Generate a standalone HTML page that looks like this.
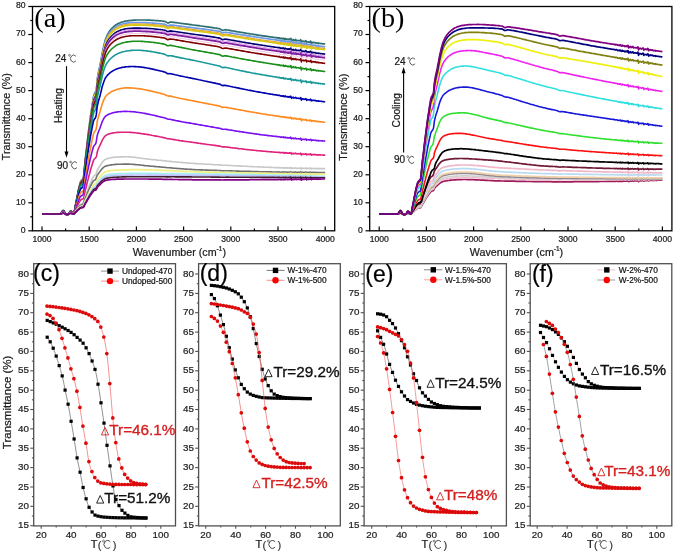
<!DOCTYPE html>
<html><head><meta charset="utf-8"><title>figure</title>
<style>html,body{margin:0;padding:0;background:#fff;overflow:hidden}svg{display:block;will-change:transform}</style>
</head><body>
<svg width="675" height="555" viewBox="0 0 675 555">
<rect width="675" height="555" fill="#fff"/>
<polyline points="42,214 42.9,214 43.9,214 44.8,214 45.8,214 46.7,214 47.7,214 48.6,214 49.6,214 50.5,214 51.4,214 52.4,214 53.3,214 54.3,214 55.2,214 56.2,214 57.1,214 58,214 59,214 59.9,214 60.9,213.7 61.8,212.5 62.8,210.7 63.7,210.7 64.7,212.7 65.6,214.1 66.5,214.7 67.5,214.7 68.4,214.3 69.4,213.2 70.3,211.3 71.3,211.3 72.2,213 73.2,213.9 74.1,213.5 75,208.2 75.5,205.4 76,202.9 76.5,200.4 76.9,197.9 77.4,195.5 77.9,193.1 78.3,190.7 78.8,188.4 79.3,186.3 79.8,184.4 80.2,182.7 80.7,181.4 81.2,180.6 81.6,180.1 82.1,179.6 82.6,179.2 83.1,178.7 83.5,177.6 84,173.2 84.5,167.9 85,162.4 85.4,158.1 85.9,154.2 86.4,150.3 86.8,146.2 87.3,141.9 87.8,137.7 88.3,133.7 88.7,129.9 89.2,126.2 89.7,122.6 90.1,119.1 90.6,115.7 91.1,112.3 91.6,109.1 92,106.1 92.5,103.1 93,100.1 93.4,97.4 93.9,95.2 94.4,93.8 94.9,92.9 95.3,92.1 95.8,91.2 96.3,89.7 96.8,85.4 97.2,80.1 97.7,76.7 98.2,73.9 98.6,71.6 99.1,69.4 99.6,67.3 100.1,65.1 100.5,62.7 101,60.2 101.5,57.5 101.9,54.9 102.4,52.3 102.9,49.9 103.4,47.7 103.8,45.7 104.3,43.7 104.8,41.9 105.2,40.2 105.7,38.8 106.2,37.5 106.7,36.4 107.1,35.3 107.6,34.4 108.1,33.5 108.6,32.7 109,32 109.5,31.3 110,30.6 110.4,30 110.9,29.4 111.4,28.9 111.9,28.4 112.3,27.9 112.8,27.5 113.3,27 113.7,26.6 114.2,26.2 114.7,25.8 115.2,25.5 115.6,25.1 116.1,24.8 116.6,24.5 117,24.2 117.5,23.9 118.7,23.4 119.8,22.9 120.9,22.4 122.1,22 123.2,21.7 124.3,21.4 125.4,21.2 126.6,21 127.7,20.8 128.8,20.6 130,20.5 131.1,20.4 132.2,20.3 133.4,20.2 134.5,20.1 135.6,20.1 136.8,20 137.9,20 139,20 140.2,20 141.3,20 142.4,20 143.6,20 144.7,20 145.8,20 147,20.1 148.1,20.1 149.2,20.1 150.4,20.2 151.5,20.3 152.6,20.3 153.8,20.4 154.9,20.5 156,20.6 157.2,20.6 158.3,20.7 159.4,20.8 160.6,20.9 161.7,21 162.8,21.1 164,21.3 165.1,21.5 166.2,22.1 167.4,22.9 168.5,22.9 169.6,22.3 170.8,22.1 171.9,22.2 173,22.3 174.2,22.4 175.3,22.6 176.4,22.7 177.6,22.9 178.7,23 179.8,23.2 181,23.3 182.1,23.5 183.2,23.6 184.4,23.8 185.5,23.9 186.6,24.1 187.8,24.2 188.9,24.4 190,24.6 191.2,24.7 192.3,24.9 193.4,25 194.6,25.2 195.7,25.3 196.8,25.4 197.9,25.6 199.1,25.7 200.2,25.9 201.3,26 202.5,26.2 203.6,26.3 204.7,26.5 205.9,26.6 207,26.8 208.1,26.9 209.3,27.1 210.4,27.3 211.5,27.4 212.7,27.6 213.8,27.8 214.9,28 216.1,28.1 217.2,28.3 218.3,28.5 219.5,28.7 220.6,29.2 221.7,30 222.9,30.4 224,30 225.1,29.7 226.3,29.8 227.4,30 228.5,30.2 229.7,30.4 230.8,30.6 231.9,30.8 233.1,31 234.2,31.2 235.3,31.4 236.5,31.6 237.6,31.8 238.7,32 239.9,32.1 241,32.3 242.1,32.5 243.3,32.7 244.4,32.9 245.5,33.1 246.7,33.3 247.8,33.5 248.9,33.7 250.1,33.9 251.2,34 252.3,34.2 253.5,34.4 254.6,34.6 255.7,34.7 256.9,34.9 258,35.1 259.1,35.3 260.3,35.4 261.4,35.6 262.5,35.8 263.7,35.9 264.8,36.1 265.9,36.2 267,36.4 268.2,36.6 268.6,36.6 268.9,36.7 269.3,36.7 269.7,36.8 270.1,36.8 270.4,36.9 270.8,36.9 271.2,37 271.6,37 272,37.1 272.3,37.2 272.7,37.2 273.1,37.3 273.5,37.3 273.8,37.4 274.2,37.4 274.6,37.5 275,37.5 275.4,37.6 275.7,37.6 276.1,37.7 276.5,37.5 276.9,37.8 277.2,37.8 277.6,37.8 278,38.1 278.4,38.1 278.8,37.8 279.1,37.9 279.5,37.8 279.9,38.1 280.3,38.7 280.6,38.4 281,38.5 281.4,38.4 281.8,38.8 282.2,38.3 282.5,38.7 282.9,38.7 283.3,38.1 283.7,38.8 284,39.4 284.4,39.3 284.8,38.8 285.2,38.3 285.6,39.2 285.9,39 286.3,39.1 286.7,38.9 287.1,39 287.4,39.5 287.8,39.7 288.2,39.5 288.6,39.1 289,39.6 289.3,39.5 289.7,39 290.1,39.7 290.5,39.3 290.8,38.3 291.2,39.8 291.6,41 292,40.4 292.3,40.1 292.7,39.9 293.1,39.5 293.5,39.8 293.9,40.6 294.2,40.2 294.6,40.4 295,40.1 295.4,39.7 295.7,39.5 296.1,40.8 296.5,40.9 296.9,40.6 297.3,40.6 297.6,40.5 298,40.4 298.4,40.6 298.8,40.8 299.1,40.6 299.5,40.8 299.9,40.9 300.3,40.8 300.7,39.7 301,40.6 301.4,43 301.8,41.8 302.2,41.2 302.5,41.3 302.9,41.1 303.3,41.3 303.7,41.3 304.1,41.9 304.4,41.5 304.8,41.4 305.2,41.3 305.6,41 305.9,40.7 306.3,41.9 306.7,42.9 307.1,42 307.5,41.9 307.8,41.8 308.2,42 308.6,42 309,42.3 309.3,42 309.7,42.2 310.1,42 310.5,41.2 310.9,41.5 311.2,43.2 311.6,43.4 312,42.5 312.4,42.4 312.7,42.6 313.1,42.7 313.5,42.3 313.9,42.7 314.2,42.6 314.6,42.7 315,42.7 315.4,42.5 315.8,42.9 316.1,43.4 316.5,43.1 316.9,43.3 317.3,43.2 317.6,43.2 318,42.9 318.4,43.7 318.8,43.3 319.2,43.3 319.5,43.4 319.9,43.4 320.3,43.5 320.7,43.5 321,43.6 321.4,43.6 321.8,43.7 322.2,43.7 322.6,43.8 322.9,43.8 323.3,43.8 323.7,43.9 324.1,43.9 324.4,44 324.8,44 325.2,44.1" fill="none" stroke="#2f6f6f" stroke-width="1.7" stroke-linejoin="round"/>
<polyline points="42,214 42.9,214 43.9,214 44.8,214 45.8,214 46.7,214 47.7,214 48.6,214 49.6,214 50.5,214 51.4,214 52.4,214 53.3,214 54.3,214 55.2,214 56.2,214 57.1,214 58,214 59,214 59.9,214 60.9,213.7 61.8,212.5 62.8,210.7 63.7,210.7 64.7,212.7 65.6,214.1 66.5,214.7 67.5,214.7 68.4,214.3 69.4,213.2 70.3,211.3 71.3,211.3 72.2,213 73.2,213.9 74.1,213.6 75,208.3 75.5,205.5 76,203 76.5,200.5 76.9,198 77.4,195.6 77.9,193.3 78.3,190.9 78.8,188.6 79.3,186.5 79.8,184.7 80.2,183 80.7,181.7 81.2,180.9 81.6,180.4 82.1,179.9 82.6,179.5 83.1,179 83.5,177.9 84,173.5 84.5,168.3 85,162.9 85.4,158.6 85.9,154.7 86.4,150.9 86.8,146.8 87.3,142.5 87.8,138.3 88.3,134.4 88.7,130.6 89.2,127 89.7,123.4 90.1,119.9 90.6,116.5 91.1,113.2 91.6,110 92,107 92.5,104.1 93,101.1 93.4,98.4 93.9,96.2 94.4,94.9 94.9,94 95.3,93.2 95.8,92.2 96.3,90.8 96.8,86.5 97.2,81.3 97.7,77.9 98.2,75.2 98.6,72.8 99.1,70.7 99.6,68.6 100.1,66.4 100.5,64 101,61.5 101.5,58.9 101.9,56.3 102.4,53.8 102.9,51.4 103.4,49.2 103.8,47.2 104.3,45.2 104.8,43.4 105.2,41.8 105.7,40.3 106.2,39.1 106.7,38 107.1,36.9 107.6,35.9 108.1,35.1 108.6,34.3 109,33.6 109.5,32.9 110,32.3 110.4,31.7 110.9,31.1 111.4,30.6 111.9,30.1 112.3,29.7 112.8,29.2 113.3,28.8 113.7,28.4 114.2,28 114.7,27.7 115.2,27.3 115.6,27 116.1,26.6 116.6,26.3 117,26.1 117.5,25.8 118.7,25.3 119.8,24.8 120.9,24.4 122.1,24.1 123.2,23.7 124.3,23.5 125.4,23.3 126.6,23.1 127.7,23 128.8,22.8 130,22.7 131.1,22.6 132.2,22.6 133.4,22.5 134.5,22.5 135.6,22.5 136.8,22.5 137.9,22.5 139,22.5 140.2,22.5 141.3,22.5 142.4,22.6 143.6,22.6 144.7,22.7 145.8,22.7 147,22.8 148.1,22.8 149.2,22.9 150.4,23 151.5,23 152.6,23.1 153.8,23.2 154.9,23.3 156,23.4 157.2,23.5 158.3,23.6 159.4,23.7 160.6,23.8 161.7,23.9 162.8,24 164,24.2 165.1,24.4 166.2,25 167.4,25.8 168.5,25.8 169.6,25.2 170.8,25 171.9,25.1 173,25.2 174.2,25.3 175.3,25.5 176.4,25.6 177.6,25.8 178.7,25.9 179.8,26.1 181,26.2 182.1,26.4 183.2,26.5 184.4,26.7 185.5,26.8 186.6,27 187.8,27.1 188.9,27.3 190,27.4 191.2,27.6 192.3,27.7 193.4,27.8 194.6,28 195.7,28.1 196.8,28.3 197.9,28.4 199.1,28.5 200.2,28.7 201.3,28.8 202.5,28.9 203.6,29.1 204.7,29.2 205.9,29.4 207,29.5 208.1,29.7 209.3,29.8 210.4,30 211.5,30.1 212.7,30.3 213.8,30.5 214.9,30.6 216.1,30.8 217.2,31 218.3,31.1 219.5,31.3 220.6,31.8 221.7,32.6 222.9,32.9 224,32.5 225.1,32.3 226.3,32.4 227.4,32.5 228.5,32.7 229.7,32.9 230.8,33.1 231.9,33.2 233.1,33.4 234.2,33.6 235.3,33.8 236.5,34 237.6,34.1 238.7,34.3 239.9,34.5 241,34.7 242.1,34.9 243.3,35.1 244.4,35.2 245.5,35.4 246.7,35.6 247.8,35.8 248.9,35.9 250.1,36.1 251.2,36.3 252.3,36.5 253.5,36.7 254.6,36.8 255.7,37 256.9,37.2 258,37.3 259.1,37.5 260.3,37.7 261.4,37.8 262.5,38 263.7,38.2 264.8,38.3 265.9,38.5 267,38.7 268.2,38.8 268.6,38.9 268.9,38.9 269.3,39 269.7,39 270.1,39.1 270.4,39.1 270.8,39.2 271.2,39.3 271.6,39.3 272,39.4 272.3,39.4 272.7,39.5 273.1,39.5 273.5,39.6 273.8,39.6 274.2,39.7 274.6,39.7 275,39.8 275.4,39.9 275.7,39.9 276.1,40 276.5,39.8 276.9,40 277.2,40.1 277.6,40.1 278,40.4 278.4,40.4 278.8,40.1 279.1,40.2 279.5,40.1 279.9,40.4 280.3,41 280.6,40.7 281,40.8 281.4,40.7 281.8,41.1 282.2,40.6 282.5,41 282.9,41 283.3,40.4 283.7,41.1 284,41.7 284.4,41.6 284.8,41.2 285.2,40.6 285.6,41.5 285.9,41.3 286.3,41.5 286.7,41.3 287.1,41.4 287.4,41.8 287.8,42.1 288.2,41.9 288.6,41.5 289,41.9 289.3,41.8 289.7,41.4 290.1,42.1 290.5,41.7 290.8,40.7 291.2,42.1 291.6,43.4 292,42.7 292.3,42.4 292.7,42.3 293.1,41.9 293.5,42.2 293.9,43 294.2,42.6 294.6,42.8 295,42.5 295.4,42.1 295.7,41.9 296.1,43.2 296.5,43.3 296.9,43 297.3,43 297.6,43 298,42.9 298.4,43 298.8,43.3 299.1,43 299.5,43.3 299.9,43.4 300.3,43.2 300.7,42.1 301,43.1 301.4,45.4 301.8,44.3 302.2,43.6 302.5,43.8 302.9,43.6 303.3,43.8 303.7,43.8 304.1,44.4 304.4,44 304.8,43.9 305.2,43.8 305.6,43.5 305.9,43.2 306.3,44.5 306.7,45.4 307.1,44.5 307.5,44.4 307.8,44.3 308.2,44.5 308.6,44.5 309,44.9 309.3,44.6 309.7,44.8 310.1,44.6 310.5,43.8 310.9,44.1 311.2,45.7 311.6,46 312,45 312.4,45 312.7,45.3 313.1,45.3 313.5,45 313.9,45.3 314.2,45.2 314.6,45.3 315,45.4 315.4,45.2 315.8,45.6 316.1,46.1 316.5,45.8 316.9,46 317.3,45.9 317.6,45.9 318,45.6 318.4,46.4 318.8,46 319.2,46 319.5,46.1 319.9,46.2 320.3,46.2 320.7,46.3 321,46.3 321.4,46.4 321.8,46.4 322.2,46.5 322.6,46.5 322.9,46.6 323.3,46.6 323.7,46.7 324.1,46.7 324.4,46.8 324.8,46.8 325.2,46.9" fill="none" stroke="#6a9ae8" stroke-width="1.7" stroke-linejoin="round"/>
<polyline points="42,214 42.9,214 43.9,214 44.8,214 45.8,214 46.7,214 47.7,214 48.6,214 49.6,214 50.5,214 51.4,214 52.4,214 53.3,214 54.3,214 55.2,214 56.2,214 57.1,214 58,214 59,214 59.9,214 60.9,213.7 61.8,212.5 62.8,210.7 63.7,210.7 64.7,212.7 65.6,214.1 66.5,214.7 67.5,214.7 68.4,214.3 69.4,213.2 70.3,211.3 71.3,211.3 72.2,213 73.2,213.9 74.1,213.6 75,208.3 75.5,205.5 76,203.1 76.5,200.6 76.9,198.2 77.4,195.8 77.9,193.4 78.3,191 78.8,188.8 79.3,186.7 79.8,184.9 80.2,183.2 80.7,181.9 81.2,181.2 81.6,180.6 82.1,180.1 82.6,179.7 83.1,179.3 83.5,178.2 84,173.8 84.5,168.6 85,163.2 85.4,159 85.9,155.2 86.4,151.4 86.8,147.3 87.3,143 87.8,138.9 88.3,135 88.7,131.3 89.2,127.6 89.7,124.1 90.1,120.6 90.6,117.2 91.1,113.9 91.6,110.8 92,107.8 92.5,104.9 93,101.9 93.4,99.2 93.9,97.1 94.4,95.7 94.9,94.9 95.3,94.1 95.8,93.1 96.3,91.7 96.8,87.5 97.2,82.3 97.7,78.9 98.2,76.2 98.6,73.9 99.1,71.7 99.6,69.6 100.1,67.5 100.5,65.2 101,62.6 101.5,60.1 101.9,57.5 102.4,55 102.9,52.6 103.4,50.4 103.8,48.4 104.3,46.5 104.8,44.7 105.2,43.1 105.7,41.6 106.2,40.4 106.7,39.3 107.1,38.2 107.6,37.3 108.1,36.4 108.6,35.6 109,34.9 109.5,34.3 110,33.6 110.4,33 110.9,32.5 111.4,32 111.9,31.5 112.3,31 112.8,30.6 113.3,30.2 113.7,29.8 114.2,29.4 114.7,29 115.2,28.7 115.6,28.3 116.1,28 116.6,27.7 117,27.4 117.5,27.2 118.7,26.7 119.8,26.2 120.9,25.8 122.1,25.4 123.2,25.1 124.3,24.9 125.4,24.7 126.6,24.5 127.7,24.4 128.8,24.2 130,24.1 131.1,24 132.2,24 133.4,23.9 134.5,23.9 135.6,23.9 136.8,23.9 137.9,23.9 139,23.9 140.2,23.9 141.3,24 142.4,24 143.6,24 144.7,24.1 145.8,24.1 147,24.2 148.1,24.2 149.2,24.3 150.4,24.4 151.5,24.5 152.6,24.6 153.8,24.6 154.9,24.7 156,24.8 157.2,24.9 158.3,25 159.4,25.2 160.6,25.3 161.7,25.4 162.8,25.5 164,25.6 165.1,25.9 166.2,26.5 167.4,27.3 168.5,27.2 169.6,26.7 170.8,26.5 171.9,26.6 173,26.7 174.2,26.9 175.3,27 176.4,27.2 177.6,27.3 178.7,27.5 179.8,27.6 181,27.8 182.1,28 183.2,28.1 184.4,28.3 185.5,28.4 186.6,28.6 187.8,28.7 188.9,28.9 190,29 191.2,29.2 192.3,29.3 193.4,29.5 194.6,29.6 195.7,29.8 196.8,29.9 197.9,30.1 199.1,30.2 200.2,30.4 201.3,30.5 202.5,30.6 203.6,30.8 204.7,30.9 205.9,31.1 207,31.2 208.1,31.4 209.3,31.6 210.4,31.7 211.5,31.9 212.7,32.1 213.8,32.2 214.9,32.4 216.1,32.6 217.2,32.7 218.3,32.9 219.5,33.1 220.6,33.6 221.7,34.4 222.9,34.7 224,34.3 225.1,34.1 226.3,34.2 227.4,34.4 228.5,34.6 229.7,34.7 230.8,34.9 231.9,35.1 233.1,35.3 234.2,35.5 235.3,35.7 236.5,35.9 237.6,36 238.7,36.2 239.9,36.4 241,36.6 242.1,36.8 243.3,37 244.4,37.2 245.5,37.3 246.7,37.5 247.8,37.7 248.9,37.9 250.1,38.1 251.2,38.3 252.3,38.4 253.5,38.6 254.6,38.8 255.7,39 256.9,39.1 258,39.3 259.1,39.5 260.3,39.6 261.4,39.8 262.5,40 263.7,40.1 264.8,40.3 265.9,40.5 267,40.6 268.2,40.8 268.6,40.8 268.9,40.9 269.3,40.9 269.7,41 270.1,41 270.4,41.1 270.8,41.2 271.2,41.2 271.6,41.3 272,41.3 272.3,41.4 272.7,41.4 273.1,41.5 273.5,41.5 273.8,41.6 274.2,41.6 274.6,41.7 275,41.7 275.4,41.8 275.7,41.9 276.1,41.9 276.5,41.8 276.9,42 277.2,42 277.6,42 278,42.4 278.4,42.4 278.8,42 279.1,42.1 279.5,42.1 279.9,42.4 280.3,43 280.6,42.6 281,42.7 281.4,42.6 281.8,43 282.2,42.5 282.5,42.9 282.9,42.9 283.3,42.3 283.7,43 284,43.6 284.4,43.5 284.8,43.1 285.2,42.5 285.6,43.5 285.9,43.2 286.3,43.4 286.7,43.2 287.1,43.3 287.4,43.7 287.8,44 288.2,43.8 288.6,43.4 289,43.8 289.3,43.7 289.7,43.3 290.1,44 290.5,43.6 290.8,42.6 291.2,44 291.6,45.3 292,44.6 292.3,44.3 292.7,44.2 293.1,43.8 293.5,44.1 293.9,44.9 294.2,44.5 294.6,44.6 295,44.4 295.4,44 295.7,43.8 296.1,45 296.5,45.2 296.9,44.9 297.3,44.9 297.6,44.8 298,44.7 298.4,44.9 298.8,45.1 299.1,44.9 299.5,45.1 299.9,45.2 300.3,45.1 300.7,44 301,44.9 301.4,47.3 301.8,46.2 302.2,45.5 302.5,45.6 302.9,45.4 303.3,45.6 303.7,45.7 304.1,46.2 304.4,45.9 304.8,45.8 305.2,45.6 305.6,45.4 305.9,45 306.3,46.3 306.7,47.3 307.1,46.4 307.5,46.2 307.8,46.1 308.2,46.4 308.6,46.3 309,46.7 309.3,46.4 309.7,46.6 310.1,46.4 310.5,45.6 310.9,45.9 311.2,47.5 311.6,47.8 312,46.8 312.4,46.8 312.7,47 313.1,47.1 313.5,46.7 313.9,47.1 314.2,47 314.6,47.1 315,47.2 315.4,46.9 315.8,47.3 316.1,47.8 316.5,47.5 316.9,47.7 317.3,47.6 317.6,47.6 318,47.4 318.4,48.1 318.8,47.7 319.2,47.8 319.5,47.8 319.9,47.9 320.3,47.9 320.7,48 321,48 321.4,48.1 321.8,48.1 322.2,48.2 322.6,48.2 322.9,48.3 323.3,48.3 323.7,48.4 324.1,48.4 324.4,48.5 324.8,48.5 325.2,48.6" fill="none" stroke="#e8a040" stroke-width="1.2" stroke-linejoin="round"/>
<polyline points="42,214 42.9,214 43.9,214 44.8,214 45.8,214 46.7,214 47.7,214 48.6,214 49.6,214 50.5,214 51.4,214 52.4,214 53.3,214 54.3,214 55.2,214 56.2,214 57.1,214 58,214 59,214 59.9,214 60.9,213.7 61.8,212.5 62.8,210.7 63.7,210.7 64.7,212.7 65.6,214.1 66.5,214.7 67.5,214.7 68.4,214.3 69.4,213.2 70.3,211.3 71.3,211.3 72.2,213 73.2,213.9 74.1,213.6 75,208.4 75.5,205.6 76,203.2 76.5,200.7 76.9,198.2 77.4,195.9 77.9,193.5 78.3,191.2 78.8,188.9 79.3,186.9 79.8,185.1 80.2,183.4 80.7,182.1 81.2,181.4 81.6,180.8 82.1,180.3 82.6,179.9 83.1,179.5 83.5,178.4 84,174.1 84.5,168.9 85,163.5 85.4,159.3 85.9,155.5 86.4,151.7 86.8,147.7 87.3,143.5 87.8,139.4 88.3,135.5 88.7,131.8 89.2,128.1 89.7,124.6 90.1,121.2 90.6,117.8 91.1,114.5 91.6,111.4 92,108.5 92.5,105.5 93,102.6 93.4,99.9 93.9,97.8 94.4,96.4 94.9,95.6 95.3,94.8 95.8,93.9 96.3,92.4 96.8,88.2 97.2,83.1 97.7,79.7 98.2,77 98.6,74.7 99.1,72.6 99.6,70.5 100.1,68.4 100.5,66 101,63.5 101.5,61 101.9,58.4 102.4,55.9 102.9,53.5 103.4,51.4 103.8,49.4 104.3,47.5 104.8,45.7 105.2,44.1 105.7,42.7 106.2,41.4 106.7,40.3 107.1,39.3 107.6,38.3 108.1,37.5 108.6,36.7 109,36 109.5,35.3 110,34.7 110.4,34.1 110.9,33.6 111.4,33.1 111.9,32.6 112.3,32.1 112.8,31.7 113.3,31.3 113.7,30.9 114.2,30.5 114.7,30.1 115.2,29.8 115.6,29.4 116.1,29.1 116.6,28.8 117,28.5 117.5,28.3 118.7,27.8 119.8,27.3 120.9,26.9 122.1,26.6 123.2,26.3 124.3,26 125.4,25.8 126.6,25.6 127.7,25.5 128.8,25.3 130,25.2 131.1,25.1 132.2,25.1 133.4,25 134.5,25 135.6,25 136.8,25 137.9,25 139,25 140.2,25 141.3,25.1 142.4,25.1 143.6,25.1 144.7,25.2 145.8,25.2 147,25.3 148.1,25.4 149.2,25.4 150.4,25.5 151.5,25.6 152.6,25.7 153.8,25.8 154.9,25.9 156,26 157.2,26.1 158.3,26.2 159.4,26.3 160.6,26.4 161.7,26.5 162.8,26.6 164,26.8 165.1,27 166.2,27.6 167.4,28.4 168.5,28.4 169.6,27.8 170.8,27.6 171.9,27.7 173,27.9 174.2,28 175.3,28.2 176.4,28.3 177.6,28.5 178.7,28.6 179.8,28.8 181,28.9 182.1,29.1 183.2,29.2 184.4,29.4 185.5,29.5 186.6,29.7 187.8,29.8 188.9,30 190,30.2 191.2,30.3 192.3,30.5 193.4,30.6 194.6,30.8 195.7,30.9 196.8,31.1 197.9,31.2 199.1,31.3 200.2,31.5 201.3,31.6 202.5,31.8 203.6,31.9 204.7,32.1 205.9,32.2 207,32.4 208.1,32.5 209.3,32.7 210.4,32.8 211.5,33 212.7,33.2 213.8,33.3 214.9,33.5 216.1,33.7 217.2,33.9 218.3,34 219.5,34.3 220.6,34.7 221.7,35.5 222.9,35.9 224,35.5 225.1,35.2 226.3,35.3 227.4,35.5 228.5,35.7 229.7,35.9 230.8,36 231.9,36.2 233.1,36.4 234.2,36.6 235.3,36.8 236.5,37 237.6,37.2 238.7,37.4 239.9,37.5 241,37.7 242.1,37.9 243.3,38.1 244.4,38.3 245.5,38.5 246.7,38.7 247.8,38.8 248.9,39 250.1,39.2 251.2,39.4 252.3,39.6 253.5,39.7 254.6,39.9 255.7,40.1 256.9,40.3 258,40.4 259.1,40.6 260.3,40.8 261.4,40.9 262.5,41.1 263.7,41.2 264.8,41.4 265.9,41.6 267,41.7 268.2,41.9 268.6,42 268.9,42 269.3,42.1 269.7,42.1 270.1,42.2 270.4,42.2 270.8,42.3 271.2,42.3 271.6,42.4 272,42.4 272.3,42.5 272.7,42.5 273.1,42.6 273.5,42.7 273.8,42.7 274.2,42.8 274.6,42.8 275,42.9 275.4,42.9 275.7,43 276.1,43 276.5,42.9 276.9,43.1 277.2,43.1 277.6,43.1 278,43.5 278.4,43.5 278.8,43.1 279.1,43.3 279.5,43.2 279.9,43.5 280.3,44.1 280.6,43.8 281,43.9 281.4,43.7 281.8,44.1 282.2,43.6 282.5,44 282.9,44 283.3,43.5 283.7,44.2 284,44.7 284.4,44.6 284.8,44.2 285.2,43.7 285.6,44.6 285.9,44.4 286.3,44.5 286.7,44.3 287.1,44.4 287.4,44.8 287.8,45.1 288.2,44.9 288.6,44.5 289,45 289.3,44.9 289.7,44.4 290.1,45.1 290.5,44.7 290.8,43.7 291.2,45.2 291.6,46.4 292,45.7 292.3,45.5 292.7,45.3 293.1,44.9 293.5,45.2 293.9,46 294.2,45.6 294.6,45.8 295,45.5 295.4,45.2 295.7,44.9 296.1,46.2 296.5,46.3 296.9,46 297.3,46 297.6,46 298,45.9 298.4,46 298.8,46.2 299.1,46 299.5,46.3 299.9,46.3 300.3,46.2 300.7,45.1 301,46.1 301.4,48.4 301.8,47.3 302.2,46.6 302.5,46.7 302.9,46.6 303.3,46.7 303.7,46.8 304.1,47.3 304.4,47 304.8,46.9 305.2,46.8 305.6,46.5 305.9,46.2 306.3,47.4 306.7,48.4 307.1,47.5 307.5,47.4 307.8,47.2 308.2,47.5 308.6,47.5 309,47.8 309.3,47.5 309.7,47.7 310.1,47.5 310.5,46.7 310.9,47 311.2,48.6 311.6,48.9 312,48 312.4,47.9 312.7,48.2 313.1,48.2 313.5,47.9 313.9,48.2 314.2,48.1 314.6,48.2 315,48.3 315.4,48 315.8,48.4 316.1,49 316.5,48.6 316.9,48.8 317.3,48.8 317.6,48.7 318,48.5 318.4,49.2 318.8,48.9 319.2,48.9 319.5,49 319.9,49 320.3,49 320.7,49.1 321,49.1 321.4,49.2 321.8,49.2 322.2,49.3 322.6,49.3 322.9,49.4 323.3,49.4 323.7,49.5 324.1,49.5 324.4,49.6 324.8,49.6 325.2,49.7" fill="none" stroke="#d8c818" stroke-width="1.8" stroke-linejoin="round"/>
<polyline points="42,214 42.9,214 43.9,214 44.8,214 45.8,214 46.7,214 47.7,214 48.6,214 49.6,214 50.5,214 51.4,214 52.4,214 53.3,214 54.3,214 55.2,214 56.2,214 57.1,214 58,214 59,214 59.9,214 60.9,213.7 61.8,212.5 62.8,210.7 63.7,210.7 64.7,212.7 65.6,214.1 66.5,214.7 67.5,214.7 68.4,214.3 69.4,213.2 70.3,211.3 71.3,211.3 72.2,213 73.2,213.9 74.1,213.6 75,208.5 75.5,205.7 76,203.4 76.5,200.9 76.9,198.5 77.4,196.2 77.9,193.9 78.3,191.6 78.8,189.4 79.3,187.4 79.8,185.6 80.2,184 80.7,182.7 81.2,182 81.6,181.4 82.1,180.9 82.6,180.6 83.1,180.1 83.5,179.1 84,174.8 84.5,169.7 85,164.4 85.4,160.3 85.9,156.6 86.4,152.9 86.8,148.9 87.3,144.7 87.8,140.7 88.3,136.9 88.7,133.2 89.2,129.7 89.7,126.2 90.1,122.9 90.6,119.6 91.1,116.3 91.6,113.2 92,110.4 92.5,107.5 93,104.6 93.4,102 93.9,99.9 94.4,98.6 94.9,97.7 95.3,96.9 95.8,96 96.3,94.6 96.8,90.5 97.2,85.4 97.7,82.1 98.2,79.5 98.6,77.2 99.1,75.1 99.6,73.1 100.1,71 100.5,68.7 101,66.3 101.5,63.7 101.9,61.2 102.4,58.8 102.9,56.4 103.4,54.3 103.8,52.4 104.3,50.5 104.8,48.7 105.2,47.1 105.7,45.8 106.2,44.6 106.7,43.4 107.1,42.4 107.6,41.5 108.1,40.7 108.6,39.9 109,39.2 109.5,38.5 110,37.9 110.4,37.3 110.9,36.8 111.4,36.3 111.9,35.8 112.3,35.3 112.8,34.9 113.3,34.5 113.7,34.1 114.2,33.7 114.7,33.3 115.2,33 115.6,32.6 116.1,32.3 116.6,32 117,31.7 117.5,31.5 118.7,31 119.8,30.5 120.9,30.1 122.1,29.7 123.2,29.4 124.3,29.1 125.4,28.9 126.6,28.8 127.7,28.6 128.8,28.5 130,28.3 131.1,28.2 132.2,28.2 133.4,28.1 134.5,28.1 135.6,28.1 136.8,28.1 137.9,28.1 139,28.1 140.2,28.1 141.3,28.2 142.4,28.2 143.6,28.2 144.7,28.3 145.8,28.4 147,28.4 148.1,28.5 149.2,28.6 150.4,28.6 151.5,28.7 152.6,28.8 153.8,28.9 154.9,29 156,29.1 157.2,29.2 158.3,29.4 159.4,29.5 160.6,29.6 161.7,29.7 162.8,29.9 164,30 165.1,30.3 166.2,30.9 167.4,31.6 168.5,31.6 169.6,31.1 170.8,30.9 171.9,31.1 173,31.2 174.2,31.4 175.3,31.5 176.4,31.7 177.6,31.9 178.7,32 179.8,32.2 181,32.4 182.1,32.5 183.2,32.7 184.4,32.9 185.5,33 186.6,33.2 187.8,33.4 188.9,33.5 190,33.7 191.2,33.9 192.3,34 193.4,34.2 194.6,34.4 195.7,34.5 196.8,34.7 197.9,34.8 199.1,35 200.2,35.1 201.3,35.3 202.5,35.4 203.6,35.6 204.7,35.8 205.9,35.9 207,36.1 208.1,36.3 209.3,36.4 210.4,36.6 211.5,36.8 212.7,36.9 213.8,37.1 214.9,37.3 216.1,37.5 217.2,37.7 218.3,37.9 219.5,38.1 220.6,38.6 221.7,39.4 222.9,39.7 224,39.3 225.1,39.1 226.3,39.2 227.4,39.4 228.5,39.6 229.7,39.8 230.8,40 231.9,40.2 233.1,40.4 234.2,40.6 235.3,40.8 236.5,41 237.6,41.2 238.7,41.4 239.9,41.6 241,41.8 242.1,42 243.3,42.2 244.4,42.4 245.5,42.6 246.7,42.8 247.8,43 248.9,43.1 250.1,43.3 251.2,43.5 252.3,43.7 253.5,43.9 254.6,44.1 255.7,44.3 256.9,44.4 258,44.6 259.1,44.8 260.3,45 261.4,45.1 262.5,45.3 263.7,45.5 264.8,45.6 265.9,45.8 267,46 268.2,46.2 268.6,46.2 268.9,46.3 269.3,46.3 269.7,46.4 270.1,46.4 270.4,46.5 270.8,46.6 271.2,46.6 271.6,46.7 272,46.7 272.3,46.8 272.7,46.8 273.1,46.9 273.5,46.9 273.8,47 274.2,47.1 274.6,47.1 275,47.2 275.4,47.2 275.7,47.3 276.1,47.3 276.5,47.2 276.9,47.4 277.2,47.5 277.6,47.5 278,47.8 278.4,47.8 278.8,47.5 279.1,47.6 279.5,47.5 279.9,47.8 280.3,48.4 280.6,48.1 281,48.2 281.4,48.1 281.8,48.4 282.2,48 282.5,48.4 282.9,48.4 283.3,47.8 283.7,48.5 284,49.1 284.4,49 284.8,48.5 285.2,48 285.6,48.9 285.9,48.7 286.3,48.9 286.7,48.7 287.1,48.8 287.4,49.2 287.8,49.5 288.2,49.3 288.6,48.9 289,49.3 289.3,49.2 289.7,48.8 290.1,49.5 290.5,49.1 290.8,48.1 291.2,49.5 291.6,50.8 292,50.1 292.3,49.8 292.7,49.7 293.1,49.3 293.5,49.6 293.9,50.4 294.2,50 294.6,50.2 295,49.9 295.4,49.6 295.7,49.3 296.1,50.6 296.5,50.7 296.9,50.4 297.3,50.4 297.6,50.4 298,50.3 298.4,50.4 298.8,50.7 299.1,50.4 299.5,50.7 299.9,50.8 300.3,50.6 300.7,49.6 301,50.5 301.4,52.8 301.8,51.7 302.2,51 302.5,51.2 302.9,51 303.3,51.2 303.7,51.2 304.1,51.8 304.4,51.4 304.8,51.3 305.2,51.2 305.6,50.9 305.9,50.6 306.3,51.8 306.7,52.8 307.1,51.9 307.5,51.8 307.8,51.7 308.2,51.9 308.6,51.9 309,52.3 309.3,52 309.7,52.2 310.1,52 310.5,51.2 310.9,51.5 311.2,53.1 311.6,53.3 312,52.4 312.4,52.4 312.7,52.6 313.1,52.7 313.5,52.3 313.9,52.7 314.2,52.6 314.6,52.7 315,52.7 315.4,52.5 315.8,52.9 316.1,53.4 316.5,53.1 316.9,53.3 317.3,53.2 317.6,53.2 318,53 318.4,53.7 318.8,53.3 319.2,53.4 319.5,53.4 319.9,53.5 320.3,53.5 320.7,53.6 321,53.6 321.4,53.7 321.8,53.7 322.2,53.8 322.6,53.8 322.9,53.9 323.3,53.9 323.7,54 324.1,54 324.4,54.1 324.8,54.1 325.2,54.2" fill="none" stroke="#000070" stroke-width="1.6" stroke-linejoin="round"/>
<polyline points="42,214 42.9,214 43.9,214 44.8,214 45.8,214 46.7,214 47.7,214 48.6,214 49.6,214 50.5,214 51.4,214 52.4,214 53.3,214 54.3,214 55.2,214 56.2,214 57.1,214 58,214 59,214 59.9,214 60.9,213.7 61.8,212.5 62.8,210.7 63.7,210.7 64.7,212.7 65.6,214.1 66.5,214.7 67.5,214.7 68.4,214.3 69.4,213.2 70.3,211.3 71.3,211.3 72.2,213 73.2,213.9 74.1,213.6 75,208.5 75.5,205.8 76,203.4 76.5,201 76.9,198.7 77.4,196.3 77.9,194.1 78.3,191.8 78.8,189.6 79.3,187.6 79.8,185.8 80.2,184.2 80.7,182.9 81.2,182.2 81.6,181.7 82.1,181.2 82.6,180.8 83.1,180.4 83.5,179.3 84,175.1 84.5,170.1 85,164.8 85.4,160.7 85.9,157 86.4,153.3 86.8,149.3 87.3,145.3 87.8,141.3 88.3,137.5 88.7,133.8 89.2,130.3 89.7,126.9 90.1,123.5 90.6,120.2 91.1,117 91.6,114 92,111.1 92.5,108.3 93,105.4 93.4,102.8 93.9,100.7 94.4,99.4 94.9,98.6 95.3,97.8 95.8,96.9 96.3,95.5 96.8,91.4 97.2,86.3 97.7,83.1 98.2,80.5 98.6,78.2 99.1,76.1 99.6,74.1 100.1,72 100.5,69.7 101,67.3 101.5,64.8 101.9,62.3 102.4,59.9 102.9,57.6 103.4,55.5 103.8,53.5 104.3,51.7 104.8,49.9 105.2,48.4 105.7,47 106.2,45.8 106.7,44.7 107.1,43.7 107.6,42.8 108.1,42 108.6,41.2 109,40.5 109.5,39.8 110,39.2 110.4,38.6 110.9,38.1 111.4,37.6 111.9,37.1 112.3,36.7 112.8,36.2 113.3,35.8 113.7,35.4 114.2,35 114.7,34.7 115.2,34.3 115.6,34 116.1,33.7 116.6,33.4 117,33.1 117.5,32.9 118.7,32.4 119.8,31.9 120.9,31.5 122.1,31.1 123.2,30.8 124.3,30.5 125.4,30.3 126.6,30.2 127.7,30 128.8,29.9 130,29.7 131.1,29.6 132.2,29.6 133.4,29.5 134.5,29.5 135.6,29.5 136.8,29.5 137.9,29.5 139,29.5 140.2,29.5 141.3,29.6 142.4,29.6 143.6,29.7 144.7,29.7 145.8,29.8 147,29.8 148.1,29.9 149.2,30 150.4,30.1 151.5,30.2 152.6,30.3 153.8,30.4 154.9,30.5 156,30.6 157.2,30.8 158.3,30.9 159.4,31 160.6,31.2 161.7,31.3 162.8,31.4 164,31.6 165.1,31.9 166.2,32.5 167.4,33.3 168.5,33.2 169.6,32.8 170.8,32.6 171.9,32.7 173,32.9 174.2,33.1 175.3,33.2 176.4,33.4 177.6,33.6 178.7,33.8 179.8,34 181,34.1 182.1,34.3 183.2,34.5 184.4,34.7 185.5,34.9 186.6,35 187.8,35.2 188.9,35.4 190,35.6 191.2,35.8 192.3,35.9 193.4,36.1 194.6,36.3 195.7,36.4 196.8,36.6 197.9,36.8 199.1,36.9 200.2,37.1 201.3,37.3 202.5,37.4 203.6,37.6 204.7,37.7 205.9,37.9 207,38.1 208.1,38.3 209.3,38.4 210.4,38.6 211.5,38.8 212.7,39 213.8,39.1 214.9,39.3 216.1,39.5 217.2,39.7 218.3,39.9 219.5,40.1 220.6,40.6 221.7,41.4 222.9,41.7 224,41.3 225.1,41.1 226.3,41.2 227.4,41.4 228.5,41.6 229.7,41.8 230.8,42 231.9,42.2 233.1,42.4 234.2,42.6 235.3,42.8 236.5,43 237.6,43.2 238.7,43.4 239.9,43.6 241,43.8 242.1,44 243.3,44.2 244.4,44.4 245.5,44.5 246.7,44.7 247.8,44.9 248.9,45.1 250.1,45.3 251.2,45.5 252.3,45.7 253.5,45.9 254.6,46 255.7,46.2 256.9,46.4 258,46.6 259.1,46.8 260.3,46.9 261.4,47.1 262.5,47.3 263.7,47.4 264.8,47.6 265.9,47.8 267,48 268.2,48.1 268.6,48.2 268.9,48.2 269.3,48.3 269.7,48.3 270.1,48.4 270.4,48.5 270.8,48.5 271.2,48.6 271.6,48.6 272,48.7 272.3,48.7 272.7,48.8 273.1,48.9 273.5,48.9 273.8,49 274.2,49 274.6,49.1 275,49.1 275.4,49.2 275.7,49.2 276.1,49.3 276.5,49.2 276.9,49.4 277.2,49.4 277.6,49.4 278,49.8 278.4,49.8 278.8,49.4 279.1,49.5 279.5,49.5 279.9,49.8 280.3,50.4 280.6,50.1 281,50.1 281.4,50 281.8,50.4 282.2,50 282.5,50.3 282.9,50.3 283.3,49.8 283.7,50.5 284,51 284.4,50.9 284.8,50.5 285.2,50 285.6,50.9 285.9,50.7 286.3,50.8 286.7,50.6 287.1,50.7 287.4,51.1 287.8,51.4 288.2,51.2 288.6,50.8 289,51.3 289.3,51.2 289.7,50.8 290.1,51.4 290.5,51 290.8,50.1 291.2,51.5 291.6,52.7 292,52.1 292.3,51.8 292.7,51.7 293.1,51.3 293.5,51.6 293.9,52.3 294.2,51.9 294.6,52.1 295,51.8 295.4,51.5 295.7,51.3 296.1,52.5 296.5,52.7 296.9,52.3 297.3,52.4 297.6,52.3 298,52.2 298.4,52.4 298.8,52.6 299.1,52.4 299.5,52.6 299.9,52.7 300.3,52.6 300.7,51.5 301,52.5 301.4,54.7 301.8,53.6 302.2,53 302.5,53.1 302.9,53 303.3,53.1 303.7,53.2 304.1,53.7 304.4,53.4 304.8,53.3 305.2,53.2 305.6,52.9 305.9,52.6 306.3,53.8 306.7,54.8 307.1,53.9 307.5,53.8 307.8,53.6 308.2,53.9 308.6,53.9 309,54.2 309.3,53.9 309.7,54.1 310.1,53.9 310.5,53.1 310.9,53.4 311.2,55 311.6,55.3 312,54.4 312.4,54.3 312.7,54.6 313.1,54.6 313.5,54.3 313.9,54.7 314.2,54.5 314.6,54.7 315,54.7 315.4,54.5 315.8,54.9 316.1,55.4 316.5,55.1 316.9,55.3 317.3,55.2 317.6,55.2 318,54.9 318.4,55.6 318.8,55.3 319.2,55.3 319.5,55.4 319.9,55.4 320.3,55.5 320.7,55.5 321,55.6 321.4,55.6 321.8,55.7 322.2,55.7 322.6,55.8 322.9,55.8 323.3,55.9 323.7,55.9 324.1,56 324.4,56 324.8,56.1 325.2,56.1" fill="none" stroke="#e0a0f0" stroke-width="1.1" stroke-linejoin="round"/>
<polyline points="42,214 42.9,214 43.9,214 44.8,214 45.8,214 46.7,214 47.7,214 48.6,214 49.6,214 50.5,214 51.4,214 52.4,214 53.3,214 54.3,214 55.2,214 56.2,214 57.1,214 58,214 59,214 59.9,214 60.9,213.7 61.8,212.5 62.8,210.7 63.7,210.7 64.7,212.7 65.6,214.1 66.5,214.7 67.5,214.7 68.4,214.3 69.4,213.2 70.3,211.3 71.3,211.3 72.2,213 73.2,213.9 74.1,213.6 75,208.6 75.5,205.9 76,203.5 76.5,201.2 76.9,198.8 77.4,196.5 77.9,194.2 78.3,192 78.8,189.8 79.3,187.8 79.8,186.1 80.2,184.5 80.7,183.2 81.2,182.5 81.6,182 82.1,181.5 82.6,181.1 83.1,180.7 83.5,179.7 84,175.5 84.5,170.5 85,165.3 85.4,161.2 85.9,157.5 86.4,153.8 86.8,149.9 87.3,145.9 87.8,141.9 88.3,138.1 88.7,134.5 89.2,131 89.7,127.6 90.1,124.3 90.6,121 91.1,117.8 91.6,114.8 92,111.9 92.5,109.1 93,106.2 93.4,103.7 93.9,101.6 94.4,100.3 94.9,99.5 95.3,98.7 95.8,97.8 96.3,96.4 96.8,92.3 97.2,87.3 97.7,84 98.2,81.5 98.6,79.2 99.1,77.1 99.6,75.1 100.1,73.1 100.5,70.8 101,68.4 101.5,65.9 101.9,63.5 102.4,61.1 102.9,58.8 103.4,56.7 103.8,54.8 104.3,53 104.8,51.3 105.2,49.7 105.7,48.4 106.2,47.2 106.7,46.1 107.1,45.1 107.6,44.2 108.1,43.4 108.6,42.7 109,42 109.5,41.3 110,40.7 110.4,40.2 110.9,39.6 111.4,39.1 111.9,38.7 112.3,38.2 112.8,37.8 113.3,37.4 113.7,37 114.2,36.6 114.7,36.3 115.2,35.9 115.6,35.6 116.1,35.3 116.6,35 117,34.7 117.5,34.5 118.7,34 119.8,33.5 120.9,33.1 122.1,32.8 123.2,32.5 124.3,32.2 125.4,32 126.6,31.8 127.7,31.7 128.8,31.5 130,31.4 131.1,31.3 132.2,31.3 133.4,31.2 134.5,31.2 135.6,31.2 136.8,31.2 137.9,31.2 139,31.2 140.2,31.2 141.3,31.3 142.4,31.3 143.6,31.3 144.7,31.4 145.8,31.5 147,31.5 148.1,31.6 149.2,31.7 150.4,31.8 151.5,31.9 152.6,32 153.8,32.1 154.9,32.2 156,32.3 157.2,32.4 158.3,32.6 159.4,32.7 160.6,32.8 161.7,33 162.8,33.1 164,33.3 165.1,33.5 166.2,34.1 167.4,34.9 168.5,34.9 169.6,34.4 170.8,34.3 171.9,34.4 173,34.6 174.2,34.8 175.3,34.9 176.4,35.1 177.6,35.3 178.7,35.5 179.8,35.6 181,35.8 182.1,36 183.2,36.2 184.4,36.4 185.5,36.5 186.6,36.7 187.8,36.9 188.9,37.1 190,37.3 191.2,37.4 192.3,37.6 193.4,37.8 194.6,38 195.7,38.1 196.8,38.3 197.9,38.5 199.1,38.6 200.2,38.8 201.3,38.9 202.5,39.1 203.6,39.3 204.7,39.4 205.9,39.6 207,39.8 208.1,39.9 209.3,40.1 210.4,40.3 211.5,40.5 212.7,40.6 213.8,40.8 214.9,41 216.1,41.2 217.2,41.4 218.3,41.6 219.5,41.8 220.6,42.3 221.7,43 222.9,43.4 224,43 225.1,42.8 226.3,42.9 227.4,43.1 228.5,43.3 229.7,43.5 230.8,43.7 231.9,43.9 233.1,44.1 234.2,44.3 235.3,44.5 236.5,44.7 237.6,44.9 238.7,45.1 239.9,45.3 241,45.5 242.1,45.6 243.3,45.8 244.4,46 245.5,46.2 246.7,46.4 247.8,46.6 248.9,46.8 250.1,47 251.2,47.2 252.3,47.4 253.5,47.5 254.6,47.7 255.7,47.9 256.9,48.1 258,48.3 259.1,48.4 260.3,48.6 261.4,48.8 262.5,49 263.7,49.1 264.8,49.3 265.9,49.5 267,49.6 268.2,49.8 268.6,49.9 268.9,49.9 269.3,50 269.7,50 270.1,50.1 270.4,50.1 270.8,50.2 271.2,50.3 271.6,50.3 272,50.4 272.3,50.4 272.7,50.5 273.1,50.5 273.5,50.6 273.8,50.6 274.2,50.7 274.6,50.8 275,50.8 275.4,50.9 275.7,50.9 276.1,51 276.5,50.8 276.9,51.1 277.2,51.1 277.6,51.1 278,51.4 278.4,51.4 278.8,51.1 279.1,51.2 279.5,51.2 279.9,51.5 280.3,52 280.6,51.7 281,51.8 281.4,51.7 281.8,52.1 282.2,51.6 282.5,52 282.9,52 283.3,51.5 283.7,52.2 284,52.7 284.4,52.6 284.8,52.2 285.2,51.7 285.6,52.6 285.9,52.4 286.3,52.5 286.7,52.3 287.1,52.4 287.4,52.8 287.8,53.1 288.2,52.9 288.6,52.5 289,53 289.3,52.9 289.7,52.5 290.1,53.1 290.5,52.7 290.8,51.8 291.2,53.2 291.6,54.4 292,53.8 292.3,53.5 292.7,53.4 293.1,53 293.5,53.3 293.9,54 294.2,53.6 294.6,53.8 295,53.5 295.4,53.2 295.7,53 296.1,54.2 296.5,54.3 296.9,54 297.3,54 297.6,54 298,53.9 298.4,54.1 298.8,54.3 299.1,54.1 299.5,54.3 299.9,54.4 300.3,54.3 300.7,53.2 301,54.1 301.4,56.4 301.8,55.3 302.2,54.7 302.5,54.8 302.9,54.6 303.3,54.8 303.7,54.9 304.1,55.4 304.4,55.1 304.8,55 305.2,54.8 305.6,54.6 305.9,54.3 306.3,55.5 306.7,56.4 307.1,55.6 307.5,55.5 307.8,55.3 308.2,55.6 308.6,55.6 309,55.9 309.3,55.6 309.7,55.8 310.1,55.6 310.5,54.8 310.9,55.1 311.2,56.7 311.6,57 312,56.1 312.4,56 312.7,56.3 313.1,56.3 313.5,56 313.9,56.3 314.2,56.2 314.6,56.3 315,56.4 315.4,56.2 315.8,56.5 316.1,57.1 316.5,56.7 316.9,56.9 317.3,56.9 317.6,56.8 318,56.6 318.4,57.3 318.8,57 319.2,57 319.5,57.1 319.9,57.1 320.3,57.2 320.7,57.2 321,57.3 321.4,57.3 321.8,57.4 322.2,57.4 322.6,57.5 322.9,57.5 323.3,57.6 323.7,57.6 324.1,57.7 324.4,57.7 324.8,57.8 325.2,57.8" fill="none" stroke="#8020a0" stroke-width="1.8" stroke-linejoin="round"/>
<polyline points="42,214 42.9,214 43.9,214 44.8,214 45.8,214 46.7,214 47.7,214 48.6,214 49.6,214 50.5,214 51.4,214 52.4,214 53.3,214 54.3,214 55.2,214 56.2,214 57.1,214 58,214 59,214 59.9,214 60.9,213.7 61.8,212.5 62.8,210.7 63.7,210.7 64.7,212.7 65.6,214.1 66.5,214.7 67.5,214.7 68.4,214.3 69.4,213.2 70.3,211.3 71.3,211.3 72.2,213 73.2,213.9 74.1,213.6 75,208.6 75.5,206 76,203.7 76.5,201.3 76.9,199 77.4,196.7 77.9,194.5 78.3,192.2 78.8,190.1 79.3,188.1 79.8,186.4 80.2,184.8 80.7,183.6 81.2,182.9 81.6,182.4 82.1,181.9 82.6,181.5 83.1,181.1 83.5,180.1 84,175.9 84.5,171 85,165.9 85.4,161.8 85.9,158.2 86.4,154.6 86.8,150.7 87.3,146.7 87.8,142.7 88.3,139 88.7,135.4 89.2,131.9 89.7,128.5 90.1,125.3 90.6,122 91.1,118.9 91.6,115.8 92,113 92.5,110.2 93,107.4 93.4,104.8 93.9,102.8 94.4,101.5 94.9,100.6 95.3,99.9 95.8,99 96.3,97.6 96.8,93.5 97.2,88.6 97.7,85.4 98.2,82.8 98.6,80.6 99.1,78.5 99.6,76.5 100.1,74.5 100.5,72.3 101,69.9 101.5,67.5 101.9,65 102.4,62.6 102.9,60.4 103.4,58.4 103.8,56.5 104.3,54.7 104.8,53 105.2,51.5 105.7,50.2 106.2,49 106.7,48 107.1,47 107.6,46.1 108.1,45.4 108.6,44.6 109,44 109.5,43.3 110,42.8 110.4,42.2 110.9,41.7 111.4,41.2 111.9,40.7 112.3,40.3 112.8,39.9 113.3,39.5 113.7,39.1 114.2,38.8 114.7,38.4 115.2,38.1 115.6,37.7 116.1,37.4 116.6,37.2 117,36.9 117.5,36.7 118.7,36.2 119.8,35.7 120.9,35.3 122.1,35 123.2,34.7 124.3,34.4 125.4,34.2 126.6,34.1 127.7,33.9 128.8,33.8 130,33.7 131.1,33.6 132.2,33.5 133.4,33.5 134.5,33.4 135.6,33.4 136.8,33.4 137.9,33.4 139,33.4 140.2,33.5 141.3,33.5 142.4,33.5 143.6,33.6 144.7,33.7 145.8,33.7 147,33.8 148.1,33.9 149.2,34 150.4,34.1 151.5,34.2 152.6,34.3 153.8,34.4 154.9,34.5 156,34.6 157.2,34.7 158.3,34.9 159.4,35 160.6,35.2 161.7,35.3 162.8,35.5 164,35.6 165.1,35.9 166.2,36.5 167.4,37.3 168.5,37.3 169.6,36.8 170.8,36.7 171.9,36.8 173,37 174.2,37.2 175.3,37.3 176.4,37.5 177.6,37.7 178.7,37.9 179.8,38.1 181,38.3 182.1,38.4 183.2,38.6 184.4,38.8 185.5,39 186.6,39.2 187.8,39.4 188.9,39.6 190,39.7 191.2,39.9 192.3,40.1 193.4,40.3 194.6,40.5 195.7,40.6 196.8,40.8 197.9,41 199.1,41.1 200.2,41.3 201.3,41.5 202.5,41.6 203.6,41.8 204.7,42 205.9,42.1 207,42.3 208.1,42.5 209.3,42.7 210.4,42.8 211.5,43 212.7,43.2 213.8,43.4 214.9,43.6 216.1,43.7 217.2,43.9 218.3,44.1 219.5,44.3 220.6,44.8 221.7,45.6 222.9,45.9 224,45.6 225.1,45.4 226.3,45.5 227.4,45.6 228.5,45.8 229.7,46 230.8,46.2 231.9,46.4 233.1,46.6 234.2,46.8 235.3,47 236.5,47.2 237.6,47.4 238.7,47.6 239.9,47.8 241,48 242.1,48.2 243.3,48.4 244.4,48.6 245.5,48.8 246.7,48.9 247.8,49.1 248.9,49.3 250.1,49.5 251.2,49.7 252.3,49.9 253.5,50.1 254.6,50.2 255.7,50.4 256.9,50.6 258,50.8 259.1,51 260.3,51.1 261.4,51.3 262.5,51.5 263.7,51.6 264.8,51.8 265.9,52 267,52.2 268.2,52.3 268.6,52.4 268.9,52.4 269.3,52.5 269.7,52.6 270.1,52.6 270.4,52.7 270.8,52.7 271.2,52.8 271.6,52.8 272,52.9 272.3,52.9 272.7,53 273.1,53.1 273.5,53.1 273.8,53.2 274.2,53.2 274.6,53.3 275,53.3 275.4,53.4 275.7,53.5 276.1,53.5 276.5,53.4 276.9,53.6 277.2,53.6 277.6,53.6 278,54 278.4,54 278.8,53.6 279.1,53.8 279.5,53.7 279.9,54 280.3,54.6 280.6,54.3 281,54.3 281.4,54.2 281.8,54.6 282.2,54.2 282.5,54.5 282.9,54.5 283.3,54 283.7,54.7 284,55.2 284.4,55.1 284.8,54.7 285.2,54.2 285.6,55.1 285.9,54.9 286.3,55 286.7,54.8 287.1,54.9 287.4,55.4 287.8,55.6 288.2,55.5 288.6,55.1 289,55.5 289.3,55.4 289.7,55 290.1,55.6 290.5,55.3 290.8,54.3 291.2,55.7 291.6,56.9 292,56.3 292.3,56 292.7,55.9 293.1,55.5 293.5,55.8 293.9,56.5 294.2,56.2 294.6,56.3 295,56.1 295.4,55.8 295.7,55.5 296.1,56.7 296.5,56.9 296.9,56.5 297.3,56.6 297.6,56.5 298,56.4 298.4,56.6 298.8,56.8 299.1,56.6 299.5,56.8 299.9,56.9 300.3,56.8 300.7,55.8 301,56.7 301.4,58.9 301.8,57.8 302.2,57.2 302.5,57.3 302.9,57.2 303.3,57.3 303.7,57.4 304.1,57.9 304.4,57.6 304.8,57.5 305.2,57.4 305.6,57.1 305.9,56.8 306.3,58 306.7,58.9 307.1,58.1 307.5,58 307.8,57.9 308.2,58.1 308.6,58.1 309,58.4 309.3,58.2 309.7,58.3 310.1,58.1 310.5,57.4 310.9,57.6 311.2,59.2 311.6,59.5 312,58.6 312.4,58.6 312.7,58.8 313.1,58.8 313.5,58.5 313.9,58.9 314.2,58.7 314.6,58.9 315,58.9 315.4,58.7 315.8,59.1 316.1,59.6 316.5,59.3 316.9,59.5 317.3,59.4 317.6,59.4 318,59.1 318.4,59.8 318.8,59.5 319.2,59.5 319.5,59.6 319.9,59.6 320.3,59.7 320.7,59.7 321,59.8 321.4,59.8 321.8,59.9 322.2,59.9 322.6,60 322.9,60 323.3,60.1 323.7,60.1 324.1,60.2 324.4,60.2 324.8,60.3 325.2,60.3" fill="none" stroke="#f0c0e0" stroke-width="1.0" stroke-linejoin="round"/>
<polyline points="42,214 42.9,214 43.9,214 44.8,214 45.8,214 46.7,214 47.7,214 48.6,214 49.6,214 50.5,214 51.4,214 52.4,214 53.3,214 54.3,214 55.2,214 56.2,214 57.1,214 58,214 59,214 59.9,214 60.9,213.7 61.8,212.5 62.8,210.7 63.7,210.7 64.7,212.7 65.6,214.1 66.5,214.7 67.5,214.7 68.4,214.3 69.4,213.2 70.3,211.3 71.3,211.3 72.2,213 73.2,213.9 74.1,213.6 75,208.7 75.5,206.1 76,203.8 76.5,201.5 76.9,199.2 77.4,196.9 77.9,194.7 78.3,192.5 78.8,190.4 79.3,188.5 79.8,186.8 80.2,185.2 80.7,184 81.2,183.3 81.6,182.8 82.1,182.3 82.6,182 83.1,181.6 83.5,180.5 84,176.3 84.5,171.4 85,166.4 85.4,162.4 85.9,158.8 86.4,155.3 86.8,151.4 87.3,147.4 87.8,143.6 88.3,139.9 88.7,136.3 89.2,132.9 89.7,129.6 90.1,126.3 90.6,123.1 91.1,120 91.6,117 92,114.2 92.5,111.4 93,108.6 93.4,106.1 93.9,104.1 94.4,102.8 94.9,102 95.3,101.2 95.8,100.3 96.3,98.9 96.8,94.8 97.2,89.9 97.7,86.8 98.2,84.3 98.6,82.1 99.1,80.1 99.6,78.1 100.1,76.1 100.5,73.9 101,71.5 101.5,69.1 101.9,66.7 102.4,64.4 102.9,62.2 103.4,60.2 103.8,58.4 104.3,56.6 104.8,55 105.2,53.5 105.7,52.2 106.2,51.1 106.7,50.1 107.1,49.2 107.6,48.3 108.1,47.6 108.6,46.9 109,46.2 109.5,45.6 110,45 110.4,44.5 110.9,43.9 111.4,43.5 111.9,43 112.3,42.6 112.8,42.2 113.3,41.8 113.7,41.4 114.2,41.1 114.7,40.7 115.2,40.4 115.6,40.1 116.1,39.8 116.6,39.5 117,39.2 117.5,39 118.7,38.5 119.8,38.1 120.9,37.6 122.1,37.3 123.2,37 124.3,36.7 125.4,36.5 126.6,36.3 127.7,36.2 128.8,36 130,35.9 131.1,35.8 132.2,35.8 133.4,35.7 134.5,35.7 135.6,35.7 136.8,35.7 137.9,35.7 139,35.7 140.2,35.7 141.3,35.8 142.4,35.8 143.6,35.8 144.7,35.9 145.8,36 147,36 148.1,36.1 149.2,36.2 150.4,36.3 151.5,36.4 152.6,36.5 153.8,36.6 154.9,36.8 156,36.9 157.2,37 158.3,37.2 159.4,37.3 160.6,37.5 161.7,37.6 162.8,37.8 164,37.9 165.1,38.2 166.2,38.8 167.4,39.6 168.5,39.6 169.6,39.1 170.8,39 171.9,39.2 173,39.3 174.2,39.5 175.3,39.7 176.4,39.9 177.6,40.1 178.7,40.3 179.8,40.5 181,40.7 182.1,40.9 183.2,41.1 184.4,41.3 185.5,41.5 186.6,41.7 187.8,41.8 188.9,42 190,42.2 191.2,42.4 192.3,42.6 193.4,42.8 194.6,43 195.7,43.1 196.8,43.3 197.9,43.5 199.1,43.7 200.2,43.8 201.3,44 202.5,44.2 203.6,44.3 204.7,44.5 205.9,44.7 207,44.9 208.1,45 209.3,45.2 210.4,45.4 211.5,45.6 212.7,45.8 213.8,46 214.9,46.1 216.1,46.3 217.2,46.5 218.3,46.7 219.5,47 220.6,47.4 221.7,48.2 222.9,48.5 224,48.2 225.1,48 226.3,48.1 227.4,48.3 228.5,48.5 229.7,48.7 230.8,48.9 231.9,49.1 233.1,49.3 234.2,49.5 235.3,49.7 236.5,49.9 237.6,50.1 238.7,50.3 239.9,50.5 241,50.7 242.1,50.9 243.3,51.1 244.4,51.3 245.5,51.5 246.7,51.7 247.8,51.9 248.9,52.1 250.1,52.3 251.2,52.5 252.3,52.7 253.5,52.8 254.6,53 255.7,53.2 256.9,53.4 258,53.6 259.1,53.8 260.3,53.9 261.4,54.1 262.5,54.3 263.7,54.5 264.8,54.6 265.9,54.8 267,55 268.2,55.2 268.6,55.2 268.9,55.3 269.3,55.3 269.7,55.4 270.1,55.5 270.4,55.5 270.8,55.6 271.2,55.6 271.6,55.7 272,55.7 272.3,55.8 272.7,55.9 273.1,55.9 273.5,56 273.8,56 274.2,56.1 274.6,56.2 275,56.2 275.4,56.3 275.7,56.3 276.1,56.4 276.5,56.2 276.9,56.5 277.2,56.5 277.6,56.5 278,56.8 278.4,56.8 278.8,56.5 279.1,56.7 279.5,56.6 279.9,56.9 280.3,57.4 280.6,57.2 281,57.2 281.4,57.1 281.8,57.5 282.2,57.1 282.5,57.4 282.9,57.5 283.3,56.9 283.7,57.6 284,58.1 284.4,58 284.8,57.6 285.2,57.1 285.6,58 285.9,57.8 286.3,58 286.7,57.8 287.1,57.9 287.4,58.3 287.8,58.5 288.2,58.4 288.6,58 289,58.4 289.3,58.3 289.7,57.9 290.1,58.6 290.5,58.2 290.8,57.3 291.2,58.6 291.6,59.8 292,59.2 292.3,59 292.7,58.8 293.1,58.5 293.5,58.8 293.9,59.5 294.2,59.1 294.6,59.3 295,59 295.4,58.7 295.7,58.5 296.1,59.7 296.5,59.8 296.9,59.5 297.3,59.5 297.6,59.5 298,59.4 298.4,59.6 298.8,59.8 299.1,59.6 299.5,59.8 299.9,59.9 300.3,59.8 300.7,58.8 301,59.7 301.4,61.9 301.8,60.8 302.2,60.2 302.5,60.3 302.9,60.2 303.3,60.3 303.7,60.4 304.1,60.9 304.4,60.6 304.8,60.5 305.2,60.4 305.6,60.1 305.9,59.8 306.3,61 306.7,61.9 307.1,61.1 307.5,61 307.8,60.9 308.2,61.1 308.6,61.1 309,61.4 309.3,61.2 309.7,61.4 310.1,61.2 310.5,60.4 310.9,60.7 311.2,62.3 311.6,62.5 312,61.6 312.4,61.6 312.7,61.8 313.1,61.9 313.5,61.5 313.9,61.9 314.2,61.8 314.6,61.9 315,62 315.4,61.7 315.8,62.1 316.1,62.6 316.5,62.3 316.9,62.5 317.3,62.4 317.6,62.4 318,62.2 318.4,62.9 318.8,62.6 319.2,62.6 319.5,62.7 319.9,62.7 320.3,62.8 320.7,62.8 321,62.9 321.4,62.9 321.8,63 322.2,63 322.6,63.1 322.9,63.1 323.3,63.2 323.7,63.2 324.1,63.3 324.4,63.3 324.8,63.4 325.2,63.4" fill="none" stroke="#800000" stroke-width="1.6" stroke-linejoin="round"/>
<polyline points="42,214 42.9,214 43.9,214 44.8,214 45.8,214 46.7,214 47.7,214 48.6,214 49.6,214 50.5,214 51.4,214 52.4,214 53.3,214 54.3,214 55.2,214 56.2,214 57.1,214 58,214 59,214 59.9,214 60.9,213.7 61.8,212.5 62.8,210.7 63.7,210.8 64.7,212.7 65.6,214.1 66.5,214.6 67.5,214.7 68.4,214.3 69.4,213.2 70.3,211.4 71.3,211.3 72.2,213.1 73.2,213.9 74.1,213.6 75,208.9 75.5,206.4 76,204.2 76.5,201.9 76.9,199.7 77.4,197.5 77.9,195.4 78.3,193.2 78.8,191.1 79.3,189.3 79.8,187.6 80.2,186.1 80.7,185 81.2,184.4 81.6,183.9 82.1,183.4 82.6,183.1 83.1,182.7 83.5,181.3 84,177 84.5,172.2 85,167.5 85.4,163.8 85.9,160.3 86.4,156.8 86.8,153.1 87.3,149.2 87.8,145.5 88.3,142 88.7,138.5 89.2,135.2 89.7,131.9 90.1,128.8 90.6,125.7 91.1,122.7 91.6,119.8 92,117.1 92.5,114.3 93,111.6 93.4,109.2 93.9,107.3 94.4,106.2 94.9,105.4 95.3,104.7 95.8,103.8 96.3,102.2 96.8,97.9 97.2,93.3 97.7,90.4 98.2,88 98.6,85.9 99.1,84 99.6,82.1 100.1,80.1 100.5,77.9 101,75.7 101.5,73.4 101.9,71.1 102.4,68.9 102.9,66.8 103.4,64.9 103.8,63.2 104.3,61.6 104.8,60 105.2,58.7 105.7,57.5 106.2,56.5 106.7,55.5 107.1,54.7 107.6,53.9 108.1,53.2 108.6,52.5 109,51.9 109.5,51.3 110,50.7 110.4,50.2 110.9,49.7 111.4,49.2 111.9,48.8 112.3,48.4 112.8,48 113.3,47.6 113.7,47.2 114.2,46.9 114.7,46.5 115.2,46.2 115.6,45.9 116.1,45.6 116.6,45.3 117,45.1 117.5,44.8 118.7,44.3 119.8,43.9 120.9,43.5 122.1,43.1 123.2,42.8 124.3,42.5 125.4,42.3 126.6,42.1 127.7,41.9 128.8,41.7 130,41.6 131.1,41.5 132.2,41.4 133.4,41.3 134.5,41.3 135.6,41.3 136.8,41.3 137.9,41.3 139,41.3 140.2,41.3 141.3,41.4 142.4,41.4 143.6,41.5 144.7,41.6 145.8,41.7 147,41.8 148.1,41.9 149.2,42 150.4,42.1 151.5,42.2 152.6,42.3 153.8,42.5 154.9,42.6 156,42.8 157.2,43 158.3,43.1 159.4,43.3 160.6,43.5 161.7,43.7 162.8,43.9 164,44.1 165.1,44.4 166.2,45 167.4,45.8 168.5,45.8 169.6,45.4 170.8,45.4 171.9,45.6 173,45.8 174.2,46 175.3,46.2 176.4,46.5 177.6,46.7 178.7,46.9 179.8,47.2 181,47.4 182.1,47.6 183.2,47.9 184.4,48.1 185.5,48.3 186.6,48.6 187.8,48.8 188.9,49 190,49.2 191.2,49.5 192.3,49.7 193.4,49.9 194.6,50.1 195.7,50.3 196.8,50.5 197.9,50.7 199.1,50.9 200.2,51.1 201.3,51.3 202.5,51.5 203.6,51.7 204.7,51.9 205.9,52.1 207,52.3 208.1,52.5 209.3,52.7 210.4,52.9 211.5,53.1 212.7,53.3 213.8,53.5 214.9,53.7 216.1,53.9 217.2,54.2 218.3,54.4 219.5,54.6 220.6,55.1 221.7,55.9 222.9,56.2 224,55.9 225.1,55.8 226.3,55.9 227.4,56.1 228.5,56.3 229.7,56.5 230.8,56.7 231.9,57 233.1,57.2 234.2,57.4 235.3,57.6 236.5,57.8 237.6,58 238.7,58.3 239.9,58.5 241,58.7 242.1,58.9 243.3,59.1 244.4,59.3 245.5,59.5 246.7,59.7 247.8,59.9 248.9,60.1 250.1,60.3 251.2,60.5 252.3,60.7 253.5,60.9 254.6,61.1 255.7,61.3 256.9,61.5 258,61.7 259.1,61.9 260.3,62.1 261.4,62.3 262.5,62.4 263.7,62.6 264.8,62.8 265.9,63 267,63.2 268.2,63.3 268.6,63.4 268.9,63.5 269.3,63.5 269.7,63.6 270.1,63.6 270.4,63.7 270.8,63.8 271.2,63.8 271.6,63.9 272,63.9 272.3,64 272.7,64.1 273.1,64.1 273.5,64.2 273.8,64.2 274.2,64.3 274.6,64.4 275,64.4 275.4,64.5 275.7,64.5 276.1,64.6 276.5,64.5 276.9,64.7 277.2,64.7 277.6,64.7 278,65.1 278.4,65.1 278.8,64.7 279.1,64.9 279.5,64.8 279.9,65.1 280.3,65.7 280.6,65.4 281,65.5 281.4,65.4 281.8,65.7 282.2,65.3 282.5,65.7 282.9,65.7 283.3,65.2 283.7,65.8 284,66.4 284.4,66.3 284.8,65.9 285.2,65.4 285.6,66.2 285.9,66 286.3,66.2 286.7,66 287.1,66.1 287.4,66.5 287.8,66.8 288.2,66.6 288.6,66.2 289,66.7 289.3,66.6 289.7,66.2 290.1,66.8 290.5,66.4 290.8,65.6 291.2,66.9 291.6,68 292,67.4 292.3,67.2 292.7,67.1 293.1,66.7 293.5,67 293.9,67.7 294.2,67.3 294.6,67.5 295,67.3 295.4,67 295.7,66.8 296.1,67.9 296.5,68 296.9,67.7 297.3,67.8 297.6,67.8 298,67.7 298.4,67.8 298.8,68 299.1,67.8 299.5,68.1 299.9,68.1 300.3,68 300.7,67.1 301,67.9 301.4,70 301.8,69 302.2,68.4 302.5,68.6 302.9,68.4 303.3,68.6 303.7,68.6 304.1,69.1 304.4,68.8 304.8,68.7 305.2,68.6 305.6,68.4 305.9,68.1 306.3,69.2 306.7,70.1 307.1,69.3 307.5,69.2 307.8,69.1 308.2,69.3 308.6,69.3 309,69.6 309.3,69.4 309.7,69.6 310.1,69.4 310.5,68.7 310.9,68.9 311.2,70.4 311.6,70.7 312,69.8 312.4,69.8 312.7,70 313.1,70.1 313.5,69.7 313.9,70.1 314.2,70 314.6,70.1 315,70.2 315.4,70 315.8,70.3 316.1,70.8 316.5,70.5 316.9,70.7 317.3,70.6 317.6,70.6 318,70.4 318.4,71.1 318.8,70.7 319.2,70.8 319.5,70.8 319.9,70.9 320.3,70.9 320.7,71 321,71 321.4,71.1 321.8,71.1 322.2,71.2 322.6,71.2 322.9,71.3 323.3,71.3 323.7,71.4 324.1,71.4 324.4,71.5 324.8,71.5 325.2,71.6" fill="none" stroke="#1a901a" stroke-width="1.6" stroke-linejoin="round"/>
<polyline points="42,214 42.9,214 43.9,214 44.8,214 45.8,214 46.7,214 47.7,214 48.6,214 49.6,214 50.5,214 51.4,214 52.4,214 53.3,214 54.3,214 55.2,214 56.2,214 57.1,214 58,214 59,214 59.9,214 60.9,213.7 61.8,212.6 62.8,210.9 63.7,210.9 64.7,212.7 65.6,214.1 66.5,214.6 67.5,214.6 68.4,214.3 69.4,213.2 70.3,211.5 71.3,211.5 72.2,213.1 73.2,213.9 74.1,213.6 75,209.2 75.5,206.8 76,204.7 76.5,202.6 76.9,200.4 77.4,198.3 77.9,196.3 78.3,194.2 78.8,192.2 79.3,190.5 79.8,188.9 80.2,187.5 80.7,186.5 81.2,185.9 81.6,185.5 82.1,185.1 82.6,184.8 83.1,184.3 83.5,182.4 84,178.2 84.5,173.4 85,169.3 85.4,165.8 85.9,162.5 86.4,159.2 86.8,155.5 87.3,151.9 87.8,148.3 88.3,145 88.7,141.7 89.2,138.6 89.7,135.5 90.1,132.5 90.6,129.5 91.1,126.6 91.6,123.9 92,121.3 92.5,118.6 93,116.1 93.4,113.9 93.9,112.2 94.4,111.2 94.9,110.5 95.3,109.8 95.8,108.9 96.3,106.8 96.8,102.3 97.2,98.3 97.7,95.7 98.2,93.5 98.6,91.5 99.1,89.7 99.6,87.9 100.1,86 100.5,84 101,81.8 101.5,79.6 101.9,77.5 102.4,75.5 102.9,73.6 103.4,71.9 103.8,70.3 104.3,68.8 104.8,67.5 105.2,66.3 105.7,65.3 106.2,64.4 106.7,63.5 107.1,62.8 107.6,62.1 108.1,61.5 108.6,60.9 109,60.3 109.5,59.8 110,59.3 110.4,58.8 110.9,58.3 111.4,57.9 111.9,57.5 112.3,57.1 112.8,56.7 113.3,56.3 113.7,56 114.2,55.7 114.7,55.3 115.2,55 115.6,54.7 116.1,54.5 116.6,54.2 117,54 117.5,53.7 118.7,53.3 119.8,52.8 120.9,52.4 122.1,52 123.2,51.7 124.3,51.5 125.4,51.2 126.6,51 127.7,50.8 128.8,50.7 130,50.6 131.1,50.4 132.2,50.4 133.4,50.3 134.5,50.3 135.6,50.3 136.8,50.2 137.9,50.3 139,50.3 140.2,50.3 141.3,50.4 142.4,50.5 143.6,50.6 144.7,50.7 145.8,50.8 147,50.9 148.1,51.1 149.2,51.2 150.4,51.4 151.5,51.6 152.6,51.8 153.8,52 154.9,52.2 156,52.4 157.2,52.6 158.3,52.9 159.4,53.1 160.6,53.3 161.7,53.6 162.8,53.8 164,54.1 165.1,54.4 166.2,55.1 167.4,55.8 168.5,55.9 169.6,55.7 170.8,55.7 171.9,55.9 173,56.1 174.2,56.4 175.3,56.7 176.4,56.9 177.6,57.2 178.7,57.4 179.8,57.6 181,57.9 182.1,58.1 183.2,58.3 184.4,58.5 185.5,58.7 186.6,59 187.8,59.2 188.9,59.4 190,59.6 191.2,59.9 192.3,60.1 193.4,60.3 194.6,60.5 195.7,60.8 196.8,61 197.9,61.3 199.1,61.5 200.2,61.7 201.3,62 202.5,62.2 203.6,62.5 204.7,62.7 205.9,63 207,63.2 208.1,63.5 209.3,63.7 210.4,64 211.5,64.2 212.7,64.5 213.8,64.7 214.9,65 216.1,65.2 217.2,65.5 218.3,65.7 219.5,66 220.6,66.5 221.7,67.3 222.9,67.6 224,67.4 225.1,67.3 226.3,67.5 227.4,67.7 228.5,68 229.7,68.2 230.8,68.5 231.9,68.7 233.1,69 234.2,69.2 235.3,69.5 236.5,69.7 237.6,70 238.7,70.2 239.9,70.5 241,70.7 242.1,70.9 243.3,71.2 244.4,71.4 245.5,71.6 246.7,71.9 247.8,72.1 248.9,72.3 250.1,72.5 251.2,72.7 252.3,73 253.5,73.2 254.6,73.4 255.7,73.6 256.9,73.8 258,74 259.1,74.2 260.3,74.4 261.4,74.6 262.5,74.8 263.7,75 264.8,75.2 265.9,75.4 267,75.6 268.2,75.8 268.6,75.8 268.9,75.9 269.3,76 269.7,76 270.1,76.1 270.4,76.2 270.8,76.2 271.2,76.3 271.6,76.3 272,76.4 272.3,76.5 272.7,76.5 273.1,76.6 273.5,76.7 273.8,76.7 274.2,76.8 274.6,76.8 275,76.9 275.4,77 275.7,77 276.1,77.1 276.5,77 276.9,77.2 277.2,77.2 277.6,77.3 278,77.6 278.4,77.6 278.8,77.3 279.1,77.4 279.5,77.4 279.9,77.7 280.3,78.2 280.6,77.9 281,78 281.4,77.9 281.8,78.3 282.2,77.9 282.5,78.2 282.9,78.2 283.3,77.7 283.7,78.4 284,78.9 284.4,78.8 284.8,78.4 285.2,78 285.6,78.8 285.9,78.6 286.3,78.8 286.7,78.6 287.1,78.7 287.4,79.1 287.8,79.3 288.2,79.2 288.6,78.8 289,79.2 289.3,79.2 289.7,78.8 290.1,79.4 290.5,79.1 290.8,78.2 291.2,79.5 291.6,80.6 292,80 292.3,79.8 292.7,79.7 293.1,79.4 293.5,79.6 293.9,80.3 294.2,80 294.6,80.1 295,79.9 295.4,79.6 295.7,79.4 296.1,80.5 296.5,80.6 296.9,80.4 297.3,80.4 297.6,80.4 298,80.3 298.4,80.5 298.8,80.7 299.1,80.5 299.5,80.7 299.9,80.8 300.3,80.7 300.7,79.8 301,80.6 301.4,82.6 301.8,81.6 302.2,81.1 302.5,81.2 302.9,81.1 303.3,81.2 303.7,81.3 304.1,81.7 304.4,81.5 304.8,81.4 305.2,81.3 305.6,81.1 305.9,80.8 306.3,81.9 306.7,82.7 307.1,81.9 307.5,81.9 307.8,81.8 308.2,82 308.6,82 309,82.3 309.3,82 309.7,82.2 310.1,82 310.5,81.4 310.9,81.6 311.2,83 311.6,83.3 312,82.5 312.4,82.4 312.7,82.7 313.1,82.7 313.5,82.4 313.9,82.7 314.2,82.6 314.6,82.8 315,82.8 315.4,82.6 315.8,83 316.1,83.4 316.5,83.1 316.9,83.3 317.3,83.3 317.6,83.2 318,83 318.4,83.7 318.8,83.4 319.2,83.4 319.5,83.5 319.9,83.5 320.3,83.6 320.7,83.6 321,83.7 321.4,83.7 321.8,83.8 322.2,83.8 322.6,83.9 322.9,83.9 323.3,83.9 323.7,84 324.1,84 324.4,84.1 324.8,84.1 325.2,84.2" fill="none" stroke="#1a9898" stroke-width="1.6" stroke-linejoin="round"/>
<polyline points="42,214 42.9,214 43.9,214 44.8,214 45.8,214 46.7,214 47.7,214 48.6,214 49.6,214 50.5,214 51.4,214 52.4,214 53.3,214 54.3,214 55.2,214 56.2,214 57.1,214 58,214 59,214 59.9,214 60.9,213.8 61.8,212.7 62.8,211.2 63.7,211.2 64.7,212.8 65.6,214.1 66.5,214.6 67.5,214.6 68.4,214.3 69.4,213.3 70.3,211.7 71.3,211.7 72.2,213.2 73.2,213.9 74.1,213.7 75,209.6 75.5,207.5 76,205.6 76.5,203.6 76.9,201.6 77.4,199.7 77.9,197.8 78.3,195.9 78.8,194.1 79.3,192.5 79.8,191.1 80.2,189.8 80.7,189 81.2,188.5 81.6,188 82.1,187.7 82.6,187.4 83.1,186.9 83.5,184.5 84,180.6 84.5,176.2 85,172.6 85.4,169.5 85.9,166.5 86.4,163.3 86.8,160 87.3,156.6 87.8,153.4 88.3,150.3 88.7,147.3 89.2,144.3 89.7,141.5 90.1,138.7 90.6,135.9 91.1,133.2 91.6,130.7 92,128.3 92.5,125.8 93,123.4 93.4,121.4 93.9,120 94.4,119.2 94.9,118.6 95.3,117.8 95.8,116.9 96.3,114.4 96.8,110.1 97.2,106.7 97.7,104.4 98.2,102.4 98.6,100.6 99.1,98.9 99.6,97.3 100.1,95.5 100.5,93.6 101,91.7 101.5,89.7 101.9,87.8 102.4,86.1 102.9,84.4 103.4,83 103.8,81.7 104.3,80.5 104.8,79.3 105.2,78.4 105.7,77.6 106.2,76.8 106.7,76.2 107.1,75.6 107.6,75.1 108.1,74.6 108.6,74.1 109,73.7 109.5,73.2 110,72.8 110.4,72.5 110.9,72.1 111.4,71.8 111.9,71.5 112.3,71.2 112.8,70.9 113.3,70.6 113.7,70.4 114.2,70.1 114.7,69.9 115.2,69.6 115.6,69.4 116.1,69.2 116.6,69 117,68.8 117.5,68.7 118.7,68.3 119.8,68 120.9,67.7 122.1,67.4 123.2,67.2 124.3,67.1 125.4,66.9 126.6,66.8 127.7,66.7 128.8,66.6 130,66.6 131.1,66.5 132.2,66.5 133.4,66.5 134.5,66.6 135.6,66.6 136.8,66.7 137.9,66.8 139,66.9 140.2,67 141.3,67.1 142.4,67.3 143.6,67.4 144.7,67.6 145.8,67.8 147,68 148.1,68.2 149.2,68.4 150.4,68.6 151.5,68.9 152.6,69.1 153.8,69.4 154.9,69.6 156,69.9 157.2,70.2 158.3,70.4 159.4,70.7 160.6,71 161.7,71.3 162.8,71.6 164,71.9 165.1,72.2 166.2,72.8 167.4,73.6 168.5,73.7 169.6,73.6 170.8,73.7 171.9,73.9 173,74.2 174.2,74.5 175.3,74.8 176.4,75 177.6,75.3 178.7,75.6 179.8,75.8 181,76.1 182.1,76.3 183.2,76.5 184.4,76.8 185.5,77 186.6,77.2 187.8,77.4 188.9,77.7 190,77.9 191.2,78.1 192.3,78.4 193.4,78.6 194.6,78.8 195.7,79.1 196.8,79.3 197.9,79.5 199.1,79.8 200.2,80 201.3,80.2 202.5,80.5 203.6,80.7 204.7,81 205.9,81.2 207,81.4 208.1,81.7 209.3,81.9 210.4,82.2 211.5,82.4 212.7,82.7 213.8,82.9 214.9,83.1 216.1,83.4 217.2,83.6 218.3,83.9 219.5,84.1 220.6,84.6 221.7,85.3 222.9,85.6 224,85.4 225.1,85.4 226.3,85.6 227.4,85.8 228.5,86 229.7,86.3 230.8,86.5 231.9,86.7 233.1,87 234.2,87.2 235.3,87.4 236.5,87.7 237.6,87.9 238.7,88.1 239.9,88.4 241,88.6 242.1,88.8 243.3,89.1 244.4,89.3 245.5,89.5 246.7,89.7 247.8,90 248.9,90.2 250.1,90.4 251.2,90.6 252.3,90.8 253.5,91.1 254.6,91.3 255.7,91.5 256.9,91.7 258,91.9 259.1,92.1 260.3,92.3 261.4,92.5 262.5,92.7 263.7,92.9 264.8,93.1 265.9,93.3 267,93.5 268.2,93.7 268.6,93.8 268.9,93.8 269.3,93.9 269.7,93.9 270.1,94 270.4,94.1 270.8,94.1 271.2,94.2 271.6,94.3 272,94.3 272.3,94.4 272.7,94.4 273.1,94.5 273.5,94.6 273.8,94.6 274.2,94.7 274.6,94.7 275,94.8 275.4,94.9 275.7,94.9 276.1,95 276.5,94.9 276.9,95.1 277.2,95.1 277.6,95.2 278,95.4 278.4,95.5 278.8,95.2 279.1,95.3 279.5,95.3 279.9,95.5 280.3,96 280.6,95.8 281,95.9 281.4,95.8 281.8,96.1 282.2,95.8 282.5,96.1 282.9,96.1 283.3,95.7 283.7,96.2 284,96.7 284.4,96.6 284.8,96.3 285.2,95.9 285.6,96.6 285.9,96.5 286.3,96.6 286.7,96.5 287.1,96.6 287.4,96.9 287.8,97.1 288.2,97 288.6,96.7 289,97.1 289.3,97 289.7,96.7 290.1,97.2 290.5,96.9 290.8,96.2 291.2,97.3 291.6,98.3 292,97.8 292.3,97.6 292.7,97.5 293.1,97.2 293.5,97.5 293.9,98.1 294.2,97.8 294.6,97.9 295,97.7 295.4,97.5 295.7,97.3 296.1,98.3 296.5,98.4 296.9,98.2 297.3,98.2 297.6,98.2 298,98.1 298.4,98.3 298.8,98.5 299.1,98.3 299.5,98.5 299.9,98.6 300.3,98.5 300.7,97.6 301,98.4 301.4,100.2 301.8,99.4 302.2,98.9 302.5,99 302.9,98.8 303.3,99 303.7,99 304.1,99.5 304.4,99.2 304.8,99.2 305.2,99.1 305.6,98.9 305.9,98.6 306.3,99.6 306.7,100.4 307.1,99.7 307.5,99.6 307.8,99.5 308.2,99.7 308.6,99.7 309,100 309.3,99.8 309.7,100 310.1,99.8 310.5,99.2 310.9,99.4 311.2,100.7 311.6,100.9 312,100.2 312.4,100.2 312.7,100.4 313.1,100.4 313.5,100.2 313.9,100.5 314.2,100.4 314.6,100.5 315,100.5 315.4,100.4 315.8,100.7 316.1,101.1 316.5,100.8 316.9,101 317.3,101 317.6,100.9 318,100.7 318.4,101.3 318.8,101.1 319.2,101.1 319.5,101.2 319.9,101.2 320.3,101.3 320.7,101.3 321,101.3 321.4,101.4 321.8,101.4 322.2,101.5 322.6,101.5 322.9,101.6 323.3,101.6 323.7,101.7 324.1,101.7 324.4,101.8 324.8,101.8 325.2,101.8" fill="none" stroke="#0000b0" stroke-width="1.6" stroke-linejoin="round"/>
<polyline points="42,214 42.9,214 43.9,214 44.8,214 45.8,214 46.7,214 47.7,214 48.6,214 49.6,214 50.5,214 51.4,214 52.4,214 53.3,214 54.3,214 55.2,214 56.2,214 57.1,214 58,214 59,214 59.9,214 60.9,213.8 61.8,212.9 62.8,211.6 63.7,211.6 64.7,213 65.6,214.1 66.5,214.5 67.5,214.5 68.4,214.2 69.4,213.4 70.3,212 71.3,212 72.2,213.3 73.2,213.9 74.1,213.7 75,210.3 75.5,208.4 76,206.8 76.5,205.2 76.9,203.5 77.4,201.9 77.9,200.4 78.3,198.8 78.8,197.3 79.3,195.9 79.8,194.7 80.2,193.6 80.7,192.8 81.2,192.3 81.6,191.9 82.1,191.6 82.6,191.4 83.1,191 83.5,189.9 84,186.8 84.5,183.2 85,179.7 85.4,176.9 85.9,174.3 86.4,171.6 86.8,168.8 87.3,165.8 87.8,162.9 88.3,160.2 88.7,157.5 89.2,154.9 89.7,152.4 90.1,149.9 90.6,147.4 91.1,145 91.6,142.7 92,140.5 92.5,138.3 93,136.2 93.4,134.3 93.9,132.8 94.4,131.9 94.9,131.3 95.3,130.7 95.8,130 96.3,128.6 96.8,125.1 97.2,121.5 97.7,119.3 98.2,117.5 98.6,115.9 99.1,114.4 99.6,113 100.1,111.5 100.5,109.9 101,108.2 101.5,106.6 101.9,105 102.4,103.5 102.9,102.1 103.4,100.9 103.8,99.8 104.3,98.8 104.8,97.8 105.2,97 105.7,96.4 106.2,95.8 106.7,95.3 107.1,94.8 107.6,94.4 108.1,94.1 108.6,93.7 109,93.3 109.5,93 110,92.7 110.4,92.4 110.9,92.1 111.4,91.8 111.9,91.5 112.3,91.3 112.8,91.1 113.3,90.9 113.7,90.6 114.2,90.4 114.7,90.2 115.2,90.1 115.6,89.9 116.1,89.7 116.6,89.6 117,89.4 117.5,89.3 118.7,89 119.8,88.7 120.9,88.5 122.1,88.3 123.2,88.1 124.3,88 125.4,87.9 126.6,87.9 127.7,87.9 128.8,87.9 130,87.9 131.1,88 132.2,88 133.4,88.1 134.5,88.2 135.6,88.3 136.8,88.5 137.9,88.6 139,88.8 140.2,88.9 141.3,89.1 142.4,89.3 143.6,89.5 144.7,89.7 145.8,89.9 147,90.2 148.1,90.4 149.2,90.6 150.4,90.9 151.5,91.2 152.6,91.4 153.8,91.7 154.9,92 156,92.3 157.2,92.6 158.3,92.8 159.4,93.1 160.6,93.4 161.7,93.7 162.8,94 164,94.3 165.1,94.7 166.2,95.2 167.4,95.8 168.5,96.1 169.6,96 170.8,96.1 171.9,96.4 173,96.7 174.2,97 175.3,97.2 176.4,97.5 177.6,97.8 178.7,98 179.8,98.3 181,98.5 182.1,98.7 183.2,99 184.4,99.2 185.5,99.4 186.6,99.6 187.8,99.8 188.9,100.1 190,100.3 191.2,100.5 192.3,100.7 193.4,100.9 194.6,101.2 195.7,101.4 196.8,101.6 197.9,101.8 199.1,102.1 200.2,102.3 201.3,102.5 202.5,102.7 203.6,102.9 204.7,103.2 205.9,103.4 207,103.6 208.1,103.8 209.3,104.1 210.4,104.3 211.5,104.5 212.7,104.7 213.8,104.9 214.9,105.2 216.1,105.4 217.2,105.6 218.3,105.8 219.5,106.1 220.6,106.5 221.7,107.1 222.9,107.4 224,107.2 225.1,107.2 226.3,107.4 227.4,107.6 228.5,107.8 229.7,108 230.8,108.2 231.9,108.4 233.1,108.7 234.2,108.9 235.3,109.1 236.5,109.3 237.6,109.5 238.7,109.7 239.9,109.9 241,110.1 242.1,110.3 243.3,110.5 244.4,110.7 245.5,110.9 246.7,111.2 247.8,111.4 248.9,111.6 250.1,111.8 251.2,112 252.3,112.1 253.5,112.3 254.6,112.5 255.7,112.7 256.9,112.9 258,113.1 259.1,113.3 260.3,113.5 261.4,113.7 262.5,113.9 263.7,114 264.8,114.2 265.9,114.4 267,114.6 268.2,114.8 268.6,114.8 268.9,114.9 269.3,114.9 269.7,115 270.1,115 270.4,115.1 270.8,115.2 271.2,115.2 271.6,115.3 272,115.3 272.3,115.4 272.7,115.4 273.1,115.5 273.5,115.6 273.8,115.6 274.2,115.7 274.6,115.7 275,115.8 275.4,115.8 275.7,115.9 276.1,115.9 276.5,115.9 276.9,116 277.2,116.1 277.6,116.1 278,116.4 278.4,116.4 278.8,116.1 279.1,116.2 279.5,116.2 279.9,116.5 280.3,116.9 280.6,116.7 281,116.8 281.4,116.7 281.8,117 282.2,116.7 282.5,116.9 282.9,117 283.3,116.6 283.7,117.1 284,117.5 284.4,117.5 284.8,117.2 285.2,116.8 285.6,117.5 285.9,117.3 286.3,117.5 286.7,117.3 287.1,117.4 287.4,117.7 287.8,117.9 288.2,117.8 288.6,117.5 289,117.9 289.3,117.8 289.7,117.5 290.1,118 290.5,117.7 290.8,117.1 291.2,118.1 291.6,119 292,118.6 292.3,118.4 292.7,118.3 293.1,118 293.5,118.2 293.9,118.8 294.2,118.5 294.6,118.7 295,118.5 295.4,118.3 295.7,118.1 296.1,119 296.5,119.1 296.9,118.9 297.3,118.9 297.6,118.9 298,118.8 298.4,119 298.8,119.2 299.1,119 299.5,119.2 299.9,119.3 300.3,119.2 300.7,118.4 301,119.1 301.4,120.8 301.8,120 302.2,119.5 302.5,119.6 302.9,119.5 303.3,119.6 303.7,119.7 304.1,120.1 304.4,119.9 304.8,119.8 305.2,119.7 305.6,119.6 305.9,119.3 306.3,120.2 306.7,120.9 307.1,120.3 307.5,120.2 307.8,120.2 308.2,120.3 308.6,120.3 309,120.6 309.3,120.4 309.7,120.6 310.1,120.4 310.5,119.9 310.9,120.1 311.2,121.2 311.6,121.4 312,120.8 312.4,120.8 312.7,120.9 313.1,121 313.5,120.7 313.9,121 314.2,120.9 314.6,121 315,121.1 315.4,120.9 315.8,121.2 316.1,121.6 316.5,121.4 316.9,121.5 317.3,121.5 317.6,121.5 318,121.3 318.4,121.8 318.8,121.6 319.2,121.6 319.5,121.7 319.9,121.7 320.3,121.8 320.7,121.8 321,121.9 321.4,121.9 321.8,121.9 322.2,122 322.6,122 322.9,122.1 323.3,122.1 323.7,122.2 324.1,122.2 324.4,122.2 324.8,122.3 325.2,122.3" fill="none" stroke="#ff8a20" stroke-width="1.6" stroke-linejoin="round"/>
<polyline points="42,214 42.9,214 43.9,214 44.8,214 45.8,214 46.7,214 47.7,214 48.6,214 49.6,214 50.5,214 51.4,214 52.4,214 53.3,214 54.3,214 55.2,214 56.2,214 57.1,214 58,214 59,214 59.9,214 60.9,213.8 61.8,213.1 62.8,212 63.7,212 64.7,213.2 65.6,214.1 66.5,214.4 67.5,214.4 68.4,214.2 69.4,213.5 70.3,212.4 71.3,212.3 72.2,213.4 73.2,213.9 74.1,213.8 75,210.9 75.5,209.4 76,208.1 76.5,206.7 76.9,205.3 77.4,203.9 77.9,202.5 78.3,201.2 78.8,199.9 79.3,198.8 79.8,197.8 80.2,196.9 80.7,196.3 81.2,196 81.6,195.7 82.1,195.4 82.6,195.2 83.1,194.8 83.5,192.7 84,189.9 84.5,186.8 85,184.3 85.4,182.1 85.9,179.9 86.4,177.6 86.8,175.2 87.3,172.7 87.8,170.4 88.3,168.1 88.7,165.9 89.2,163.7 89.7,161.6 90.1,159.5 90.6,157.5 91.1,155.5 91.6,153.6 92,151.8 92.5,150 93,148.2 93.4,146.8 93.9,145.9 94.4,145.3 94.9,144.8 95.3,144.2 95.8,143.5 96.3,141.2 96.8,138 97.2,135.7 97.7,134.1 98.2,132.6 98.6,131.4 99.1,130.2 99.6,129 100.1,127.7 100.5,126.4 101,125 101.5,123.7 101.9,122.4 102.4,121.3 102.9,120.2 103.4,119.3 103.8,118.5 104.3,117.8 104.8,117.1 105.2,116.6 105.7,116.1 106.2,115.7 106.7,115.4 107.1,115.1 107.6,114.8 108.1,114.6 108.6,114.4 109,114.1 109.5,113.9 110,113.7 110.4,113.6 110.9,113.4 111.4,113.2 111.9,113.1 112.3,113 112.8,112.8 113.3,112.7 113.7,112.6 114.2,112.5 114.7,112.4 115.2,112.3 115.6,112.2 116.1,112.1 116.6,112.1 117,112 117.5,111.9 118.7,111.8 119.8,111.7 120.9,111.6 122.1,111.5 123.2,111.5 124.3,111.4 125.4,111.4 126.6,111.4 127.7,111.5 128.8,111.5 130,111.5 131.1,111.6 132.2,111.7 133.4,111.8 134.5,111.9 135.6,112 136.8,112.2 137.9,112.3 139,112.5 140.2,112.7 141.3,112.8 142.4,113 143.6,113.2 144.7,113.4 145.8,113.6 147,113.9 148.1,114.1 149.2,114.3 150.4,114.6 151.5,114.8 152.6,115.1 153.8,115.3 154.9,115.6 156,115.9 157.2,116.1 158.3,116.4 159.4,116.7 160.6,116.9 161.7,117.2 162.8,117.5 164,117.8 165.1,118.1 166.2,118.5 167.4,119 168.5,119.2 169.6,119.3 170.8,119.4 171.9,119.7 173,119.9 174.2,120.2 175.3,120.4 176.4,120.7 177.6,120.9 178.7,121.1 179.8,121.3 181,121.6 182.1,121.8 183.2,122 184.4,122.2 185.5,122.4 186.6,122.6 187.8,122.8 188.9,122.9 190,123.1 191.2,123.3 192.3,123.5 193.4,123.7 194.6,123.9 195.7,124.1 196.8,124.3 197.9,124.5 199.1,124.7 200.2,124.9 201.3,125.1 202.5,125.3 203.6,125.5 204.7,125.7 205.9,125.9 207,126.1 208.1,126.3 209.3,126.5 210.4,126.7 211.5,126.9 212.7,127.1 213.8,127.3 214.9,127.5 216.1,127.7 217.2,127.9 218.3,128.1 219.5,128.3 220.6,128.6 221.7,129.1 222.9,129.3 224,129.3 225.1,129.3 226.3,129.4 227.4,129.6 228.5,129.8 229.7,130 230.8,130.1 231.9,130.3 233.1,130.5 234.2,130.7 235.3,130.9 236.5,131.1 237.6,131.2 238.7,131.4 239.9,131.6 241,131.8 242.1,131.9 243.3,132.1 244.4,132.3 245.5,132.5 246.7,132.6 247.8,132.8 248.9,133 250.1,133.1 251.2,133.3 252.3,133.5 253.5,133.6 254.6,133.8 255.7,133.9 256.9,134.1 258,134.3 259.1,134.4 260.3,134.6 261.4,134.7 262.5,134.9 263.7,135 264.8,135.1 265.9,135.3 267,135.4 268.2,135.6 268.6,135.6 268.9,135.7 269.3,135.7 269.7,135.7 270.1,135.8 270.4,135.8 270.8,135.9 271.2,135.9 271.6,136 272,136 272.3,136.1 272.7,136.1 273.1,136.1 273.5,136.2 273.8,136.2 274.2,136.3 274.6,136.3 275,136.4 275.4,136.4 275.7,136.4 276.1,136.5 276.5,136.4 276.9,136.6 277.2,136.6 277.6,136.6 278,136.8 278.4,136.8 278.8,136.6 279.1,136.7 279.5,136.7 279.9,136.9 280.3,137.3 280.6,137.1 281,137.1 281.4,137.1 281.8,137.3 282.2,137 282.5,137.3 282.9,137.3 283.3,136.9 283.7,137.4 284,137.7 284.4,137.7 284.8,137.4 285.2,137.1 285.6,137.7 285.9,137.5 286.3,137.6 286.7,137.5 287.1,137.6 287.4,137.9 287.8,138 288.2,137.9 288.6,137.7 289,138 289.3,137.9 289.7,137.6 290.1,138.1 290.5,137.8 290.8,137.2 291.2,138.1 291.6,138.9 292,138.5 292.3,138.3 292.7,138.3 293.1,138 293.5,138.2 293.9,138.7 294.2,138.4 294.6,138.6 295,138.4 295.4,138.2 295.7,138 296.1,138.8 296.5,138.9 296.9,138.7 297.3,138.7 297.6,138.7 298,138.7 298.4,138.8 298.8,138.9 299.1,138.8 299.5,138.9 299.9,139 300.3,138.9 300.7,138.2 301,138.8 301.4,140.3 301.8,139.6 302.2,139.2 302.5,139.3 302.9,139.2 303.3,139.3 303.7,139.3 304.1,139.6 304.4,139.4 304.8,139.4 305.2,139.3 305.6,139.1 305.9,138.9 306.3,139.7 306.7,140.3 307.1,139.8 307.5,139.7 307.8,139.6 308.2,139.8 308.6,139.8 309,140 309.3,139.8 309.7,139.9 310.1,139.8 310.5,139.3 310.9,139.5 311.2,140.5 311.6,140.7 312,140.1 312.4,140.1 312.7,140.2 313.1,140.2 313.5,140 313.9,140.2 314.2,140.2 314.6,140.2 315,140.3 315.4,140.1 315.8,140.4 316.1,140.7 316.5,140.5 316.9,140.6 317.3,140.6 317.6,140.5 318,140.4 318.4,140.9 318.8,140.6 319.2,140.7 319.5,140.7 319.9,140.7 320.3,140.7 320.7,140.8 321,140.8 321.4,140.8 321.8,140.9 322.2,140.9 322.6,140.9 322.9,140.9 323.3,141 323.7,141 324.1,141 324.4,141.1 324.8,141.1 325.2,141.1" fill="none" stroke="#7a10f0" stroke-width="1.6" stroke-linejoin="round"/>
<polyline points="42,214 42.9,214 43.9,214 44.8,214 45.8,214 46.7,214 47.7,214 48.6,214 49.6,214 50.5,214 51.4,214 52.4,214 53.3,214 54.3,214 55.2,214 56.2,214 57.1,214 58,214 59,214 59.9,214 60.9,213.9 61.8,213.3 62.8,212.3 63.7,212.4 64.7,213.3 65.6,214.1 66.5,214.3 67.5,214.4 68.4,214.2 69.4,213.6 70.3,212.7 71.3,212.6 72.2,213.5 73.2,214 74.1,213.8 75,211.6 75.5,210.3 76,209.3 76.5,208.2 76.9,207.1 77.4,206.1 77.9,205.1 78.3,204 78.8,203 79.3,202.1 79.8,201.4 80.2,200.6 80.7,200.1 81.2,199.7 81.6,199.5 82.1,199.3 82.6,199.1 83.1,198.9 83.5,198.4 84,196.4 84.5,194.1 85,191.7 85.4,189.8 85.9,188 86.4,186.3 86.8,184.4 87.3,182.4 87.8,180.4 88.3,178.5 88.7,176.7 89.2,174.9 89.7,173.2 90.1,171.5 90.6,169.8 91.1,168.1 91.6,166.6 92,165.1 92.5,163.6 93,162.1 93.4,160.7 93.9,159.6 94.4,158.9 94.9,158.5 95.3,158.1 95.8,157.6 96.3,156.9 96.8,154.7 97.2,152.2 97.7,150.5 98.2,149.2 98.6,148.1 99.1,147.1 99.6,146.2 100.1,145.2 100.5,144.2 101,143.1 101.5,142 101.9,140.9 102.4,139.9 102.9,139.1 103.4,138.3 103.8,137.6 104.3,137 104.8,136.4 105.2,135.9 105.7,135.5 106.2,135.2 106.7,134.9 107.1,134.7 107.6,134.4 108.1,134.3 108.6,134.1 109,133.9 109.5,133.7 110,133.6 110.4,133.5 110.9,133.4 111.4,133.3 111.9,133.2 112.3,133.1 112.8,133 113.3,132.9 113.7,132.8 114.2,132.8 114.7,132.7 115.2,132.7 115.6,132.6 116.1,132.5 116.6,132.5 117,132.5 117.5,132.4 118.7,132.4 119.8,132.3 120.9,132.2 122.1,132.2 123.2,132.2 124.3,132.2 125.4,132.2 126.6,132.2 127.7,132.3 128.8,132.3 130,132.4 131.1,132.4 132.2,132.5 133.4,132.6 134.5,132.7 135.6,132.8 136.8,133 137.9,133.1 139,133.2 140.2,133.4 141.3,133.6 142.4,133.7 143.6,133.9 144.7,134.1 145.8,134.3 147,134.4 148.1,134.6 149.2,134.8 150.4,135 151.5,135.2 152.6,135.5 153.8,135.7 154.9,135.9 156,136.1 157.2,136.3 158.3,136.5 159.4,136.8 160.6,137 161.7,137.2 162.8,137.4 164,137.7 165.1,137.9 166.2,138.3 167.4,138.7 168.5,138.8 169.6,138.9 170.8,139 171.9,139.2 173,139.4 174.2,139.6 175.3,139.8 176.4,140 177.6,140.2 178.7,140.4 179.8,140.6 181,140.7 182.1,140.9 183.2,141.1 184.4,141.2 185.5,141.4 186.6,141.5 187.8,141.7 188.9,141.8 190,142 191.2,142.1 192.3,142.3 193.4,142.5 194.6,142.6 195.7,142.8 196.8,142.9 197.9,143.1 199.1,143.2 200.2,143.4 201.3,143.6 202.5,143.7 203.6,143.9 204.7,144 205.9,144.2 207,144.4 208.1,144.5 209.3,144.7 210.4,144.8 211.5,145 212.7,145.1 213.8,145.3 214.9,145.4 216.1,145.6 217.2,145.8 218.3,145.9 219.5,146.1 220.6,146.3 221.7,146.7 222.9,146.9 224,146.9 225.1,146.9 226.3,147 227.4,147.1 228.5,147.3 229.7,147.4 230.8,147.6 231.9,147.7 233.1,147.9 234.2,148 235.3,148.1 236.5,148.3 237.6,148.4 238.7,148.6 239.9,148.7 241,148.8 242.1,149 243.3,149.1 244.4,149.2 245.5,149.4 246.7,149.5 247.8,149.6 248.9,149.7 250.1,149.9 251.2,150 252.3,150.1 253.5,150.2 254.6,150.3 255.7,150.5 256.9,150.6 258,150.7 259.1,150.8 260.3,150.9 261.4,151 262.5,151.1 263.7,151.2 264.8,151.3 265.9,151.4 267,151.5 268.2,151.6 268.6,151.7 268.9,151.7 269.3,151.7 269.7,151.7 270.1,151.8 270.4,151.8 270.8,151.8 271.2,151.9 271.6,151.9 272,151.9 272.3,152 272.7,152 273.1,152 273.5,152 273.8,152.1 274.2,152.1 274.6,152.1 275,152.2 275.4,152.2 275.7,152.2 276.1,152.2 276.5,152.2 276.9,152.3 277.2,152.3 277.6,152.3 278,152.5 278.4,152.5 278.8,152.3 279.1,152.4 279.5,152.3 279.9,152.5 280.3,152.8 280.6,152.6 281,152.7 281.4,152.6 281.8,152.8 282.2,152.6 282.5,152.8 282.9,152.8 283.3,152.4 283.7,152.8 284,153.2 284.4,153.1 284.8,152.9 285.2,152.5 285.6,153.1 285.9,152.9 286.3,153 286.7,152.9 287.1,152.9 287.4,153.2 287.8,153.3 288.2,153.2 288.6,153 289,153.3 289.3,153.2 289.7,152.9 290.1,153.3 290.5,153.1 290.8,152.5 291.2,153.3 291.6,154.1 292,153.7 292.3,153.5 292.7,153.4 293.1,153.2 293.5,153.4 293.9,153.8 294.2,153.5 294.6,153.6 295,153.5 295.4,153.3 295.7,153.1 296.1,153.9 296.5,153.9 296.9,153.7 297.3,153.7 297.6,153.7 298,153.6 298.4,153.7 298.8,153.9 299.1,153.7 299.5,153.8 299.9,153.9 300.3,153.8 300.7,153.2 301,153.7 301.4,155 301.8,154.4 302.2,154 302.5,154.1 302.9,154 303.3,154 303.7,154.1 304.1,154.4 304.4,154.2 304.8,154.1 305.2,154 305.6,153.9 305.9,153.7 306.3,154.4 306.7,154.9 307.1,154.4 307.5,154.3 307.8,154.2 308.2,154.4 308.6,154.4 309,154.6 309.3,154.4 309.7,154.5 310.1,154.3 310.5,153.9 310.9,154 311.2,155 311.6,155.1 312,154.6 312.4,154.5 312.7,154.6 313.1,154.7 313.5,154.5 313.9,154.7 314.2,154.6 314.6,154.6 315,154.7 315.4,154.5 315.8,154.7 316.1,155 316.5,154.8 316.9,154.9 317.3,154.9 317.6,154.8 318,154.7 318.4,155.1 318.8,154.9 319.2,154.9 319.5,154.9 319.9,154.9 320.3,154.9 320.7,155 321,155 321.4,155 321.8,155 322.2,155 322.6,155 322.9,155 323.3,155.1 323.7,155.1 324.1,155.1 324.4,155.1 324.8,155.1 325.2,155.1" fill="none" stroke="#e0207a" stroke-width="1.6" stroke-linejoin="round"/>
<polyline points="42,214 42.9,214 43.9,214 44.8,214 45.8,214 46.7,214 47.7,214 48.6,214 49.6,214 50.5,214 51.4,214 52.4,214 53.3,214 54.3,214 55.2,214 56.2,214 57.1,214 58,214 59,214 59.9,214 60.9,213.9 61.8,213.5 62.8,212.8 63.7,212.8 64.7,213.5 65.6,214.1 66.5,214.3 67.5,214.3 68.4,214.1 69.4,213.7 70.3,213 71.3,213 72.2,213.7 73.2,214 74.1,213.9 75,212.3 75.5,211.5 76,210.7 76.5,209.9 76.9,209.2 77.4,208.4 77.9,207.7 78.3,206.9 78.8,206.2 79.3,205.6 79.8,205 80.2,204.5 80.7,204.2 81.2,204 81.6,203.8 82.1,203.7 82.6,203.6 83.1,203.4 83.5,202.6 84,201 84.5,199.3 85,197.8 85.4,196.5 85.9,195.3 86.4,194.1 86.8,192.7 87.3,191.3 87.8,190 88.3,188.7 88.7,187.4 89.2,186.2 89.7,185 90.1,183.8 90.6,182.7 91.1,181.5 91.6,180.4 92,179.4 92.5,178.4 93,177.4 93.4,176.5 93.9,175.9 94.4,175.5 94.9,175.2 95.3,174.9 95.8,174.5 96.3,173.6 96.8,171.8 97.2,170.3 97.7,169.3 98.2,168.5 98.6,167.8 99.1,167.1 99.6,166.4 100.1,165.7 100.5,165 101,164.2 101.5,163.5 101.9,162.8 102.4,162.1 102.9,161.5 103.4,161 103.8,160.6 104.3,160.1 104.8,159.8 105.2,159.5 105.7,159.2 106.2,159 106.7,158.8 107.1,158.7 107.6,158.5 108.1,158.4 108.6,158.3 109,158.1 109.5,158 110,157.9 110.4,157.8 110.9,157.7 111.4,157.6 111.9,157.6 112.3,157.5 112.8,157.4 113.3,157.4 113.7,157.3 114.2,157.3 114.7,157.2 115.2,157.2 115.6,157.1 116.1,157.1 116.6,157.1 117,157 117.5,157 118.7,157 119.8,156.9 120.9,156.9 122.1,156.9 123.2,156.9 124.3,156.8 125.4,156.8 126.6,156.8 127.7,156.8 128.8,156.9 130,156.9 131.1,157 132.2,157.1 133.4,157.2 134.5,157.3 135.6,157.4 136.8,157.6 137.9,157.7 139,157.9 140.2,158 141.3,158.2 142.4,158.4 143.6,158.5 144.7,158.7 145.8,158.8 147,159 148.1,159.1 149.2,159.3 150.4,159.4 151.5,159.5 152.6,159.6 153.8,159.7 154.9,159.8 156,159.9 157.2,160.1 158.3,160.2 159.4,160.3 160.6,160.4 161.7,160.5 162.8,160.6 164,160.8 165.1,160.9 166.2,161.1 167.4,161.3 168.5,161.4 169.6,161.4 170.8,161.4 171.9,161.6 173,161.7 174.2,161.8 175.3,161.9 176.4,162 177.6,162.1 178.7,162.2 179.8,162.3 181,162.4 182.1,162.5 183.2,162.6 184.4,162.7 185.5,162.8 186.6,162.9 187.8,163 188.9,163.1 190,163.2 191.2,163.2 192.3,163.3 193.4,163.4 194.6,163.5 195.7,163.6 196.8,163.6 197.9,163.7 199.1,163.8 200.2,163.8 201.3,163.9 202.5,164 203.6,164 204.7,164.1 205.9,164.2 207,164.2 208.1,164.3 209.3,164.3 210.4,164.4 211.5,164.5 212.7,164.5 213.8,164.6 214.9,164.7 216.1,164.7 217.2,164.8 218.3,164.9 219.5,164.9 220.6,165.1 221.7,165.3 222.9,165.4 224,165.3 225.1,165.3 226.3,165.3 227.4,165.4 228.5,165.4 229.7,165.5 230.8,165.5 231.9,165.6 233.1,165.7 234.2,165.7 235.3,165.8 236.5,165.8 237.6,165.9 238.7,165.9 239.9,166 241,166.1 242.1,166.1 243.3,166.2 244.4,166.2 245.5,166.3 246.7,166.3 247.8,166.4 248.9,166.5 250.1,166.5 251.2,166.6 252.3,166.6 253.5,166.7 254.6,166.7 255.7,166.8 256.9,166.8 258,166.9 259.1,166.9 260.3,167 261.4,167 262.5,167.1 263.7,167.1 264.8,167.2 265.9,167.2 267,167.3 268.2,167.3 268.6,167.3 268.9,167.3 269.3,167.4 269.7,167.4 270.1,167.4 270.4,167.4 270.8,167.4 271.2,167.4 271.6,167.4 272,167.5 272.3,167.5 272.7,167.5 273.1,167.5 273.5,167.5 273.8,167.5 274.2,167.5 274.6,167.6 275,167.6 275.4,167.6 275.7,167.6 276.1,167.6 276.5,167.5 276.9,167.6 277.2,167.6 277.6,167.6 278,167.8 278.4,167.8 278.8,167.6 279.1,167.6 279.5,167.6 279.9,167.7 280.3,168 280.6,167.8 281,167.8 281.4,167.8 281.8,167.9 282.2,167.7 282.5,167.9 282.9,167.9 283.3,167.6 283.7,167.9 284,168.2 284.4,168.1 284.8,167.9 285.2,167.6 285.6,168 285.9,167.9 286.3,168 286.7,167.8 287.1,167.9 287.4,168.1 287.8,168.2 288.2,168.1 288.6,167.9 289,168.1 289.3,168 289.7,167.8 290.1,168.1 290.5,167.9 290.8,167.4 291.2,168.1 291.6,168.7 292,168.4 292.3,168.2 292.7,168.1 293.1,167.9 293.5,168 293.9,168.4 294.2,168.2 294.6,168.3 295,168.1 295.4,167.9 295.7,167.8 296.1,168.4 296.5,168.4 296.9,168.3 297.3,168.2 297.6,168.2 298,168.1 298.4,168.2 298.8,168.3 299.1,168.2 299.5,168.3 299.9,168.3 300.3,168.2 300.7,167.6 301,168.1 301.4,169.3 301.8,168.7 302.2,168.3 302.5,168.4 302.9,168.3 303.3,168.3 303.7,168.3 304.1,168.6 304.4,168.4 304.8,168.3 305.2,168.2 305.6,168.1 305.9,167.9 306.3,168.5 306.7,169 307.1,168.5 307.5,168.4 307.8,168.4 308.2,168.5 308.6,168.4 309,168.6 309.3,168.4 309.7,168.5 310.1,168.4 310.5,167.9 310.9,168.1 311.2,168.9 311.6,169 312,168.5 312.4,168.5 312.7,168.6 313.1,168.6 313.5,168.4 313.9,168.5 314.2,168.4 314.6,168.5 315,168.5 315.4,168.4 315.8,168.5 316.1,168.8 316.5,168.6 316.9,168.7 317.3,168.6 317.6,168.6 318,168.4 318.4,168.8 318.8,168.6 319.2,168.6 319.5,168.6 319.9,168.6 320.3,168.6 320.7,168.6 321,168.6 321.4,168.6 321.8,168.6 322.2,168.6 322.6,168.6 322.9,168.6 323.3,168.6 323.7,168.6 324.1,168.6 324.4,168.6 324.8,168.6 325.2,168.6" fill="none" stroke="#c8c8c8" stroke-width="1.6" stroke-linejoin="round"/>
<polyline points="42,214 42.9,214 43.9,214 44.8,214 45.8,214 46.7,214 47.7,214 48.6,214 49.6,214 50.5,214 51.4,214 52.4,214 53.3,214 54.3,214 55.2,214 56.2,214 57.1,214 58,214 59,214 59.9,214 60.9,213.9 61.8,213.5 62.8,212.9 63.7,212.9 64.7,213.6 65.6,214.1 66.5,214.2 67.5,214.2 68.4,214.1 69.4,213.7 70.3,213.1 71.3,213.1 72.2,213.7 73.2,214 74.1,213.9 75,212.5 75.5,211.8 76,211.1 76.5,210.4 76.9,209.7 77.4,209 77.9,208.3 78.3,207.7 78.8,207 79.3,206.5 79.8,206 80.2,205.6 80.7,205.4 81.2,205.2 81.6,205 82.1,204.9 82.6,204.8 83.1,204.3 83.5,203 84,201.6 84.5,200.2 85,199 85.4,198 85.9,196.9 86.4,195.7 86.8,194.5 87.3,193.3 87.8,192.2 88.3,191.1 88.7,190 89.2,189 89.7,188 90.1,186.9 90.6,185.9 91.1,185 91.6,184.1 92,183.2 92.5,182.3 93,181.5 93.4,180.9 93.9,180.5 94.4,180.3 94.9,180 95.3,179.7 95.8,179.1 96.3,177.6 96.8,176.2 97.2,175.3 97.7,174.5 98.2,173.9 98.6,173.3 99.1,172.7 99.6,172.1 100.1,171.4 100.5,170.8 101,170.1 101.5,169.5 101.9,168.9 102.4,168.4 102.9,167.9 103.4,167.5 103.8,167.2 104.3,166.8 104.8,166.6 105.2,166.3 105.7,166.1 106.2,166 106.7,165.8 107.1,165.7 107.6,165.6 108.1,165.5 108.6,165.4 109,165.3 109.5,165.2 110,165.1 110.4,165 110.9,164.9 111.4,164.9 111.9,164.8 112.3,164.7 112.8,164.7 113.3,164.6 113.7,164.6 114.2,164.5 114.7,164.5 115.2,164.5 115.6,164.4 116.1,164.4 116.6,164.4 117,164.3 117.5,164.3 118.7,164.3 119.8,164.2 120.9,164.2 122.1,164.2 123.2,164.1 124.3,164.1 125.4,164.1 126.6,164.1 127.7,164.1 128.8,164.1 130,164.2 131.1,164.2 132.2,164.3 133.4,164.4 134.5,164.5 135.6,164.6 136.8,164.7 137.9,164.8 139,164.9 140.2,165 141.3,165.2 142.4,165.3 143.6,165.4 144.7,165.6 145.8,165.7 147,165.8 148.1,165.9 149.2,166 150.4,166.1 151.5,166.2 152.6,166.3 153.8,166.4 154.9,166.5 156,166.6 157.2,166.7 158.3,166.8 159.4,166.9 160.6,167 161.7,167.1 162.8,167.2 164,167.3 165.1,167.4 166.2,167.5 167.4,167.7 168.5,167.8 169.6,167.8 170.8,167.9 171.9,168 173,168.1 174.2,168.2 175.3,168.3 176.4,168.4 177.6,168.5 178.7,168.5 179.8,168.6 181,168.7 182.1,168.8 183.2,168.9 184.4,169 185.5,169.1 186.6,169.1 187.8,169.2 188.9,169.3 190,169.4 191.2,169.4 192.3,169.5 193.4,169.6 194.6,169.6 195.7,169.7 196.8,169.7 197.9,169.8 199.1,169.8 200.2,169.9 201.3,169.9 202.5,169.9 203.6,170 204.7,170 205.9,170.1 207,170.1 208.1,170.1 209.3,170.2 210.4,170.2 211.5,170.3 212.7,170.3 213.8,170.3 214.9,170.4 216.1,170.4 217.2,170.5 218.3,170.5 219.5,170.5 220.6,170.6 221.7,170.8 222.9,170.9 224,170.8 225.1,170.7 226.3,170.8 227.4,170.8 228.5,170.8 229.7,170.9 230.8,170.9 231.9,170.9 233.1,171 234.2,171 235.3,171 236.5,171.1 237.6,171.1 238.7,171.1 239.9,171.2 241,171.2 242.1,171.2 243.3,171.3 244.4,171.3 245.5,171.3 246.7,171.4 247.8,171.4 248.9,171.4 250.1,171.4 251.2,171.5 252.3,171.5 253.5,171.5 254.6,171.6 255.7,171.6 256.9,171.6 258,171.6 259.1,171.7 260.3,171.7 261.4,171.7 262.5,171.7 263.7,171.8 264.8,171.8 265.9,171.8 267,171.9 268.2,171.9 268.6,171.9 268.9,171.9 269.3,171.9 269.7,171.9 270.1,171.9 270.4,171.9 270.8,171.9 271.2,171.9 271.6,171.9 272,172 272.3,172 272.7,172 273.1,172 273.5,172 273.8,172 274.2,172 274.6,172 275,172 275.4,172 275.7,172 276.1,172 276.5,171.9 276.9,172 277.2,172 277.6,172 278,172.2 278.4,172.1 278.8,171.9 279.1,172 279.5,171.9 279.9,172.1 280.3,172.3 280.6,172.2 281,172.2 281.4,172.1 281.8,172.3 282.2,172 282.5,172.2 282.9,172.2 283.3,171.9 283.7,172.2 284,172.5 284.4,172.4 284.8,172.2 285.2,171.9 285.6,172.3 285.9,172.2 286.3,172.2 286.7,172.1 287.1,172.1 287.4,172.3 287.8,172.4 288.2,172.3 288.6,172.1 289,172.3 289.3,172.2 289.7,172 290.1,172.3 290.5,172.1 290.8,171.6 291.2,172.3 291.6,172.9 292,172.5 292.3,172.4 292.7,172.3 293.1,172.1 293.5,172.2 293.9,172.6 294.2,172.3 294.6,172.4 295,172.2 295.4,172.1 295.7,171.9 296.1,172.5 296.5,172.6 296.9,172.4 297.3,172.4 297.6,172.3 298,172.2 298.4,172.3 298.8,172.4 299.1,172.3 299.5,172.4 299.9,172.4 300.3,172.3 300.7,171.7 301,172.2 301.4,173.3 301.8,172.7 302.2,172.4 302.5,172.4 302.9,172.3 303.3,172.4 303.7,172.4 304.1,172.6 304.4,172.4 304.8,172.4 305.2,172.3 305.6,172.1 305.9,171.9 306.3,172.5 306.7,173 307.1,172.5 307.5,172.5 307.8,172.4 308.2,172.5 308.6,172.4 309,172.6 309.3,172.4 309.7,172.5 310.1,172.4 310.5,171.9 310.9,172.1 311.2,172.9 311.6,173 312,172.5 312.4,172.4 312.7,172.5 313.1,172.5 313.5,172.3 313.9,172.5 314.2,172.4 314.6,172.5 315,172.5 315.4,172.3 315.8,172.5 316.1,172.7 316.5,172.5 316.9,172.6 317.3,172.6 317.6,172.5 318,172.4 318.4,172.7 318.8,172.5 319.2,172.5 319.5,172.5 319.9,172.5 320.3,172.5 320.7,172.5 321,172.5 321.4,172.5 321.8,172.5 322.2,172.5 322.6,172.5 322.9,172.5 323.3,172.5 323.7,172.5 324.1,172.5 324.4,172.5 324.8,172.5 325.2,172.5" fill="none" stroke="#707070" stroke-width="1.6" stroke-linejoin="round"/>
<polyline points="42,214 42.9,214 43.9,214 44.8,214 45.8,214 46.7,214 47.7,214 48.6,214 49.6,214 50.5,214 51.4,214 52.4,214 53.3,214 54.3,214 55.2,214 56.2,214 57.1,214 58,214 59,214 59.9,214 60.9,213.9 61.8,213.6 62.8,213 63.7,213 64.7,213.6 65.6,214 66.5,214.2 67.5,214.2 68.4,214.1 69.4,213.8 70.3,213.2 71.3,213.2 72.2,213.7 73.2,214 74.1,213.9 75,212.7 75.5,212 76,211.5 76.5,210.9 76.9,210.3 77.4,209.7 77.9,209.1 78.3,208.5 78.8,208 79.3,207.5 79.8,207.1 80.2,206.7 80.7,206.4 81.2,206.3 81.6,206.1 82.1,206 82.6,205.9 83.1,205.8 83.5,205.1 84,203.9 84.5,202.5 85,201.4 85.4,200.4 85.9,199.5 86.4,198.5 86.8,197.5 87.3,196.4 87.8,195.4 88.3,194.4 88.7,193.4 89.2,192.5 89.7,191.5 90.1,190.6 90.6,189.7 91.1,188.8 91.6,188 92,187.2 92.5,186.4 93,185.6 93.4,185 93.9,184.5 94.4,184.3 94.9,184 95.3,183.8 95.8,183.5 96.3,182.7 96.8,181.3 97.2,180.2 97.7,179.4 98.2,178.8 98.6,178.3 99.1,177.7 99.6,177.2 100.1,176.7 100.5,176.1 101,175.5 101.5,174.9 101.9,174.4 102.4,173.9 102.9,173.4 103.4,173.1 103.8,172.7 104.3,172.4 104.8,172.1 105.2,171.9 105.7,171.7 106.2,171.5 106.7,171.4 107.1,171.3 107.6,171.1 108.1,171.1 108.6,171 109,170.9 109.5,170.8 110,170.7 110.4,170.7 110.9,170.6 111.4,170.6 111.9,170.5 112.3,170.5 112.8,170.4 113.3,170.4 113.7,170.3 114.2,170.3 114.7,170.3 115.2,170.2 115.6,170.2 116.1,170.2 116.6,170.1 117,170.1 117.5,170.1 118.7,170 119.8,170 120.9,169.9 122.1,169.9 123.2,169.9 124.3,169.8 125.4,169.8 126.6,169.8 127.7,169.8 128.8,169.8 130,169.7 131.1,169.7 132.2,169.7 133.4,169.7 134.5,169.7 135.6,169.7 136.8,169.7 137.9,169.7 139,169.7 140.2,169.7 141.3,169.7 142.4,169.8 143.6,169.8 144.7,169.8 145.8,169.8 147,169.8 148.1,169.9 149.2,169.9 150.4,169.9 151.5,169.9 152.6,170 153.8,170 154.9,170.1 156,170.1 157.2,170.1 158.3,170.2 159.4,170.2 160.6,170.3 161.7,170.3 162.8,170.3 164,170.4 165.1,170.5 166.2,170.6 167.4,170.7 168.5,170.7 169.6,170.7 170.8,170.7 171.9,170.7 173,170.8 174.2,170.8 175.3,170.9 176.4,171 177.6,171 178.7,171.1 179.8,171.1 181,171.2 182.1,171.2 183.2,171.3 184.4,171.3 185.5,171.4 186.6,171.4 187.8,171.5 188.9,171.5 190,171.5 191.2,171.6 192.3,171.6 193.4,171.7 194.6,171.7 195.7,171.8 196.8,171.8 197.9,171.8 199.1,171.9 200.2,171.9 201.3,171.9 202.5,172 203.6,172 204.7,172 205.9,172 207,172.1 208.1,172.1 209.3,172.1 210.4,172.2 211.5,172.2 212.7,172.2 213.8,172.2 214.9,172.3 216.1,172.3 217.2,172.3 218.3,172.3 219.5,172.4 220.6,172.5 221.7,172.6 222.9,172.7 224,172.6 225.1,172.5 226.3,172.5 227.4,172.6 228.5,172.6 229.7,172.6 230.8,172.6 231.9,172.7 233.1,172.7 234.2,172.7 235.3,172.7 236.5,172.8 237.6,172.8 238.7,172.8 239.9,172.8 241,172.9 242.1,172.9 243.3,172.9 244.4,172.9 245.5,173 246.7,173 247.8,173 248.9,173 250.1,173.1 251.2,173.1 252.3,173.1 253.5,173.1 254.6,173.1 255.7,173.2 256.9,173.2 258,173.2 259.1,173.2 260.3,173.3 261.4,173.3 262.5,173.3 263.7,173.3 264.8,173.3 265.9,173.4 267,173.4 268.2,173.4 268.6,173.4 268.9,173.4 269.3,173.4 269.7,173.4 270.1,173.4 270.4,173.5 270.8,173.5 271.2,173.5 271.6,173.5 272,173.5 272.3,173.5 272.7,173.5 273.1,173.5 273.5,173.5 273.8,173.5 274.2,173.5 274.6,173.5 275,173.5 275.4,173.5 275.7,173.6 276.1,173.6 276.5,173.5 276.9,173.6 277.2,173.6 277.6,173.5 278,173.7 278.4,173.7 278.8,173.5 279.1,173.5 279.5,173.5 279.9,173.6 280.3,173.9 280.6,173.7 281,173.7 281.4,173.6 281.8,173.8 282.2,173.5 282.5,173.7 282.9,173.7 283.3,173.4 283.7,173.7 284,174 284.4,173.9 284.8,173.7 285.2,173.4 285.6,173.8 285.9,173.7 286.3,173.7 286.7,173.6 287.1,173.7 287.4,173.8 287.8,174 288.2,173.9 288.6,173.6 289,173.8 289.3,173.8 289.7,173.5 290.1,173.8 290.5,173.6 290.8,173.1 291.2,173.8 291.6,174.4 292,174.1 292.3,173.9 292.7,173.8 293.1,173.6 293.5,173.7 293.9,174.1 294.2,173.9 294.6,173.9 295,173.8 295.4,173.6 295.7,173.5 296.1,174 296.5,174.1 296.9,173.9 297.3,173.9 297.6,173.9 298,173.8 298.4,173.9 298.8,173.9 299.1,173.8 299.5,173.9 299.9,173.9 300.3,173.8 300.7,173.3 301,173.7 301.4,174.9 301.8,174.3 302.2,173.9 302.5,174 302.9,173.9 303.3,173.9 303.7,173.9 304.1,174.2 304.4,174 304.8,173.9 305.2,173.8 305.6,173.7 305.9,173.5 306.3,174.1 306.7,174.6 307.1,174.1 307.5,174 307.8,173.9 308.2,174 308.6,174 309,174.2 309.3,174 309.7,174.1 310.1,174 310.5,173.5 310.9,173.7 311.2,174.5 311.6,174.6 312,174.1 312.4,174 312.7,174.1 313.1,174.1 313.5,173.9 313.9,174.1 314.2,174 314.6,174.1 315,174.1 315.4,173.9 315.8,174.1 316.1,174.3 316.5,174.2 316.9,174.2 317.3,174.2 317.6,174.1 318,174 318.4,174.3 318.8,174.1 319.2,174.1 319.5,174.2 319.9,174.2 320.3,174.2 320.7,174.2 321,174.2 321.4,174.2 321.8,174.2 322.2,174.2 322.6,174.2 322.9,174.2 323.3,174.2 323.7,174.2 324.1,174.2 324.4,174.2 324.8,174.2 325.2,174.2" fill="none" stroke="#f0f080" stroke-width="1.7" stroke-linejoin="round"/>
<polyline points="42,214 42.9,214 43.9,214 44.8,214 45.8,214 46.7,214 47.7,214 48.6,214 49.6,214 50.5,214 51.4,214 52.4,214 53.3,214 54.3,214 55.2,214 56.2,214 57.1,214 58,214 59,214 59.9,214 60.9,213.9 61.8,213.6 62.8,213.1 63.7,213.1 64.7,213.6 65.6,214 66.5,214.2 67.5,214.2 68.4,214.1 69.4,213.8 70.3,213.3 71.3,213.2 72.2,213.7 73.2,214 74.1,213.9 75,212.8 75.5,212.2 76,211.7 76.5,211.1 76.9,210.6 77.4,210.1 77.9,209.5 78.3,209 78.8,208.5 79.3,208.1 79.8,207.7 80.2,207.3 80.7,207.1 81.2,206.9 81.6,206.8 82.1,206.7 82.6,206.6 83.1,206.5 83.5,206 84,204.9 84.5,203.7 85,202.6 85.4,201.7 85.9,200.9 86.4,200 86.8,199 87.3,198.1 87.8,197.1 88.3,196.2 88.7,195.3 89.2,194.4 89.7,193.6 90.1,192.7 90.6,191.9 91.1,191.1 91.6,190.3 92,189.6 92.5,188.9 93,188.1 93.4,187.5 93.9,187 94.4,186.8 94.9,186.6 95.3,186.4 95.8,186.1 96.3,185.5 96.8,184.3 97.2,183.2 97.7,182.5 98.2,181.9 98.6,181.3 99.1,180.9 99.6,180.4 100.1,179.9 100.5,179.4 101,178.8 101.5,178.3 101.9,177.8 102.4,177.3 102.9,176.9 103.4,176.5 103.8,176.2 104.3,175.9 104.8,175.7 105.2,175.4 105.7,175.3 106.2,175.1 106.7,175 107.1,174.8 107.6,174.7 108.1,174.7 108.6,174.6 109,174.5 109.5,174.4 110,174.4 110.4,174.3 110.9,174.2 111.4,174.2 111.9,174.2 112.3,174.1 112.8,174.1 113.3,174 113.7,174 114.2,174 114.7,173.9 115.2,173.9 115.6,173.9 116.1,173.8 116.6,173.8 117,173.8 117.5,173.8 118.7,173.7 119.8,173.7 120.9,173.6 122.1,173.6 123.2,173.5 124.3,173.5 125.4,173.5 126.6,173.5 127.7,173.4 128.8,173.4 130,173.4 131.1,173.4 132.2,173.4 133.4,173.4 134.5,173.4 135.6,173.4 136.8,173.4 137.9,173.4 139,173.4 140.2,173.4 141.3,173.4 142.4,173.4 143.6,173.4 144.7,173.4 145.8,173.4 147,173.4 148.1,173.4 149.2,173.4 150.4,173.4 151.5,173.4 152.6,173.4 153.8,173.4 154.9,173.4 156,173.4 157.2,173.4 158.3,173.4 159.4,173.5 160.6,173.5 161.7,173.5 162.8,173.5 164,173.5 165.1,173.5 166.2,173.6 167.4,173.6 168.5,173.6 169.6,173.6 170.8,173.6 171.9,173.6 173,173.6 174.2,173.6 175.3,173.6 176.4,173.6 177.6,173.6 178.7,173.6 179.8,173.7 181,173.7 182.1,173.7 183.2,173.7 184.4,173.7 185.5,173.7 186.6,173.7 187.8,173.7 188.9,173.8 190,173.8 191.2,173.8 192.3,173.8 193.4,173.8 194.6,173.8 195.7,173.8 196.8,173.9 197.9,173.9 199.1,173.9 200.2,173.9 201.3,173.9 202.5,173.9 203.6,173.9 204.7,173.9 205.9,174 207,174 208.1,174 209.3,174 210.4,174 211.5,174 212.7,174 213.8,174.1 214.9,174.1 216.1,174.1 217.2,174.1 218.3,174.1 219.5,174.2 220.6,174.2 221.7,174.4 222.9,174.4 224,174.3 225.1,174.2 226.3,174.2 227.4,174.3 228.5,174.3 229.7,174.3 230.8,174.3 231.9,174.3 233.1,174.3 234.2,174.4 235.3,174.4 236.5,174.4 237.6,174.4 238.7,174.4 239.9,174.5 241,174.5 242.1,174.5 243.3,174.5 244.4,174.5 245.5,174.6 246.7,174.6 247.8,174.6 248.9,174.6 250.1,174.6 251.2,174.7 252.3,174.7 253.5,174.7 254.6,174.7 255.7,174.8 256.9,174.8 258,174.8 259.1,174.8 260.3,174.8 261.4,174.9 262.5,174.9 263.7,174.9 264.8,174.9 265.9,175 267,175 268.2,175 268.6,175 268.9,175 269.3,175 269.7,175 270.1,175.1 270.4,175.1 270.8,175.1 271.2,175.1 271.6,175.1 272,175.1 272.3,175.1 272.7,175.1 273.1,175.1 273.5,175.1 273.8,175.1 274.2,175.1 274.6,175.2 275,175.2 275.4,175.2 275.7,175.2 276.1,175.2 276.5,175.1 276.9,175.2 277.2,175.2 277.6,175.2 278,175.3 278.4,175.3 278.8,175.1 279.1,175.2 279.5,175.1 279.9,175.2 280.3,175.5 280.6,175.3 281,175.4 281.4,175.3 281.8,175.5 282.2,175.2 282.5,175.4 282.9,175.4 283.3,175.1 283.7,175.4 284,175.7 284.4,175.6 284.8,175.4 285.2,175.1 285.6,175.5 285.9,175.4 286.3,175.4 286.7,175.3 287.1,175.4 287.4,175.6 287.8,175.7 288.2,175.6 288.6,175.3 289,175.6 289.3,175.5 289.7,175.3 290.1,175.6 290.5,175.4 290.8,174.9 291.2,175.5 291.6,176.1 292,175.8 292.3,175.6 292.7,175.6 293.1,175.4 293.5,175.5 293.9,175.8 294.2,175.6 294.6,175.7 295,175.5 295.4,175.4 295.7,175.2 296.1,175.8 296.5,175.9 296.9,175.7 297.3,175.7 297.6,175.7 298,175.6 298.4,175.7 298.8,175.8 299.1,175.6 299.5,175.7 299.9,175.8 300.3,175.7 300.7,175.1 301,175.6 301.4,176.7 301.8,176.1 302.2,175.8 302.5,175.8 302.9,175.7 303.3,175.8 303.7,175.8 304.1,176.1 304.4,175.9 304.8,175.8 305.2,175.8 305.6,175.6 305.9,175.4 306.3,176 306.7,176.5 307.1,176 307.5,176 307.8,175.9 308.2,176 308.6,176 309,176.1 309.3,176 309.7,176.1 310.1,175.9 310.5,175.5 310.9,175.6 311.2,176.4 311.6,176.5 312,176.1 312.4,176 312.7,176.1 313.1,176.2 313.5,176 313.9,176.1 314.2,176.1 314.6,176.1 315,176.1 315.4,176 315.8,176.2 316.1,176.4 316.5,176.2 316.9,176.3 317.3,176.3 317.6,176.2 318,176.1 318.4,176.5 318.8,176.3 319.2,176.3 319.5,176.3 319.9,176.3 320.3,176.3 320.7,176.3 321,176.3 321.4,176.3 321.8,176.3 322.2,176.4 322.6,176.4 322.9,176.4 323.3,176.4 323.7,176.4 324.1,176.4 324.4,176.4 324.8,176.4 325.2,176.4" fill="none" stroke="#a0f0f0" stroke-width="1.7" stroke-linejoin="round"/>
<polyline points="42,214 42.9,214 43.9,214 44.8,214 45.8,214 46.7,214 47.7,214 48.6,214 49.6,214 50.5,214 51.4,214 52.4,214 53.3,214 54.3,214 55.2,214 56.2,214 57.1,214 58,214 59,214 59.9,214 60.9,213.9 61.8,213.6 62.8,213.1 63.7,213.1 64.7,213.6 65.6,214 66.5,214.2 67.5,214.2 68.4,214.1 69.4,213.8 70.3,213.3 71.3,213.3 72.2,213.8 73.2,214 74.1,213.9 75,212.9 75.5,212.3 76,211.8 76.5,211.3 76.9,210.7 77.4,210.2 77.9,209.8 78.3,209.3 78.8,208.8 79.3,208.4 79.8,208 80.2,207.6 80.7,207.4 81.2,207.2 81.6,207.1 82.1,207 82.6,207 83.1,206.8 83.5,206.4 84,205.4 84.5,204.3 85,203.2 85.4,202.3 85.9,201.5 86.4,200.7 86.8,199.8 87.3,198.8 87.8,197.9 88.3,197 88.7,196.2 89.2,195.3 89.7,194.5 90.1,193.7 90.6,192.9 91.1,192.1 91.6,191.4 92,190.7 92.5,190 93,189.3 93.4,188.7 93.9,188.2 94.4,187.9 94.9,187.7 95.3,187.5 95.8,187.3 96.3,186.8 96.8,185.7 97.2,184.5 97.7,183.8 98.2,183.3 98.6,182.8 99.1,182.3 99.6,181.8 100.1,181.4 100.5,180.9 101,180.4 101.5,179.8 101.9,179.4 102.4,178.9 102.9,178.5 103.4,178.1 103.8,177.8 104.3,177.5 104.8,177.3 105.2,177.1 105.7,176.9 106.2,176.7 106.7,176.6 107.1,176.5 107.6,176.4 108.1,176.3 108.6,176.2 109,176.2 109.5,176.1 110,176 110.4,176 110.9,175.9 111.4,175.9 111.9,175.8 112.3,175.8 112.8,175.7 113.3,175.7 113.7,175.7 114.2,175.6 114.7,175.6 115.2,175.6 115.6,175.5 116.1,175.5 116.6,175.5 117,175.5 117.5,175.4 118.7,175.4 119.8,175.3 120.9,175.3 122.1,175.3 123.2,175.2 124.3,175.2 125.4,175.2 126.6,175.1 127.7,175.1 128.8,175.1 130,175.1 131.1,175.1 132.2,175.1 133.4,175.1 134.5,175 135.6,175 136.8,175 137.9,175 139,175 140.2,175 141.3,175 142.4,175 143.6,175 144.7,175 145.8,175.1 147,175.1 148.1,175.1 149.2,175.1 150.4,175.1 151.5,175.1 152.6,175.1 153.8,175.1 154.9,175.1 156,175.1 157.2,175.1 158.3,175.1 159.4,175.1 160.6,175.1 161.7,175.1 162.8,175.1 164,175.1 165.1,175.1 166.2,175.2 167.4,175.2 168.5,175.2 169.6,175.2 170.8,175.1 171.9,175.1 173,175.1 174.2,175.2 175.3,175.2 176.4,175.2 177.6,175.2 178.7,175.2 179.8,175.2 181,175.2 182.1,175.2 183.2,175.2 184.4,175.2 185.5,175.2 186.6,175.2 187.8,175.2 188.9,175.2 190,175.2 191.2,175.3 192.3,175.3 193.4,175.3 194.6,175.3 195.7,175.3 196.8,175.3 197.9,175.3 199.1,175.3 200.2,175.3 201.3,175.3 202.5,175.3 203.6,175.3 204.7,175.3 205.9,175.3 207,175.4 208.1,175.4 209.3,175.4 210.4,175.4 211.5,175.4 212.7,175.4 213.8,175.4 214.9,175.4 216.1,175.4 217.2,175.4 218.3,175.4 219.5,175.5 220.6,175.5 221.7,175.7 222.9,175.7 224,175.6 225.1,175.5 226.3,175.5 227.4,175.5 228.5,175.5 229.7,175.5 230.8,175.6 231.9,175.6 233.1,175.6 234.2,175.6 235.3,175.6 236.5,175.6 237.6,175.6 238.7,175.6 239.9,175.7 241,175.7 242.1,175.7 243.3,175.7 244.4,175.7 245.5,175.7 246.7,175.7 247.8,175.7 248.9,175.8 250.1,175.8 251.2,175.8 252.3,175.8 253.5,175.8 254.6,175.8 255.7,175.8 256.9,175.9 258,175.9 259.1,175.9 260.3,175.9 261.4,175.9 262.5,175.9 263.7,176 264.8,176 265.9,176 267,176 268.2,176 268.6,176 268.9,176 269.3,176 269.7,176 270.1,176 270.4,176 270.8,176.1 271.2,176.1 271.6,176.1 272,176.1 272.3,176.1 272.7,176.1 273.1,176.1 273.5,176.1 273.8,176.1 274.2,176.1 274.6,176.1 275,176.1 275.4,176.1 275.7,176.1 276.1,176.1 276.5,176 276.9,176.1 277.2,176.1 277.6,176.1 278,176.3 278.4,176.2 278.8,176 279.1,176.1 279.5,176 279.9,176.2 280.3,176.4 280.6,176.2 281,176.3 281.4,176.2 281.8,176.4 282.2,176.1 282.5,176.3 282.9,176.3 283.3,176 283.7,176.3 284,176.5 284.4,176.5 284.8,176.2 285.2,176 285.6,176.4 285.9,176.3 286.3,176.3 286.7,176.2 287.1,176.2 287.4,176.4 287.8,176.5 288.2,176.4 288.6,176.2 289,176.4 289.3,176.3 289.7,176.1 290.1,176.4 290.5,176.2 290.8,175.7 291.2,176.4 291.6,177 292,176.6 292.3,176.5 292.7,176.4 293.1,176.2 293.5,176.3 293.9,176.7 294.2,176.4 294.6,176.5 295,176.4 295.4,176.2 295.7,176 296.1,176.6 296.5,176.7 296.9,176.5 297.3,176.5 297.6,176.5 298,176.4 298.4,176.5 298.8,176.5 299.1,176.4 299.5,176.5 299.9,176.5 300.3,176.5 300.7,175.9 301,176.3 301.4,177.4 301.8,176.9 302.2,176.6 302.5,176.6 302.9,176.5 303.3,176.6 303.7,176.6 304.1,176.8 304.4,176.6 304.8,176.6 305.2,176.5 305.6,176.3 305.9,176.2 306.3,176.7 306.7,177.2 307.1,176.7 307.5,176.7 307.8,176.6 308.2,176.7 308.6,176.7 309,176.8 309.3,176.7 309.7,176.7 310.1,176.6 310.5,176.2 310.9,176.3 311.2,177.1 311.6,177.2 312,176.7 312.4,176.7 312.7,176.8 313.1,176.8 313.5,176.6 313.9,176.8 314.2,176.7 314.6,176.8 315,176.8 315.4,176.6 315.8,176.8 316.1,177 316.5,176.9 316.9,177 317.3,176.9 317.6,176.9 318,176.7 318.4,177.1 318.8,176.9 319.2,176.9 319.5,176.9 319.9,176.9 320.3,176.9 320.7,176.9 321,176.9 321.4,176.9 321.8,176.9 322.2,176.9 322.6,177 322.9,177 323.3,177 323.7,177 324.1,177 324.4,177 324.8,177 325.2,177" fill="none" stroke="#c0c0ff" stroke-width="1.6" stroke-linejoin="round"/>
<polyline points="42,214 42.9,214 43.9,214 44.8,214 45.8,214 46.7,214 47.7,214 48.6,214 49.6,214 50.5,214 51.4,214 52.4,214 53.3,214 54.3,214 55.2,214 56.2,214 57.1,214 58,214 59,214 59.9,214 60.9,213.9 61.8,213.6 62.8,213.1 63.7,213.1 64.7,213.7 65.6,214 66.5,214.2 67.5,214.2 68.4,214.1 69.4,213.8 70.3,213.3 71.3,213.3 72.2,213.8 73.2,214 74.1,213.9 75,212.9 75.5,212.4 76,211.9 76.5,211.4 76.9,210.9 77.4,210.4 77.9,210 78.3,209.5 78.8,209 79.3,208.6 79.8,208.3 80.2,207.9 80.7,207.7 81.2,207.5 81.6,207.4 82.1,207.3 82.6,207.3 83.1,207.2 83.5,206.9 84,205.9 84.5,204.8 85,203.8 85.4,202.9 85.9,202.1 86.4,201.3 86.8,200.5 87.3,199.6 87.8,198.7 88.3,197.8 88.7,197 89.2,196.2 89.7,195.4 90.1,194.7 90.6,193.9 91.1,193.2 91.6,192.5 92,191.8 92.5,191.1 93,190.4 93.4,189.8 93.9,189.4 94.4,189.1 94.9,188.9 95.3,188.7 95.8,188.5 96.3,188.1 96.8,187 97.2,185.9 97.7,185.2 98.2,184.7 98.6,184.2 99.1,183.7 99.6,183.3 100.1,182.8 100.5,182.4 101,181.9 101.5,181.4 101.9,180.9 102.4,180.5 102.9,180.1 103.4,179.7 103.8,179.4 104.3,179.2 104.8,178.9 105.2,178.7 105.7,178.5 106.2,178.4 106.7,178.3 107.1,178.1 107.6,178.1 108.1,178 108.6,177.9 109,177.8 109.5,177.8 110,177.7 110.4,177.6 110.9,177.6 111.4,177.5 111.9,177.5 112.3,177.5 112.8,177.4 113.3,177.4 113.7,177.3 114.2,177.3 114.7,177.3 115.2,177.2 115.6,177.2 116.1,177.2 116.6,177.2 117,177.1 117.5,177.1 118.7,177.1 119.8,177 120.9,177 122.1,176.9 123.2,176.9 124.3,176.9 125.4,176.9 126.6,176.8 127.7,176.8 128.8,176.8 130,176.8 131.1,176.8 132.2,176.7 133.4,176.7 134.5,176.7 135.6,176.7 136.8,176.7 137.9,176.7 139,176.7 140.2,176.7 141.3,176.7 142.4,176.7 143.6,176.7 144.7,176.7 145.8,176.7 147,176.7 148.1,176.7 149.2,176.7 150.4,176.7 151.5,176.7 152.6,176.8 153.8,176.8 154.9,176.8 156,176.8 157.2,176.8 158.3,176.8 159.4,176.8 160.6,176.8 161.7,176.8 162.8,176.8 164,176.8 165.1,176.8 166.2,176.9 167.4,176.9 168.5,176.9 169.6,176.9 170.8,176.8 171.9,176.8 173,176.8 174.2,176.8 175.3,176.9 176.4,176.9 177.6,176.9 178.7,176.9 179.8,176.9 181,176.9 182.1,176.9 183.2,176.9 184.4,176.9 185.5,176.9 186.6,176.9 187.8,176.9 188.9,176.9 190,176.9 191.2,176.9 192.3,177 193.4,177 194.6,177 195.7,177 196.8,177 197.9,177 199.1,177 200.2,177 201.3,177 202.5,177 203.6,177 204.7,177 205.9,177 207,177 208.1,177 209.3,177 210.4,177 211.5,177.1 212.7,177.1 213.8,177.1 214.9,177.1 216.1,177.1 217.2,177.1 218.3,177.1 219.5,177.1 220.6,177.2 221.7,177.3 222.9,177.3 224,177.2 225.1,177.2 226.3,177.1 227.4,177.1 228.5,177.1 229.7,177.2 230.8,177.2 231.9,177.2 233.1,177.2 234.2,177.2 235.3,177.2 236.5,177.2 237.6,177.2 238.7,177.2 239.9,177.2 241,177.2 242.1,177.2 243.3,177.2 244.4,177.2 245.5,177.3 246.7,177.3 247.8,177.3 248.9,177.3 250.1,177.3 251.2,177.3 252.3,177.3 253.5,177.3 254.6,177.3 255.7,177.3 256.9,177.3 258,177.3 259.1,177.3 260.3,177.3 261.4,177.4 262.5,177.4 263.7,177.4 264.8,177.4 265.9,177.4 267,177.4 268.2,177.4 268.6,177.4 268.9,177.4 269.3,177.4 269.7,177.4 270.1,177.4 270.4,177.4 270.8,177.4 271.2,177.4 271.6,177.4 272,177.4 272.3,177.4 272.7,177.4 273.1,177.4 273.5,177.4 273.8,177.4 274.2,177.4 274.6,177.4 275,177.5 275.4,177.5 275.7,177.5 276.1,177.5 276.5,177.4 276.9,177.5 277.2,177.4 277.6,177.4 278,177.6 278.4,177.5 278.8,177.3 279.1,177.4 279.5,177.3 279.9,177.5 280.3,177.7 280.6,177.5 281,177.6 281.4,177.5 281.8,177.6 282.2,177.4 282.5,177.5 282.9,177.5 283.3,177.2 283.7,177.5 284,177.8 284.4,177.7 284.8,177.5 285.2,177.2 285.6,177.6 285.9,177.5 286.3,177.6 286.7,177.4 287.1,177.5 287.4,177.6 287.8,177.7 288.2,177.6 288.6,177.4 289,177.6 289.3,177.5 289.7,177.3 290.1,177.6 290.5,177.4 290.8,176.9 291.2,177.6 291.6,178.2 292,177.8 292.3,177.7 292.7,177.6 293.1,177.4 293.5,177.5 293.9,177.8 294.2,177.6 294.6,177.7 295,177.5 295.4,177.3 295.7,177.2 296.1,177.8 296.5,177.8 296.9,177.6 297.3,177.6 297.6,177.6 298,177.5 298.4,177.6 298.8,177.7 299.1,177.5 299.5,177.6 299.9,177.6 300.3,177.6 300.7,177 301,177.4 301.4,178.5 301.8,178 302.2,177.6 302.5,177.7 302.9,177.6 303.3,177.6 303.7,177.6 304.1,177.9 304.4,177.7 304.8,177.6 305.2,177.5 305.6,177.4 305.9,177.2 306.3,177.8 306.7,178.2 307.1,177.8 307.5,177.7 307.8,177.6 308.2,177.7 308.6,177.7 309,177.8 309.3,177.7 309.7,177.8 310.1,177.6 310.5,177.2 310.9,177.3 311.2,178.1 311.6,178.2 312,177.7 312.4,177.7 312.7,177.8 313.1,177.8 313.5,177.6 313.9,177.8 314.2,177.7 314.6,177.7 315,177.7 315.4,177.6 315.8,177.8 316.1,178 316.5,177.8 316.9,177.9 317.3,177.8 317.6,177.8 318,177.7 318.4,178 318.8,177.8 319.2,177.8 319.5,177.8 319.9,177.8 320.3,177.8 320.7,177.8 321,177.8 321.4,177.8 321.8,177.8 322.2,177.8 322.6,177.8 322.9,177.8 323.3,177.8 323.7,177.8 324.1,177.8 324.4,177.8 324.8,177.8 325.2,177.8" fill="none" stroke="#402030" stroke-width="1.6" stroke-linejoin="round"/>
<polyline points="42,214 42.9,214 43.9,214 44.8,214 45.8,214 46.7,214 47.7,214 48.6,214 49.6,214 50.5,214 51.4,214 52.4,214 53.3,214 54.3,214 55.2,214 56.2,214 57.1,214 58,214 59,214 59.9,214 60.9,213.9 61.8,213.6 62.8,213.2 63.7,213.2 64.7,213.7 65.6,214 66.5,214.2 67.5,214.2 68.4,214.1 69.4,213.8 70.3,213.3 71.3,213.3 72.2,213.8 73.2,214 74.1,213.9 75,213 75.5,212.4 76,212 76.5,211.5 76.9,211.1 77.4,210.6 77.9,210.2 78.3,209.7 78.8,209.3 79.3,208.9 79.8,208.6 80.2,208.3 80.7,208 81.2,207.9 81.6,207.8 82.1,207.7 82.6,207.6 83.1,207.6 83.5,207.3 84,206.5 84.5,205.5 85,204.4 85.4,203.6 85.9,202.9 86.4,202.1 86.8,201.3 87.3,200.4 87.8,199.6 88.3,198.8 88.7,198 89.2,197.3 89.7,196.5 90.1,195.8 90.6,195.1 91.1,194.4 91.6,193.7 92,193.1 92.5,192.4 93,191.8 93.4,191.2 93.9,190.7 94.4,190.5 94.9,190.3 95.3,190.1 95.8,189.9 96.3,189.6 96.8,188.6 97.2,187.5 97.7,186.8 98.2,186.3 98.6,185.8 99.1,185.4 99.6,185 100.1,184.6 100.5,184.1 101,183.7 101.5,183.2 101.9,182.7 102.4,182.3 102.9,181.9 103.4,181.6 103.8,181.3 104.3,181.1 104.8,180.8 105.2,180.6 105.7,180.4 106.2,180.3 106.7,180.2 107.1,180.1 107.6,180 108.1,179.9 108.6,179.8 109,179.8 109.5,179.7 110,179.7 110.4,179.6 110.9,179.6 111.4,179.5 111.9,179.5 112.3,179.5 112.8,179.4 113.3,179.4 113.7,179.4 114.2,179.3 114.7,179.3 115.2,179.3 115.6,179.3 116.1,179.2 116.6,179.2 117,179.2 117.5,179.2 118.7,179.2 119.8,179.1 120.9,179.1 122.1,179.1 123.2,179.1 124.3,179 125.4,179 126.6,179 127.7,179 128.8,179 130,179 131.1,179 132.2,179 133.4,179 134.5,179 135.6,179 136.8,179 137.9,179 139,179 140.2,179 141.3,179 142.4,179 143.6,179 144.7,179 145.8,179 147,179 148.1,179 149.2,179.1 150.4,179.1 151.5,179.1 152.6,179.1 153.8,179.1 154.9,179.1 156,179.1 157.2,179.2 158.3,179.2 159.4,179.2 160.6,179.2 161.7,179.2 162.8,179.3 164,179.3 165.1,179.3 166.2,179.4 167.4,179.4 168.5,179.5 169.6,179.4 170.8,179.4 171.9,179.4 173,179.5 174.2,179.5 175.3,179.5 176.4,179.5 177.6,179.5 178.7,179.6 179.8,179.6 181,179.6 182.1,179.6 183.2,179.6 184.4,179.7 185.5,179.7 186.6,179.7 187.8,179.7 188.9,179.7 190,179.7 191.2,179.7 192.3,179.8 193.4,179.8 194.6,179.8 195.7,179.8 196.8,179.8 197.9,179.8 199.1,179.8 200.2,179.8 201.3,179.8 202.5,179.8 203.6,179.8 204.7,179.8 205.9,179.8 207,179.8 208.1,179.8 209.3,179.8 210.4,179.8 211.5,179.8 212.7,179.8 213.8,179.8 214.9,179.8 216.1,179.8 217.2,179.8 218.3,179.8 219.5,179.8 220.6,179.9 221.7,180 222.9,180 224,179.9 225.1,179.8 226.3,179.8 227.4,179.8 228.5,179.8 229.7,179.8 230.8,179.8 231.9,179.8 233.1,179.8 234.2,179.8 235.3,179.8 236.5,179.8 237.6,179.8 238.7,179.8 239.9,179.8 241,179.8 242.1,179.8 243.3,179.8 244.4,179.8 245.5,179.8 246.7,179.8 247.8,179.8 248.9,179.8 250.1,179.7 251.2,179.7 252.3,179.7 253.5,179.7 254.6,179.7 255.7,179.7 256.9,179.7 258,179.7 259.1,179.7 260.3,179.7 261.4,179.7 262.5,179.7 263.7,179.7 264.8,179.7 265.9,179.7 267,179.7 268.2,179.7 268.6,179.7 268.9,179.7 269.3,179.7 269.7,179.7 270.1,179.7 270.4,179.7 270.8,179.6 271.2,179.6 271.6,179.6 272,179.6 272.3,179.6 272.7,179.6 273.1,179.6 273.5,179.6 273.8,179.6 274.2,179.6 274.6,179.6 275,179.6 275.4,179.6 275.7,179.6 276.1,179.6 276.5,179.5 276.9,179.6 277.2,179.6 277.6,179.6 278,179.7 278.4,179.7 278.8,179.5 279.1,179.5 279.5,179.4 279.9,179.6 280.3,179.8 280.6,179.6 281,179.6 281.4,179.5 281.8,179.7 282.2,179.5 282.5,179.6 282.9,179.6 283.3,179.3 283.7,179.6 284,179.8 284.4,179.7 284.8,179.5 285.2,179.2 285.6,179.6 285.9,179.5 286.3,179.5 286.7,179.4 287.1,179.4 287.4,179.6 287.8,179.7 288.2,179.6 288.6,179.4 289,179.6 289.3,179.5 289.7,179.2 290.1,179.5 290.5,179.3 290.8,178.8 291.2,179.5 291.6,180 292,179.7 292.3,179.5 292.7,179.4 293.1,179.2 293.5,179.3 293.9,179.7 294.2,179.5 294.6,179.5 295,179.3 295.4,179.2 295.7,179 296.1,179.6 296.5,179.6 296.9,179.4 297.3,179.4 297.6,179.4 298,179.3 298.4,179.3 298.8,179.4 299.1,179.3 299.5,179.4 299.9,179.4 300.3,179.3 300.7,178.7 301,179.2 301.4,180.2 301.8,179.7 302.2,179.3 302.5,179.4 302.9,179.2 303.3,179.3 303.7,179.3 304.1,179.5 304.4,179.3 304.8,179.3 305.2,179.2 305.6,179 305.9,178.8 306.3,179.4 306.7,179.8 307.1,179.4 307.5,179.3 307.8,179.2 308.2,179.3 308.6,179.2 309,179.4 309.3,179.2 309.7,179.3 310.1,179.1 310.5,178.7 310.9,178.8 311.2,179.6 311.6,179.7 312,179.2 312.4,179.2 312.7,179.2 313.1,179.2 313.5,179 313.9,179.2 314.2,179.1 314.6,179.1 315,179.1 315.4,179 315.8,179.1 316.1,179.3 316.5,179.2 316.9,179.2 317.3,179.2 317.6,179.1 318,179 318.4,179.3 318.8,179.1 319.2,179.1 319.5,179.1 319.9,179.1 320.3,179.1 320.7,179.1 321,179 321.4,179 321.8,179 322.2,179 322.6,179 322.9,179 323.3,179 323.7,179 324.1,179 324.4,179 324.8,179 325.2,179" fill="none" stroke="#800080" stroke-width="1.7" stroke-linejoin="round"/>
<rect x="32.5" y="6.5" width="302.2" height="224.3" fill="none" stroke="#000" stroke-width="1.3"/>
<line x1="28.3" y1="230.8" x2="32.5" y2="230.8" stroke="#000" stroke-width="1.2"/>
<text x="25.5" y="232.8" font-size="8.6" text-anchor="end" fill="#1a1a1a" font-family='"Liberation Sans", sans-serif' stroke="#1a1a1a" stroke-width="0.22" >0</text>
<line x1="30.3" y1="216.8" x2="32.5" y2="216.8" stroke="#000" stroke-width="1.2"/>
<line x1="28.3" y1="202.8" x2="32.5" y2="202.8" stroke="#000" stroke-width="1.2"/>
<text x="25.5" y="204.7" font-size="8.6" text-anchor="end" fill="#1a1a1a" font-family='"Liberation Sans", sans-serif' stroke="#1a1a1a" stroke-width="0.22" >10</text>
<line x1="30.3" y1="188.8" x2="32.5" y2="188.8" stroke="#000" stroke-width="1.2"/>
<line x1="28.3" y1="174.8" x2="32.5" y2="174.8" stroke="#000" stroke-width="1.2"/>
<text x="25.5" y="176.7" font-size="8.6" text-anchor="end" fill="#1a1a1a" font-family='"Liberation Sans", sans-serif' stroke="#1a1a1a" stroke-width="0.22" >20</text>
<line x1="30.3" y1="160.7" x2="32.5" y2="160.7" stroke="#000" stroke-width="1.2"/>
<line x1="28.3" y1="146.7" x2="32.5" y2="146.7" stroke="#000" stroke-width="1.2"/>
<text x="25.5" y="148.6" font-size="8.6" text-anchor="end" fill="#1a1a1a" font-family='"Liberation Sans", sans-serif' stroke="#1a1a1a" stroke-width="0.22" >30</text>
<line x1="30.3" y1="132.7" x2="32.5" y2="132.7" stroke="#000" stroke-width="1.2"/>
<line x1="28.3" y1="118.7" x2="32.5" y2="118.7" stroke="#000" stroke-width="1.2"/>
<text x="25.5" y="120.6" font-size="8.6" text-anchor="end" fill="#1a1a1a" font-family='"Liberation Sans", sans-serif' stroke="#1a1a1a" stroke-width="0.22" >40</text>
<line x1="30.3" y1="104.7" x2="32.5" y2="104.7" stroke="#000" stroke-width="1.2"/>
<line x1="28.3" y1="90.6" x2="32.5" y2="90.6" stroke="#000" stroke-width="1.2"/>
<text x="25.5" y="92.5" font-size="8.6" text-anchor="end" fill="#1a1a1a" font-family='"Liberation Sans", sans-serif' stroke="#1a1a1a" stroke-width="0.22" >50</text>
<line x1="30.3" y1="76.6" x2="32.5" y2="76.6" stroke="#000" stroke-width="1.2"/>
<line x1="28.3" y1="62.6" x2="32.5" y2="62.6" stroke="#000" stroke-width="1.2"/>
<text x="25.5" y="64.5" font-size="8.6" text-anchor="end" fill="#1a1a1a" font-family='"Liberation Sans", sans-serif' stroke="#1a1a1a" stroke-width="0.22" >60</text>
<line x1="30.3" y1="48.6" x2="32.5" y2="48.6" stroke="#000" stroke-width="1.2"/>
<line x1="28.3" y1="34.5" x2="32.5" y2="34.5" stroke="#000" stroke-width="1.2"/>
<text x="25.5" y="36.4" font-size="8.6" text-anchor="end" fill="#1a1a1a" font-family='"Liberation Sans", sans-serif' stroke="#1a1a1a" stroke-width="0.22" >70</text>
<line x1="30.3" y1="20.5" x2="32.5" y2="20.5" stroke="#000" stroke-width="1.2"/>
<line x1="28.3" y1="6.5" x2="32.5" y2="6.5" stroke="#000" stroke-width="1.2"/>
<text x="25.5" y="8.4" font-size="8.6" text-anchor="end" fill="#1a1a1a" font-family='"Liberation Sans", sans-serif' stroke="#1a1a1a" stroke-width="0.22" >80</text>
<line x1="42" y1="226.6" x2="42" y2="230.8" stroke="#000" stroke-width="1.2"/>
<text x="42" y="242.4" font-size="8.6" text-anchor="middle" fill="#1a1a1a" font-family='"Liberation Sans", sans-serif' stroke="#1a1a1a" stroke-width="0.22" >1000</text>
<line x1="65.6" y1="228.6" x2="65.6" y2="230.8" stroke="#000" stroke-width="1.2"/>
<line x1="89.2" y1="226.6" x2="89.2" y2="230.8" stroke="#000" stroke-width="1.2"/>
<text x="89.2" y="242.4" font-size="8.6" text-anchor="middle" fill="#1a1a1a" font-family='"Liberation Sans", sans-serif' stroke="#1a1a1a" stroke-width="0.22" >1500</text>
<line x1="112.8" y1="228.6" x2="112.8" y2="230.8" stroke="#000" stroke-width="1.2"/>
<line x1="136.4" y1="226.6" x2="136.4" y2="230.8" stroke="#000" stroke-width="1.2"/>
<text x="136.4" y="242.4" font-size="8.6" text-anchor="middle" fill="#1a1a1a" font-family='"Liberation Sans", sans-serif' stroke="#1a1a1a" stroke-width="0.22" >2000</text>
<line x1="160" y1="228.6" x2="160" y2="230.8" stroke="#000" stroke-width="1.2"/>
<line x1="183.6" y1="226.6" x2="183.6" y2="230.8" stroke="#000" stroke-width="1.2"/>
<text x="183.6" y="242.4" font-size="8.6" text-anchor="middle" fill="#1a1a1a" font-family='"Liberation Sans", sans-serif' stroke="#1a1a1a" stroke-width="0.22" >2500</text>
<line x1="207.2" y1="228.6" x2="207.2" y2="230.8" stroke="#000" stroke-width="1.2"/>
<line x1="230.8" y1="226.6" x2="230.8" y2="230.8" stroke="#000" stroke-width="1.2"/>
<text x="230.8" y="242.4" font-size="8.6" text-anchor="middle" fill="#1a1a1a" font-family='"Liberation Sans", sans-serif' stroke="#1a1a1a" stroke-width="0.22" >3000</text>
<line x1="254.4" y1="228.6" x2="254.4" y2="230.8" stroke="#000" stroke-width="1.2"/>
<line x1="278" y1="226.6" x2="278" y2="230.8" stroke="#000" stroke-width="1.2"/>
<text x="278" y="242.4" font-size="8.6" text-anchor="middle" fill="#1a1a1a" font-family='"Liberation Sans", sans-serif' stroke="#1a1a1a" stroke-width="0.22" >3500</text>
<line x1="301.6" y1="228.6" x2="301.6" y2="230.8" stroke="#000" stroke-width="1.2"/>
<line x1="325.2" y1="226.6" x2="325.2" y2="230.8" stroke="#000" stroke-width="1.2"/>
<text x="325.2" y="242.4" font-size="8.6" text-anchor="middle" fill="#1a1a1a" font-family='"Liberation Sans", sans-serif' stroke="#1a1a1a" stroke-width="0.22" >4000</text>
<text x="179.3" y="255.6" font-size="10.7" text-anchor="middle" fill="#1a1a1a" stroke="#1a1a1a" stroke-width="0.22" font-family='"Liberation Sans", sans-serif'>Wavenumber (cm<tspan font-size="6.5" dy="-4.7">-1</tspan><tspan dy="4.7">)</tspan></text>
<text transform="translate(10.4,116.7) rotate(-90)" font-size="10.7" text-anchor="middle" fill="#1a1a1a" stroke="#1a1a1a" stroke-width="0.22" font-family='"Liberation Sans", sans-serif'>Transmittance (%)</text>
<text x="34.3" y="27.4" font-size="28.2" text-anchor="start" fill="#000" font-family='"Liberation Serif", serif' >(a)</text>
<polyline points="379.2,214 380.1,214 381.1,214 382,214 383,214 383.9,214 384.9,214 385.8,214 386.8,214 387.7,214 388.6,214 389.6,214 390.5,214 391.5,214 392.4,214 393.4,214 394.3,214 395.2,214 396.2,214 397.1,214 398.1,213.9 399,213.6 400,213.2 400.9,213.2 401.9,213.7 402.8,214 403.7,214.2 404.7,214.2 405.6,214.1 406.6,213.8 407.5,213.3 408.5,213.3 409.4,213.8 410.4,214 411.3,213.9 412.2,213 412.7,212.5 413.2,212.1 413.7,211.6 414.1,211.2 414.6,210.7 415.1,210.3 415.5,209.9 416,209.5 416.5,209.1 417,208.8 417.4,208.5 417.9,208.2 418.4,208.1 418.8,208 419.3,207.9 419.8,207.8 420.3,207.8 420.7,207.5 421.2,206.7 421.7,205.8 422.2,204.8 422.6,204 423.1,203.3 423.6,202.5 424,201.7 424.5,200.9 425,200.1 425.5,199.3 425.9,198.6 426.4,197.8 426.9,197.1 427.3,196.4 427.8,195.7 428.3,195 428.8,194.4 429.2,193.7 429.7,193.1 430.2,192.5 430.6,191.9 431.1,191.5 431.6,191.2 432.1,191 432.5,190.9 433,190.7 433.5,190.4 434,189.5 434.4,188.4 434.9,187.7 435.4,187.2 435.8,186.7 436.3,186.3 436.8,185.9 437.3,185.5 437.7,185.1 438.2,184.6 438.7,184.2 439.1,183.8 439.6,183.4 440.1,183 440.6,182.7 441,182.4 441.5,182.1 442,181.9 442.4,181.7 442.9,181.5 443.4,181.4 443.9,181.3 444.3,181.2 444.8,181.1 445.3,181 445.8,180.9 446.2,180.8 446.7,180.7 447.2,180.7 447.6,180.6 448.1,180.5 448.6,180.5 449.1,180.4 449.5,180.3 450,180.3 450.5,180.2 450.9,180.2 451.4,180.1 451.9,180.1 452.4,180 452.8,180 453.3,180 453.8,179.9 454.2,179.9 454.7,179.9 455.9,179.8 457,179.7 458.1,179.7 459.3,179.6 460.4,179.6 461.5,179.6 462.6,179.5 463.8,179.5 464.9,179.5 466,179.5 467.2,179.6 468.3,179.6 469.4,179.6 470.6,179.6 471.7,179.7 472.8,179.7 474,179.7 475.1,179.8 476.2,179.8 477.4,179.9 478.5,179.9 479.6,180 480.8,180.1 481.9,180.1 483,180.2 484.2,180.2 485.3,180.3 486.4,180.4 487.6,180.4 488.7,180.5 489.8,180.5 491,180.6 492.1,180.7 493.2,180.7 494.4,180.8 495.5,180.8 496.6,180.8 497.8,180.9 498.9,180.9 500,180.9 501.2,181 502.3,181 503.4,181 504.6,181.1 505.7,181.1 506.8,181.1 508,181.1 509.1,181.1 510.2,181.1 511.4,181.2 512.5,181.2 513.6,181.2 514.8,181.2 515.9,181.3 517,181.3 518.2,181.3 519.3,181.3 520.4,181.3 521.6,181.4 522.7,181.4 523.8,181.4 525,181.4 526.1,181.5 527.2,181.5 528.4,181.5 529.5,181.5 530.6,181.5 531.8,181.5 532.9,181.6 534,181.6 535.1,181.6 536.3,181.6 537.4,181.6 538.5,181.6 539.7,181.6 540.8,181.7 541.9,181.7 543.1,181.7 544.2,181.7 545.3,181.7 546.5,181.7 547.6,181.7 548.7,181.7 549.9,181.7 551,181.7 552.1,181.8 553.3,181.8 554.4,181.8 555.5,181.8 556.7,181.8 557.8,181.8 558.9,181.9 560.1,182 561.2,181.9 562.3,181.8 563.5,181.8 564.6,181.8 565.7,181.8 566.9,181.8 568,181.8 569.1,181.8 570.3,181.8 571.4,181.8 572.5,181.8 573.7,181.7 574.8,181.7 575.9,181.7 577.1,181.7 578.2,181.7 579.3,181.7 580.5,181.7 581.6,181.7 582.7,181.7 583.9,181.7 585,181.7 586.1,181.7 587.3,181.7 588.4,181.7 589.5,181.6 590.7,181.6 591.8,181.6 592.9,181.6 594.1,181.6 595.2,181.6 596.3,181.6 597.5,181.6 598.6,181.6 599.7,181.5 600.9,181.5 602,181.5 603.1,181.5 604.2,181.5 605.4,181.5 605.8,181.5 606.1,181.5 606.5,181.5 606.9,181.5 607.3,181.4 607.6,181.4 608,181.4 608.4,181.4 608.8,181.4 609.2,181.4 609.5,181.4 609.9,181.4 610.3,181.4 610.7,181.4 611,181.4 611.4,181.4 611.8,181.4 612.2,181.4 612.6,181.4 612.9,181.4 613.3,181.4 613.7,181.3 614.1,181.3 614.4,181.3 614.8,181.3 615.2,181.4 615.6,181.4 616,181.2 616.3,181.2 616.7,181.1 617.1,181.3 617.5,181.5 617.8,181.3 618.2,181.3 618.6,181.2 619,181.4 619.4,181.1 619.7,181.3 620.1,181.3 620.5,181 620.9,181.2 621.2,181.5 621.6,181.4 622,181.2 622.4,180.9 622.8,181.3 623.1,181.1 623.5,181.2 623.9,181.1 624.3,181.1 624.6,181.2 625,181.3 625.4,181.2 625.8,181 626.2,181.2 626.5,181.1 626.9,180.9 627.3,181.1 627.7,180.9 628,180.4 628.4,181.1 628.8,181.6 629.2,181.3 629.5,181.1 629.9,181 630.3,180.8 630.7,180.9 631.1,181.2 631.4,181 631.8,181.1 632.2,180.9 632.6,180.7 632.9,180.6 633.3,181.1 633.7,181.1 634.1,181 634.5,180.9 634.8,180.9 635.2,180.8 635.6,180.9 636,180.9 636.3,180.8 636.7,180.9 637.1,180.9 637.5,180.8 637.9,180.2 638.2,180.6 638.6,181.7 639,181.1 639.4,180.8 639.7,180.8 640.1,180.7 640.5,180.7 640.9,180.7 641.3,181 641.6,180.8 642,180.7 642.4,180.6 642.8,180.4 643.1,180.2 643.5,180.8 643.9,181.2 644.3,180.8 644.7,180.7 645,180.6 645.4,180.6 645.8,180.6 646.2,180.7 646.5,180.6 646.9,180.6 647.3,180.5 647.7,180.1 648.1,180.2 648.4,180.9 648.8,181 649.2,180.5 649.6,180.5 649.9,180.5 650.3,180.5 650.7,180.3 651.1,180.5 651.4,180.4 651.8,180.4 652.2,180.4 652.6,180.3 653,180.4 653.3,180.6 653.7,180.4 654.1,180.5 654.5,180.4 654.8,180.4 655.2,180.2 655.6,180.5 656,180.3 656.4,180.3 656.7,180.3 657.1,180.3 657.5,180.3 657.9,180.2 658.2,180.2 658.6,180.2 659,180.2 659.4,180.2 659.8,180.2 660.1,180.2 660.5,180.2 660.9,180.1 661.3,180.1 661.6,180.1 662,180.1 662.4,180.1" fill="none" stroke="#a01a58" stroke-width="1.7" stroke-linejoin="round"/>
<polyline points="379.2,214 380.1,214 381.1,214 382,214 383,214 383.9,214 384.9,214 385.8,214 386.8,214 387.7,214 388.6,214 389.6,214 390.5,214 391.5,214 392.4,214 393.4,214 394.3,214 395.2,214 396.2,214 397.1,214 398.1,213.9 399,213.6 400,213.1 400.9,213.2 401.9,213.7 402.8,214 403.7,214.2 404.7,214.2 405.6,214.1 406.6,213.8 407.5,213.3 408.5,213.3 409.4,213.8 410.4,214 411.3,213.9 412.2,212.9 412.7,212.4 413.2,211.9 413.7,211.5 414.1,211 414.6,210.5 415.1,210.1 415.5,209.6 416,209.2 416.5,208.8 417,208.4 417.4,208.1 417.9,207.9 418.4,207.8 418.8,207.6 419.3,207.6 419.8,207.5 420.3,207.4 420.7,207.1 421.2,206.2 421.7,205.2 422.2,204.1 422.6,203.3 423.1,202.5 423.6,201.8 424,200.9 424.5,200 425,199.2 425.5,198.4 425.9,197.6 426.4,196.8 426.9,196 427.3,195.3 427.8,194.6 428.3,193.8 428.8,193.1 429.2,192.5 429.7,191.8 430.2,191.2 430.6,190.6 431.1,190.1 431.6,189.9 432.1,189.7 432.5,189.5 433,189.3 433.5,188.9 434,187.9 434.4,186.8 434.9,186.1 435.4,185.6 435.8,185.1 436.3,184.7 436.8,184.2 437.3,183.8 437.7,183.4 438.2,182.9 438.7,182.4 439.1,181.9 439.6,181.5 440.1,181.1 440.6,180.8 441,180.5 441.5,180.2 442,180 442.4,179.8 442.9,179.6 443.4,179.5 443.9,179.4 444.3,179.2 444.8,179.2 445.3,179.1 445.8,179 446.2,178.9 446.7,178.8 447.2,178.7 447.6,178.7 448.1,178.6 448.6,178.5 449.1,178.5 449.5,178.4 450,178.3 450.5,178.3 450.9,178.2 451.4,178.2 451.9,178.1 452.4,178.1 452.8,178.1 453.3,178 453.8,178 454.2,177.9 454.7,177.9 455.9,177.8 457,177.8 458.1,177.7 459.3,177.7 460.4,177.6 461.5,177.6 462.6,177.6 463.8,177.6 464.9,177.6 466,177.6 467.2,177.6 468.3,177.6 469.4,177.6 470.6,177.6 471.7,177.7 472.8,177.7 474,177.7 475.1,177.8 476.2,177.8 477.4,177.8 478.5,177.9 479.6,177.9 480.8,178 481.9,178 483,178.1 484.2,178.1 485.3,178.2 486.4,178.2 487.6,178.2 488.7,178.3 489.8,178.3 491,178.4 492.1,178.4 493.2,178.5 494.4,178.5 495.5,178.6 496.6,178.6 497.8,178.6 498.9,178.7 500,178.7 501.2,178.7 502.3,178.8 503.4,178.8 504.6,178.9 505.7,178.9 506.8,178.9 508,178.9 509.1,178.9 510.2,178.9 511.4,179 512.5,179 513.6,179 514.8,179.1 515.9,179.1 517,179.1 518.2,179.1 519.3,179.2 520.4,179.2 521.6,179.2 522.7,179.3 523.8,179.3 525,179.3 526.1,179.3 527.2,179.4 528.4,179.4 529.5,179.4 530.6,179.4 531.8,179.5 532.9,179.5 534,179.5 535.1,179.5 536.3,179.6 537.4,179.6 538.5,179.6 539.7,179.6 540.8,179.6 541.9,179.7 543.1,179.7 544.2,179.7 545.3,179.7 546.5,179.7 547.6,179.7 548.7,179.7 549.9,179.8 551,179.8 552.1,179.8 553.3,179.8 554.4,179.8 555.5,179.8 556.7,179.8 557.8,179.9 558.9,180 560.1,180 561.2,179.9 562.3,179.8 563.5,179.8 564.6,179.8 565.7,179.8 566.9,179.8 568,179.8 569.1,179.8 570.3,179.8 571.4,179.8 572.5,179.8 573.7,179.8 574.8,179.8 575.9,179.8 577.1,179.8 578.2,179.8 579.3,179.8 580.5,179.8 581.6,179.8 582.7,179.8 583.9,179.8 585,179.8 586.1,179.8 587.3,179.8 588.4,179.8 589.5,179.8 590.7,179.8 591.8,179.8 592.9,179.8 594.1,179.8 595.2,179.8 596.3,179.8 597.5,179.8 598.6,179.8 599.7,179.8 600.9,179.8 602,179.8 603.1,179.8 604.2,179.8 605.4,179.8 605.8,179.8 606.1,179.8 606.5,179.8 606.9,179.8 607.3,179.8 607.6,179.8 608,179.8 608.4,179.8 608.8,179.8 609.2,179.8 609.5,179.8 609.9,179.8 610.3,179.8 610.7,179.8 611,179.8 611.4,179.8 611.8,179.8 612.2,179.8 612.6,179.8 612.9,179.8 613.3,179.8 613.7,179.7 614.1,179.8 614.4,179.7 614.8,179.7 615.2,179.9 615.6,179.8 616,179.6 616.3,179.7 616.7,179.6 617.1,179.7 617.5,180 617.8,179.8 618.2,179.8 618.6,179.7 619,179.9 619.4,179.6 619.7,179.8 620.1,179.8 620.5,179.5 620.9,179.8 621.2,180 621.6,180 622,179.7 622.4,179.4 622.8,179.9 623.1,179.7 623.5,179.8 623.9,179.6 624.3,179.7 624.6,179.8 625,179.9 625.4,179.8 625.8,179.6 626.2,179.8 626.5,179.7 626.9,179.5 627.3,179.8 627.7,179.6 628,179.1 628.4,179.7 628.8,180.3 629.2,180 629.5,179.8 629.9,179.7 630.3,179.5 630.7,179.6 631.1,179.9 631.4,179.7 631.8,179.8 632.2,179.6 632.6,179.4 632.9,179.3 633.3,179.9 633.7,179.9 634.1,179.7 634.5,179.7 634.8,179.7 635.2,179.6 635.6,179.7 636,179.7 636.3,179.6 636.7,179.7 637.1,179.7 637.5,179.6 637.9,179.1 638.2,179.5 638.6,180.5 639,180 639.4,179.7 639.7,179.7 640.1,179.6 640.5,179.6 640.9,179.6 641.3,179.9 641.6,179.7 642,179.6 642.4,179.5 642.8,179.4 643.1,179.2 643.5,179.8 643.9,180.2 644.3,179.7 644.7,179.7 645,179.6 645.4,179.7 645.8,179.6 646.2,179.8 646.5,179.6 646.9,179.7 647.3,179.5 647.7,179.1 648.1,179.2 648.4,180 648.8,180.1 649.2,179.6 649.6,179.6 649.9,179.7 650.3,179.7 650.7,179.5 651.1,179.6 651.4,179.5 651.8,179.6 652.2,179.6 652.6,179.4 653,179.6 653.3,179.8 653.7,179.6 654.1,179.7 654.5,179.6 654.8,179.6 655.2,179.5 655.6,179.8 656,179.6 656.4,179.6 656.7,179.6 657.1,179.6 657.5,179.6 657.9,179.6 658.2,179.6 658.6,179.6 659,179.6 659.4,179.6 659.8,179.6 660.1,179.5 660.5,179.5 660.9,179.5 661.3,179.5 661.6,179.5 662,179.5 662.4,179.5" fill="none" stroke="#f0c0d0" stroke-width="1.5" stroke-linejoin="round"/>
<polyline points="379.2,214 380.1,214 381.1,214 382,214 383,214 383.9,214 384.9,214 385.8,214 386.8,214 387.7,214 388.6,214 389.6,214 390.5,214 391.5,214 392.4,214 393.4,214 394.3,214 395.2,214 396.2,214 397.1,214 398.1,213.9 399,213.6 400,213.1 400.9,213.1 401.9,213.6 402.8,214 403.7,214.2 404.7,214.2 405.6,214.1 406.6,213.8 407.5,213.3 408.5,213.3 409.4,213.8 410.4,214 411.3,213.9 412.2,212.9 412.7,212.3 413.2,211.8 413.7,211.3 414.1,210.8 414.6,210.4 415.1,209.9 415.5,209.4 416,208.9 416.5,208.5 417,208.2 417.4,207.8 417.9,207.6 418.4,207.4 418.8,207.3 419.3,207.2 419.8,207.2 420.3,207.1 420.7,206.7 421.2,205.7 421.7,204.6 422.2,203.6 422.6,202.7 423.1,201.9 423.6,201.1 424,200.2 424.5,199.3 425,198.4 425.5,197.6 425.9,196.7 426.4,195.9 426.9,195.1 427.3,194.3 427.8,193.6 428.3,192.8 428.8,192.1 429.2,191.4 429.7,190.7 430.2,190 430.6,189.4 431.1,189 431.6,188.7 432.1,188.5 432.5,188.3 433,188.1 433.5,187.7 434,186.5 434.4,185.4 434.9,184.8 435.4,184.2 435.8,183.7 436.3,183.2 436.8,182.8 437.3,182.3 437.7,181.9 438.2,181.4 438.7,180.9 439.1,180.4 439.6,179.9 440.1,179.5 440.6,179.2 441,178.9 441.5,178.6 442,178.4 442.4,178.2 442.9,178 443.4,177.8 443.9,177.7 444.3,177.6 444.8,177.5 445.3,177.4 445.8,177.3 446.2,177.2 446.7,177.1 447.2,177.1 447.6,177 448.1,176.9 448.6,176.8 449.1,176.8 449.5,176.7 450,176.7 450.5,176.6 450.9,176.6 451.4,176.5 451.9,176.5 452.4,176.4 452.8,176.4 453.3,176.3 453.8,176.3 454.2,176.3 454.7,176.2 455.9,176.1 457,176.1 458.1,176 459.3,176 460.4,175.9 461.5,175.9 462.6,175.9 463.8,175.9 464.9,175.9 466,175.9 467.2,175.9 468.3,175.9 469.4,176 470.6,176 471.7,176 472.8,176.1 474,176.1 475.1,176.2 476.2,176.2 477.4,176.3 478.5,176.4 479.6,176.4 480.8,176.5 481.9,176.6 483,176.6 484.2,176.7 485.3,176.8 486.4,176.9 487.6,176.9 488.7,177 489.8,177.1 491,177.1 492.1,177.2 493.2,177.3 494.4,177.3 495.5,177.4 496.6,177.4 497.8,177.5 498.9,177.5 500,177.6 501.2,177.6 502.3,177.6 503.4,177.7 504.6,177.8 505.7,177.8 506.8,177.8 508,177.8 509.1,177.9 510.2,177.9 511.4,177.9 512.5,178 513.6,178 514.8,178 515.9,178.1 517,178.1 518.2,178.1 519.3,178.2 520.4,178.2 521.6,178.2 522.7,178.3 523.8,178.3 525,178.3 526.1,178.4 527.2,178.4 528.4,178.4 529.5,178.5 530.6,178.5 531.8,178.5 532.9,178.5 534,178.6 535.1,178.6 536.3,178.6 537.4,178.6 538.5,178.7 539.7,178.7 540.8,178.7 541.9,178.7 543.1,178.8 544.2,178.8 545.3,178.8 546.5,178.8 547.6,178.8 548.7,178.9 549.9,178.9 551,178.9 552.1,178.9 553.3,178.9 554.4,178.9 555.5,178.9 556.7,179 557.8,179 558.9,179.1 560.1,179.2 561.2,179.1 562.3,179 563.5,179 564.6,179 565.7,179 566.9,179 568,179 569.1,179 570.3,179 571.4,179 572.5,179 573.7,179 574.8,179 575.9,179 577.1,179.1 578.2,179.1 579.3,179.1 580.5,179.1 581.6,179.1 582.7,179.1 583.9,179.1 585,179.1 586.1,179.1 587.3,179.1 588.4,179.1 589.5,179.1 590.7,179.1 591.8,179.1 592.9,179.1 594.1,179.1 595.2,179.1 596.3,179.1 597.5,179.1 598.6,179.1 599.7,179.1 600.9,179.1 602,179.1 603.1,179.2 604.2,179.2 605.4,179.2 605.8,179.2 606.1,179.2 606.5,179.2 606.9,179.2 607.3,179.2 607.6,179.2 608,179.2 608.4,179.2 608.8,179.2 609.2,179.2 609.5,179.2 609.9,179.2 610.3,179.2 610.7,179.2 611,179.2 611.4,179.2 611.8,179.2 612.2,179.2 612.6,179.2 612.9,179.2 613.3,179.2 613.7,179.1 614.1,179.2 614.4,179.2 614.8,179.1 615.2,179.3 615.6,179.2 616,179.1 616.3,179.1 616.7,179 617.1,179.2 617.5,179.4 617.8,179.2 618.2,179.3 618.6,179.2 619,179.3 619.4,179.1 619.7,179.2 620.1,179.2 620.5,178.9 620.9,179.2 621.2,179.5 621.6,179.4 622,179.2 622.4,178.9 622.8,179.3 623.1,179.2 623.5,179.2 623.9,179.1 624.3,179.1 624.6,179.3 625,179.4 625.4,179.3 625.8,179.1 626.2,179.3 626.5,179.2 626.9,179 627.3,179.3 627.7,179 628,178.6 628.4,179.2 628.8,179.8 629.2,179.4 629.5,179.3 629.9,179.2 630.3,179 630.7,179.1 631.1,179.5 631.4,179.2 631.8,179.3 632.2,179.1 632.6,179 632.9,178.8 633.3,179.4 633.7,179.4 634.1,179.2 634.5,179.2 634.8,179.2 635.2,179.1 635.6,179.2 636,179.3 636.3,179.1 636.7,179.2 637.1,179.2 637.5,179.1 637.9,178.6 638.2,179 638.6,180.1 639,179.6 639.4,179.2 639.7,179.3 640.1,179.1 640.5,179.2 640.9,179.2 641.3,179.4 641.6,179.3 642,179.2 642.4,179.1 642.8,179 643.1,178.8 643.5,179.3 643.9,179.8 644.3,179.3 644.7,179.2 645,179.2 645.4,179.3 645.8,179.2 646.2,179.4 646.5,179.2 646.9,179.3 647.3,179.2 647.7,178.7 648.1,178.9 648.4,179.6 648.8,179.7 649.2,179.2 649.6,179.2 649.9,179.3 650.3,179.3 650.7,179.1 651.1,179.3 651.4,179.2 651.8,179.2 652.2,179.2 652.6,179.1 653,179.2 653.3,179.5 653.7,179.3 654.1,179.4 654.5,179.3 654.8,179.3 655.2,179.1 655.6,179.4 656,179.2 656.4,179.2 656.7,179.2 657.1,179.2 657.5,179.2 657.9,179.2 658.2,179.2 658.6,179.2 659,179.2 659.4,179.2 659.8,179.2 660.1,179.2 660.5,179.2 660.9,179.2 661.3,179.2 661.6,179.2 662,179.2 662.4,179.2" fill="none" stroke="#d0d0d0" stroke-width="1.6" stroke-linejoin="round"/>
<polyline points="379.2,214 380.1,214 381.1,214 382,214 383,214 383.9,214 384.9,214 385.8,214 386.8,214 387.7,214 388.6,214 389.6,214 390.5,214 391.5,214 392.4,214 393.4,214 394.3,214 395.2,214 396.2,214 397.1,214 398.1,213.9 399,213.6 400,213.1 400.9,213.1 401.9,213.6 402.8,214 403.7,214.2 404.7,214.2 405.6,214.1 406.6,213.8 407.5,213.3 408.5,213.2 409.4,213.7 410.4,214 411.3,213.9 412.2,212.8 412.7,212.2 413.2,211.7 413.7,211.2 414.1,210.6 414.6,210.1 415.1,209.6 415.5,209.1 416,208.6 416.5,208.2 417,207.8 417.4,207.4 417.9,207.2 418.4,207 418.8,206.9 419.3,206.8 419.8,206.7 420.3,206.6 420.7,206.1 421.2,205.1 421.7,203.9 422.2,202.8 422.6,201.9 423.1,201.1 423.6,200.2 424,199.2 424.5,198.3 425,197.3 425.5,196.4 425.9,195.6 426.4,194.7 426.9,193.9 427.3,193 427.8,192.2 428.3,191.4 428.8,190.7 429.2,189.9 429.7,189.2 430.2,188.5 430.6,187.9 431.1,187.4 431.6,187.2 432.1,187 432.5,186.7 433,186.5 433.5,185.9 434,184.7 434.4,183.6 434.9,182.9 435.4,182.3 435.8,181.8 436.3,181.3 436.8,180.8 437.3,180.4 437.7,179.8 438.2,179.3 438.7,178.8 439.1,178.3 439.6,177.8 440.1,177.4 440.6,177.1 441,176.7 441.5,176.4 442,176.2 442.4,176 442.9,175.8 443.4,175.6 443.9,175.5 444.3,175.4 444.8,175.3 445.3,175.2 445.8,175.1 446.2,175 446.7,174.9 447.2,174.8 447.6,174.7 448.1,174.6 448.6,174.5 449.1,174.4 449.5,174.4 450,174.3 450.5,174.2 450.9,174.2 451.4,174.1 451.9,174 452.4,174 452.8,173.9 453.3,173.9 453.8,173.8 454.2,173.8 454.7,173.8 455.9,173.7 457,173.6 458.1,173.5 459.3,173.5 460.4,173.4 461.5,173.4 462.6,173.4 463.8,173.4 464.9,173.4 466,173.4 467.2,173.4 468.3,173.5 469.4,173.5 470.6,173.6 471.7,173.7 472.8,173.7 474,173.8 475.1,173.9 476.2,174 477.4,174.2 478.5,174.3 479.6,174.4 480.8,174.5 481.9,174.7 483,174.8 484.2,174.9 485.3,175.1 486.4,175.2 487.6,175.3 488.7,175.5 489.8,175.6 491,175.7 492.1,175.8 493.2,175.9 494.4,176 495.5,176.1 496.6,176.2 497.8,176.3 498.9,176.4 500,176.4 501.2,176.5 502.3,176.6 503.4,176.7 504.6,176.8 505.7,176.8 506.8,176.8 508,176.8 509.1,176.9 510.2,176.9 511.4,177 512.5,177 513.6,177 514.8,177.1 515.9,177.1 517,177.2 518.2,177.2 519.3,177.3 520.4,177.3 521.6,177.4 522.7,177.4 523.8,177.4 525,177.5 526.1,177.5 527.2,177.6 528.4,177.6 529.5,177.6 530.6,177.7 531.8,177.7 532.9,177.7 534,177.8 535.1,177.8 536.3,177.8 537.4,177.9 538.5,177.9 539.7,177.9 540.8,178 541.9,178 543.1,178 544.2,178 545.3,178.1 546.5,178.1 547.6,178.1 548.7,178.1 549.9,178.1 551,178.2 552.1,178.2 553.3,178.2 554.4,178.2 555.5,178.2 556.7,178.2 557.8,178.3 558.9,178.4 560.1,178.5 561.2,178.4 562.3,178.3 563.5,178.3 564.6,178.3 565.7,178.3 566.9,178.3 568,178.3 569.1,178.3 570.3,178.3 571.4,178.4 572.5,178.4 573.7,178.4 574.8,178.4 575.9,178.4 577.1,178.4 578.2,178.4 579.3,178.4 580.5,178.4 581.6,178.4 582.7,178.4 583.9,178.4 585,178.4 586.1,178.4 587.3,178.5 588.4,178.5 589.5,178.5 590.7,178.5 591.8,178.5 592.9,178.5 594.1,178.5 595.2,178.5 596.3,178.5 597.5,178.5 598.6,178.5 599.7,178.5 600.9,178.5 602,178.5 603.1,178.5 604.2,178.5 605.4,178.6 605.8,178.6 606.1,178.6 606.5,178.6 606.9,178.6 607.3,178.6 607.6,178.6 608,178.6 608.4,178.6 608.8,178.6 609.2,178.6 609.5,178.6 609.9,178.6 610.3,178.6 610.7,178.6 611,178.6 611.4,178.6 611.8,178.6 612.2,178.6 612.6,178.6 612.9,178.6 613.3,178.6 613.7,178.5 614.1,178.6 614.4,178.6 614.8,178.5 615.2,178.7 615.6,178.7 616,178.5 616.3,178.5 616.7,178.4 617.1,178.6 617.5,178.8 617.8,178.6 618.2,178.7 618.6,178.6 619,178.7 619.4,178.5 619.7,178.6 620.1,178.6 620.5,178.3 620.9,178.6 621.2,178.9 621.6,178.8 622,178.6 622.4,178.3 622.8,178.7 623.1,178.6 623.5,178.6 623.9,178.5 624.3,178.5 624.6,178.7 625,178.8 625.4,178.7 625.8,178.5 626.2,178.7 626.5,178.6 626.9,178.4 627.3,178.7 627.7,178.5 628,178 628.4,178.6 628.8,179.2 629.2,178.9 629.5,178.7 629.9,178.6 630.3,178.4 630.7,178.5 631.1,178.9 631.4,178.7 631.8,178.7 632.2,178.6 632.6,178.4 632.9,178.2 633.3,178.8 633.7,178.9 634.1,178.7 634.5,178.7 634.8,178.6 635.2,178.5 635.6,178.6 636,178.7 636.3,178.6 636.7,178.6 637.1,178.7 637.5,178.6 637.9,178 638.2,178.5 638.6,179.5 639,179 639.4,178.7 639.7,178.7 640.1,178.6 640.5,178.6 640.9,178.6 641.3,178.9 641.6,178.7 642,178.6 642.4,178.5 642.8,178.4 643.1,178.2 643.5,178.8 643.9,179.2 644.3,178.8 644.7,178.7 645,178.6 645.4,178.7 645.8,178.7 646.2,178.8 646.5,178.6 646.9,178.7 647.3,178.6 647.7,178.2 648.1,178.3 648.4,179.1 648.8,179.1 649.2,178.7 649.6,178.6 649.9,178.7 650.3,178.7 650.7,178.5 651.1,178.7 651.4,178.6 651.8,178.6 652.2,178.6 652.6,178.5 653,178.7 653.3,178.9 653.7,178.7 654.1,178.8 654.5,178.7 654.8,178.7 655.2,178.6 655.6,178.9 656,178.7 656.4,178.7 656.7,178.7 657.1,178.7 657.5,178.7 657.9,178.7 658.2,178.7 658.6,178.7 659,178.7 659.4,178.7 659.8,178.7 660.1,178.7 660.5,178.7 660.9,178.7 661.3,178.7 661.6,178.7 662,178.7 662.4,178.7" fill="none" stroke="#908890" stroke-width="1.6" stroke-linejoin="round"/>
<polyline points="379.2,214 380.1,214 381.1,214 382,214 383,214 383.9,214 384.9,214 385.8,214 386.8,214 387.7,214 388.6,214 389.6,214 390.5,214 391.5,214 392.4,214 393.4,214 394.3,214 395.2,214 396.2,214 397.1,214 398.1,213.9 399,213.6 400,213 400.9,213.1 401.9,213.6 402.8,214 403.7,214.2 404.7,214.2 405.6,214.1 406.6,213.8 407.5,213.2 408.5,213.2 409.4,213.7 410.4,214 411.3,213.9 412.2,212.8 412.7,212.2 413.2,211.6 413.7,211.1 414.1,210.5 414.6,210 415.1,209.4 415.5,208.9 416,208.4 416.5,207.9 417,207.5 417.4,207.2 417.9,206.9 418.4,206.8 418.8,206.7 419.3,206.6 419.8,206.5 420.3,206.3 420.7,205.8 421.2,204.7 421.7,203.4 422.2,202.3 422.6,201.4 423.1,200.5 423.6,199.6 424,198.6 424.5,197.6 425,196.7 425.5,195.7 425.9,194.8 426.4,193.9 426.9,193.1 427.3,192.2 427.8,191.4 428.3,190.6 428.8,189.8 429.2,189 429.7,188.3 430.2,187.5 430.6,186.9 431.1,186.5 431.6,186.2 432.1,186 432.5,185.8 433,185.5 433.5,184.8 434,183.6 434.4,182.5 434.9,181.7 435.4,181.1 435.8,180.6 436.3,180.1 436.8,179.6 437.3,179.1 437.7,178.6 438.2,178 438.7,177.5 439.1,177 439.6,176.5 440.1,176.1 440.6,175.7 441,175.4 441.5,175.1 442,174.8 442.4,174.6 442.9,174.4 443.4,174.3 443.9,174.1 444.3,174 444.8,173.9 445.3,173.8 445.8,173.7 446.2,173.6 446.7,173.5 447.2,173.4 447.6,173.3 448.1,173.2 448.6,173.1 449.1,173 449.5,173 450,172.9 450.5,172.8 450.9,172.8 451.4,172.7 451.9,172.6 452.4,172.6 452.8,172.5 453.3,172.5 453.8,172.4 454.2,172.4 454.7,172.4 455.9,172.3 457,172.2 458.1,172.1 459.3,172.1 460.4,172 461.5,172 462.6,172 463.8,172 464.9,172 466,172 467.2,172 468.3,172.1 469.4,172.1 470.6,172.2 471.7,172.2 472.8,172.3 474,172.4 475.1,172.5 476.2,172.6 477.4,172.8 478.5,172.9 479.6,173 480.8,173.1 481.9,173.3 483,173.4 484.2,173.5 485.3,173.7 486.4,173.8 487.6,173.9 488.7,174.1 489.8,174.2 491,174.3 492.1,174.4 493.2,174.5 494.4,174.6 495.5,174.7 496.6,174.8 497.8,174.9 498.9,175 500,175 501.2,175.1 502.3,175.2 503.4,175.3 504.6,175.4 505.7,175.4 506.8,175.4 508,175.4 509.1,175.5 510.2,175.5 511.4,175.6 512.5,175.6 513.6,175.7 514.8,175.7 515.9,175.8 517,175.8 518.2,175.9 519.3,175.9 520.4,175.9 521.6,176 522.7,176 523.8,176.1 525,176.1 526.1,176.2 527.2,176.2 528.4,176.2 529.5,176.3 530.6,176.3 531.8,176.3 532.9,176.4 534,176.4 535.1,176.5 536.3,176.5 537.4,176.5 538.5,176.6 539.7,176.6 540.8,176.6 541.9,176.6 543.1,176.7 544.2,176.7 545.3,176.7 546.5,176.8 547.6,176.8 548.7,176.8 549.9,176.8 551,176.9 552.1,176.9 553.3,176.9 554.4,176.9 555.5,176.9 556.7,177 557.8,177 558.9,177.2 560.1,177.2 561.2,177.1 562.3,177.1 563.5,177.1 564.6,177.1 565.7,177.1 566.9,177.1 568,177.1 569.1,177.1 570.3,177.1 571.4,177.2 572.5,177.2 573.7,177.2 574.8,177.2 575.9,177.2 577.1,177.2 578.2,177.2 579.3,177.3 580.5,177.3 581.6,177.3 582.7,177.3 583.9,177.3 585,177.3 586.1,177.3 587.3,177.4 588.4,177.4 589.5,177.4 590.7,177.4 591.8,177.4 592.9,177.4 594.1,177.4 595.2,177.4 596.3,177.5 597.5,177.5 598.6,177.5 599.7,177.5 600.9,177.5 602,177.5 603.1,177.5 604.2,177.5 605.4,177.6 605.8,177.6 606.1,177.6 606.5,177.6 606.9,177.6 607.3,177.6 607.6,177.6 608,177.6 608.4,177.6 608.8,177.6 609.2,177.6 609.5,177.6 609.9,177.6 610.3,177.6 610.7,177.6 611,177.6 611.4,177.6 611.8,177.6 612.2,177.6 612.6,177.6 612.9,177.6 613.3,177.6 613.7,177.5 614.1,177.6 614.4,177.6 614.8,177.6 615.2,177.7 615.6,177.7 616,177.5 616.3,177.6 616.7,177.5 617.1,177.6 617.5,177.9 617.8,177.7 618.2,177.7 618.6,177.6 619,177.8 619.4,177.6 619.7,177.7 620.1,177.7 620.5,177.4 620.9,177.7 621.2,178 621.6,177.9 622,177.7 622.4,177.4 622.8,177.8 623.1,177.7 623.5,177.7 623.9,177.6 624.3,177.6 624.6,177.8 625,177.9 625.4,177.8 625.8,177.6 626.2,177.8 626.5,177.7 626.9,177.5 627.3,177.8 627.7,177.6 628,177.1 628.4,177.7 628.8,178.3 629.2,178 629.5,177.8 629.9,177.7 630.3,177.5 630.7,177.6 631.1,178 631.4,177.8 631.8,177.8 632.2,177.7 632.6,177.5 632.9,177.4 633.3,177.9 633.7,178 634.1,177.8 634.5,177.8 634.8,177.7 635.2,177.7 635.6,177.7 636,177.8 636.3,177.7 636.7,177.8 637.1,177.8 637.5,177.7 637.9,177.2 638.2,177.6 638.6,178.7 639,178.1 639.4,177.8 639.7,177.8 640.1,177.7 640.5,177.8 640.9,177.8 641.3,178 641.6,177.8 642,177.8 642.4,177.7 642.8,177.5 643.1,177.3 643.5,177.9 643.9,178.4 644.3,177.9 644.7,177.8 645,177.7 645.4,177.8 645.8,177.8 646.2,177.9 646.5,177.8 646.9,177.9 647.3,177.7 647.7,177.3 648.1,177.4 648.4,178.2 648.8,178.3 649.2,177.8 649.6,177.8 649.9,177.9 650.3,177.9 650.7,177.7 651.1,177.8 651.4,177.8 651.8,177.8 652.2,177.8 652.6,177.7 653,177.8 653.3,178.1 653.7,177.9 654.1,178 654.5,177.9 654.8,177.8 655.2,177.7 655.6,178 656,177.8 656.4,177.8 656.7,177.8 657.1,177.8 657.5,177.8 657.9,177.8 658.2,177.8 658.6,177.8 659,177.8 659.4,177.8 659.8,177.8 660.1,177.8 660.5,177.8 660.9,177.8 661.3,177.8 661.6,177.8 662,177.8 662.4,177.8" fill="none" stroke="#f0d0a8" stroke-width="1.7" stroke-linejoin="round"/>
<polyline points="379.2,214 380.1,214 381.1,214 382,214 383,214 383.9,214 384.9,214 385.8,214 386.8,214 387.7,214 388.6,214 389.6,214 390.5,214 391.5,214 392.4,214 393.4,214 394.3,214 395.2,214 396.2,214 397.1,214 398.1,213.9 399,213.5 400,213 400.9,213 401.9,213.6 402.8,214 403.7,214.2 404.7,214.2 405.6,214.1 406.6,213.8 407.5,213.2 408.5,213.2 409.4,213.7 410.4,214 411.3,213.9 412.2,212.7 412.7,212 413.2,211.4 413.7,210.8 414.1,210.2 414.6,209.6 415.1,209 415.5,208.4 416,207.9 416.5,207.4 417,206.9 417.4,206.6 417.9,206.3 418.4,206.2 418.8,206 419.3,205.9 419.8,205.8 420.3,205.7 420.7,204.8 421.2,203.6 421.7,202.2 422.2,201.1 422.6,200.2 423.1,199.2 423.6,198.2 424,197.1 424.5,196 425,195 425.5,194 425.9,193 426.4,192.1 426.9,191.1 427.3,190.2 427.8,189.3 428.3,188.4 428.8,187.6 429.2,186.8 429.7,186 430.2,185.2 430.6,184.6 431.1,184.1 431.6,183.8 432.1,183.6 432.5,183.4 433,183.1 433.5,182.2 434,180.7 434.4,179.7 434.9,178.9 435.4,178.3 435.8,177.7 436.3,177.2 436.8,176.7 437.3,176.1 437.7,175.5 438.2,175 438.7,174.4 439.1,173.8 439.6,173.3 440.1,172.9 440.6,172.5 441,172.1 441.5,171.8 442,171.6 442.4,171.3 442.9,171.1 443.4,171 443.9,170.8 444.3,170.7 444.8,170.6 445.3,170.5 445.8,170.4 446.2,170.3 446.7,170.1 447.2,170 447.6,170 448.1,169.9 448.6,169.8 449.1,169.7 449.5,169.6 450,169.5 450.5,169.5 450.9,169.4 451.4,169.4 451.9,169.3 452.4,169.2 452.8,169.2 453.3,169.1 453.8,169.1 454.2,169 454.7,169 455.9,168.9 457,168.8 458.1,168.8 459.3,168.7 460.4,168.7 461.5,168.6 462.6,168.6 463.8,168.6 464.9,168.6 466,168.6 467.2,168.6 468.3,168.7 469.4,168.7 470.6,168.8 471.7,168.9 472.8,169 474,169.1 475.1,169.2 476.2,169.3 477.4,169.4 478.5,169.5 479.6,169.6 480.8,169.7 481.9,169.9 483,170 484.2,170.1 485.3,170.3 486.4,170.4 487.6,170.5 488.7,170.7 489.8,170.8 491,170.9 492.1,171 493.2,171.1 494.4,171.3 495.5,171.4 496.6,171.4 497.8,171.5 498.9,171.6 500,171.7 501.2,171.7 502.3,171.8 503.4,171.9 504.6,172 505.7,172.1 506.8,172.1 508,172.1 509.1,172.1 510.2,172.2 511.4,172.3 512.5,172.3 513.6,172.4 514.8,172.4 515.9,172.5 517,172.5 518.2,172.6 519.3,172.6 520.4,172.7 521.6,172.7 522.7,172.8 523.8,172.8 525,172.9 526.1,172.9 527.2,173 528.4,173 529.5,173.1 530.6,173.1 531.8,173.1 532.9,173.2 534,173.2 535.1,173.3 536.3,173.3 537.4,173.3 538.5,173.4 539.7,173.4 540.8,173.5 541.9,173.5 543.1,173.5 544.2,173.6 545.3,173.6 546.5,173.6 547.6,173.6 548.7,173.7 549.9,173.7 551,173.7 552.1,173.8 553.3,173.8 554.4,173.8 555.5,173.8 556.7,173.9 557.8,174 558.9,174.1 560.1,174.2 561.2,174.1 562.3,174 563.5,174 564.6,174 565.7,174 566.9,174 568,174.1 569.1,174.1 570.3,174.1 571.4,174.1 572.5,174.1 573.7,174.2 574.8,174.2 575.9,174.2 577.1,174.2 578.2,174.2 579.3,174.3 580.5,174.3 581.6,174.3 582.7,174.3 583.9,174.3 585,174.3 586.1,174.4 587.3,174.4 588.4,174.4 589.5,174.4 590.7,174.4 591.8,174.4 592.9,174.5 594.1,174.5 595.2,174.5 596.3,174.5 597.5,174.5 598.6,174.5 599.7,174.6 600.9,174.6 602,174.6 603.1,174.6 604.2,174.6 605.4,174.6 605.8,174.6 606.1,174.6 606.5,174.7 606.9,174.7 607.3,174.7 607.6,174.7 608,174.7 608.4,174.7 608.8,174.7 609.2,174.7 609.5,174.7 609.9,174.7 610.3,174.7 610.7,174.7 611,174.7 611.4,174.7 611.8,174.7 612.2,174.7 612.6,174.7 612.9,174.7 613.3,174.7 613.7,174.6 614.1,174.7 614.4,174.7 614.8,174.7 615.2,174.8 615.6,174.8 616,174.6 616.3,174.7 616.7,174.6 617.1,174.7 617.5,175 617.8,174.8 618.2,174.9 618.6,174.8 619,174.9 619.4,174.7 619.7,174.8 620.1,174.8 620.5,174.5 620.9,174.8 621.2,175.1 621.6,175 622,174.8 622.4,174.5 622.8,174.9 623.1,174.8 623.5,174.9 623.9,174.7 624.3,174.8 624.6,175 625,175.1 625.4,175 625.8,174.7 626.2,174.9 626.5,174.9 626.9,174.6 627.3,174.9 627.7,174.7 628,174.2 628.4,174.9 628.8,175.5 629.2,175.1 629.5,175 629.9,174.9 630.3,174.7 630.7,174.8 631.1,175.2 631.4,174.9 631.8,175 632.2,174.8 632.6,174.7 632.9,174.5 633.3,175.1 633.7,175.1 634.1,175 634.5,174.9 634.8,174.9 635.2,174.8 635.6,174.9 636,175 636.3,174.8 636.7,174.9 637.1,175 637.5,174.9 637.9,174.3 638.2,174.8 638.6,175.9 639,175.3 639.4,175 639.7,175 640.1,174.9 640.5,174.9 640.9,174.9 641.3,175.2 641.6,175 642,174.9 642.4,174.8 642.8,174.7 643.1,174.5 643.5,175.1 643.9,175.5 644.3,175.1 644.7,175 645,174.9 645.4,175 645.8,175 646.2,175.1 646.5,175 646.9,175 647.3,174.9 647.7,174.5 648.1,174.6 648.4,175.4 648.8,175.5 649.2,175 649.6,175 649.9,175.1 650.3,175.1 650.7,174.9 651.1,175 651.4,174.9 651.8,175 652.2,175 652.6,174.9 653,175 653.3,175.3 653.7,175.1 654.1,175.1 654.5,175.1 654.8,175 655.2,174.9 655.6,175.2 656,175 656.4,175 656.7,175 657.1,175 657.5,175 657.9,175 658.2,175 658.6,175 659,175 659.4,175 659.8,175 660.1,175 660.5,175 660.9,175 661.3,175 661.6,175 662,175 662.4,175" fill="none" stroke="#b8daf2" stroke-width="1.7" stroke-linejoin="round"/>
<polyline points="379.2,214 380.1,214 381.1,214 382,214 383,214 383.9,214 384.9,214 385.8,214 386.8,214 387.7,214 388.6,214 389.6,214 390.5,214 391.5,214 392.4,214 393.4,214 394.3,214 395.2,214 396.2,214 397.1,214 398.1,213.9 399,213.5 400,212.9 400.9,212.9 401.9,213.6 402.8,214.1 403.7,214.2 404.7,214.2 405.6,214.1 406.6,213.7 407.5,213.1 408.5,213.1 409.4,213.7 410.4,214 411.3,213.9 412.2,212.6 412.7,211.8 413.2,211.2 413.7,210.5 414.1,209.9 414.6,209.2 415.1,208.5 415.5,207.9 416,207.3 416.5,206.7 417,206.2 417.4,205.8 417.9,205.6 418.4,205.5 418.8,205.3 419.3,205.2 419.8,205.1 420.3,204.7 420.7,203.5 421.2,202.1 421.7,200.7 422.2,199.6 422.6,198.6 423.1,197.5 423.6,196.4 424,195.2 424.5,194 425,193 425.5,191.9 425.9,190.8 426.4,189.8 426.9,188.8 427.3,187.8 427.8,186.8 428.3,185.9 428.8,185 429.2,184.1 429.7,183.3 430.2,182.5 430.6,181.9 431.1,181.5 431.6,181.3 432.1,181 432.5,180.7 433,180.2 433.5,178.8 434,177.4 434.4,176.5 434.9,175.7 435.4,175.1 435.8,174.5 436.3,173.9 436.8,173.3 437.3,172.7 437.7,172.1 438.2,171.4 438.7,170.8 439.1,170.3 439.6,169.7 440.1,169.3 440.6,168.9 441,168.5 441.5,168.2 442,167.9 442.4,167.7 442.9,167.5 443.4,167.3 443.9,167.2 444.3,167.1 444.8,167 445.3,166.9 445.8,166.8 446.2,166.6 446.7,166.5 447.2,166.4 447.6,166.3 448.1,166.2 448.6,166.2 449.1,166.1 449.5,166 450,165.9 450.5,165.9 450.9,165.8 451.4,165.7 451.9,165.7 452.4,165.6 452.8,165.6 453.3,165.5 453.8,165.5 454.2,165.4 454.7,165.4 455.9,165.3 457,165.2 458.1,165.1 459.3,165.1 460.4,165 461.5,165 462.6,165 463.8,165 464.9,165 466,165 467.2,165 468.3,165 469.4,165.1 470.6,165.1 471.7,165.2 472.8,165.3 474,165.3 475.1,165.4 476.2,165.5 477.4,165.6 478.5,165.7 479.6,165.8 480.8,165.9 481.9,166.1 483,166.2 484.2,166.3 485.3,166.4 486.4,166.5 487.6,166.7 488.7,166.8 489.8,166.9 491,167 492.1,167.1 493.2,167.2 494.4,167.3 495.5,167.4 496.6,167.5 497.8,167.6 498.9,167.7 500,167.8 501.2,167.8 502.3,167.9 503.4,168 504.6,168.2 505.7,168.2 506.8,168.2 508,168.2 509.1,168.3 510.2,168.3 511.4,168.4 512.5,168.5 513.6,168.5 514.8,168.6 515.9,168.7 517,168.7 518.2,168.8 519.3,168.8 520.4,168.9 521.6,169 522.7,169 523.8,169.1 525,169.1 526.1,169.2 527.2,169.2 528.4,169.3 529.5,169.4 530.6,169.4 531.8,169.5 532.9,169.5 534,169.6 535.1,169.6 536.3,169.7 537.4,169.7 538.5,169.8 539.7,169.8 540.8,169.9 541.9,169.9 543.1,170 544.2,170 545.3,170 546.5,170.1 547.6,170.1 548.7,170.2 549.9,170.2 551,170.3 552.1,170.3 553.3,170.3 554.4,170.4 555.5,170.4 556.7,170.5 557.8,170.6 558.9,170.8 560.1,170.8 561.2,170.7 562.3,170.7 563.5,170.7 564.6,170.7 565.7,170.7 566.9,170.8 568,170.8 569.1,170.8 570.3,170.9 571.4,170.9 572.5,170.9 573.7,171 574.8,171 575.9,171 577.1,171.1 578.2,171.1 579.3,171.1 580.5,171.2 581.6,171.2 582.7,171.2 583.9,171.3 585,171.3 586.1,171.3 587.3,171.4 588.4,171.4 589.5,171.4 590.7,171.5 591.8,171.5 592.9,171.5 594.1,171.6 595.2,171.6 596.3,171.6 597.5,171.7 598.6,171.7 599.7,171.7 600.9,171.7 602,171.8 603.1,171.8 604.2,171.8 605.4,171.9 605.8,171.9 606.1,171.9 606.5,171.9 606.9,171.9 607.3,171.9 607.6,171.9 608,171.9 608.4,171.9 608.8,171.9 609.2,171.9 609.5,172 609.9,172 610.3,172 610.7,172 611,172 611.4,172 611.8,172 612.2,172 612.6,172 612.9,172 613.3,172 613.7,172 614.1,172.1 614.4,172 614.8,172 615.2,172.2 615.6,172.2 616,172 616.3,172 616.7,172 617.1,172.1 617.5,172.4 617.8,172.2 618.2,172.2 618.6,172.1 619,172.3 619.4,172.1 619.7,172.2 620.1,172.2 620.5,171.9 620.9,172.2 621.2,172.5 621.6,172.4 622,172.2 622.4,171.9 622.8,172.4 623.1,172.2 623.5,172.3 623.9,172.2 624.3,172.2 624.6,172.4 625,172.5 625.4,172.4 625.8,172.2 626.2,172.4 626.5,172.3 626.9,172.1 627.3,172.4 627.7,172.2 628,171.7 628.4,172.4 628.8,173 629.2,172.6 629.5,172.5 629.9,172.4 630.3,172.2 630.7,172.3 631.1,172.7 631.4,172.4 631.8,172.5 632.2,172.3 632.6,172.2 632.9,172 633.3,172.6 633.7,172.7 634.1,172.5 634.5,172.5 634.8,172.4 635.2,172.4 635.6,172.4 636,172.5 636.3,172.4 636.7,172.5 637.1,172.5 637.5,172.4 637.9,171.9 638.2,172.3 638.6,173.5 639,172.9 639.4,172.5 639.7,172.6 640.1,172.5 640.5,172.5 640.9,172.5 641.3,172.8 641.6,172.6 642,172.5 642.4,172.4 642.8,172.3 643.1,172.1 643.5,172.7 643.9,173.2 644.3,172.7 644.7,172.6 645,172.5 645.4,172.6 645.8,172.6 646.2,172.8 646.5,172.6 646.9,172.7 647.3,172.6 647.7,172.1 648.1,172.3 648.4,173.1 648.8,173.2 649.2,172.7 649.6,172.6 649.9,172.7 650.3,172.7 650.7,172.5 651.1,172.7 651.4,172.6 651.8,172.7 652.2,172.7 652.6,172.5 653,172.7 653.3,173 653.7,172.8 654.1,172.8 654.5,172.8 654.8,172.7 655.2,172.6 655.6,173 656,172.8 656.4,172.8 656.7,172.8 657.1,172.8 657.5,172.8 657.9,172.8 658.2,172.8 658.6,172.8 659,172.8 659.4,172.8 659.8,172.8 660.1,172.8 660.5,172.8 660.9,172.8 661.3,172.8 661.6,172.8 662,172.8 662.4,172.8" fill="none" stroke="#f0b8c8" stroke-width="1.7" stroke-linejoin="round"/>
<polyline points="379.2,214 380.1,214 381.1,214 382,214 383,214 383.9,214 384.9,214 385.8,214 386.8,214 387.7,214 388.6,214 389.6,214 390.5,214 391.5,214 392.4,214 393.4,214 394.3,214 395.2,214 396.2,214 397.1,214 398.1,213.9 399,213.5 400,212.8 400.9,212.8 401.9,213.5 402.8,214.1 403.7,214.3 404.7,214.3 405.6,214.1 406.6,213.7 407.5,213 408.5,213 409.4,213.7 410.4,214 411.3,213.9 412.2,212.4 412.7,211.5 413.2,210.8 413.7,210 414.1,209.3 414.6,208.5 415.1,207.8 415.5,207 416,206.3 416.5,205.7 417,205.1 417.4,204.7 417.9,204.4 418.4,204.2 418.8,204.1 419.3,203.9 419.8,203.8 420.3,203.5 420.7,202.2 421.2,200.6 421.7,198.9 422.2,197.6 422.6,196.5 423.1,195.3 423.6,194 424,192.6 424.5,191.3 425,190.1 425.5,188.8 425.9,187.6 426.4,186.4 426.9,185.3 427.3,184.1 427.8,183 428.3,181.9 428.8,180.9 429.2,179.9 429.7,178.9 430.2,178 430.6,177.3 431.1,176.8 431.6,176.5 432.1,176.2 432.5,175.9 433,175.4 433.5,174 434,172.2 434.4,171.1 434.9,170.2 435.4,169.5 435.8,168.8 436.3,168.2 436.8,167.5 437.3,166.8 437.7,166.1 438.2,165.3 438.7,164.6 439.1,164 439.6,163.4 440.1,162.8 440.6,162.4 441,161.9 441.5,161.6 442,161.2 442.4,161 442.9,160.7 443.4,160.6 443.9,160.4 444.3,160.2 444.8,160.1 445.3,160 445.8,159.9 446.2,159.8 446.7,159.7 447.2,159.6 447.6,159.5 448.1,159.4 448.6,159.3 449.1,159.3 449.5,159.2 450,159.1 450.5,159.1 450.9,159 451.4,159 451.9,158.9 452.4,158.9 452.8,158.8 453.3,158.8 453.8,158.8 454.2,158.7 454.7,158.7 455.9,158.6 457,158.6 458.1,158.6 459.3,158.5 460.4,158.5 461.5,158.5 462.6,158.5 463.8,158.6 464.9,158.6 466,158.6 467.2,158.7 468.3,158.7 469.4,158.8 470.6,158.8 471.7,158.9 472.8,159 474,159 475.1,159.1 476.2,159.2 477.4,159.3 478.5,159.3 479.6,159.4 480.8,159.5 481.9,159.6 483,159.7 484.2,159.8 485.3,159.8 486.4,159.9 487.6,160 488.7,160.1 489.8,160.2 491,160.2 492.1,160.3 493.2,160.4 494.4,160.5 495.5,160.6 496.6,160.7 497.8,160.8 498.9,160.9 500,161.1 501.2,161.2 502.3,161.3 503.4,161.5 504.6,161.7 505.7,161.8 506.8,161.9 508,162 509.1,162.1 510.2,162.2 511.4,162.4 512.5,162.5 513.6,162.7 514.8,162.8 515.9,162.9 517,163.1 518.2,163.2 519.3,163.4 520.4,163.5 521.6,163.7 522.7,163.8 523.8,163.9 525,164.1 526.1,164.2 527.2,164.4 528.4,164.5 529.5,164.6 530.6,164.7 531.8,164.9 532.9,165 534,165.1 535.1,165.2 536.3,165.3 537.4,165.5 538.5,165.6 539.7,165.7 540.8,165.8 541.9,165.9 543.1,165.9 544.2,166 545.3,166.1 546.5,166.2 547.6,166.2 548.7,166.3 549.9,166.3 551,166.4 552.1,166.4 553.3,166.5 554.4,166.5 555.5,166.6 556.7,166.6 557.8,166.8 558.9,167 560.1,167.1 561.2,167 562.3,166.9 563.5,166.9 564.6,167 565.7,167 566.9,167 568,167.1 569.1,167.1 570.3,167.2 571.4,167.2 572.5,167.3 573.7,167.3 574.8,167.3 575.9,167.4 577.1,167.4 578.2,167.5 579.3,167.5 580.5,167.5 581.6,167.6 582.7,167.6 583.9,167.7 585,167.7 586.1,167.7 587.3,167.8 588.4,167.8 589.5,167.9 590.7,167.9 591.8,167.9 592.9,168 594.1,168 595.2,168 596.3,168.1 597.5,168.1 598.6,168.1 599.7,168.2 600.9,168.2 602,168.2 603.1,168.3 604.2,168.3 605.4,168.3 605.8,168.3 606.1,168.4 606.5,168.4 606.9,168.4 607.3,168.4 607.6,168.4 608,168.4 608.4,168.4 608.8,168.4 609.2,168.4 609.5,168.4 609.9,168.4 610.3,168.5 610.7,168.5 611,168.5 611.4,168.5 611.8,168.5 612.2,168.5 612.6,168.5 612.9,168.5 613.3,168.5 613.7,168.4 614.1,168.5 614.4,168.5 614.8,168.5 615.2,168.7 615.6,168.7 616,168.5 616.3,168.5 616.7,168.4 617.1,168.6 617.5,168.9 617.8,168.7 618.2,168.7 618.6,168.6 619,168.8 619.4,168.5 619.7,168.7 620.1,168.7 620.5,168.4 620.9,168.7 621.2,169 621.6,168.9 622,168.7 622.4,168.4 622.8,168.9 623.1,168.7 623.5,168.8 623.9,168.7 624.3,168.7 624.6,168.9 625,169 625.4,168.9 625.8,168.7 626.2,168.9 626.5,168.8 626.9,168.6 627.3,168.9 627.7,168.7 628,168.1 628.4,168.9 628.8,169.5 629.2,169.1 629.5,168.9 629.9,168.9 630.3,168.6 630.7,168.8 631.1,169.1 631.4,168.9 631.8,169 632.2,168.8 632.6,168.6 632.9,168.5 633.3,169.1 633.7,169.2 634.1,169 634.5,168.9 634.8,168.9 635.2,168.8 635.6,168.9 636,169 636.3,168.9 636.7,169 637.1,169 637.5,168.9 637.9,168.3 638.2,168.8 638.6,169.9 639,169.4 639.4,169 639.7,169 640.1,168.9 640.5,169 640.9,169 641.3,169.3 641.6,169.1 642,169 642.4,168.9 642.8,168.7 643.1,168.5 643.5,169.2 643.9,169.6 644.3,169.2 644.7,169.1 645,169 645.4,169.1 645.8,169.1 646.2,169.2 646.5,169 646.9,169.1 647.3,169 647.7,168.6 648.1,168.7 648.4,169.5 648.8,169.6 649.2,169.1 649.6,169.1 649.9,169.2 650.3,169.2 650.7,169 651.1,169.1 651.4,169 651.8,169.1 652.2,169.1 652.6,168.9 653,169.1 653.3,169.4 653.7,169.2 654.1,169.3 654.5,169.2 654.8,169.1 655.2,169 655.6,169.4 656,169.1 656.4,169.1 656.7,169.1 657.1,169.1 657.5,169.1 657.9,169.1 658.2,169.1 658.6,169.1 659,169.1 659.4,169.2 659.8,169.2 660.1,169.2 660.5,169.2 660.9,169.2 661.3,169.2 661.6,169.2 662,169.2 662.4,169.2" fill="none" stroke="#701838" stroke-width="1.7" stroke-linejoin="round"/>
<polyline points="379.2,214 380.1,214 381.1,214 382,214 383,214 383.9,214 384.9,214 385.8,214 386.8,214 387.7,214 388.6,214 389.6,214 390.5,214 391.5,214 392.4,214 393.4,214 394.3,214 395.2,214 396.2,214 397.1,214 398.1,213.9 399,213.4 400,212.6 400.9,212.7 401.9,213.5 402.8,214.1 403.7,214.3 404.7,214.3 405.6,214.1 406.6,213.7 407.5,212.9 408.5,212.9 409.4,213.6 410.4,214 411.3,213.9 412.2,212.1 412.7,211.1 413.2,210.2 413.7,209.5 414.1,208.8 414.6,208 415.1,207.3 415.5,206.6 416,205.9 416.5,205.2 417,204.6 417.4,204 417.9,203.5 418.4,203.1 418.8,202.8 419.3,202.6 419.8,202.4 420.3,202.2 420.7,202.1 421.2,201.9 421.7,201.1 422.2,199.4 422.6,197.4 423.1,195.7 423.6,194.2 424,192.8 424.5,191.4 425,189.8 425.5,188.2 425.9,186.7 426.4,185.2 426.9,183.8 427.3,182.4 427.8,181 428.3,179.6 428.8,178.3 429.2,177 429.7,175.8 430.2,174.6 430.6,173.4 431.1,172.2 431.6,171.2 432.1,170.5 432.5,170 433,169.7 433.5,169.3 434,168.9 434.4,168 434.9,166 435.4,164.2 435.8,163 436.3,162.1 436.8,161.2 437.3,160.4 437.7,159.7 438.2,158.9 438.7,158 439.1,157.2 439.6,156.3 440.1,155.5 440.6,154.7 441,154.1 441.5,153.5 442,152.9 442.4,152.5 442.9,152 443.4,151.7 443.9,151.4 444.3,151.1 444.8,150.9 445.3,150.7 445.8,150.5 446.2,150.4 446.7,150.2 447.2,150.1 447.6,149.9 448.1,149.8 448.6,149.7 449.1,149.6 449.5,149.6 450,149.5 450.5,149.4 450.9,149.3 451.4,149.3 451.9,149.2 452.4,149.2 452.8,149.1 453.3,149.1 453.8,149 454.2,149 454.7,148.9 455.9,148.9 457,148.8 458.1,148.8 459.3,148.8 460.4,148.7 461.5,148.7 462.6,148.8 463.8,148.8 464.9,148.8 466,148.9 467.2,149 468.3,149.1 469.4,149.2 470.6,149.3 471.7,149.4 472.8,149.5 474,149.6 475.1,149.7 476.2,149.9 477.4,150 478.5,150.1 479.6,150.3 480.8,150.4 481.9,150.5 483,150.7 484.2,150.8 485.3,150.9 486.4,151.1 487.6,151.2 488.7,151.3 489.8,151.5 491,151.6 492.1,151.7 493.2,151.8 494.4,152 495.5,152.1 496.6,152.3 497.8,152.4 498.9,152.6 500,152.7 501.2,152.9 502.3,153 503.4,153.3 504.6,153.6 505.7,153.7 506.8,153.7 508,153.9 509.1,154 510.2,154.2 511.4,154.4 512.5,154.5 513.6,154.7 514.8,154.9 515.9,155.1 517,155.2 518.2,155.4 519.3,155.6 520.4,155.8 521.6,155.9 522.7,156.1 523.8,156.3 525,156.4 526.1,156.6 527.2,156.8 528.4,156.9 529.5,157.1 530.6,157.2 531.8,157.4 532.9,157.6 534,157.7 535.1,157.8 536.3,158 537.4,158.1 538.5,158.3 539.7,158.4 540.8,158.5 541.9,158.6 543.1,158.8 544.2,158.9 545.3,159 546.5,159.1 547.6,159.2 548.7,159.2 549.9,159.3 551,159.4 552.1,159.5 553.3,159.6 554.4,159.6 555.5,159.7 556.7,159.8 557.8,159.9 558.9,160.2 560.1,160.3 561.2,160.2 562.3,160.1 563.5,160.2 564.6,160.2 565.7,160.3 566.9,160.4 568,160.4 569.1,160.5 570.3,160.5 571.4,160.6 572.5,160.6 573.7,160.7 574.8,160.7 575.9,160.8 577.1,160.8 578.2,160.9 579.3,161 580.5,161 581.6,161 582.7,161.1 583.9,161.1 585,161.2 586.1,161.2 587.3,161.3 588.4,161.3 589.5,161.4 590.7,161.4 591.8,161.5 592.9,161.5 594.1,161.6 595.2,161.6 596.3,161.6 597.5,161.7 598.6,161.7 599.7,161.8 600.9,161.8 602,161.9 603.1,161.9 604.2,161.9 605.4,162 605.8,162 606.1,162 606.5,162 606.9,162 607.3,162 607.6,162.1 608,162.1 608.4,162.1 608.8,162.1 609.2,162.1 609.5,162.1 609.9,162.1 610.3,162.2 610.7,162.2 611,162.2 611.4,162.2 611.8,162.2 612.2,162.2 612.6,162.2 612.9,162.3 613.3,162.3 613.7,162.2 614.1,162.3 614.4,162.3 614.8,162.3 615.2,162.4 615.6,162.4 616,162.2 616.3,162.3 616.7,162.2 617.1,162.4 617.5,162.7 617.8,162.5 618.2,162.5 618.6,162.4 619,162.6 619.4,162.4 619.7,162.6 620.1,162.6 620.5,162.2 620.9,162.6 621.2,162.9 621.6,162.8 622,162.6 622.4,162.3 622.8,162.7 623.1,162.6 623.5,162.7 623.9,162.5 624.3,162.6 624.6,162.8 625,162.9 625.4,162.8 625.8,162.6 626.2,162.8 626.5,162.7 626.9,162.5 627.3,162.8 627.7,162.6 628,162.1 628.4,162.8 628.8,163.5 629.2,163.1 629.5,162.9 629.9,162.8 630.3,162.6 630.7,162.8 631.1,163.2 631.4,162.9 631.8,163 632.2,162.8 632.6,162.7 632.9,162.5 633.3,163.2 633.7,163.2 634.1,163 634.5,163 634.8,163 635.2,162.9 635.6,163 636,163.1 636.3,163 636.7,163.1 637.1,163.1 637.5,163 637.9,162.4 638.2,162.9 638.6,164.1 639,163.5 639.4,163.2 639.7,163.2 640.1,163.1 640.5,163.2 640.9,163.2 641.3,163.5 641.6,163.3 642,163.2 642.4,163.1 642.8,163 643.1,162.8 643.5,163.4 643.9,163.9 644.3,163.4 644.7,163.3 645,163.3 645.4,163.4 645.8,163.3 646.2,163.5 646.5,163.4 646.9,163.4 647.3,163.3 647.7,162.9 648.1,163 648.4,163.9 648.8,164 649.2,163.5 649.6,163.4 649.9,163.5 650.3,163.6 650.7,163.3 651.1,163.5 651.4,163.4 651.8,163.5 652.2,163.5 652.6,163.4 653,163.6 653.3,163.8 653.7,163.6 654.1,163.7 654.5,163.7 654.8,163.6 655.2,163.5 655.6,163.9 656,163.7 656.4,163.7 656.7,163.7 657.1,163.7 657.5,163.7 657.9,163.7 658.2,163.7 658.6,163.7 659,163.7 659.4,163.7 659.8,163.8 660.1,163.8 660.5,163.8 660.9,163.8 661.3,163.8 661.6,163.8 662,163.8 662.4,163.8" fill="none" stroke="#000000" stroke-width="1.7" stroke-linejoin="round"/>
<polyline points="379.2,214 380.1,214 381.1,214 382,214 383,214 383.9,214 384.9,214 385.8,214 386.8,214 387.7,214 388.6,214 389.6,214 390.5,214 391.5,214 392.4,214 393.4,214 394.3,214 395.2,214 396.2,214 397.1,214 398.1,213.9 399,213.3 400,212.4 400.9,212.4 401.9,213.3 402.8,214.1 403.7,214.3 404.7,214.4 405.6,214.2 406.6,213.6 407.5,212.7 408.5,212.7 409.4,213.5 410.4,214 411.3,213.8 412.2,211.6 412.7,210.4 413.2,209.3 413.7,208.3 414.1,207.2 414.6,206.2 415.1,205.2 415.5,204.2 416,203.2 416.5,202.3 417,201.6 417.4,200.8 417.9,200.3 418.4,199.9 418.8,199.7 419.3,199.5 419.8,199.3 420.3,199.1 420.7,198.7 421.2,196.9 421.7,194.6 422.2,192.2 422.6,190.3 423.1,188.5 423.6,186.8 424,184.9 424.5,183 425,181 425.5,179.2 425.9,177.4 426.4,175.6 426.9,173.9 427.3,172.2 427.8,170.5 428.3,168.9 428.8,167.3 429.2,165.8 429.7,164.4 430.2,162.9 430.6,161.5 431.1,160.4 431.6,159.7 432.1,159.3 432.5,158.9 433,158.4 433.5,157.8 434,155.7 434.4,153.2 434.9,151.5 435.4,150.2 435.8,149.1 436.3,148.1 436.8,147.2 437.3,146.2 437.7,145.2 438.2,144.1 438.7,143 439.1,142 439.6,141 440.1,140.1 440.6,139.4 441,138.7 441.5,138.1 442,137.5 442.4,137 442.9,136.6 443.4,136.3 443.9,136 444.3,135.8 444.8,135.5 445.3,135.4 445.8,135.2 446.2,135 446.7,134.8 447.2,134.7 447.6,134.5 448.1,134.4 448.6,134.3 449.1,134.2 449.5,134.1 450,134 450.5,134 450.9,133.9 451.4,133.8 451.9,133.8 452.4,133.7 452.8,133.6 453.3,133.6 453.8,133.6 454.2,133.5 454.7,133.5 455.9,133.4 457,133.4 458.1,133.4 459.3,133.4 460.4,133.4 461.5,133.4 462.6,133.5 463.8,133.6 464.9,133.8 466,133.9 467.2,134.1 468.3,134.2 469.4,134.4 470.6,134.6 471.7,134.9 472.8,135.1 474,135.3 475.1,135.5 476.2,135.8 477.4,136 478.5,136.3 479.6,136.5 480.8,136.8 481.9,137 483,137.3 484.2,137.5 485.3,137.7 486.4,138 487.6,138.2 488.7,138.4 489.8,138.6 491,138.7 492.1,138.9 493.2,139.1 494.4,139.3 495.5,139.5 496.6,139.7 497.8,139.9 498.9,140 500,140.2 501.2,140.4 502.3,140.6 503.4,140.9 504.6,141.3 505.7,141.4 506.8,141.5 508,141.6 509.1,141.8 510.2,142 511.4,142.1 512.5,142.3 513.6,142.5 514.8,142.7 515.9,142.9 517,143.1 518.2,143.3 519.3,143.5 520.4,143.7 521.6,143.8 522.7,144 523.8,144.2 525,144.4 526.1,144.6 527.2,144.8 528.4,144.9 529.5,145.1 530.6,145.3 531.8,145.4 532.9,145.6 534,145.8 535.1,145.9 536.3,146.1 537.4,146.3 538.5,146.4 539.7,146.6 540.8,146.7 541.9,146.9 543.1,147 544.2,147.2 545.3,147.3 546.5,147.4 547.6,147.6 548.7,147.7 549.9,147.8 551,148 552.1,148.1 553.3,148.2 554.4,148.3 555.5,148.4 556.7,148.6 557.8,148.8 558.9,149.1 560.1,149.3 561.2,149.2 562.3,149.2 563.5,149.2 564.6,149.3 565.7,149.4 566.9,149.5 568,149.7 569.1,149.8 570.3,149.9 571.4,150 572.5,150.1 573.7,150.2 574.8,150.3 575.9,150.4 577.1,150.5 578.2,150.6 579.3,150.7 580.5,150.7 581.6,150.8 582.7,150.9 583.9,151 585,151.1 586.1,151.2 587.3,151.3 588.4,151.4 589.5,151.5 590.7,151.6 591.8,151.6 592.9,151.7 594.1,151.8 595.2,151.9 596.3,152 597.5,152.1 598.6,152.1 599.7,152.2 600.9,152.3 602,152.4 603.1,152.4 604.2,152.5 605.4,152.6 605.8,152.6 606.1,152.7 606.5,152.7 606.9,152.7 607.3,152.7 607.6,152.8 608,152.8 608.4,152.8 608.8,152.8 609.2,152.9 609.5,152.9 609.9,152.9 610.3,152.9 610.7,152.9 611,153 611.4,153 611.8,153 612.2,153 612.6,153.1 612.9,153.1 613.3,153.1 613.7,153 614.1,153.2 614.4,153.2 614.8,153.2 615.2,153.3 615.6,153.3 616,153.1 616.3,153.2 616.7,153.1 617.1,153.3 617.5,153.6 617.8,153.5 618.2,153.5 618.6,153.4 619,153.6 619.4,153.4 619.7,153.6 620.1,153.6 620.5,153.2 620.9,153.6 621.2,154 621.6,153.9 622,153.6 622.4,153.3 622.8,153.8 623.1,153.7 623.5,153.8 623.9,153.6 624.3,153.7 624.6,153.9 625,154.1 625.4,154 625.8,153.7 626.2,154 626.5,153.9 626.9,153.7 627.3,154 627.7,153.8 628,153.2 628.4,154 628.8,154.8 629.2,154.4 629.5,154.2 629.9,154.1 630.3,153.9 630.7,154 631.1,154.5 631.4,154.2 631.8,154.3 632.2,154.1 632.6,154 632.9,153.8 633.3,154.5 633.7,154.6 634.1,154.4 634.5,154.4 634.8,154.4 635.2,154.3 635.6,154.4 636,154.5 636.3,154.4 636.7,154.5 637.1,154.5 637.5,154.4 637.9,153.8 638.2,154.3 638.6,155.6 639,155 639.4,154.6 639.7,154.7 640.1,154.6 640.5,154.7 640.9,154.7 641.3,155 641.6,154.8 642,154.7 642.4,154.6 642.8,154.5 643.1,154.3 643.5,155 643.9,155.5 644.3,155 644.7,154.9 645,154.8 645.4,155 645.8,154.9 646.2,155.1 646.5,155 646.9,155.1 647.3,154.9 647.7,154.5 648.1,154.6 648.4,155.5 648.8,155.7 649.2,155.1 649.6,155.1 649.9,155.2 650.3,155.2 650.7,155 651.1,155.2 651.4,155.1 651.8,155.2 652.2,155.2 652.6,155.1 653,155.3 653.3,155.6 653.7,155.4 654.1,155.5 654.5,155.4 654.8,155.4 655.2,155.2 655.6,155.7 656,155.4 656.4,155.4 656.7,155.5 657.1,155.5 657.5,155.5 657.9,155.5 658.2,155.5 658.6,155.5 659,155.6 659.4,155.6 659.8,155.6 660.1,155.6 660.5,155.6 660.9,155.6 661.3,155.6 661.6,155.7 662,155.7 662.4,155.7" fill="none" stroke="#ff1010" stroke-width="1.6" stroke-linejoin="round"/>
<polyline points="379.2,214 380.1,214 381.1,214 382,214 383,214 383.9,214 384.9,214 385.8,214 386.8,214 387.7,214 388.6,214 389.6,214 390.5,214 391.5,214 392.4,214 393.4,214 394.3,214 395.2,214 396.2,214 397.1,214 398.1,213.8 399,213.1 400,212 400.9,212 401.9,213.2 402.8,214.1 403.7,214.4 404.7,214.4 405.6,214.2 406.6,213.5 407.5,212.4 408.5,212.4 409.4,213.4 410.4,213.9 411.3,213.8 412.2,211 412.7,209.5 413.2,208.2 413.7,206.8 414.1,205.4 414.6,204 415.1,202.6 415.5,201.3 416,200 416.5,198.9 417,197.9 417.4,197.1 417.9,196.5 418.4,196.2 418.8,195.9 419.3,195.6 419.8,195.4 420.3,195 420.7,192.9 421.2,190 421.7,187 422.2,184.5 422.6,182.4 423.1,180.2 423.6,177.9 424,175.5 424.5,173.1 425,170.8 425.5,168.5 425.9,166.4 426.4,164.2 426.9,162.1 427.3,160.1 427.8,158 428.3,156.1 428.8,154.2 429.2,152.4 429.7,150.6 430.2,148.9 430.6,147.5 431.1,146.6 431.6,146 432.1,145.5 432.5,144.9 433,144.2 433.5,141.9 434,138.7 434.4,136.5 434.9,134.9 435.4,133.5 435.8,132.2 436.3,131 436.8,129.8 437.3,128.6 437.7,127.2 438.2,125.9 438.7,124.6 439.1,123.3 439.6,122.2 440.1,121.2 440.6,120.3 441,119.5 441.5,118.8 442,118.1 442.4,117.6 442.9,117.2 443.4,116.8 443.9,116.4 444.3,116.1 444.8,115.9 445.3,115.7 445.8,115.4 446.2,115.2 446.7,115 447.2,114.8 447.6,114.6 448.1,114.5 448.6,114.3 449.1,114.2 449.5,114 450,113.9 450.5,113.8 450.9,113.7 451.4,113.6 451.9,113.5 452.4,113.5 452.8,113.4 453.3,113.3 453.8,113.3 454.2,113.2 454.7,113.2 455.9,113.1 457,113 458.1,112.9 459.3,112.9 460.4,112.9 461.5,112.8 462.6,112.8 463.8,112.9 464.9,112.9 466,113 467.2,113.1 468.3,113.3 469.4,113.5 470.6,113.7 471.7,113.9 472.8,114.2 474,114.4 475.1,114.7 476.2,115 477.4,115.3 478.5,115.6 479.6,115.9 480.8,116.3 481.9,116.6 483,116.9 484.2,117.2 485.3,117.5 486.4,117.8 487.6,118.1 488.7,118.4 489.8,118.6 491,118.9 492.1,119.1 493.2,119.4 494.4,119.6 495.5,119.9 496.6,120.1 497.8,120.4 498.9,120.6 500,120.9 501.2,121.1 502.3,121.4 503.4,121.9 504.6,122.4 505.7,122.6 506.8,122.6 508,122.7 509.1,123 510.2,123.2 511.4,123.5 512.5,123.8 513.6,124 514.8,124.3 515.9,124.6 517,124.8 518.2,125.1 519.3,125.3 520.4,125.6 521.6,125.9 522.7,126.1 523.8,126.4 525,126.6 526.1,126.9 527.2,127.1 528.4,127.4 529.5,127.6 530.6,127.9 531.8,128.1 532.9,128.3 534,128.6 535.1,128.8 536.3,129 537.4,129.3 538.5,129.5 539.7,129.7 540.8,129.9 541.9,130.2 543.1,130.4 544.2,130.6 545.3,130.8 546.5,131 547.6,131.2 548.7,131.4 549.9,131.6 551,131.7 552.1,131.9 553.3,132.1 554.4,132.3 555.5,132.5 556.7,132.7 557.8,133 558.9,133.4 560.1,133.7 561.2,133.6 562.3,133.6 563.5,133.7 564.6,133.9 565.7,134 566.9,134.2 568,134.4 569.1,134.5 570.3,134.7 571.4,134.9 572.5,135 573.7,135.2 574.8,135.3 575.9,135.5 577.1,135.6 578.2,135.8 579.3,135.9 580.5,136.1 581.6,136.2 582.7,136.4 583.9,136.5 585,136.7 586.1,136.8 587.3,137 588.4,137.1 589.5,137.2 590.7,137.4 591.8,137.5 592.9,137.6 594.1,137.8 595.2,137.9 596.3,138 597.5,138.2 598.6,138.3 599.7,138.4 600.9,138.5 602,138.7 603.1,138.8 604.2,138.9 605.4,139 605.8,139 606.1,139.1 606.5,139.1 606.9,139.2 607.3,139.2 607.6,139.2 608,139.3 608.4,139.3 608.8,139.3 609.2,139.4 609.5,139.4 609.9,139.4 610.3,139.5 610.7,139.5 611,139.6 611.4,139.6 611.8,139.6 612.2,139.7 612.6,139.7 612.9,139.7 613.3,139.8 613.7,139.7 614.1,139.8 614.4,139.8 614.8,139.8 615.2,140.1 615.6,140 616,139.8 616.3,139.9 616.7,139.9 617.1,140.1 617.5,140.4 617.8,140.2 618.2,140.3 618.6,140.2 619,140.5 619.4,140.2 619.7,140.4 620.1,140.4 620.5,140 620.9,140.5 621.2,140.8 621.6,140.8 622,140.5 622.4,140.2 622.8,140.8 623.1,140.6 623.5,140.7 623.9,140.6 624.3,140.6 624.6,140.9 625,141.1 625.4,141 625.8,140.7 626.2,141 626.5,140.9 626.9,140.6 627.3,141.1 627.7,140.8 628,140.2 628.4,141.1 628.8,141.9 629.2,141.5 629.5,141.3 629.9,141.2 630.3,141 630.7,141.1 631.1,141.6 631.4,141.4 631.8,141.5 632.2,141.3 632.6,141.1 632.9,140.9 633.3,141.7 633.7,141.8 634.1,141.6 634.5,141.6 634.8,141.6 635.2,141.5 635.6,141.6 636,141.7 636.3,141.6 636.7,141.7 637.1,141.8 637.5,141.7 637.9,141 638.2,141.6 638.6,143 639,142.3 639.4,141.9 639.7,142 640.1,141.9 640.5,142 640.9,142 641.3,142.4 641.6,142.1 642,142.1 642.4,142 642.8,141.8 643.1,141.6 643.5,142.4 643.9,143 644.3,142.4 644.7,142.3 645,142.2 645.4,142.4 645.8,142.4 646.2,142.6 646.5,142.4 646.9,142.5 647.3,142.4 647.7,141.9 648.1,142 648.4,143.1 648.8,143.2 649.2,142.6 649.6,142.6 649.9,142.7 650.3,142.8 650.7,142.5 651.1,142.7 651.4,142.6 651.8,142.7 652.2,142.7 652.6,142.6 653,142.8 653.3,143.1 653.7,142.9 654.1,143.1 654.5,143 654.8,143 655.2,142.8 655.6,143.3 656,143 656.4,143 656.7,143.1 657.1,143.1 657.5,143.1 657.9,143.1 658.2,143.1 658.6,143.2 659,143.2 659.4,143.2 659.8,143.2 660.1,143.2 660.5,143.3 660.9,143.3 661.3,143.3 661.6,143.3 662,143.3 662.4,143.4" fill="none" stroke="#30e030" stroke-width="1.6" stroke-linejoin="round"/>
<polyline points="379.2,214 380.1,214 381.1,214 382,214 383,214 383.9,214 384.9,214 385.8,214 386.8,214 387.7,214 388.6,214 389.6,214 390.5,214 391.5,214 392.4,214 393.4,214 394.3,214 395.2,214 396.2,214 397.1,214 398.1,213.8 399,212.9 400,211.5 400.9,211.6 401.9,213 402.8,214.1 403.7,214.5 404.7,214.5 405.6,214.2 406.6,213.4 407.5,212 408.5,212 409.4,213.3 410.4,213.9 411.3,213.7 412.2,210.3 412.7,208.4 413.2,206.8 413.7,205.1 414.1,203.5 414.6,201.8 415.1,200.3 415.5,198.7 416,197.1 416.5,195.7 417,194.5 417.4,193.4 417.9,192.6 418.4,192.1 418.8,191.8 419.3,191.4 419.8,191.2 420.3,190.9 420.7,189.7 421.2,186.5 421.7,182.9 422.2,179.4 422.6,176.6 423.1,174 423.6,171.3 424,168.4 424.5,165.4 425,162.5 425.5,159.8 425.9,157.1 426.4,154.5 426.9,151.9 427.3,149.4 427.8,146.9 428.3,144.5 428.8,142.2 429.2,140 429.7,137.8 430.2,135.7 430.6,133.7 431.1,132.3 431.6,131.4 432.1,130.8 432.5,130.1 433,129.4 433.5,128 434,124.5 434.4,120.9 434.9,118.7 435.4,116.9 435.8,115.2 436.3,113.8 436.8,112.3 437.3,110.8 437.7,109.2 438.2,107.6 438.7,105.9 439.1,104.3 439.6,102.7 440.1,101.4 440.6,100.1 441,99 441.5,98 442,97.1 442.4,96.3 442.9,95.6 443.4,95 443.9,94.5 444.3,94 444.8,93.6 445.3,93.3 445.8,92.9 446.2,92.5 446.7,92.1 447.2,91.8 447.6,91.4 448.1,91.1 448.6,90.8 449.1,90.6 449.5,90.3 450,90.1 450.5,89.9 450.9,89.7 451.4,89.4 451.9,89.2 452.4,89.1 452.8,88.9 453.3,88.7 453.8,88.6 454.2,88.4 454.7,88.3 455.9,88 457,87.8 458.1,87.6 459.3,87.4 460.4,87.3 461.5,87.2 462.6,87.1 463.8,87.1 464.9,87 466,87.1 467.2,87.1 468.3,87.2 469.4,87.4 470.6,87.5 471.7,87.7 472.8,87.9 474,88.2 475.1,88.4 476.2,88.7 477.4,89 478.5,89.3 479.6,89.6 480.8,89.9 481.9,90.2 483,90.5 484.2,90.8 485.3,91.1 486.4,91.4 487.6,91.7 488.7,92 489.8,92.3 491,92.5 492.1,92.8 493.2,93.1 494.4,93.4 495.5,93.7 496.6,94 497.8,94.3 498.9,94.6 500,94.9 501.2,95.2 502.3,95.6 503.4,96.2 504.6,96.8 505.7,97.1 506.8,97.1 508,97.2 509.1,97.5 510.2,97.9 511.4,98.2 512.5,98.6 513.6,98.9 514.8,99.3 515.9,99.6 517,100 518.2,100.3 519.3,100.7 520.4,101.1 521.6,101.4 522.7,101.8 523.8,102.1 525,102.5 526.1,102.8 527.2,103.1 528.4,103.5 529.5,103.8 530.6,104.2 531.8,104.5 532.9,104.8 534,105.1 535.1,105.5 536.3,105.8 537.4,106.1 538.5,106.4 539.7,106.7 540.8,107 541.9,107.3 543.1,107.6 544.2,107.8 545.3,108.1 546.5,108.4 547.6,108.6 548.7,108.9 549.9,109.1 551,109.4 552.1,109.6 553.3,109.8 554.4,110 555.5,110.3 556.7,110.5 557.8,110.9 558.9,111.5 560.1,111.7 561.2,111.6 562.3,111.6 563.5,111.7 564.6,111.9 565.7,112.1 566.9,112.3 568,112.5 569.1,112.7 570.3,112.9 571.4,113.1 572.5,113.3 573.7,113.5 574.8,113.7 575.9,113.9 577.1,114 578.2,114.2 579.3,114.4 580.5,114.6 581.6,114.7 582.7,114.9 583.9,115.1 585,115.3 586.1,115.4 587.3,115.6 588.4,115.8 589.5,116 590.7,116.1 591.8,116.3 592.9,116.5 594.1,116.6 595.2,116.8 596.3,117 597.5,117.1 598.6,117.3 599.7,117.5 600.9,117.6 602,117.8 603.1,118 604.2,118.1 605.4,118.3 605.8,118.4 606.1,118.4 606.5,118.5 606.9,118.5 607.3,118.6 607.6,118.6 608,118.7 608.4,118.8 608.8,118.8 609.2,118.9 609.5,118.9 609.9,119 610.3,119 610.7,119.1 611,119.2 611.4,119.2 611.8,119.3 612.2,119.3 612.6,119.4 612.9,119.4 613.3,119.5 613.7,119.4 614.1,119.6 614.4,119.6 614.8,119.6 615.2,119.9 615.6,119.9 616,119.7 616.3,119.8 616.7,119.8 617.1,120 617.5,120.4 617.8,120.2 618.2,120.3 618.6,120.2 619,120.5 619.4,120.2 619.7,120.5 620.1,120.5 620.5,120.1 620.9,120.6 621.2,121.1 621.6,121 622,120.7 622.4,120.4 622.8,121 623.1,120.9 623.5,121 623.9,120.9 624.3,121 624.6,121.3 625,121.5 625.4,121.4 625.8,121.1 626.2,121.4 626.5,121.4 626.9,121.1 627.3,121.6 627.7,121.3 628,120.7 628.4,121.7 628.8,122.6 629.2,122.1 629.5,122 629.9,121.9 630.3,121.6 630.7,121.8 631.1,122.4 631.4,122.1 631.8,122.3 632.2,122.1 632.6,121.9 632.9,121.7 633.3,122.6 633.7,122.7 634.1,122.5 634.5,122.5 634.8,122.5 635.2,122.5 635.6,122.6 636,122.8 636.3,122.6 636.7,122.8 637.1,122.9 637.5,122.8 637.9,122.1 638.2,122.8 638.6,124.4 639,123.6 639.4,123.2 639.7,123.3 640.1,123.2 640.5,123.3 640.9,123.4 641.3,123.8 641.6,123.5 642,123.5 642.4,123.4 642.8,123.3 643.1,123 643.5,123.9 643.9,124.6 644.3,124 644.7,123.9 645,123.9 645.4,124 645.8,124.1 646.2,124.3 646.5,124.1 646.9,124.3 647.3,124.1 647.7,123.6 648.1,123.8 648.4,125 648.8,125.2 649.2,124.5 649.6,124.5 649.9,124.7 650.3,124.8 650.7,124.5 651.1,124.8 651.4,124.7 651.8,124.8 652.2,124.9 652.6,124.7 653,125 653.3,125.4 653.7,125.2 654.1,125.3 654.5,125.3 654.8,125.3 655.2,125.1 655.6,125.7 656,125.4 656.4,125.5 656.7,125.5 657.1,125.6 657.5,125.6 657.9,125.7 658.2,125.7 658.6,125.8 659,125.8 659.4,125.9 659.8,125.9 660.1,126 660.5,126 660.9,126.1 661.3,126.1 661.6,126.2 662,126.2 662.4,126.2" fill="none" stroke="#1818d8" stroke-width="1.6" stroke-linejoin="round"/>
<polyline points="379.2,214 380.1,214 381.1,214 382,214 383,214 383.9,214 384.9,214 385.8,214 386.8,214 387.7,214 388.6,214 389.6,214 390.5,214 391.5,214 392.4,214 393.4,214 394.3,214 395.2,214 396.2,214 397.1,214 398.1,213.8 399,212.7 400,211.2 400.9,211.2 401.9,212.8 402.8,214.1 403.7,214.6 404.7,214.6 405.6,214.3 406.6,213.3 407.5,211.7 408.5,211.7 409.4,213.2 410.4,213.9 411.3,213.7 412.2,209.6 412.7,207.4 413.2,205.6 413.7,203.6 414.1,201.6 414.6,199.6 415.1,197.7 415.5,195.8 416,194 416.5,192.4 417,190.9 417.4,189.7 417.9,188.8 418.4,188.3 418.8,187.9 419.3,187.5 419.8,187.2 420.3,186.7 420.7,184.4 421.2,180.4 421.7,176 422.2,172.4 422.6,169.2 423.1,166.2 423.6,163.1 424,159.7 424.5,156.3 425,153.1 425.5,150 425.9,146.9 426.4,144 426.9,141.1 427.3,138.3 427.8,135.5 428.3,132.8 428.8,130.2 429.2,127.8 429.7,125.3 430.2,122.9 430.6,120.9 431.1,119.5 431.6,118.7 432.1,118.1 432.5,117.3 433,116.4 433.5,113.9 434,109.5 434.4,106.1 434.9,103.8 435.4,101.8 435.8,100 436.3,98.3 436.8,96.7 437.3,94.9 437.7,93 438.2,91 438.7,89.1 439.1,87.2 439.6,85.4 440.1,83.8 440.6,82.3 441,81 441.5,79.7 442,78.6 442.4,77.6 442.9,76.8 443.4,76.1 443.9,75.4 444.3,74.8 444.8,74.3 445.3,73.8 445.8,73.3 446.2,72.8 446.7,72.4 447.2,72 447.6,71.6 448.1,71.2 448.6,70.8 449.1,70.5 449.5,70.2 450,69.9 450.5,69.6 450.9,69.3 451.4,69.1 451.9,68.8 452.4,68.6 452.8,68.4 453.3,68.2 453.8,68 454.2,67.8 454.7,67.6 455.9,67.3 457,67 458.1,66.7 459.3,66.5 460.4,66.3 461.5,66.2 462.6,66.1 463.8,66.1 464.9,66 466,66 467.2,66.1 468.3,66.2 469.4,66.3 470.6,66.4 471.7,66.6 472.8,66.8 474,67 475.1,67.2 476.2,67.4 477.4,67.7 478.5,68 479.6,68.2 480.8,68.5 481.9,68.8 483,69.1 484.2,69.3 485.3,69.6 486.4,69.9 487.6,70.2 488.7,70.4 489.8,70.7 491,70.9 492.1,71.2 493.2,71.4 494.4,71.7 495.5,72 496.6,72.3 497.8,72.5 498.9,72.8 500,73.1 501.2,73.4 502.3,73.8 503.4,74.4 504.6,75.2 505.7,75.4 506.8,75.3 508,75.4 509.1,75.7 510.2,76 511.4,76.3 512.5,76.7 513.6,77 514.8,77.4 515.9,77.7 517,78 518.2,78.4 519.3,78.7 520.4,79.1 521.6,79.4 522.7,79.8 523.8,80.1 525,80.5 526.1,80.8 527.2,81.2 528.4,81.5 529.5,81.9 530.6,82.2 531.8,82.5 532.9,82.9 534,83.2 535.1,83.5 536.3,83.9 537.4,84.2 538.5,84.5 539.7,84.8 540.8,85.2 541.9,85.5 543.1,85.8 544.2,86.1 545.3,86.4 546.5,86.7 547.6,87 548.7,87.2 549.9,87.5 551,87.8 552.1,88.1 553.3,88.3 554.4,88.6 555.5,88.9 556.7,89.2 557.8,89.6 558.9,90.3 560.1,90.7 561.2,90.5 562.3,90.5 563.5,90.7 564.6,91 565.7,91.2 566.9,91.5 568,91.7 569.1,92 570.3,92.2 571.4,92.5 572.5,92.7 573.7,93 574.8,93.2 575.9,93.4 577.1,93.7 578.2,93.9 579.3,94.2 580.5,94.4 581.6,94.6 582.7,94.9 583.9,95.1 585,95.3 586.1,95.6 587.3,95.8 588.4,96 589.5,96.3 590.7,96.5 591.8,96.7 592.9,96.9 594.1,97.2 595.2,97.4 596.3,97.6 597.5,97.8 598.6,98.1 599.7,98.3 600.9,98.5 602,98.7 603.1,98.9 604.2,99.1 605.4,99.4 605.8,99.4 606.1,99.5 606.5,99.6 606.9,99.6 607.3,99.7 607.6,99.8 608,99.8 608.4,99.9 608.8,100 609.2,100.1 609.5,100.1 609.9,100.2 610.3,100.3 610.7,100.3 611,100.4 611.4,100.5 611.8,100.5 612.2,100.6 612.6,100.7 612.9,100.8 613.3,100.8 613.7,100.7 614.1,100.9 614.4,101 614.8,101 615.2,101.3 615.6,101.3 616,101.1 616.3,101.2 616.7,101.2 617.1,101.5 617.5,101.9 617.8,101.7 618.2,101.8 618.6,101.7 619,102.1 619.4,101.7 619.7,102 620.1,102.1 620.5,101.7 620.9,102.2 621.2,102.7 621.6,102.7 622,102.3 622.4,102 622.8,102.7 623.1,102.5 623.5,102.7 623.9,102.5 624.3,102.6 624.6,103 625,103.2 625.4,103.1 625.8,102.8 626.2,103.2 626.5,103.1 626.9,102.8 627.3,103.4 627.7,103.1 628,102.4 628.4,103.5 628.8,104.5 629.2,104 629.5,103.8 629.9,103.7 630.3,103.5 630.7,103.7 631.1,104.3 631.4,104 631.8,104.2 632.2,104 632.6,103.8 632.9,103.6 633.3,104.6 633.7,104.7 634.1,104.5 634.5,104.5 634.8,104.5 635.2,104.5 635.6,104.6 636,104.8 636.3,104.7 636.7,104.9 637.1,105 637.5,104.9 637.9,104.1 638.2,104.8 638.6,106.6 639,105.8 639.4,105.3 639.7,105.4 640.1,105.3 640.5,105.5 640.9,105.5 641.3,106 641.6,105.7 642,105.7 642.4,105.6 642.8,105.4 643.1,105.2 643.5,106.2 643.9,106.9 644.3,106.3 644.7,106.2 645,106.1 645.4,106.3 645.8,106.3 646.2,106.6 646.5,106.4 646.9,106.6 647.3,106.4 647.7,105.8 648.1,106.1 648.4,107.4 648.8,107.6 649.2,106.9 649.6,106.9 649.9,107.1 650.3,107.1 650.7,106.9 651.1,107.2 651.4,107.1 651.8,107.2 652.2,107.3 652.6,107.1 653,107.4 653.3,107.9 653.7,107.6 654.1,107.8 654.5,107.8 654.8,107.8 655.2,107.6 655.6,108.2 656,107.9 656.4,108 656.7,108 657.1,108.1 657.5,108.1 657.9,108.2 658.2,108.3 658.6,108.3 659,108.4 659.4,108.4 659.8,108.5 660.1,108.5 660.5,108.6 660.9,108.6 661.3,108.7 661.6,108.8 662,108.8 662.4,108.9" fill="none" stroke="#30e0e0" stroke-width="1.6" stroke-linejoin="round"/>
<polyline points="379.2,214 380.1,214 381.1,214 382,214 383,214 383.9,214 384.9,214 385.8,214 386.8,214 387.7,214 388.6,214 389.6,214 390.5,214 391.5,214 392.4,214 393.4,214 394.3,214 395.2,214 396.2,214 397.1,214 398.1,213.7 399,212.6 400,210.9 400.9,210.9 401.9,212.7 402.8,214.1 403.7,214.6 404.7,214.6 405.6,214.3 406.6,213.2 407.5,211.5 408.5,211.5 409.4,213.1 410.4,213.9 411.3,213.6 412.2,209.1 412.7,206.7 413.2,204.6 413.7,202.5 414.1,200.3 414.6,198.2 415.1,196.1 415.5,194 416,192 416.5,190.2 417,188.6 417.4,187.2 417.9,186.2 418.4,185.6 418.8,185.2 419.3,184.8 419.8,184.4 420.3,184 420.7,182 421.2,177.8 421.7,173 422.2,168.8 422.6,165.2 423.1,162 423.6,158.5 424,154.9 424.5,151.2 425,147.6 425.5,144.2 425.9,140.9 426.4,137.7 426.9,134.6 427.3,131.6 427.8,128.6 428.3,125.6 428.8,122.9 429.2,120.3 429.7,117.6 430.2,115 430.6,112.8 431.1,111.1 431.6,110.1 432.1,109.4 432.5,108.6 433,107.7 433.5,105.6 434,101.1 434.4,97 434.9,94.4 435.4,92.2 435.8,90.2 436.3,88.3 436.8,86.5 437.3,84.6 437.7,82.5 438.2,80.3 438.7,78.1 439.1,76 439.6,73.9 440.1,72 440.6,70.4 441,68.8 441.5,67.3 442,65.9 442.4,64.7 442.9,63.7 443.4,62.8 443.9,61.9 444.3,61.2 444.8,60.5 445.3,59.9 445.8,59.3 446.2,58.7 446.7,58.2 447.2,57.7 447.6,57.2 448.1,56.8 448.6,56.4 449.1,56 449.5,55.6 450,55.3 450.5,55 450.9,54.7 451.4,54.4 451.9,54.1 452.4,53.8 452.8,53.5 453.3,53.3 453.8,53.1 454.2,52.9 454.7,52.7 455.9,52.3 457,52 458.1,51.7 459.3,51.4 460.4,51.2 461.5,51 462.6,50.9 463.8,50.8 464.9,50.7 466,50.6 467.2,50.6 468.3,50.5 469.4,50.5 470.6,50.6 471.7,50.6 472.8,50.7 474,50.8 475.1,50.9 476.2,51.1 477.4,51.3 478.5,51.4 479.6,51.6 480.8,51.8 481.9,52 483,52.3 484.2,52.5 485.3,52.7 486.4,52.9 487.6,53.2 488.7,53.4 489.8,53.6 491,53.8 492.1,54 493.2,54.2 494.4,54.5 495.5,54.7 496.6,54.9 497.8,55.2 498.9,55.5 500,55.7 501.2,56 502.3,56.4 503.4,57 504.6,57.8 505.7,58 506.8,57.7 508,57.8 509.1,58.1 510.2,58.4 511.4,58.7 512.5,59 513.6,59.3 514.8,59.7 515.9,60 517,60.3 518.2,60.6 519.3,61 520.4,61.3 521.6,61.7 522.7,62 523.8,62.3 525,62.7 526.1,63 527.2,63.3 528.4,63.7 529.5,64 530.6,64.3 531.8,64.7 532.9,65 534,65.3 535.1,65.7 536.3,66 537.4,66.3 538.5,66.6 539.7,66.9 540.8,67.3 541.9,67.6 543.1,67.9 544.2,68.2 545.3,68.5 546.5,68.7 547.6,69 548.7,69.3 549.9,69.6 551,69.8 552.1,70.1 553.3,70.4 554.4,70.6 555.5,70.9 556.7,71.2 557.8,71.7 558.9,72.4 560.1,72.8 561.2,72.6 562.3,72.5 563.5,72.7 564.6,72.9 565.7,73.2 566.9,73.4 568,73.7 569.1,73.9 570.3,74.2 571.4,74.4 572.5,74.7 573.7,74.9 574.8,75.2 575.9,75.4 577.1,75.6 578.2,75.9 579.3,76.1 580.5,76.4 581.6,76.6 582.7,76.8 583.9,77.1 585,77.3 586.1,77.5 587.3,77.8 588.4,78 589.5,78.2 590.7,78.5 591.8,78.7 592.9,78.9 594.1,79.2 595.2,79.4 596.3,79.6 597.5,79.8 598.6,80.1 599.7,80.3 600.9,80.5 602,80.7 603.1,80.9 604.2,81.2 605.4,81.4 605.8,81.5 606.1,81.5 606.5,81.6 606.9,81.7 607.3,81.7 607.6,81.8 608,81.9 608.4,82 608.8,82 609.2,82.1 609.5,82.2 609.9,82.3 610.3,82.3 610.7,82.4 611,82.5 611.4,82.5 611.8,82.6 612.2,82.7 612.6,82.8 612.9,82.8 613.3,82.9 613.7,82.8 614.1,83 614.4,83.1 614.8,83.1 615.2,83.4 615.6,83.4 616,83.2 616.3,83.3 616.7,83.3 617.1,83.6 617.5,84.1 617.8,83.8 618.2,83.9 618.6,83.9 619,84.2 619.4,83.8 619.7,84.2 620.1,84.2 620.5,83.8 620.9,84.4 621.2,84.9 621.6,84.8 622,84.5 622.4,84.1 622.8,84.9 623.1,84.7 623.5,84.8 623.9,84.7 624.3,84.8 624.6,85.2 625,85.4 625.4,85.3 625.8,85 626.2,85.4 626.5,85.3 626.9,85 627.3,85.6 627.7,85.3 628,84.5 628.4,85.7 628.8,86.8 629.2,86.2 629.5,86 629.9,85.9 630.3,85.6 630.7,85.9 631.1,86.6 631.4,86.3 631.8,86.4 632.2,86.2 632.6,86 632.9,85.8 633.3,86.9 633.7,87 634.1,86.7 634.5,86.8 634.8,86.8 635.2,86.7 635.6,86.9 636,87.1 636.3,86.9 636.7,87.1 637.1,87.2 637.5,87.2 637.9,86.3 638.2,87.1 638.6,89 639,88.1 639.4,87.6 639.7,87.7 640.1,87.6 640.5,87.8 640.9,87.8 641.3,88.3 641.6,88.1 642,88 642.4,87.9 642.8,87.7 643.1,87.5 643.5,88.5 643.9,89.4 644.3,88.6 644.7,88.6 645,88.5 645.4,88.7 645.8,88.7 646.2,89 646.5,88.8 646.9,89 647.3,88.8 647.7,88.2 648.1,88.4 648.4,89.8 648.8,90.1 649.2,89.3 649.6,89.3 649.9,89.5 650.3,89.6 650.7,89.3 651.1,89.6 651.4,89.5 651.8,89.7 652.2,89.7 652.6,89.6 653,89.9 653.3,90.4 653.7,90.1 654.1,90.3 654.5,90.3 654.8,90.3 655.2,90.1 655.6,90.7 656,90.4 656.4,90.5 656.7,90.6 657.1,90.6 657.5,90.7 657.9,90.7 658.2,90.8 658.6,90.9 659,90.9 659.4,91 659.8,91 660.1,91.1 660.5,91.2 660.9,91.2 661.3,91.3 661.6,91.4 662,91.4 662.4,91.5" fill="none" stroke="#f020f0" stroke-width="1.6" stroke-linejoin="round"/>
<polyline points="379.2,214 380.1,214 381.1,214 382,214 383,214 383.9,214 384.9,214 385.8,214 386.8,214 387.7,214 388.6,214 389.6,214 390.5,214 391.5,214 392.4,214 393.4,214 394.3,214 395.2,214 396.2,214 397.1,214 398.1,213.7 399,212.5 400,210.7 400.9,210.7 401.9,212.7 402.8,214.1 403.7,214.7 404.7,214.7 405.6,214.3 406.6,213.2 407.5,211.3 408.5,211.3 409.4,213 410.4,213.9 411.3,213.6 412.2,208.8 412.7,206.2 413.2,204 413.7,201.7 414.1,199.4 414.6,197.2 415.1,195 415.5,192.9 416,190.8 416.5,188.9 417,187.2 417.4,185.7 417.9,184.5 418.4,183.9 418.8,183.4 419.3,182.9 419.8,182.6 420.3,182.1 420.7,180.8 421.2,176.6 421.7,171.7 422.2,166.9 422.6,163 423.1,159.5 423.6,156 424,152.2 424.5,148.3 425,144.4 425.5,140.8 425.9,137.4 426.4,134 426.9,130.7 427.3,127.5 427.8,124.3 428.3,121.2 428.8,118.3 429.2,115.5 429.7,112.8 430.2,110 430.6,107.6 431.1,105.6 431.6,104.4 432.1,103.7 432.5,102.9 433,102 433.5,100.4 434,96.2 434.4,91.4 434.9,88.5 435.4,86 435.8,83.9 436.3,81.9 436.8,80 437.3,78 437.7,75.8 438.2,73.5 438.7,71.1 439.1,68.8 439.6,66.5 440.1,64.4 440.6,62.5 441,60.7 441.5,59 442,57.5 442.4,56.1 442.9,54.8 443.4,53.8 443.9,52.8 444.3,51.9 444.8,51.1 445.3,50.4 445.8,49.7 446.2,49.1 446.7,48.5 447.2,47.9 447.6,47.4 448.1,46.9 448.6,46.5 449.1,46 449.5,45.6 450,45.3 450.5,44.9 450.9,44.5 451.4,44.2 451.9,43.9 452.4,43.6 452.8,43.3 453.3,43 453.8,42.7 454.2,42.5 454.7,42.3 455.9,41.9 457,41.5 458.1,41.1 459.3,40.8 460.4,40.6 461.5,40.3 462.6,40.2 463.8,40.1 464.9,39.9 466,39.8 467.2,39.7 468.3,39.7 469.4,39.6 470.6,39.6 471.7,39.6 472.8,39.6 474,39.6 475.1,39.6 476.2,39.6 477.4,39.7 478.5,39.8 479.6,39.9 480.8,40 481.9,40.1 483,40.2 484.2,40.3 485.3,40.4 486.4,40.6 487.6,40.7 488.7,40.8 489.8,41 491,41.1 492.1,41.3 493.2,41.4 494.4,41.6 495.5,41.8 496.6,41.9 497.8,42.1 498.9,42.4 500,42.6 501.2,42.8 502.3,43.1 503.4,43.8 504.6,44.6 505.7,44.7 506.8,44.4 508,44.4 509.1,44.6 510.2,44.9 511.4,45.2 512.5,45.5 513.6,45.8 514.8,46.1 515.9,46.4 517,46.7 518.2,47 519.3,47.3 520.4,47.6 521.6,47.9 522.7,48.3 523.8,48.6 525,48.9 526.1,49.2 527.2,49.5 528.4,49.9 529.5,50.2 530.6,50.5 531.8,50.8 532.9,51.1 534,51.4 535.1,51.7 536.3,52 537.4,52.3 538.5,52.6 539.7,52.9 540.8,53.2 541.9,53.5 543.1,53.8 544.2,54 545.3,54.3 546.5,54.6 547.6,54.8 548.7,55 549.9,55.3 551,55.5 552.1,55.7 553.3,55.9 554.4,56.2 555.5,56.4 556.7,56.6 557.8,57.1 558.9,57.8 560.1,58.2 561.2,57.9 562.3,57.7 563.5,57.8 564.6,58 565.7,58.2 566.9,58.4 568,58.6 569.1,58.8 570.3,59 571.4,59.2 572.5,59.3 573.7,59.5 574.8,59.7 575.9,59.9 577.1,60.1 578.2,60.3 579.3,60.5 580.5,60.7 581.6,60.8 582.7,61 583.9,61.2 585,61.4 586.1,61.6 587.3,61.8 588.4,62 589.5,62.2 590.7,62.4 591.8,62.6 592.9,62.8 594.1,63 595.2,63.2 596.3,63.4 597.5,63.6 598.6,63.8 599.7,64 600.9,64.2 602,64.4 603.1,64.6 604.2,64.8 605.4,65.1 605.8,65.1 606.1,65.2 606.5,65.3 606.9,65.3 607.3,65.4 607.6,65.5 608,65.6 608.4,65.6 608.8,65.7 609.2,65.8 609.5,65.8 609.9,65.9 610.3,66 610.7,66.1 611,66.1 611.4,66.2 611.8,66.3 612.2,66.3 612.6,66.4 612.9,66.5 613.3,66.6 613.7,66.5 614.1,66.7 614.4,66.7 614.8,66.8 615.2,67.1 615.6,67.1 616,66.8 616.3,67 616.7,66.9 617.1,67.2 617.5,67.8 617.8,67.5 618.2,67.6 618.6,67.6 619,67.9 619.4,67.5 619.7,67.9 620.1,67.9 620.5,67.4 620.9,68.1 621.2,68.7 621.6,68.6 622,68.2 622.4,67.8 622.8,68.6 623.1,68.4 623.5,68.6 623.9,68.4 624.3,68.5 624.6,69 625,69.2 625.4,69.1 625.8,68.8 626.2,69.2 626.5,69.1 626.9,68.8 627.3,69.4 627.7,69.1 628,68.2 628.4,69.5 628.8,70.7 629.2,70.1 629.5,69.9 629.9,69.8 630.3,69.5 630.7,69.8 631.1,70.5 631.4,70.2 631.8,70.4 632.2,70.1 632.6,69.9 632.9,69.7 633.3,70.8 633.7,71 634.1,70.7 634.5,70.8 634.8,70.8 635.2,70.7 635.6,70.9 636,71.1 636.3,70.9 636.7,71.2 637.1,71.3 637.5,71.2 637.9,70.3 638.2,71.1 638.6,73.3 639,72.3 639.4,71.7 639.7,71.9 640.1,71.7 640.5,71.9 640.9,72 641.3,72.5 641.6,72.3 642,72.2 642.4,72.1 642.8,71.9 643.1,71.6 643.5,72.8 643.9,73.7 644.3,72.9 644.7,72.9 645,72.8 645.4,73 645.8,73 646.2,73.4 646.5,73.2 646.9,73.4 647.3,73.2 647.7,72.5 648.1,72.8 648.4,74.3 648.8,74.6 649.2,73.8 649.6,73.8 649.9,74 650.3,74.1 650.7,73.8 651.1,74.2 651.4,74.1 651.8,74.3 652.2,74.4 652.6,74.2 653,74.6 653.3,75.1 653.7,74.8 654.1,75 654.5,75 654.8,75 655.2,74.8 655.6,75.5 656,75.2 656.4,75.3 656.7,75.4 657.1,75.5 657.5,75.6 657.9,75.6 658.2,75.7 658.6,75.8 659,75.9 659.4,76 659.8,76 660.1,76.1 660.5,76.2 660.9,76.3 661.3,76.4 661.6,76.4 662,76.5 662.4,76.6" fill="none" stroke="#f0f010" stroke-width="1.7" stroke-linejoin="round"/>
<polyline points="379.2,214 380.1,214 381.1,214 382,214 383,214 383.9,214 384.9,214 385.8,214 386.8,214 387.7,214 388.6,214 389.6,214 390.5,214 391.5,214 392.4,214 393.4,214 394.3,214 395.2,214 396.2,214 397.1,214 398.1,213.7 399,212.5 400,210.7 400.9,210.7 401.9,212.7 402.8,214.1 403.7,214.7 404.7,214.7 405.6,214.3 406.6,213.2 407.5,211.3 408.5,211.3 409.4,213 410.4,213.9 411.3,213.6 412.2,208.6 412.7,205.9 413.2,203.6 413.7,201.2 414.1,198.9 414.6,196.6 415.1,194.4 415.5,192.1 416,189.9 416.5,188 417,186.3 417.4,184.7 417.9,183.4 418.4,182.7 418.8,182.2 419.3,181.7 419.8,181.3 420.3,180.9 420.7,179.9 421.2,175.7 421.7,170.7 422.2,165.6 422.6,161.5 423.1,157.8 423.6,154.2 424,150.3 424.5,146.3 425,142.3 425.5,138.6 425.9,135 426.4,131.5 426.9,128.1 427.3,124.8 427.8,121.5 428.3,118.3 428.8,115.3 429.2,112.5 429.7,109.6 430.2,106.8 430.6,104.2 431.1,102.2 431.6,100.9 432.1,100 432.5,99.3 433,98.4 433.5,97 434,92.9 434.4,87.9 434.9,84.7 435.4,82.1 435.8,79.9 436.3,77.8 436.8,75.8 437.3,73.8 437.7,71.5 438.2,69.2 438.7,66.7 439.1,64.2 439.6,61.8 440.1,59.6 440.6,57.5 441,55.6 441.5,53.8 442,52.1 442.4,50.6 442.9,49.3 443.4,48.1 443.9,47 444.3,46.1 444.8,45.2 445.3,44.4 445.8,43.6 446.2,43 446.7,42.3 447.2,41.7 447.6,41.1 448.1,40.6 448.6,40.1 449.1,39.6 449.5,39.2 450,38.8 450.5,38.4 450.9,38 451.4,37.6 451.9,37.2 452.4,36.9 452.8,36.6 453.3,36.3 453.8,36 454.2,35.7 454.7,35.5 455.9,35 457,34.5 458.1,34.1 459.3,33.8 460.4,33.5 461.5,33.2 462.6,33 463.8,32.9 464.9,32.7 466,32.6 467.2,32.5 468.3,32.4 469.4,32.4 470.6,32.3 471.7,32.3 472.8,32.3 474,32.3 475.1,32.3 476.2,32.3 477.4,32.4 478.5,32.4 479.6,32.5 480.8,32.5 481.9,32.6 483,32.6 484.2,32.7 485.3,32.8 486.4,32.9 487.6,33 488.7,33 489.8,33.1 491,33.2 492.1,33.3 493.2,33.4 494.4,33.5 495.5,33.7 496.6,33.8 497.8,34 498.9,34.1 500,34.3 501.2,34.5 502.3,34.8 503.4,35.4 504.6,36.2 505.7,36.3 506.8,35.8 508,35.8 509.1,35.9 510.2,36.2 511.4,36.4 512.5,36.7 513.6,36.9 514.8,37.2 515.9,37.4 517,37.7 518.2,38 519.3,38.2 520.4,38.5 521.6,38.8 522.7,39.1 523.8,39.3 525,39.6 526.1,39.9 527.2,40.2 528.4,40.5 529.5,40.7 530.6,41 531.8,41.3 532.9,41.6 534,41.9 535.1,42.2 536.3,42.4 537.4,42.7 538.5,43 539.7,43.2 540.8,43.5 541.9,43.8 543.1,44 544.2,44.3 545.3,44.5 546.5,44.8 547.6,45 548.7,45.2 549.9,45.5 551,45.7 552.1,45.9 553.3,46.1 554.4,46.3 555.5,46.6 556.7,46.8 557.8,47.3 558.9,48.1 560.1,48.5 561.2,48.1 562.3,48 563.5,48.1 564.6,48.3 565.7,48.5 566.9,48.7 568,48.9 569.1,49.2 570.3,49.4 571.4,49.6 572.5,49.8 573.7,50 574.8,50.2 575.9,50.4 577.1,50.6 578.2,50.9 579.3,51.1 580.5,51.3 581.6,51.5 582.7,51.7 583.9,51.9 585,52.1 586.1,52.3 587.3,52.5 588.4,52.7 589.5,52.9 590.7,53.1 591.8,53.3 592.9,53.5 594.1,53.7 595.2,53.9 596.3,54.1 597.5,54.3 598.6,54.5 599.7,54.7 600.9,54.9 602,55.1 603.1,55.3 604.2,55.5 605.4,55.7 605.8,55.8 606.1,55.9 606.5,55.9 606.9,56 607.3,56.1 607.6,56.1 608,56.2 608.4,56.2 608.8,56.3 609.2,56.4 609.5,56.4 609.9,56.5 610.3,56.6 610.7,56.6 611,56.7 611.4,56.8 611.8,56.8 612.2,56.9 612.6,57 612.9,57 613.3,57.1 613.7,57 614.1,57.2 614.4,57.2 614.8,57.3 615.2,57.6 615.6,57.6 616,57.3 616.3,57.4 616.7,57.4 617.1,57.7 617.5,58.2 617.8,58 618.2,58.1 618.6,58 619,58.3 619.4,57.9 619.7,58.3 620.1,58.3 620.5,57.8 620.9,58.4 621.2,59 621.6,58.9 622,58.5 622.4,58 622.8,58.9 623.1,58.7 623.5,58.9 623.9,58.7 624.3,58.8 624.6,59.2 625,59.5 625.4,59.3 625.8,58.9 626.2,59.4 626.5,59.3 626.9,58.9 627.3,59.6 627.7,59.2 628,58.3 628.4,59.7 628.8,60.9 629.2,60.2 629.5,60 629.9,59.9 630.3,59.5 630.7,59.8 631.1,60.6 631.4,60.2 631.8,60.4 632.2,60.1 632.6,59.8 632.9,59.6 633.3,60.8 633.7,60.9 634.1,60.6 634.5,60.7 634.8,60.7 635.2,60.6 635.6,60.7 636,61 636.3,60.8 636.7,61 637.1,61.1 637.5,61 637.9,60 638.2,60.9 638.6,63.1 639,62 639.4,61.4 639.7,61.6 640.1,61.4 640.5,61.6 640.9,61.6 641.3,62.2 641.6,61.9 642,61.8 642.4,61.7 642.8,61.4 643.1,61.1 643.5,62.3 643.9,63.2 644.3,62.4 644.7,62.3 645,62.2 645.4,62.5 645.8,62.5 646.2,62.8 646.5,62.5 646.9,62.7 647.3,62.6 647.7,61.8 648.1,62.1 648.4,63.7 648.8,63.9 649.2,63 649.6,63 649.9,63.2 650.3,63.3 650.7,63 651.1,63.4 651.4,63.2 651.8,63.4 652.2,63.4 652.6,63.2 653,63.6 653.3,64.1 653.7,63.8 654.1,64 654.5,64 654.8,64 655.2,63.7 655.6,64.4 656,64.1 656.4,64.2 656.7,64.2 657.1,64.3 657.5,64.3 657.9,64.4 658.2,64.5 658.6,64.5 659,64.6 659.4,64.6 659.8,64.7 660.1,64.8 660.5,64.8 660.9,64.9 661.3,64.9 661.6,65 662,65.1 662.4,65.1" fill="none" stroke="#808010" stroke-width="1.7" stroke-linejoin="round"/>
<polyline points="379.2,214 380.1,214 381.1,214 382,214 383,214 383.9,214 384.9,214 385.8,214 386.8,214 387.7,214 388.6,214 389.6,214 390.5,214 391.5,214 392.4,214 393.4,214 394.3,214 395.2,214 396.2,214 397.1,214 398.1,213.7 399,212.5 400,210.7 400.9,210.7 401.9,212.7 402.8,214.1 403.7,214.7 404.7,214.7 405.6,214.3 406.6,213.2 407.5,211.3 408.5,211.3 409.4,213 410.4,213.9 411.3,213.6 412.2,208.5 412.7,205.7 413.2,203.3 413.7,200.9 414.1,198.5 414.6,196.2 415.1,193.9 415.5,191.6 416,189.3 416.5,187.3 417,185.6 417.4,183.9 417.9,182.7 418.4,181.9 418.8,181.4 419.3,180.9 419.8,180.5 420.3,180.1 420.7,179 421.2,174.7 421.7,169.7 422.2,164.4 422.6,160.2 423.1,156.5 423.6,152.8 424,148.8 424.5,144.6 425,140.6 425.5,136.8 425.9,133.1 426.4,129.5 426.9,126.1 427.3,122.7 427.8,119.4 428.3,116.2 428.8,113.1 429.2,110.2 429.7,107.3 430.2,104.4 430.6,101.8 431.1,99.7 431.6,98.4 432.1,97.6 432.5,96.8 433,95.9 433.5,94.5 434,90.3 434.4,85.2 434.9,81.9 435.4,79.3 435.8,77 436.3,74.9 436.8,72.9 437.3,70.8 437.7,68.5 438.2,66 438.7,63.5 439.1,61 439.6,58.5 440.1,56.2 440.6,54.1 441,52.1 441.5,50.2 442,48.5 442.4,46.9 442.9,45.5 443.4,44.3 443.9,43.2 444.3,42.2 444.8,41.2 445.3,40.4 445.8,39.6 446.2,38.9 446.7,38.3 447.2,37.6 447.6,37 448.1,36.5 448.6,36 449.1,35.5 449.5,35 450,34.6 450.5,34.2 450.9,33.8 451.4,33.4 451.9,33 452.4,32.7 452.8,32.3 453.3,32 453.8,31.7 454.2,31.4 454.7,31.2 455.9,30.7 457,30.2 458.1,29.8 459.3,29.4 460.4,29.1 461.5,28.8 462.6,28.6 463.8,28.5 464.9,28.3 466,28.2 467.2,28 468.3,28 469.4,27.9 470.6,27.9 471.7,27.8 472.8,27.8 474,27.8 475.1,27.8 476.2,27.8 477.4,27.8 478.5,27.8 479.6,27.9 480.8,27.9 481.9,27.9 483,27.9 484.2,27.9 485.3,28 486.4,28 487.6,28 488.7,28.1 489.8,28.1 491,28.1 492.1,28.2 493.2,28.2 494.4,28.3 495.5,28.4 496.6,28.5 497.8,28.5 498.9,28.7 500,28.8 501.2,28.9 502.3,29.1 503.4,29.7 504.6,30.5 505.7,30.5 506.8,30 508,29.8 509.1,30 510.2,30.1 511.4,30.3 512.5,30.5 513.6,30.7 514.8,30.9 515.9,31.1 517,31.3 518.2,31.5 519.3,31.8 520.4,32 521.6,32.2 522.7,32.4 523.8,32.7 525,32.9 526.1,33.1 527.2,33.4 528.4,33.6 529.5,33.8 530.6,34.1 531.8,34.3 532.9,34.5 534,34.8 535.1,35 536.3,35.2 537.4,35.5 538.5,35.7 539.7,35.9 540.8,36.2 541.9,36.4 543.1,36.6 544.2,36.8 545.3,37.1 546.5,37.3 547.6,37.5 548.7,37.7 549.9,37.9 551,38.1 552.1,38.3 553.3,38.5 554.4,38.7 555.5,38.9 556.7,39.2 557.8,39.6 558.9,40.4 560.1,40.8 561.2,40.5 562.3,40.3 563.5,40.4 564.6,40.6 565.7,40.8 566.9,41 568,41.2 569.1,41.5 570.3,41.7 571.4,41.9 572.5,42.1 573.7,42.3 574.8,42.5 575.9,42.8 577.1,43 578.2,43.2 579.3,43.4 580.5,43.6 581.6,43.9 582.7,44.1 583.9,44.3 585,44.5 586.1,44.7 587.3,44.9 588.4,45.1 589.5,45.3 590.7,45.6 591.8,45.8 592.9,46 594.1,46.2 595.2,46.4 596.3,46.6 597.5,46.8 598.6,47 599.7,47.2 600.9,47.4 602,47.5 603.1,47.7 604.2,47.9 605.4,48.1 605.8,48.2 606.1,48.2 606.5,48.3 606.9,48.4 607.3,48.4 607.6,48.5 608,48.6 608.4,48.6 608.8,48.7 609.2,48.8 609.5,48.8 609.9,48.9 610.3,48.9 610.7,49 611,49.1 611.4,49.1 611.8,49.2 612.2,49.3 612.6,49.3 612.9,49.4 613.3,49.4 613.7,49.3 614.1,49.5 614.4,49.6 614.8,49.6 615.2,49.9 615.6,49.9 616,49.6 616.3,49.7 616.7,49.7 617.1,50 617.5,50.6 617.8,50.3 618.2,50.4 618.6,50.3 619,50.6 619.4,50.2 619.7,50.6 620.1,50.6 620.5,50.1 620.9,50.7 621.2,51.3 621.6,51.2 622,50.8 622.4,50.3 622.8,51.2 623.1,51 623.5,51.2 623.9,51 624.3,51.1 624.6,51.5 625,51.8 625.4,51.6 625.8,51.2 626.2,51.7 626.5,51.6 626.9,51.1 627.3,51.8 627.7,51.4 628,50.5 628.4,51.9 628.8,53.1 629.2,52.5 629.5,52.2 629.9,52.1 630.3,51.7 630.7,52 631.1,52.8 631.4,52.4 631.8,52.6 632.2,52.3 632.6,52 632.9,51.8 633.3,53 633.7,53.1 634.1,52.8 634.5,52.8 634.8,52.8 635.2,52.7 635.6,52.9 636,53.1 636.3,52.9 636.7,53.2 637.1,53.3 637.5,53.1 637.9,52.1 638.2,53 638.6,55.3 639,54.2 639.4,53.6 639.7,53.7 640.1,53.5 640.5,53.7 640.9,53.8 641.3,54.3 641.6,54 642,53.9 642.4,53.8 642.8,53.5 643.1,53.2 643.5,54.4 643.9,55.4 644.3,54.5 644.7,54.4 645,54.3 645.4,54.5 645.8,54.5 646.2,54.9 646.5,54.6 646.9,54.8 647.3,54.6 647.7,53.8 648.1,54.1 648.4,55.7 648.8,56 649.2,55.1 649.6,55 649.9,55.3 650.3,55.3 650.7,55 651.1,55.4 651.4,55.2 651.8,55.4 652.2,55.4 652.6,55.2 653,55.6 653.3,56.1 653.7,55.8 654.1,56 654.5,55.9 654.8,55.9 655.2,55.7 655.6,56.4 656,56.1 656.4,56.1 656.7,56.2 657.1,56.2 657.5,56.3 657.9,56.3 658.2,56.4 658.6,56.4 659,56.5 659.4,56.6 659.8,56.6 660.1,56.7 660.5,56.7 660.9,56.8 661.3,56.8 661.6,56.9 662,56.9 662.4,57" fill="none" stroke="#000080" stroke-width="1.7" stroke-linejoin="round"/>
<polyline points="379.2,214 380.1,214 381.1,214 382,214 383,214 383.9,214 384.9,214 385.8,214 386.8,214 387.7,214 388.6,214 389.6,214 390.5,214 391.5,214 392.4,214 393.4,214 394.3,214 395.2,214 396.2,214 397.1,214 398.1,213.7 399,212.5 400,210.7 400.9,210.7 401.9,212.7 402.8,214.1 403.7,214.7 404.7,214.7 405.6,214.3 406.6,213.2 407.5,211.3 408.5,211.3 409.4,213 410.4,213.9 411.3,213.6 412.2,208.4 412.7,205.6 413.2,203.2 413.7,200.7 414.1,198.2 414.6,195.9 415.1,193.5 415.5,191.2 416,188.9 416.5,186.9 417,185.1 417.4,183.4 417.9,182.1 418.4,181.4 418.8,180.8 419.3,180.3 419.8,179.9 420.3,179.5 420.7,178.4 421.2,174.1 421.7,168.9 422.2,163.5 422.6,159.3 423.1,155.5 423.6,151.7 424,147.7 424.5,143.5 425,139.4 425.5,135.5 425.9,131.8 426.4,128.1 426.9,124.6 427.3,121.2 427.8,117.8 428.3,114.5 428.8,111.4 429.2,108.5 429.7,105.5 430.2,102.6 430.6,99.9 431.1,97.8 431.6,96.4 432.1,95.6 432.5,94.8 433,93.9 433.5,92.4 434,88.2 434.4,83.1 434.9,79.7 435.4,77 435.8,74.7 436.3,72.6 436.8,70.5 437.3,68.4 437.7,66 438.2,63.5 438.7,61 439.1,58.4 439.6,55.9 440.1,53.5 440.6,51.4 441,49.4 441.5,47.5 442,45.7 442.4,44.1 442.9,42.7 443.4,41.4 443.9,40.3 444.3,39.3 444.8,38.3 445.3,37.5 445.8,36.7 446.2,36 446.7,35.3 447.2,34.6 447.6,34 448.1,33.5 448.6,32.9 449.1,32.4 449.5,32 450,31.5 450.5,31.1 450.9,30.7 451.4,30.3 451.9,29.9 452.4,29.5 452.8,29.2 453.3,28.9 453.8,28.6 454.2,28.3 454.7,28 455.9,27.5 457,27 458.1,26.6 459.3,26.2 460.4,25.9 461.5,25.6 462.6,25.4 463.8,25.3 464.9,25.1 466,25 467.2,24.8 468.3,24.7 469.4,24.7 470.6,24.6 471.7,24.6 472.8,24.5 474,24.5 475.1,24.5 476.2,24.5 477.4,24.4 478.5,24.4 479.6,24.5 480.8,24.5 481.9,24.5 483,24.6 484.2,24.6 485.3,24.7 486.4,24.8 487.6,24.8 488.7,24.9 489.8,25 491,25.1 492.1,25.2 493.2,25.2 494.4,25.3 495.5,25.4 496.6,25.5 497.8,25.6 498.9,25.7 500,25.9 501.2,26 502.3,26.2 503.4,26.8 504.6,27.6 505.7,27.6 506.8,27 508,26.9 509.1,26.9 510.2,27.1 511.4,27.3 512.5,27.4 513.6,27.6 514.8,27.7 515.9,27.9 517,28.1 518.2,28.2 519.3,28.4 520.4,28.6 521.6,28.8 522.7,28.9 523.8,29.1 525,29.3 526.1,29.5 527.2,29.7 528.4,29.9 529.5,30.1 530.6,30.2 531.8,30.4 532.9,30.6 534,30.8 535.1,31 536.3,31.2 537.4,31.4 538.5,31.6 539.7,31.8 540.8,31.9 541.9,32.1 543.1,32.3 544.2,32.5 545.3,32.7 546.5,32.9 547.6,33 548.7,33.2 549.9,33.4 551,33.6 552.1,33.8 553.3,33.9 554.4,34.1 555.5,34.3 556.7,34.6 557.8,35 558.9,35.8 560.1,36.2 561.2,35.8 562.3,35.6 563.5,35.7 564.6,35.9 565.7,36.1 566.9,36.3 568,36.5 569.1,36.7 570.3,36.9 571.4,37.1 572.5,37.3 573.7,37.5 574.8,37.7 575.9,37.9 577.1,38.1 578.2,38.3 579.3,38.5 580.5,38.7 581.6,39 582.7,39.2 583.9,39.4 585,39.6 586.1,39.8 587.3,40 588.4,40.2 589.5,40.4 590.7,40.6 591.8,40.8 592.9,41 594.1,41.2 595.2,41.4 596.3,41.6 597.5,41.7 598.6,41.9 599.7,42.1 600.9,42.3 602,42.5 603.1,42.7 604.2,42.8 605.4,43 605.8,43.1 606.1,43.2 606.5,43.2 606.9,43.3 607.3,43.3 607.6,43.4 608,43.5 608.4,43.5 608.8,43.6 609.2,43.6 609.5,43.7 609.9,43.8 610.3,43.8 610.7,43.9 611,43.9 611.4,44 611.8,44.1 612.2,44.1 612.6,44.2 612.9,44.2 613.3,44.3 613.7,44.2 614.1,44.4 614.4,44.4 614.8,44.4 615.2,44.8 615.6,44.8 616,44.4 616.3,44.6 616.7,44.5 617.1,44.8 617.5,45.4 617.8,45.1 618.2,45.2 618.6,45.1 619,45.5 619.4,45 619.7,45.4 620.1,45.4 620.5,44.9 620.9,45.6 621.2,46.1 621.6,46 622,45.6 622.4,45.1 622.8,46 623.1,45.8 623.5,45.9 623.9,45.7 624.3,45.8 624.6,46.3 625,46.6 625.4,46.4 625.8,46 626.2,46.4 626.5,46.3 626.9,45.9 627.3,46.6 627.7,46.2 628,45.3 628.4,46.7 628.8,47.9 629.2,47.3 629.5,47 629.9,46.9 630.3,46.5 630.7,46.8 631.1,47.6 631.4,47.1 631.8,47.3 632.2,47.1 632.6,46.7 632.9,46.5 633.3,47.8 633.7,47.9 634.1,47.6 634.5,47.6 634.8,47.6 635.2,47.5 635.6,47.7 636,47.9 636.3,47.6 636.7,47.9 637.1,48 637.5,47.9 637.9,46.8 638.2,47.7 638.6,50 639,48.9 639.4,48.3 639.7,48.4 640.1,48.2 640.5,48.4 640.9,48.5 641.3,49 641.6,48.7 642,48.6 642.4,48.5 642.8,48.2 643.1,47.9 643.5,49.1 643.9,50.1 644.3,49.2 644.7,49.1 645,49 645.4,49.2 645.8,49.2 646.2,49.6 646.5,49.3 646.9,49.5 647.3,49.3 647.7,48.5 648.1,48.8 648.4,50.4 648.8,50.7 649.2,49.8 649.6,49.7 649.9,50 650.3,50 650.7,49.7 651.1,50.1 651.4,49.9 651.8,50.1 652.2,50.1 652.6,49.9 653,50.3 653.3,50.8 653.7,50.5 654.1,50.7 654.5,50.6 654.8,50.6 655.2,50.4 655.6,51.1 656,50.7 656.4,50.8 656.7,50.9 657.1,50.9 657.5,51 657.9,51 658.2,51.1 658.6,51.1 659,51.2 659.4,51.2 659.8,51.3 660.1,51.3 660.5,51.4 660.9,51.4 661.3,51.5 661.6,51.5 662,51.6 662.4,51.6" fill="none" stroke="#800080" stroke-width="1.7" stroke-linejoin="round"/>
<rect x="369.7" y="6.5" width="302.2" height="224.3" fill="none" stroke="#000" stroke-width="1.3"/>
<line x1="365.5" y1="230.8" x2="369.7" y2="230.8" stroke="#000" stroke-width="1.2"/>
<text x="362.7" y="232.8" font-size="8.6" text-anchor="end" fill="#1a1a1a" font-family='"Liberation Sans", sans-serif' stroke="#1a1a1a" stroke-width="0.22" >0</text>
<line x1="367.5" y1="216.8" x2="369.7" y2="216.8" stroke="#000" stroke-width="1.2"/>
<line x1="365.5" y1="202.8" x2="369.7" y2="202.8" stroke="#000" stroke-width="1.2"/>
<text x="362.7" y="204.7" font-size="8.6" text-anchor="end" fill="#1a1a1a" font-family='"Liberation Sans", sans-serif' stroke="#1a1a1a" stroke-width="0.22" >10</text>
<line x1="367.5" y1="188.8" x2="369.7" y2="188.8" stroke="#000" stroke-width="1.2"/>
<line x1="365.5" y1="174.8" x2="369.7" y2="174.8" stroke="#000" stroke-width="1.2"/>
<text x="362.7" y="176.7" font-size="8.6" text-anchor="end" fill="#1a1a1a" font-family='"Liberation Sans", sans-serif' stroke="#1a1a1a" stroke-width="0.22" >20</text>
<line x1="367.5" y1="160.7" x2="369.7" y2="160.7" stroke="#000" stroke-width="1.2"/>
<line x1="365.5" y1="146.7" x2="369.7" y2="146.7" stroke="#000" stroke-width="1.2"/>
<text x="362.7" y="148.6" font-size="8.6" text-anchor="end" fill="#1a1a1a" font-family='"Liberation Sans", sans-serif' stroke="#1a1a1a" stroke-width="0.22" >30</text>
<line x1="367.5" y1="132.7" x2="369.7" y2="132.7" stroke="#000" stroke-width="1.2"/>
<line x1="365.5" y1="118.7" x2="369.7" y2="118.7" stroke="#000" stroke-width="1.2"/>
<text x="362.7" y="120.6" font-size="8.6" text-anchor="end" fill="#1a1a1a" font-family='"Liberation Sans", sans-serif' stroke="#1a1a1a" stroke-width="0.22" >40</text>
<line x1="367.5" y1="104.7" x2="369.7" y2="104.7" stroke="#000" stroke-width="1.2"/>
<line x1="365.5" y1="90.6" x2="369.7" y2="90.6" stroke="#000" stroke-width="1.2"/>
<text x="362.7" y="92.5" font-size="8.6" text-anchor="end" fill="#1a1a1a" font-family='"Liberation Sans", sans-serif' stroke="#1a1a1a" stroke-width="0.22" >50</text>
<line x1="367.5" y1="76.6" x2="369.7" y2="76.6" stroke="#000" stroke-width="1.2"/>
<line x1="365.5" y1="62.6" x2="369.7" y2="62.6" stroke="#000" stroke-width="1.2"/>
<text x="362.7" y="64.5" font-size="8.6" text-anchor="end" fill="#1a1a1a" font-family='"Liberation Sans", sans-serif' stroke="#1a1a1a" stroke-width="0.22" >60</text>
<line x1="367.5" y1="48.6" x2="369.7" y2="48.6" stroke="#000" stroke-width="1.2"/>
<line x1="365.5" y1="34.5" x2="369.7" y2="34.5" stroke="#000" stroke-width="1.2"/>
<text x="362.7" y="36.4" font-size="8.6" text-anchor="end" fill="#1a1a1a" font-family='"Liberation Sans", sans-serif' stroke="#1a1a1a" stroke-width="0.22" >70</text>
<line x1="367.5" y1="20.5" x2="369.7" y2="20.5" stroke="#000" stroke-width="1.2"/>
<line x1="365.5" y1="6.5" x2="369.7" y2="6.5" stroke="#000" stroke-width="1.2"/>
<text x="362.7" y="8.4" font-size="8.6" text-anchor="end" fill="#1a1a1a" font-family='"Liberation Sans", sans-serif' stroke="#1a1a1a" stroke-width="0.22" >80</text>
<line x1="379.2" y1="226.6" x2="379.2" y2="230.8" stroke="#000" stroke-width="1.2"/>
<text x="379.2" y="242.4" font-size="8.6" text-anchor="middle" fill="#1a1a1a" font-family='"Liberation Sans", sans-serif' stroke="#1a1a1a" stroke-width="0.22" >1000</text>
<line x1="402.8" y1="228.6" x2="402.8" y2="230.8" stroke="#000" stroke-width="1.2"/>
<line x1="426.4" y1="226.6" x2="426.4" y2="230.8" stroke="#000" stroke-width="1.2"/>
<text x="426.4" y="242.4" font-size="8.6" text-anchor="middle" fill="#1a1a1a" font-family='"Liberation Sans", sans-serif' stroke="#1a1a1a" stroke-width="0.22" >1500</text>
<line x1="450" y1="228.6" x2="450" y2="230.8" stroke="#000" stroke-width="1.2"/>
<line x1="473.6" y1="226.6" x2="473.6" y2="230.8" stroke="#000" stroke-width="1.2"/>
<text x="473.6" y="242.4" font-size="8.6" text-anchor="middle" fill="#1a1a1a" font-family='"Liberation Sans", sans-serif' stroke="#1a1a1a" stroke-width="0.22" >2000</text>
<line x1="497.2" y1="228.6" x2="497.2" y2="230.8" stroke="#000" stroke-width="1.2"/>
<line x1="520.8" y1="226.6" x2="520.8" y2="230.8" stroke="#000" stroke-width="1.2"/>
<text x="520.8" y="242.4" font-size="8.6" text-anchor="middle" fill="#1a1a1a" font-family='"Liberation Sans", sans-serif' stroke="#1a1a1a" stroke-width="0.22" >2500</text>
<line x1="544.4" y1="228.6" x2="544.4" y2="230.8" stroke="#000" stroke-width="1.2"/>
<line x1="568" y1="226.6" x2="568" y2="230.8" stroke="#000" stroke-width="1.2"/>
<text x="568" y="242.4" font-size="8.6" text-anchor="middle" fill="#1a1a1a" font-family='"Liberation Sans", sans-serif' stroke="#1a1a1a" stroke-width="0.22" >3000</text>
<line x1="591.6" y1="228.6" x2="591.6" y2="230.8" stroke="#000" stroke-width="1.2"/>
<line x1="615.2" y1="226.6" x2="615.2" y2="230.8" stroke="#000" stroke-width="1.2"/>
<text x="615.2" y="242.4" font-size="8.6" text-anchor="middle" fill="#1a1a1a" font-family='"Liberation Sans", sans-serif' stroke="#1a1a1a" stroke-width="0.22" >3500</text>
<line x1="638.8" y1="228.6" x2="638.8" y2="230.8" stroke="#000" stroke-width="1.2"/>
<line x1="662.4" y1="226.6" x2="662.4" y2="230.8" stroke="#000" stroke-width="1.2"/>
<text x="662.4" y="242.4" font-size="8.6" text-anchor="middle" fill="#1a1a1a" font-family='"Liberation Sans", sans-serif' stroke="#1a1a1a" stroke-width="0.22" >4000</text>
<text x="516.5" y="255.6" font-size="10.7" text-anchor="middle" fill="#1a1a1a" stroke="#1a1a1a" stroke-width="0.22" font-family='"Liberation Sans", sans-serif'>Wavenumber (cm<tspan font-size="6.5" dy="-4.7">-1</tspan><tspan dy="4.7">)</tspan></text>
<text transform="translate(346.6,117.2) rotate(-90)" font-size="10.7" text-anchor="middle" fill="#1a1a1a" stroke="#1a1a1a" stroke-width="0.22" font-family='"Liberation Sans", sans-serif'>Transmittance (%)</text>
<text x="371.5" y="27.4" font-size="28.2" text-anchor="start" fill="#000" font-family='"Liberation Serif", serif' >(b)</text>
<text x="55.3" y="61.9" font-size="10" text-anchor="start" fill="#1a1a1a" font-family='"Liberation Sans", sans-serif' stroke="#1a1a1a" stroke-width="0.22" >24</text>
<circle cx="69.5" cy="55.3" r="0.9" fill="none" stroke="#333" stroke-width="0.6"/>
<path d="M75.90 56.29 A3.10 3.45 0 1 0 75.90 60.91" fill="none" stroke="#333" stroke-width="0.8"/>
<line x1="66.5" y1="66.2" x2="66.5" y2="152" stroke="#000" stroke-width="1.1"/>
<path d="M64.5 151.5 L68.5 151.5 L66.5 157.8 Z" fill="#000"/>
<text transform="translate(62.2,105.6) rotate(-90)" font-size="10.1" text-anchor="middle" fill="#1a1a1a" stroke="#1a1a1a" stroke-width="0.22" font-family='"Liberation Sans", sans-serif'>Heating</text>
<text x="56.9" y="168.6" font-size="10" text-anchor="start" fill="#1a1a1a" font-family='"Liberation Sans", sans-serif' stroke="#1a1a1a" stroke-width="0.22" >90</text>
<circle cx="70.6" cy="162" r="0.9" fill="none" stroke="#333" stroke-width="0.6"/>
<path d="M77.00 162.99 A3.10 3.45 0 1 0 77.00 167.61" fill="none" stroke="#333" stroke-width="0.8"/>
<text x="394.5" y="64.8" font-size="10" text-anchor="start" fill="#1a1a1a" font-family='"Liberation Sans", sans-serif' stroke="#1a1a1a" stroke-width="0.22" >24</text>
<circle cx="408.7" cy="58.2" r="0.9" fill="none" stroke="#333" stroke-width="0.6"/>
<path d="M415.10 59.19 A3.10 3.45 0 1 0 415.10 63.81" fill="none" stroke="#333" stroke-width="0.8"/>
<line x1="403.6" y1="72" x2="403.6" y2="152.5" stroke="#000" stroke-width="1.1"/>
<path d="M401.6 73.2 L405.6 73.2 L403.6 67.0 Z" fill="#000"/>
<text transform="translate(400.3,110.3) rotate(-90)" font-size="10.1" text-anchor="middle" fill="#1a1a1a" stroke="#1a1a1a" stroke-width="0.22" font-family='"Liberation Sans", sans-serif'>Cooling</text>
<text x="394" y="163.2" font-size="10" text-anchor="start" fill="#1a1a1a" font-family='"Liberation Sans", sans-serif' stroke="#1a1a1a" stroke-width="0.22" >90</text>
<circle cx="407.7" cy="156.6" r="0.9" fill="none" stroke="#333" stroke-width="0.6"/>
<path d="M414.10 157.59 A3.10 3.45 0 1 0 414.10 162.21" fill="none" stroke="#333" stroke-width="0.8"/>
<polyline points="47.2,337.2 47.7,337.8 48.2,338.5 48.7,339.3 49.2,340.1 49.7,340.9 50.2,341.8 50.7,342.7 51.2,343.7 51.7,344.7 52.2,345.8 52.7,347 53.1,348.1 53.6,349.3 54.1,350.6 54.6,351.9 55.1,353.2 55.6,354.6 56.1,356 56.6,357.4 57.1,359 57.6,360.5 58.1,362.1 58.6,363.7 59.1,365.4 59.6,367 60.1,368.6 60.6,370.3 61.1,372 61.6,373.7 62.1,375.6 62.6,377.6 63.1,379.8 63.6,382.2 64.1,384.7 64.6,387.2 65,389.7 65.5,392 66,394.3 66.5,396.6 67,398.9 67.5,401.2 68,403.7 68.5,406.3 69,409 69.5,411.8 70,414.7 70.5,417.7 71,420.6 71.5,423.5 72,426.4 72.5,429.3 73,432.2 73.5,435.1 74,438.1 74.5,441.3 75,444.5 75.5,447.9 76,451.1 76.5,454.2 76.9,457.1 77.4,459.7 77.9,462.1 78.4,464.4 78.9,466.7 79.4,469 79.9,471.4 80.4,473.8 80.9,476.4 81.4,479.1 81.9,481.8 82.4,484.3 82.9,486.7 83.4,488.9 83.9,490.9 84.4,492.9 84.9,494.7 85.4,496.5 85.9,498.2 86.4,499.8 86.9,501.3 87.4,502.9 87.9,504.3 88.4,505.7 88.8,506.9 89.3,507.9 89.8,508.8 90.3,509.6 90.8,510.4 91.3,511.1 91.8,511.7 92.3,512.3 92.8,512.9 93.3,513.5 93.8,514 94.3,514.5 94.8,514.9 95.3,515.2 95.8,515.4 96.3,515.6 96.8,515.7 97.3,515.9 97.8,516 98.3,516.2 98.8,516.3 99.3,516.4 99.8,516.5 100.3,516.6 100.7,516.7 101.2,516.8 101.7,516.9 102.2,516.9 102.7,517 103.2,517 103.7,517.1 104.2,517.1 104.7,517.2 105.2,517.2 105.7,517.2 106.2,517.3 106.7,517.3 107.2,517.3 107.7,517.4 108.2,517.4 108.7,517.4 109.2,517.5 109.7,517.5 110.2,517.5 110.7,517.5 111.2,517.6 111.7,517.6 112.2,517.6 112.6,517.6 113.1,517.6 113.6,517.6 114.1,517.7 114.6,517.7 115.1,517.7 115.6,517.7 116.1,517.7 116.6,517.7 117.1,517.7 117.6,517.8 118.1,517.8 118.6,517.8 119.1,517.8 119.6,517.8 120.1,517.8 120.6,517.8 121.1,517.8 121.6,517.8 122.1,517.8 122.6,517.8 123.1,517.8 123.6,517.8 124.1,517.9 124.5,517.9 125,517.9 125.5,517.9 126,517.9 126.5,517.9 127,517.9 127.5,517.9 128,517.9 128.5,517.9 129,517.9 129.5,517.9 130,517.9 130.5,517.9 131,517.9 131.5,517.9 132,517.9 132.5,517.9 133,517.9 133.5,517.9 134,517.9 134.5,518 135,518 135.5,518 136,518 136.4,518 136.9,518 137.4,518 137.9,518 138.4,518 138.9,518 139.4,518 139.9,518 140.4,518 140.9,518 141.4,518 141.9,518 142.4,518 142.9,518 143.4,518 143.9,518 144.4,518 144.9,518 145.4,518 145.9,518" fill="none" stroke="#606060" stroke-width="0.7"/>
<rect x="45.6" y="335.6" width="3.2" height="3.2" fill="#000000"/>
<rect x="48.6" y="340.2" width="3.2" height="3.2" fill="#000000"/>
<rect x="51.6" y="346.6" width="3.2" height="3.2" fill="#000000"/>
<rect x="54.6" y="354.5" width="3.2" height="3.2" fill="#000000"/>
<rect x="57.6" y="364" width="3.2" height="3.2" fill="#000000"/>
<rect x="60.6" y="374.3" width="3.2" height="3.2" fill="#000000"/>
<rect x="63.5" y="388.5" width="3.2" height="3.2" fill="#000000"/>
<rect x="66.5" y="402.6" width="3.2" height="3.2" fill="#000000"/>
<rect x="69.5" y="419.7" width="3.2" height="3.2" fill="#000000"/>
<rect x="72.5" y="437.4" width="3.2" height="3.2" fill="#000000"/>
<rect x="75.5" y="456.3" width="3.2" height="3.2" fill="#000000"/>
<rect x="78.5" y="470.6" width="3.2" height="3.2" fill="#000000"/>
<rect x="81.5" y="485.9" width="3.2" height="3.2" fill="#000000"/>
<rect x="84.5" y="497.2" width="3.2" height="3.2" fill="#000000"/>
<rect x="87.5" y="505.7" width="3.2" height="3.2" fill="#000000"/>
<rect x="90.5" y="510.4" width="3.2" height="3.2" fill="#000000"/>
<rect x="93.4" y="513.5" width="3.2" height="3.2" fill="#000000"/>
<rect x="96.4" y="514.5" width="3.2" height="3.2" fill="#000000"/>
<rect x="99.4" y="515.1" width="3.2" height="3.2" fill="#000000"/>
<rect x="102.4" y="515.5" width="3.2" height="3.2" fill="#000000"/>
<rect x="105.4" y="515.7" width="3.2" height="3.2" fill="#000000"/>
<rect x="108.4" y="515.9" width="3.2" height="3.2" fill="#000000"/>
<rect x="111.4" y="516" width="3.2" height="3.2" fill="#000000"/>
<rect x="114.4" y="516.1" width="3.2" height="3.2" fill="#000000"/>
<rect x="117.4" y="516.2" width="3.2" height="3.2" fill="#000000"/>
<rect x="120.4" y="516.2" width="3.2" height="3.2" fill="#000000"/>
<rect x="123.3" y="516.3" width="3.2" height="3.2" fill="#000000"/>
<rect x="126.3" y="516.3" width="3.2" height="3.2" fill="#000000"/>
<rect x="129.3" y="516.3" width="3.2" height="3.2" fill="#000000"/>
<rect x="132.3" y="516.3" width="3.2" height="3.2" fill="#000000"/>
<rect x="135.3" y="516.4" width="3.2" height="3.2" fill="#000000"/>
<rect x="138.3" y="516.4" width="3.2" height="3.2" fill="#000000"/>
<rect x="141.3" y="516.4" width="3.2" height="3.2" fill="#000000"/>
<rect x="144.3" y="516.4" width="3.2" height="3.2" fill="#000000"/>
<polyline points="47.2,320.4 47.7,320.6 48.2,320.8 48.7,321 49.2,321.2 49.7,321.4 50.2,321.6 50.7,321.8 51.2,322 51.7,322.2 52.2,322.4 52.7,322.6 53.1,322.8 53.6,323.1 54.1,323.3 54.6,323.5 55.1,323.7 55.6,324 56.1,324.2 56.6,324.4 57.1,324.7 57.6,324.9 58.1,325.2 58.6,325.4 59.1,325.7 59.6,325.9 60.1,326.1 60.6,326.4 61.1,326.6 61.6,326.9 62.1,327.2 62.6,327.4 63.1,327.7 63.6,327.9 64.1,328.2 64.6,328.5 65,328.7 65.5,329 66,329.3 66.5,329.5 67,329.8 67.5,330.1 68,330.4 68.5,330.7 69,331 69.5,331.3 70,331.7 70.5,332 71,332.3 71.5,332.7 72,333 72.5,333.4 73,333.8 73.5,334.2 74,334.6 74.5,335 75,335.4 75.5,335.9 76,336.3 76.5,336.8 76.9,337.2 77.4,337.7 77.9,338.1 78.4,338.6 78.9,339 79.4,339.5 79.9,339.9 80.4,340.4 80.9,340.9 81.4,341.4 81.9,341.9 82.4,342.4 82.9,343 83.4,343.6 83.9,344.3 84.4,345 84.9,345.7 85.4,346.5 85.9,347.4 86.4,348.3 86.9,349.2 87.4,350.2 87.9,351.2 88.4,352.2 88.8,353.2 89.3,354.3 89.8,355.4 90.3,356.6 90.8,357.8 91.3,359.1 91.8,360.4 92.3,361.7 92.8,363 93.3,364.3 93.8,365.7 94.3,367.1 94.8,368.6 95.3,370.3 95.8,372.3 96.3,374.6 96.8,377.1 97.3,379.9 97.8,382.7 98.3,385.6 98.8,388.5 99.3,391.5 99.8,394.7 100.3,397.9 100.7,401.1 101.2,404.3 101.7,407.6 102.2,410.9 102.7,414.2 103.2,417.6 103.7,421.1 104.2,424.6 104.7,428.2 105.2,431.9 105.7,435.7 106.2,439.4 106.7,443.1 107.2,446.7 107.7,450.2 108.2,453.6 108.7,457 109.2,460.4 109.7,463.8 110.2,467.1 110.7,470.5 111.2,474 111.7,477.4 112.2,480.8 112.6,483.9 113.1,486.8 113.6,489.6 114.1,492.3 114.6,494.8 115.1,496.8 115.6,498.4 116.1,499.7 116.6,500.9 117.1,502 117.6,503 118.1,504 118.6,504.9 119.1,505.9 119.6,506.8 120.1,507.7 120.6,508.5 121.1,509.3 121.6,509.9 122.1,510.5 122.6,511 123.1,511.4 123.6,511.9 124.1,512.3 124.5,512.7 125,513.2 125.5,513.6 126,514 126.5,514.4 127,514.8 127.5,515.1 128,515.5 128.5,515.8 129,516.1 129.5,516.4 130,516.5 130.5,516.7 131,516.8 131.5,516.9 132,517 132.5,517 133,517.1 133.5,517.2 134,517.2 134.5,517.3 135,517.4 135.5,517.4 136,517.4 136.4,517.5 136.9,517.5 137.4,517.6 137.9,517.6 138.4,517.6 138.9,517.7 139.4,517.7 139.9,517.7 140.4,517.8 140.9,517.8 141.4,517.8 141.9,517.8 142.4,517.9 142.9,517.9 143.4,517.9 143.9,517.9 144.4,518 144.9,518 145.4,518 145.9,518" fill="none" stroke="#606060" stroke-width="0.7"/>
<rect x="45.6" y="318.8" width="3.2" height="3.2" fill="#000000"/>
<rect x="48.6" y="320" width="3.2" height="3.2" fill="#000000"/>
<rect x="51.6" y="321.3" width="3.2" height="3.2" fill="#000000"/>
<rect x="54.6" y="322.6" width="3.2" height="3.2" fill="#000000"/>
<rect x="57.6" y="324.1" width="3.2" height="3.2" fill="#000000"/>
<rect x="60.6" y="325.6" width="3.2" height="3.2" fill="#000000"/>
<rect x="63.5" y="327.2" width="3.2" height="3.2" fill="#000000"/>
<rect x="66.5" y="328.9" width="3.2" height="3.2" fill="#000000"/>
<rect x="69.5" y="330.8" width="3.2" height="3.2" fill="#000000"/>
<rect x="72.5" y="333.1" width="3.2" height="3.2" fill="#000000"/>
<rect x="75.5" y="335.8" width="3.2" height="3.2" fill="#000000"/>
<rect x="78.5" y="338.5" width="3.2" height="3.2" fill="#000000"/>
<rect x="81.5" y="341.6" width="3.2" height="3.2" fill="#000000"/>
<rect x="84.5" y="346.2" width="3.2" height="3.2" fill="#000000"/>
<rect x="87.5" y="352" width="3.2" height="3.2" fill="#000000"/>
<rect x="90.5" y="359.4" width="3.2" height="3.2" fill="#000000"/>
<rect x="93.4" y="367.8" width="3.2" height="3.2" fill="#000000"/>
<rect x="96.4" y="382.6" width="3.2" height="3.2" fill="#000000"/>
<rect x="99.4" y="401.2" width="3.2" height="3.2" fill="#000000"/>
<rect x="102.4" y="421.5" width="3.2" height="3.2" fill="#000000"/>
<rect x="105.4" y="443.7" width="3.2" height="3.2" fill="#000000"/>
<rect x="108.4" y="464.3" width="3.2" height="3.2" fill="#000000"/>
<rect x="111.4" y="484.3" width="3.2" height="3.2" fill="#000000"/>
<rect x="114.4" y="497.8" width="3.2" height="3.2" fill="#000000"/>
<rect x="117.4" y="504" width="3.2" height="3.2" fill="#000000"/>
<rect x="120.4" y="508.7" width="3.2" height="3.2" fill="#000000"/>
<rect x="123.3" y="511.5" width="3.2" height="3.2" fill="#000000"/>
<rect x="126.3" y="513.8" width="3.2" height="3.2" fill="#000000"/>
<rect x="129.3" y="515.2" width="3.2" height="3.2" fill="#000000"/>
<rect x="132.3" y="515.6" width="3.2" height="3.2" fill="#000000"/>
<rect x="135.3" y="515.9" width="3.2" height="3.2" fill="#000000"/>
<rect x="138.3" y="516.1" width="3.2" height="3.2" fill="#000000"/>
<rect x="141.3" y="516.3" width="3.2" height="3.2" fill="#000000"/>
<rect x="144.3" y="516.4" width="3.2" height="3.2" fill="#000000"/>
<polyline points="47,314.1 47.5,314.3 48,314.5 48.5,314.7 49,315 49.5,315.3 50,315.6 50.5,315.9 51,316.3 51.5,316.8 52,317.3 52.5,317.8 52.9,318.4 53.4,319 53.9,319.6 54.4,320.4 54.9,321.2 55.4,322 55.9,322.9 56.4,323.8 56.9,324.8 57.4,325.9 57.9,327.1 58.4,328.3 58.9,329.5 59.4,330.8 59.9,332.2 60.4,333.6 60.9,335.1 61.4,336.6 61.9,338.1 62.4,339.6 62.9,341.2 63.4,342.7 63.9,344.3 64.4,345.9 64.8,347.5 65.3,349.1 65.8,350.7 66.3,352.4 66.8,354.1 67.3,355.8 67.8,357.5 68.3,359.2 68.8,361.1 69.3,362.9 69.8,364.7 70.3,366.6 70.8,368.3 71.3,370.1 71.8,371.7 72.3,373.3 72.8,374.9 73.3,376.5 73.8,378.2 74.3,380 74.8,382 75.3,384 75.8,386.1 76.3,388.3 76.7,390.5 77.2,392.9 77.7,395.4 78.2,398 78.7,400.7 79.2,403.5 79.7,406.4 80.2,409.3 80.7,412.3 81.2,415.5 81.7,418.7 82.2,421.9 82.7,425 83.2,428 83.7,430.8 84.2,433.7 84.7,436.4 85.2,439.2 85.7,442 86.2,444.9 86.7,448 87.2,451.3 87.7,454.6 88.2,457.8 88.6,460.6 89.1,462.8 89.6,464.7 90.1,466.5 90.6,468.1 91.1,469.6 91.6,471 92.1,472.2 92.6,473.4 93.1,474.5 93.6,475.5 94.1,476.4 94.6,477.2 95.1,478 95.6,478.7 96.1,479.3 96.6,479.9 97.1,480.4 97.6,480.9 98.1,481.3 98.6,481.6 99.1,481.9 99.6,482.2 100.1,482.5 100.5,482.7 101,482.9 101.5,483 102,483.1 102.5,483.2 103,483.3 103.5,483.4 104,483.4 104.5,483.5 105,483.6 105.5,483.7 106,483.7 106.5,483.8 107,483.9 107.5,483.9 108,484 108.5,484 109,484.1 109.5,484.1 110,484.2 110.5,484.2 111,484.2 111.5,484.3 112,484.3 112.4,484.3 112.9,484.3 113.4,484.4 113.9,484.4 114.4,484.4 114.9,484.4 115.4,484.4 115.9,484.4 116.4,484.4 116.9,484.4 117.4,484.4 117.9,484.4 118.4,484.4 118.9,484.4 119.4,484.5 119.9,484.5 120.4,484.5 120.9,484.5 121.4,484.5 121.9,484.5 122.4,484.5 122.9,484.5 123.4,484.5 123.9,484.5 124.3,484.5 124.8,484.5 125.3,484.5 125.8,484.5 126.3,484.5 126.8,484.5 127.3,484.5 127.8,484.5 128.3,484.5 128.8,484.5 129.3,484.5 129.8,484.5 130.3,484.5 130.8,484.5 131.3,484.6 131.8,484.6 132.3,484.6 132.8,484.6 133.3,484.6 133.8,484.6 134.3,484.6 134.8,484.6 135.3,484.6 135.8,484.6 136.2,484.6 136.7,484.6 137.2,484.6 137.7,484.6 138.2,484.6 138.7,484.6 139.2,484.6 139.7,484.6 140.2,484.6 140.7,484.6 141.2,484.6 141.7,484.6 142.2,484.6 142.7,484.6 143.2,484.6 143.7,484.6 144.2,484.6 144.7,484.6 145.2,484.6 145.7,484.6" fill="none" stroke="#f06060" stroke-width="0.7"/>
<circle cx="47" cy="314.1" r="1.85" fill="#dc0a0a"/>
<circle cx="50" cy="315.6" r="1.85" fill="#dc0a0a"/>
<circle cx="53" cy="318.4" r="1.85" fill="#dc0a0a"/>
<circle cx="56" cy="323" r="1.85" fill="#dc0a0a"/>
<circle cx="59" cy="329.7" r="1.85" fill="#dc0a0a"/>
<circle cx="62" cy="338.3" r="1.85" fill="#dc0a0a"/>
<circle cx="64.9" cy="347.8" r="1.85" fill="#dc0a0a"/>
<circle cx="67.9" cy="357.9" r="1.85" fill="#dc0a0a"/>
<circle cx="70.9" cy="368.8" r="1.85" fill="#dc0a0a"/>
<circle cx="73.9" cy="378.7" r="1.85" fill="#dc0a0a"/>
<circle cx="76.9" cy="391.2" r="1.85" fill="#dc0a0a"/>
<circle cx="79.9" cy="407.4" r="1.85" fill="#dc0a0a"/>
<circle cx="82.9" cy="426.1" r="1.85" fill="#dc0a0a"/>
<circle cx="85.9" cy="443.2" r="1.85" fill="#dc0a0a"/>
<circle cx="88.9" cy="461.6" r="1.85" fill="#dc0a0a"/>
<circle cx="91.9" cy="471.5" r="1.85" fill="#dc0a0a"/>
<circle cx="94.8" cy="477.6" r="1.85" fill="#dc0a0a"/>
<circle cx="97.8" cy="481.1" r="1.85" fill="#dc0a0a"/>
<circle cx="100.8" cy="482.8" r="1.85" fill="#dc0a0a"/>
<circle cx="103.8" cy="483.4" r="1.85" fill="#dc0a0a"/>
<circle cx="106.8" cy="483.8" r="1.85" fill="#dc0a0a"/>
<circle cx="109.8" cy="484.1" r="1.85" fill="#dc0a0a"/>
<circle cx="112.8" cy="484.3" r="1.85" fill="#dc0a0a"/>
<circle cx="115.8" cy="484.4" r="1.85" fill="#dc0a0a"/>
<circle cx="118.8" cy="484.4" r="1.85" fill="#dc0a0a"/>
<circle cx="121.8" cy="484.5" r="1.85" fill="#dc0a0a"/>
<circle cx="124.7" cy="484.5" r="1.85" fill="#dc0a0a"/>
<circle cx="127.7" cy="484.5" r="1.85" fill="#dc0a0a"/>
<circle cx="130.7" cy="484.5" r="1.85" fill="#dc0a0a"/>
<circle cx="133.7" cy="484.6" r="1.85" fill="#dc0a0a"/>
<circle cx="136.7" cy="484.6" r="1.85" fill="#dc0a0a"/>
<circle cx="139.7" cy="484.6" r="1.85" fill="#dc0a0a"/>
<circle cx="142.7" cy="484.6" r="1.85" fill="#dc0a0a"/>
<circle cx="145.7" cy="484.6" r="1.85" fill="#dc0a0a"/>
<polyline points="47,306.1 47.5,306.2 48,306.2 48.5,306.3 49,306.3 49.5,306.4 50,306.4 50.5,306.5 51,306.5 51.5,306.6 52,306.6 52.5,306.7 52.9,306.7 53.4,306.8 53.9,306.8 54.4,306.9 54.9,307 55.4,307 55.9,307.1 56.4,307.1 56.9,307.2 57.4,307.3 57.9,307.3 58.4,307.4 58.9,307.5 59.4,307.5 59.9,307.6 60.4,307.7 60.9,307.7 61.4,307.8 61.9,307.9 62.4,307.9 62.9,308 63.4,308.1 63.9,308.2 64.4,308.2 64.8,308.3 65.3,308.4 65.8,308.5 66.3,308.5 66.8,308.6 67.3,308.7 67.8,308.8 68.3,308.9 68.8,309 69.3,309.1 69.8,309.1 70.3,309.2 70.8,309.3 71.3,309.4 71.8,309.5 72.3,309.6 72.8,309.7 73.3,309.8 73.8,309.9 74.3,310 74.8,310.1 75.3,310.3 75.8,310.4 76.3,310.5 76.7,310.6 77.2,310.7 77.7,310.9 78.2,311 78.7,311.1 79.2,311.2 79.7,311.4 80.2,311.5 80.7,311.7 81.2,311.8 81.7,312 82.2,312.1 82.7,312.3 83.2,312.5 83.7,312.6 84.2,312.8 84.7,313 85.2,313.2 85.7,313.4 86.2,313.6 86.7,313.8 87.2,314 87.7,314.2 88.2,314.4 88.6,314.7 89.1,314.9 89.6,315.2 90.1,315.5 90.6,315.8 91.1,316.1 91.6,316.4 92.1,316.7 92.6,317.1 93.1,317.4 93.6,317.8 94.1,318.1 94.6,318.5 95.1,318.9 95.6,319.3 96.1,319.7 96.6,320.1 97.1,320.6 97.6,321.1 98.1,321.7 98.6,322.4 99.1,323.2 99.6,324.2 100.1,325.3 100.5,326.5 101,327.7 101.5,329.1 102,330.5 102.5,332.2 103,333.9 103.5,335.8 104,337.9 104.5,340.1 105,342.6 105.5,345.3 106,348.3 106.5,351.5 107,355.1 107.5,359.1 108,363.9 108.5,369.1 109,374.6 109.5,380.1 110,385.6 110.5,391.3 111,397.3 111.5,403.3 112,409.2 112.4,414.6 112.9,419.4 113.4,424.1 113.9,428.5 114.4,432.7 114.9,436.6 115.4,440.2 115.9,443.6 116.4,446.7 116.9,449.7 117.4,452.6 117.9,455.1 118.4,457.5 118.9,459.5 119.4,461.2 119.9,462.8 120.4,464.3 120.9,465.7 121.4,467 121.9,468.2 122.4,469.4 122.9,470.6 123.4,471.7 123.9,472.8 124.3,473.7 124.8,474.6 125.3,475.3 125.8,476 126.3,476.6 126.8,477.2 127.3,477.7 127.8,478.2 128.3,478.8 128.8,479.3 129.3,479.7 129.8,480.2 130.3,480.6 130.8,481 131.3,481.4 131.8,481.7 132.3,482 132.8,482.3 133.3,482.4 133.8,482.6 134.3,482.7 134.8,482.9 135.3,483 135.8,483.1 136.2,483.2 136.7,483.3 137.2,483.4 137.7,483.5 138.2,483.6 138.7,483.6 139.2,483.7 139.7,483.8 140.2,483.8 140.7,483.9 141.2,483.9 141.7,484 142.2,484 142.7,484.1 143.2,484.1 143.7,484.2 144.2,484.2 144.7,484.3 145.2,484.3 145.7,484.3" fill="none" stroke="#f06060" stroke-width="0.7"/>
<circle cx="47" cy="306.1" r="1.85" fill="#dc0a0a"/>
<circle cx="50" cy="306.4" r="1.85" fill="#dc0a0a"/>
<circle cx="53" cy="306.7" r="1.85" fill="#dc0a0a"/>
<circle cx="56" cy="307.1" r="1.85" fill="#dc0a0a"/>
<circle cx="59" cy="307.5" r="1.85" fill="#dc0a0a"/>
<circle cx="62" cy="307.9" r="1.85" fill="#dc0a0a"/>
<circle cx="64.9" cy="308.3" r="1.85" fill="#dc0a0a"/>
<circle cx="67.9" cy="308.8" r="1.85" fill="#dc0a0a"/>
<circle cx="70.9" cy="309.4" r="1.85" fill="#dc0a0a"/>
<circle cx="73.9" cy="310" r="1.85" fill="#dc0a0a"/>
<circle cx="76.9" cy="310.6" r="1.85" fill="#dc0a0a"/>
<circle cx="79.9" cy="311.4" r="1.85" fill="#dc0a0a"/>
<circle cx="82.9" cy="312.4" r="1.85" fill="#dc0a0a"/>
<circle cx="85.9" cy="313.4" r="1.85" fill="#dc0a0a"/>
<circle cx="88.9" cy="314.8" r="1.85" fill="#dc0a0a"/>
<circle cx="91.9" cy="316.6" r="1.85" fill="#dc0a0a"/>
<circle cx="94.8" cy="318.7" r="1.85" fill="#dc0a0a"/>
<circle cx="97.8" cy="321.4" r="1.85" fill="#dc0a0a"/>
<circle cx="100.8" cy="327.1" r="1.85" fill="#dc0a0a"/>
<circle cx="103.8" cy="337" r="1.85" fill="#dc0a0a"/>
<circle cx="106.8" cy="353.6" r="1.85" fill="#dc0a0a"/>
<circle cx="109.8" cy="383.6" r="1.85" fill="#dc0a0a"/>
<circle cx="112.8" cy="417.9" r="1.85" fill="#dc0a0a"/>
<circle cx="115.8" cy="442.6" r="1.85" fill="#dc0a0a"/>
<circle cx="118.8" cy="458.9" r="1.85" fill="#dc0a0a"/>
<circle cx="121.8" cy="467.9" r="1.85" fill="#dc0a0a"/>
<circle cx="124.7" cy="474.4" r="1.85" fill="#dc0a0a"/>
<circle cx="127.7" cy="478.1" r="1.85" fill="#dc0a0a"/>
<circle cx="130.7" cy="480.9" r="1.85" fill="#dc0a0a"/>
<circle cx="133.7" cy="482.6" r="1.85" fill="#dc0a0a"/>
<circle cx="136.7" cy="483.3" r="1.85" fill="#dc0a0a"/>
<circle cx="139.7" cy="483.8" r="1.85" fill="#dc0a0a"/>
<circle cx="142.7" cy="484.1" r="1.85" fill="#dc0a0a"/>
<circle cx="145.7" cy="484.3" r="1.85" fill="#dc0a0a"/>
<rect x="33.7" y="263.7" width="141.8" height="262.2" fill="none" stroke="#505050" stroke-width="1.3"/>
<line x1="30.3" y1="525.7" x2="33.7" y2="525.7" stroke="#505050" stroke-width="1.1"/>
<text x="29" y="528.3" font-size="9.8" text-anchor="end" fill="#222" font-family='"Liberation Sans", sans-serif' stroke="#222" stroke-width="0.22" >15</text>
<line x1="31.9" y1="516" x2="33.7" y2="516" stroke="#505050" stroke-width="1.1"/>
<line x1="30.3" y1="506.3" x2="33.7" y2="506.3" stroke="#505050" stroke-width="1.1"/>
<text x="29" y="508.9" font-size="9.8" text-anchor="end" fill="#222" font-family='"Liberation Sans", sans-serif' stroke="#222" stroke-width="0.22" >20</text>
<line x1="31.9" y1="496.6" x2="33.7" y2="496.6" stroke="#505050" stroke-width="1.1"/>
<line x1="30.3" y1="487" x2="33.7" y2="487" stroke="#505050" stroke-width="1.1"/>
<text x="29" y="489.6" font-size="9.8" text-anchor="end" fill="#222" font-family='"Liberation Sans", sans-serif' stroke="#222" stroke-width="0.22" >25</text>
<line x1="31.9" y1="477.3" x2="33.7" y2="477.3" stroke="#505050" stroke-width="1.1"/>
<line x1="30.3" y1="467.6" x2="33.7" y2="467.6" stroke="#505050" stroke-width="1.1"/>
<text x="29" y="470.2" font-size="9.8" text-anchor="end" fill="#222" font-family='"Liberation Sans", sans-serif' stroke="#222" stroke-width="0.22" >30</text>
<line x1="31.9" y1="457.9" x2="33.7" y2="457.9" stroke="#505050" stroke-width="1.1"/>
<line x1="30.3" y1="448.2" x2="33.7" y2="448.2" stroke="#505050" stroke-width="1.1"/>
<text x="29" y="450.8" font-size="9.8" text-anchor="end" fill="#222" font-family='"Liberation Sans", sans-serif' stroke="#222" stroke-width="0.22" >35</text>
<line x1="31.9" y1="438.6" x2="33.7" y2="438.6" stroke="#505050" stroke-width="1.1"/>
<line x1="30.3" y1="428.9" x2="33.7" y2="428.9" stroke="#505050" stroke-width="1.1"/>
<text x="29" y="431.5" font-size="9.8" text-anchor="end" fill="#222" font-family='"Liberation Sans", sans-serif' stroke="#222" stroke-width="0.22" >40</text>
<line x1="31.9" y1="419.2" x2="33.7" y2="419.2" stroke="#505050" stroke-width="1.1"/>
<line x1="30.3" y1="409.5" x2="33.7" y2="409.5" stroke="#505050" stroke-width="1.1"/>
<text x="29" y="412.1" font-size="9.8" text-anchor="end" fill="#222" font-family='"Liberation Sans", sans-serif' stroke="#222" stroke-width="0.22" >45</text>
<line x1="31.9" y1="399.8" x2="33.7" y2="399.8" stroke="#505050" stroke-width="1.1"/>
<line x1="30.3" y1="390.2" x2="33.7" y2="390.2" stroke="#505050" stroke-width="1.1"/>
<text x="29" y="392.8" font-size="9.8" text-anchor="end" fill="#222" font-family='"Liberation Sans", sans-serif' stroke="#222" stroke-width="0.22" >50</text>
<line x1="31.9" y1="380.5" x2="33.7" y2="380.5" stroke="#505050" stroke-width="1.1"/>
<line x1="30.3" y1="370.8" x2="33.7" y2="370.8" stroke="#505050" stroke-width="1.1"/>
<text x="29" y="373.4" font-size="9.8" text-anchor="end" fill="#222" font-family='"Liberation Sans", sans-serif' stroke="#222" stroke-width="0.22" >55</text>
<line x1="31.9" y1="361.1" x2="33.7" y2="361.1" stroke="#505050" stroke-width="1.1"/>
<line x1="30.3" y1="351.4" x2="33.7" y2="351.4" stroke="#505050" stroke-width="1.1"/>
<text x="29" y="354" font-size="9.8" text-anchor="end" fill="#222" font-family='"Liberation Sans", sans-serif' stroke="#222" stroke-width="0.22" >60</text>
<line x1="31.9" y1="341.8" x2="33.7" y2="341.8" stroke="#505050" stroke-width="1.1"/>
<line x1="30.3" y1="332.1" x2="33.7" y2="332.1" stroke="#505050" stroke-width="1.1"/>
<text x="29" y="334.7" font-size="9.8" text-anchor="end" fill="#222" font-family='"Liberation Sans", sans-serif' stroke="#222" stroke-width="0.22" >65</text>
<line x1="31.9" y1="322.4" x2="33.7" y2="322.4" stroke="#505050" stroke-width="1.1"/>
<line x1="30.3" y1="312.7" x2="33.7" y2="312.7" stroke="#505050" stroke-width="1.1"/>
<text x="29" y="315.3" font-size="9.8" text-anchor="end" fill="#222" font-family='"Liberation Sans", sans-serif' stroke="#222" stroke-width="0.22" >70</text>
<line x1="31.9" y1="303" x2="33.7" y2="303" stroke="#505050" stroke-width="1.1"/>
<line x1="30.3" y1="293.4" x2="33.7" y2="293.4" stroke="#505050" stroke-width="1.1"/>
<text x="29" y="296" font-size="9.8" text-anchor="end" fill="#222" font-family='"Liberation Sans", sans-serif' stroke="#222" stroke-width="0.22" >75</text>
<line x1="31.9" y1="283.7" x2="33.7" y2="283.7" stroke="#505050" stroke-width="1.1"/>
<line x1="30.3" y1="274" x2="33.7" y2="274" stroke="#505050" stroke-width="1.1"/>
<text x="29" y="276.6" font-size="9.8" text-anchor="end" fill="#222" font-family='"Liberation Sans", sans-serif' stroke="#222" stroke-width="0.22" >80</text>
<line x1="41.2" y1="525.9" x2="41.2" y2="528.7" stroke="#505050" stroke-width="1.1"/>
<text x="41.2" y="538.4" font-size="9.8" text-anchor="middle" fill="#222" font-family='"Liberation Sans", sans-serif' stroke="#222" stroke-width="0.22" >20</text>
<line x1="56.2" y1="525.9" x2="56.2" y2="527.5" stroke="#505050" stroke-width="1.1"/>
<line x1="71.1" y1="525.9" x2="71.1" y2="528.7" stroke="#505050" stroke-width="1.1"/>
<text x="71.1" y="538.4" font-size="9.8" text-anchor="middle" fill="#222" font-family='"Liberation Sans", sans-serif' stroke="#222" stroke-width="0.22" >40</text>
<line x1="86.1" y1="525.9" x2="86.1" y2="527.5" stroke="#505050" stroke-width="1.1"/>
<line x1="101" y1="525.9" x2="101" y2="528.7" stroke="#505050" stroke-width="1.1"/>
<text x="101" y="538.4" font-size="9.8" text-anchor="middle" fill="#222" font-family='"Liberation Sans", sans-serif' stroke="#222" stroke-width="0.22" >60</text>
<line x1="116" y1="525.9" x2="116" y2="527.5" stroke="#505050" stroke-width="1.1"/>
<line x1="130.9" y1="525.9" x2="130.9" y2="528.7" stroke="#505050" stroke-width="1.1"/>
<text x="130.9" y="538.4" font-size="9.8" text-anchor="middle" fill="#222" font-family='"Liberation Sans", sans-serif' stroke="#222" stroke-width="0.22" >80</text>
<line x1="145.9" y1="525.9" x2="145.9" y2="527.5" stroke="#505050" stroke-width="1.1"/>
<line x1="160.8" y1="525.9" x2="160.8" y2="528.7" stroke="#505050" stroke-width="1.1"/>
<text x="160.8" y="538.4" font-size="9.8" text-anchor="middle" fill="#222" font-family='"Liberation Sans", sans-serif' stroke="#222" stroke-width="0.22" >100</text>
<text x="90.7" y="548.4" font-size="11" fill="#1a1a1a" stroke="#1a1a1a" stroke-width="0.22" font-family='"Liberation Sans", sans-serif'>T</text>
<text x="97.7" y="548.9" font-size="11.2" fill="#333" stroke="#333" stroke-width="0.15" font-family='"Liberation Sans", sans-serif'>(</text>
<circle cx="103.5" cy="541.1" r="1" fill="none" stroke="#333" stroke-width="0.6"/>
<path d="M110.29 541.79 A3.58 3.96 0 1 0 110.29 547.09" fill="none" stroke="#333" stroke-width="0.9"/>
<text x="112.8" y="548.9" font-size="11.2" fill="#333" stroke="#333" stroke-width="0.15" font-family='"Liberation Sans", sans-serif'>)</text>
<text x="33.1" y="280.9" font-size="23" text-anchor="start" fill="#000" font-family='"Liberation Sans", sans-serif' stroke="#000" stroke-width="0.22" >(c)</text>
<line x1="101" y1="271.1" x2="119" y2="271.1" stroke="#606060" stroke-width="0.7"/>
<rect x="107.3" y="268.4" width="5.4" height="5.4" fill="#000"/>
<text x="122" y="274.1" font-size="8.3" text-anchor="start" fill="#151515" font-family='"Liberation Sans", sans-serif' stroke="#151515" stroke-width="0.22" >Undoped-470</text>
<line x1="101" y1="281.1" x2="119" y2="281.1" stroke="#f06060" stroke-width="0.7"/>
<circle cx="110" cy="281.1" r="3.2" fill="#ff0000"/>
<text x="122" y="284.1" font-size="8.3" text-anchor="start" fill="#151515" font-family='"Liberation Sans", sans-serif' stroke="#151515" stroke-width="0.22" >Undoped-500</text>
<path d="M101.4 434.9 L105 427.3 L108.6 434.9 Z" fill="none" stroke="#d42020" stroke-width="0.9" stroke-linejoin="miter"/>
<text x="109.3" y="435.2" font-size="15.3" text-anchor="start" fill="#d42020" font-family='"Liberation Sans", sans-serif' stroke="#d42020" stroke-width="0.35" >Tr=46.1%</text>
<path d="M96.6 503.1 L100.2 495.5 L103.8 503.1 Z" fill="none" stroke="#111" stroke-width="0.9" stroke-linejoin="miter"/>
<text x="104.3" y="503.4" font-size="15.3" text-anchor="start" fill="#111" font-family='"Liberation Sans", sans-serif' stroke="#111" stroke-width="0.35" >Tr=51.2%</text>
<text transform="translate(10.5,402.4) rotate(-90)" font-size="11.5" text-anchor="middle" fill="#1a1a1a" stroke="#1a1a1a" stroke-width="0.22" font-family='"Liberation Sans", sans-serif'>Transmittance (%)</text>
<polyline points="211.4,294.6 211.9,295 212.4,295.6 212.9,296.2 213.4,296.9 213.9,297.7 214.4,298.6 214.9,299.4 215.4,300.4 215.9,301.6 216.4,302.9 216.9,304.3 217.3,305.7 217.8,307.1 218.3,308.6 218.8,310.1 219.3,311.7 219.8,313.3 220.3,315 220.8,316.6 221.3,318.1 221.8,319.7 222.3,321.2 222.8,322.8 223.3,324.4 223.8,326.1 224.3,327.9 224.8,329.8 225.3,331.9 225.8,333.9 226.3,336 226.8,338 227.3,339.9 227.8,341.8 228.3,343.7 228.8,345.5 229.2,347.4 229.7,349.3 230.2,351.2 230.7,353.1 231.2,355 231.7,356.9 232.2,358.7 232.7,360.6 233.2,362.4 233.7,364.3 234.2,366.1 234.7,367.9 235.2,369.6 235.7,371.1 236.2,372.5 236.7,373.8 237.2,375.1 237.7,376.3 238.2,377.5 238.7,378.7 239.2,379.8 239.7,380.9 240.2,382 240.7,383.1 241.1,384.1 241.6,385 242.1,385.8 242.6,386.5 243.1,387.2 243.6,387.9 244.1,388.5 244.6,389.1 245.1,389.7 245.6,390.3 246.1,390.8 246.6,391.4 247.1,391.9 247.6,392.3 248.1,392.7 248.6,393 249.1,393.4 249.6,393.7 250.1,393.9 250.6,394.2 251.1,394.5 251.6,394.7 252.1,394.9 252.6,395.2 253,395.4 253.5,395.5 254,395.7 254.5,395.9 255,396 255.5,396.1 256,396.3 256.5,396.4 257,396.5 257.5,396.6 258,396.8 258.5,396.9 259,397 259.5,397.1 260,397.2 260.5,397.3 261,397.4 261.5,397.4 262,397.5 262.5,397.6 263,397.6 263.5,397.7 264,397.7 264.5,397.8 264.9,397.8 265.4,397.8 265.9,397.8 266.4,397.9 266.9,397.9 267.4,397.9 267.9,397.9 268.4,397.9 268.9,397.9 269.4,398 269.9,398 270.4,398 270.9,398 271.4,398 271.9,398 272.4,398.1 272.9,398.1 273.4,398.1 273.9,398.1 274.4,398.1 274.9,398.1 275.4,398.1 275.9,398.2 276.4,398.2 276.8,398.2 277.3,398.2 277.8,398.2 278.3,398.2 278.8,398.2 279.3,398.2 279.8,398.3 280.3,398.3 280.8,398.3 281.3,398.3 281.8,398.3 282.3,398.3 282.8,398.3 283.3,398.3 283.8,398.3 284.3,398.4 284.8,398.4 285.3,398.4 285.8,398.4 286.3,398.4 286.8,398.4 287.3,398.4 287.8,398.4 288.3,398.4 288.7,398.4 289.2,398.4 289.7,398.4 290.2,398.5 290.7,398.5 291.2,398.5 291.7,398.5 292.2,398.5 292.7,398.5 293.2,398.5 293.7,398.5 294.2,398.5 294.7,398.5 295.2,398.5 295.7,398.5 296.2,398.5 296.7,398.5 297.2,398.5 297.7,398.5 298.2,398.5 298.7,398.6 299.2,398.6 299.7,398.6 300.2,398.6 300.6,398.6 301.1,398.6 301.6,398.6 302.1,398.6 302.6,398.6 303.1,398.6 303.6,398.6 304.1,398.6 304.6,398.6 305.1,398.6 305.6,398.6 306.1,398.6 306.6,398.6 307.1,398.6 307.6,398.6 308.1,398.6 308.6,398.6 309.1,398.6 309.6,398.6 310.1,398.6" fill="none" stroke="#505050" stroke-width="0.7"/>
<rect x="209.8" y="293" width="3.2" height="3.2" fill="#000000"/>
<rect x="212.8" y="297" width="3.2" height="3.2" fill="#000000"/>
<rect x="215.8" y="304.2" width="3.2" height="3.2" fill="#000000"/>
<rect x="218.8" y="313.5" width="3.2" height="3.2" fill="#000000"/>
<rect x="221.8" y="323" width="3.2" height="3.2" fill="#000000"/>
<rect x="224.8" y="334.7" width="3.2" height="3.2" fill="#000000"/>
<rect x="227.7" y="346.1" width="3.2" height="3.2" fill="#000000"/>
<rect x="230.7" y="357.5" width="3.2" height="3.2" fill="#000000"/>
<rect x="233.7" y="368.3" width="3.2" height="3.2" fill="#000000"/>
<rect x="236.7" y="376.2" width="3.2" height="3.2" fill="#000000"/>
<rect x="239.7" y="382.8" width="3.2" height="3.2" fill="#000000"/>
<rect x="242.7" y="387.1" width="3.2" height="3.2" fill="#000000"/>
<rect x="245.7" y="390.5" width="3.2" height="3.2" fill="#000000"/>
<rect x="248.7" y="392.5" width="3.2" height="3.2" fill="#000000"/>
<rect x="251.7" y="393.8" width="3.2" height="3.2" fill="#000000"/>
<rect x="254.7" y="394.7" width="3.2" height="3.2" fill="#000000"/>
<rect x="257.6" y="395.4" width="3.2" height="3.2" fill="#000000"/>
<rect x="260.6" y="396" width="3.2" height="3.2" fill="#000000"/>
<rect x="263.6" y="396.2" width="3.2" height="3.2" fill="#000000"/>
<rect x="266.6" y="396.3" width="3.2" height="3.2" fill="#000000"/>
<rect x="269.6" y="396.4" width="3.2" height="3.2" fill="#000000"/>
<rect x="272.6" y="396.5" width="3.2" height="3.2" fill="#000000"/>
<rect x="275.6" y="396.6" width="3.2" height="3.2" fill="#000000"/>
<rect x="278.6" y="396.7" width="3.2" height="3.2" fill="#000000"/>
<rect x="281.6" y="396.7" width="3.2" height="3.2" fill="#000000"/>
<rect x="284.5" y="396.8" width="3.2" height="3.2" fill="#000000"/>
<rect x="287.5" y="396.8" width="3.2" height="3.2" fill="#000000"/>
<rect x="290.5" y="396.9" width="3.2" height="3.2" fill="#000000"/>
<rect x="293.5" y="396.9" width="3.2" height="3.2" fill="#000000"/>
<rect x="296.5" y="396.9" width="3.2" height="3.2" fill="#000000"/>
<rect x="299.5" y="397" width="3.2" height="3.2" fill="#000000"/>
<rect x="302.5" y="397" width="3.2" height="3.2" fill="#000000"/>
<rect x="305.5" y="397" width="3.2" height="3.2" fill="#000000"/>
<rect x="308.5" y="397" width="3.2" height="3.2" fill="#000000"/>
<polyline points="211.4,285.4 211.9,285.4 212.4,285.5 212.9,285.5 213.4,285.6 213.9,285.6 214.4,285.7 214.9,285.7 215.4,285.8 215.9,285.9 216.4,285.9 216.9,286 217.3,286.1 217.8,286.2 218.3,286.3 218.8,286.4 219.3,286.5 219.8,286.5 220.3,286.6 220.8,286.7 221.3,286.9 221.8,287 222.3,287.1 222.8,287.2 223.3,287.3 223.8,287.4 224.3,287.5 224.8,287.6 225.3,287.7 225.8,287.9 226.3,288 226.8,288.2 227.3,288.3 227.8,288.5 228.3,288.6 228.8,288.8 229.2,289 229.7,289.2 230.2,289.4 230.7,289.6 231.2,289.8 231.7,290 232.2,290.2 232.7,290.4 233.2,290.7 233.7,290.9 234.2,291.2 234.7,291.4 235.2,291.7 235.7,292 236.2,292.3 236.7,292.6 237.2,293 237.7,293.3 238.2,293.7 238.7,294.1 239.2,294.5 239.7,295.1 240.2,295.6 240.7,296.3 241.1,297 241.6,297.7 242.1,298.4 242.6,299.1 243.1,299.8 243.6,300.6 244.1,301.4 244.6,302.3 245.1,303.2 245.6,304.2 246.1,305.2 246.6,306.3 247.1,307.5 247.6,308.7 248.1,310 248.6,311.3 249.1,312.8 249.6,314.4 250.1,316 250.6,317.7 251.1,319.5 251.6,321.4 252.1,323.4 252.6,325.5 253,327.7 253.5,329.9 254,332.3 254.5,334.8 255,337.4 255.5,340 256,342.5 256.5,344.9 257,347.1 257.5,349.2 258,351.3 258.5,353.4 259,355.5 259.5,357.5 260,359.7 260.5,361.8 261,364.1 261.5,366.2 262,368.3 262.5,370.3 263,372 263.5,373.7 264,375.3 264.5,376.9 264.9,378.3 265.4,379.6 265.9,380.8 266.4,382 266.9,383 267.4,384.1 267.9,385 268.4,386 268.9,386.9 269.4,387.8 269.9,388.7 270.4,389.5 270.9,390.3 271.4,391 271.9,391.7 272.4,392.3 272.9,392.9 273.4,393.4 273.9,393.9 274.4,394.3 274.9,394.6 275.4,394.8 275.9,395.1 276.4,395.3 276.8,395.5 277.3,395.7 277.8,395.9 278.3,396.1 278.8,396.2 279.3,396.4 279.8,396.5 280.3,396.7 280.8,396.8 281.3,396.9 281.8,397 282.3,397.1 282.8,397.2 283.3,397.3 283.8,397.4 284.3,397.4 284.8,397.5 285.3,397.5 285.8,397.6 286.3,397.6 286.8,397.6 287.3,397.7 287.8,397.7 288.3,397.8 288.7,397.8 289.2,397.8 289.7,397.9 290.2,397.9 290.7,397.9 291.2,398 291.7,398 292.2,398 292.7,398 293.2,398.1 293.7,398.1 294.2,398.1 294.7,398.2 295.2,398.2 295.7,398.2 296.2,398.2 296.7,398.3 297.2,398.3 297.7,398.3 298.2,398.3 298.7,398.3 299.2,398.4 299.7,398.4 300.2,398.4 300.6,398.4 301.1,398.4 301.6,398.5 302.1,398.5 302.6,398.5 303.1,398.5 303.6,398.5 304.1,398.5 304.6,398.5 305.1,398.5 305.6,398.6 306.1,398.6 306.6,398.6 307.1,398.6 307.6,398.6 308.1,398.6 308.6,398.6 309.1,398.6 309.6,398.6 310.1,398.6" fill="none" stroke="#505050" stroke-width="0.7"/>
<rect x="209.8" y="283.8" width="3.2" height="3.2" fill="#000000"/>
<rect x="212.8" y="284.1" width="3.2" height="3.2" fill="#000000"/>
<rect x="215.8" y="284.5" width="3.2" height="3.2" fill="#000000"/>
<rect x="218.8" y="285.1" width="3.2" height="3.2" fill="#000000"/>
<rect x="221.8" y="285.7" width="3.2" height="3.2" fill="#000000"/>
<rect x="224.8" y="286.4" width="3.2" height="3.2" fill="#000000"/>
<rect x="227.7" y="287.4" width="3.2" height="3.2" fill="#000000"/>
<rect x="230.7" y="288.7" width="3.2" height="3.2" fill="#000000"/>
<rect x="233.7" y="290.2" width="3.2" height="3.2" fill="#000000"/>
<rect x="236.7" y="292.2" width="3.2" height="3.2" fill="#000000"/>
<rect x="239.7" y="295.6" width="3.2" height="3.2" fill="#000000"/>
<rect x="242.7" y="300.1" width="3.2" height="3.2" fill="#000000"/>
<rect x="245.7" y="306.3" width="3.2" height="3.2" fill="#000000"/>
<rect x="248.7" y="315.1" width="3.2" height="3.2" fill="#000000"/>
<rect x="251.7" y="327" width="3.2" height="3.2" fill="#000000"/>
<rect x="254.7" y="342" width="3.2" height="3.2" fill="#000000"/>
<rect x="257.6" y="354.9" width="3.2" height="3.2" fill="#000000"/>
<rect x="260.6" y="367.7" width="3.2" height="3.2" fill="#000000"/>
<rect x="263.6" y="377.4" width="3.2" height="3.2" fill="#000000"/>
<rect x="266.6" y="384" width="3.2" height="3.2" fill="#000000"/>
<rect x="269.6" y="389.2" width="3.2" height="3.2" fill="#000000"/>
<rect x="272.6" y="392.5" width="3.2" height="3.2" fill="#000000"/>
<rect x="275.6" y="394" width="3.2" height="3.2" fill="#000000"/>
<rect x="278.6" y="395" width="3.2" height="3.2" fill="#000000"/>
<rect x="281.6" y="395.7" width="3.2" height="3.2" fill="#000000"/>
<rect x="284.5" y="396" width="3.2" height="3.2" fill="#000000"/>
<rect x="287.5" y="396.2" width="3.2" height="3.2" fill="#000000"/>
<rect x="290.5" y="396.4" width="3.2" height="3.2" fill="#000000"/>
<rect x="293.5" y="396.6" width="3.2" height="3.2" fill="#000000"/>
<rect x="296.5" y="396.7" width="3.2" height="3.2" fill="#000000"/>
<rect x="299.5" y="396.8" width="3.2" height="3.2" fill="#000000"/>
<rect x="302.5" y="396.9" width="3.2" height="3.2" fill="#000000"/>
<rect x="305.5" y="397" width="3.2" height="3.2" fill="#000000"/>
<rect x="308.5" y="397" width="3.2" height="3.2" fill="#000000"/>
<polyline points="211.4,316.5 211.9,316.8 212.4,317.1 212.9,317.4 213.4,317.7 213.9,318.1 214.4,318.4 214.9,318.8 215.4,319.2 215.9,319.6 216.4,320.1 216.9,320.5 217.3,321.1 217.8,321.7 218.3,322.3 218.8,323.1 219.3,324 219.8,324.9 220.3,325.9 220.8,326.8 221.3,327.8 221.8,328.8 222.3,329.9 222.8,331 223.3,332.2 223.8,333.4 224.3,334.8 224.8,336.5 225.3,338.3 225.8,340.1 226.3,342 226.8,343.7 227.3,345.3 227.8,346.9 228.3,348.4 228.8,349.9 229.2,351.4 229.7,353.1 230.2,354.9 230.7,356.8 231.2,358.8 231.7,360.9 232.2,363 232.7,365.2 233.2,367.5 233.7,369.8 234.2,372.2 234.7,374.6 235.2,377.1 235.7,379.7 236.2,382.4 236.7,385.1 237.2,388 237.7,390.9 238.2,393.9 238.7,396.8 239.2,399.8 239.7,402.8 240.2,405.9 240.7,408.9 241.1,411.9 241.6,414.8 242.1,417.5 242.6,420.1 243.1,422.6 243.6,425.1 244.1,427.4 244.6,429.8 245.1,432.1 245.6,434.5 246.1,436.8 246.6,439 247.1,441.1 247.6,442.9 248.1,444.6 248.6,446.3 249.1,447.8 249.6,449.2 250.1,450.5 250.6,451.7 251.1,452.7 251.6,453.7 252.1,454.6 252.6,455.4 253,456.2 253.5,456.9 254,457.6 254.5,458.2 255,458.8 255.5,459.3 256,459.8 256.5,460.3 257,460.8 257.5,461.3 258,461.8 258.5,462.3 259,462.7 259.5,463.1 260,463.3 260.5,463.6 261,463.8 261.5,464.1 262,464.3 262.5,464.5 263,464.7 263.5,464.9 264,465.1 264.5,465.2 264.9,465.4 265.4,465.6 265.9,465.7 266.4,465.8 266.9,466 267.4,466.1 267.9,466.2 268.4,466.3 268.9,466.4 269.4,466.4 269.9,466.5 270.4,466.5 270.9,466.6 271.4,466.6 271.9,466.7 272.4,466.7 272.9,466.8 273.4,466.8 273.9,466.9 274.4,466.9 274.9,466.9 275.4,467 275.9,467 276.4,467 276.8,467.1 277.3,467.1 277.8,467.1 278.3,467.2 278.8,467.2 279.3,467.2 279.8,467.2 280.3,467.3 280.8,467.3 281.3,467.3 281.8,467.3 282.3,467.3 282.8,467.4 283.3,467.4 283.8,467.4 284.3,467.4 284.8,467.4 285.3,467.4 285.8,467.4 286.3,467.4 286.8,467.4 287.3,467.4 287.8,467.4 288.3,467.4 288.7,467.5 289.2,467.5 289.7,467.5 290.2,467.5 290.7,467.5 291.2,467.5 291.7,467.5 292.2,467.5 292.7,467.5 293.2,467.5 293.7,467.5 294.2,467.5 294.7,467.5 295.2,467.5 295.7,467.5 296.2,467.5 296.7,467.5 297.2,467.5 297.7,467.5 298.2,467.5 298.7,467.6 299.2,467.6 299.7,467.6 300.2,467.6 300.6,467.6 301.1,467.6 301.6,467.6 302.1,467.6 302.6,467.6 303.1,467.6 303.6,467.6 304.1,467.6 304.6,467.6 305.1,467.6 305.6,467.6 306.1,467.6 306.6,467.6 307.1,467.6 307.6,467.6 308.1,467.6 308.6,467.6 309.1,467.6 309.6,467.6 310.1,467.6" fill="none" stroke="#f06060" stroke-width="0.7"/>
<circle cx="211.4" cy="316.5" r="1.85" fill="#dc0a0a"/>
<circle cx="214.4" cy="318.4" r="1.85" fill="#dc0a0a"/>
<circle cx="217.4" cy="321.1" r="1.85" fill="#dc0a0a"/>
<circle cx="220.4" cy="326" r="1.85" fill="#dc0a0a"/>
<circle cx="223.4" cy="332.3" r="1.85" fill="#dc0a0a"/>
<circle cx="226.3" cy="342.2" r="1.85" fill="#dc0a0a"/>
<circle cx="229.3" cy="351.7" r="1.85" fill="#dc0a0a"/>
<circle cx="232.3" cy="363.5" r="1.85" fill="#dc0a0a"/>
<circle cx="235.3" cy="377.8" r="1.85" fill="#dc0a0a"/>
<circle cx="238.3" cy="394.7" r="1.85" fill="#dc0a0a"/>
<circle cx="241.3" cy="412.8" r="1.85" fill="#dc0a0a"/>
<circle cx="244.3" cy="428.2" r="1.85" fill="#dc0a0a"/>
<circle cx="247.3" cy="441.8" r="1.85" fill="#dc0a0a"/>
<circle cx="250.3" cy="451" r="1.85" fill="#dc0a0a"/>
<circle cx="253.3" cy="456.5" r="1.85" fill="#dc0a0a"/>
<circle cx="256.2" cy="460.1" r="1.85" fill="#dc0a0a"/>
<circle cx="259.2" cy="462.9" r="1.85" fill="#dc0a0a"/>
<circle cx="262.2" cy="464.4" r="1.85" fill="#dc0a0a"/>
<circle cx="265.2" cy="465.5" r="1.85" fill="#dc0a0a"/>
<circle cx="268.2" cy="466.2" r="1.85" fill="#dc0a0a"/>
<circle cx="271.2" cy="466.6" r="1.85" fill="#dc0a0a"/>
<circle cx="274.2" cy="466.9" r="1.85" fill="#dc0a0a"/>
<circle cx="277.2" cy="467.1" r="1.85" fill="#dc0a0a"/>
<circle cx="280.2" cy="467.3" r="1.85" fill="#dc0a0a"/>
<circle cx="283.2" cy="467.4" r="1.85" fill="#dc0a0a"/>
<circle cx="286.1" cy="467.4" r="1.85" fill="#dc0a0a"/>
<circle cx="289.1" cy="467.5" r="1.85" fill="#dc0a0a"/>
<circle cx="292.1" cy="467.5" r="1.85" fill="#dc0a0a"/>
<circle cx="295.1" cy="467.5" r="1.85" fill="#dc0a0a"/>
<circle cx="298.1" cy="467.5" r="1.85" fill="#dc0a0a"/>
<circle cx="301.1" cy="467.6" r="1.85" fill="#dc0a0a"/>
<circle cx="304.1" cy="467.6" r="1.85" fill="#dc0a0a"/>
<circle cx="307.1" cy="467.6" r="1.85" fill="#dc0a0a"/>
<circle cx="310.1" cy="467.6" r="1.85" fill="#dc0a0a"/>
<polyline points="211.4,303.6 211.9,303.7 212.3,303.7 212.8,303.8 213.3,303.9 213.7,303.9 214.2,304 214.7,304.1 215.1,304.1 215.6,304.2 216.1,304.3 216.5,304.4 217,304.4 217.5,304.5 217.9,304.6 218.4,304.7 218.9,304.7 219.3,304.8 219.8,304.9 220.2,305 220.7,305.1 221.2,305.1 221.6,305.2 222.1,305.3 222.6,305.4 223,305.5 223.5,305.6 224,305.6 224.4,305.7 224.9,305.8 225.4,305.9 225.8,306 226.3,306.1 226.8,306.1 227.2,306.2 227.7,306.3 228.2,306.4 228.6,306.5 229.1,306.6 229.6,306.6 230,306.7 230.5,306.8 231,306.9 231.4,307 231.9,307.1 232.4,307.2 232.8,307.3 233.3,307.4 233.8,307.5 234.2,307.6 234.7,307.7 235.2,307.8 235.6,307.9 236.1,308.1 236.6,308.2 237,308.3 237.5,308.5 237.9,308.6 238.4,308.7 238.9,308.9 239.3,309.1 239.8,309.3 240.3,309.5 240.7,309.7 241.2,310 241.7,310.2 242.1,310.5 242.6,310.8 243.1,311.1 243.5,311.4 244,311.7 244.5,311.9 244.9,312.2 245.4,312.4 245.9,312.6 246.3,312.9 246.8,313.1 247.3,313.4 247.7,313.7 248.2,314.2 248.7,314.7 249.1,315.4 249.6,316.1 250.1,316.9 250.5,317.8 251,318.7 251.5,319.6 251.9,320.7 252.4,321.8 252.9,323 253.3,324.3 253.8,325.6 254.3,327 254.7,328.5 255.2,330 255.6,331.7 256.1,333.5 256.6,335.5 257,337.7 257.5,340.3 258,343.3 258.4,346.5 258.9,350 259.4,353.6 259.8,357.3 260.3,361.3 260.8,365.7 261.2,370.3 261.7,375.1 262.2,379.8 262.6,384.3 263.1,388.7 263.6,393.3 264,397.8 264.5,402.2 265,406.3 265.4,410.1 265.9,413.4 266.4,416.5 266.8,419.4 267.3,422.2 267.8,424.7 268.2,427.2 268.7,429.5 269.2,431.6 269.6,433.7 270.1,435.6 270.6,437.4 271,439.1 271.5,440.7 272,442.2 272.4,443.7 272.9,445 273.3,446.3 273.8,447.5 274.3,448.6 274.7,449.6 275.2,450.5 275.7,451.4 276.1,452.2 276.6,452.9 277.1,453.6 277.5,454.3 278,454.9 278.5,455.5 278.9,456.1 279.4,456.6 279.9,457.2 280.3,457.6 280.8,458.1 281.3,458.5 281.7,459 282.2,459.4 282.7,459.7 283.1,460.1 283.6,460.4 284.1,460.7 284.5,460.9 285,461.2 285.5,461.4 285.9,461.6 286.4,461.8 286.9,461.9 287.3,462.1 287.8,462.2 288.3,462.3 288.7,462.5 289.2,462.5 289.7,462.6 290.1,462.7 290.6,462.7 291,462.8 291.5,462.8 292,462.9 292.4,462.9 292.9,463 293.4,463 293.8,463 294.3,463.1 294.8,463.1 295.2,463.2 295.7,463.2 296.2,463.2 296.6,463.3 297.1,463.3 297.6,463.3 298,463.4 298.5,463.4 299,463.4 299.4,463.5 299.9,463.5 300.4,463.5 300.8,463.5 301.3,463.5 301.8,463.5 302.2,463.6 302.7,463.6 303.2,463.6 303.6,463.6 304.1,463.6" fill="none" stroke="#f06060" stroke-width="0.7"/>
<circle cx="211.4" cy="303.6" r="1.85" fill="#dc0a0a"/>
<circle cx="214.4" cy="304" r="1.85" fill="#dc0a0a"/>
<circle cx="217.4" cy="304.5" r="1.85" fill="#dc0a0a"/>
<circle cx="220.4" cy="305" r="1.85" fill="#dc0a0a"/>
<circle cx="223.4" cy="305.5" r="1.85" fill="#dc0a0a"/>
<circle cx="226.4" cy="306.1" r="1.85" fill="#dc0a0a"/>
<circle cx="229.3" cy="306.6" r="1.85" fill="#dc0a0a"/>
<circle cx="232.3" cy="307.2" r="1.85" fill="#dc0a0a"/>
<circle cx="235.3" cy="307.9" r="1.85" fill="#dc0a0a"/>
<circle cx="238.3" cy="308.7" r="1.85" fill="#dc0a0a"/>
<circle cx="241.3" cy="310" r="1.85" fill="#dc0a0a"/>
<circle cx="244.3" cy="311.8" r="1.85" fill="#dc0a0a"/>
<circle cx="247.3" cy="313.4" r="1.85" fill="#dc0a0a"/>
<circle cx="250.3" cy="317.3" r="1.85" fill="#dc0a0a"/>
<circle cx="253.3" cy="324.1" r="1.85" fill="#dc0a0a"/>
<circle cx="256.2" cy="334.1" r="1.85" fill="#dc0a0a"/>
<circle cx="259.2" cy="352.6" r="1.85" fill="#dc0a0a"/>
<circle cx="262.2" cy="380.4" r="1.85" fill="#dc0a0a"/>
<circle cx="265.2" cy="408.4" r="1.85" fill="#dc0a0a"/>
<circle cx="268.2" cy="427.1" r="1.85" fill="#dc0a0a"/>
<circle cx="271.2" cy="439.8" r="1.85" fill="#dc0a0a"/>
<circle cx="274.2" cy="448.4" r="1.85" fill="#dc0a0a"/>
<circle cx="277.2" cy="453.8" r="1.85" fill="#dc0a0a"/>
<circle cx="280.2" cy="457.5" r="1.85" fill="#dc0a0a"/>
<circle cx="283.2" cy="460.1" r="1.85" fill="#dc0a0a"/>
<circle cx="286.2" cy="461.7" r="1.85" fill="#dc0a0a"/>
<circle cx="289.1" cy="462.5" r="1.85" fill="#dc0a0a"/>
<circle cx="292.1" cy="462.9" r="1.85" fill="#dc0a0a"/>
<circle cx="295.1" cy="463.2" r="1.85" fill="#dc0a0a"/>
<circle cx="298.1" cy="463.4" r="1.85" fill="#dc0a0a"/>
<circle cx="301.1" cy="463.5" r="1.85" fill="#dc0a0a"/>
<circle cx="304.1" cy="463.6" r="1.85" fill="#dc0a0a"/>
<rect x="198.6" y="263.7" width="141.7" height="262.2" fill="none" stroke="#505050" stroke-width="1.3"/>
<line x1="195.2" y1="525.7" x2="198.6" y2="525.7" stroke="#505050" stroke-width="1.1"/>
<text x="193.9" y="528.3" font-size="9.8" text-anchor="end" fill="#222" font-family='"Liberation Sans", sans-serif' stroke="#222" stroke-width="0.22" >15</text>
<line x1="196.8" y1="516" x2="198.6" y2="516" stroke="#505050" stroke-width="1.1"/>
<line x1="195.2" y1="506.3" x2="198.6" y2="506.3" stroke="#505050" stroke-width="1.1"/>
<text x="193.9" y="508.9" font-size="9.8" text-anchor="end" fill="#222" font-family='"Liberation Sans", sans-serif' stroke="#222" stroke-width="0.22" >20</text>
<line x1="196.8" y1="496.6" x2="198.6" y2="496.6" stroke="#505050" stroke-width="1.1"/>
<line x1="195.2" y1="487" x2="198.6" y2="487" stroke="#505050" stroke-width="1.1"/>
<text x="193.9" y="489.6" font-size="9.8" text-anchor="end" fill="#222" font-family='"Liberation Sans", sans-serif' stroke="#222" stroke-width="0.22" >25</text>
<line x1="196.8" y1="477.3" x2="198.6" y2="477.3" stroke="#505050" stroke-width="1.1"/>
<line x1="195.2" y1="467.6" x2="198.6" y2="467.6" stroke="#505050" stroke-width="1.1"/>
<text x="193.9" y="470.2" font-size="9.8" text-anchor="end" fill="#222" font-family='"Liberation Sans", sans-serif' stroke="#222" stroke-width="0.22" >30</text>
<line x1="196.8" y1="457.9" x2="198.6" y2="457.9" stroke="#505050" stroke-width="1.1"/>
<line x1="195.2" y1="448.2" x2="198.6" y2="448.2" stroke="#505050" stroke-width="1.1"/>
<text x="193.9" y="450.8" font-size="9.8" text-anchor="end" fill="#222" font-family='"Liberation Sans", sans-serif' stroke="#222" stroke-width="0.22" >35</text>
<line x1="196.8" y1="438.6" x2="198.6" y2="438.6" stroke="#505050" stroke-width="1.1"/>
<line x1="195.2" y1="428.9" x2="198.6" y2="428.9" stroke="#505050" stroke-width="1.1"/>
<text x="193.9" y="431.5" font-size="9.8" text-anchor="end" fill="#222" font-family='"Liberation Sans", sans-serif' stroke="#222" stroke-width="0.22" >40</text>
<line x1="196.8" y1="419.2" x2="198.6" y2="419.2" stroke="#505050" stroke-width="1.1"/>
<line x1="195.2" y1="409.5" x2="198.6" y2="409.5" stroke="#505050" stroke-width="1.1"/>
<text x="193.9" y="412.1" font-size="9.8" text-anchor="end" fill="#222" font-family='"Liberation Sans", sans-serif' stroke="#222" stroke-width="0.22" >45</text>
<line x1="196.8" y1="399.8" x2="198.6" y2="399.8" stroke="#505050" stroke-width="1.1"/>
<line x1="195.2" y1="390.2" x2="198.6" y2="390.2" stroke="#505050" stroke-width="1.1"/>
<text x="193.9" y="392.8" font-size="9.8" text-anchor="end" fill="#222" font-family='"Liberation Sans", sans-serif' stroke="#222" stroke-width="0.22" >50</text>
<line x1="196.8" y1="380.5" x2="198.6" y2="380.5" stroke="#505050" stroke-width="1.1"/>
<line x1="195.2" y1="370.8" x2="198.6" y2="370.8" stroke="#505050" stroke-width="1.1"/>
<text x="193.9" y="373.4" font-size="9.8" text-anchor="end" fill="#222" font-family='"Liberation Sans", sans-serif' stroke="#222" stroke-width="0.22" >55</text>
<line x1="196.8" y1="361.1" x2="198.6" y2="361.1" stroke="#505050" stroke-width="1.1"/>
<line x1="195.2" y1="351.4" x2="198.6" y2="351.4" stroke="#505050" stroke-width="1.1"/>
<text x="193.9" y="354" font-size="9.8" text-anchor="end" fill="#222" font-family='"Liberation Sans", sans-serif' stroke="#222" stroke-width="0.22" >60</text>
<line x1="196.8" y1="341.8" x2="198.6" y2="341.8" stroke="#505050" stroke-width="1.1"/>
<line x1="195.2" y1="332.1" x2="198.6" y2="332.1" stroke="#505050" stroke-width="1.1"/>
<text x="193.9" y="334.7" font-size="9.8" text-anchor="end" fill="#222" font-family='"Liberation Sans", sans-serif' stroke="#222" stroke-width="0.22" >65</text>
<line x1="196.8" y1="322.4" x2="198.6" y2="322.4" stroke="#505050" stroke-width="1.1"/>
<line x1="195.2" y1="312.7" x2="198.6" y2="312.7" stroke="#505050" stroke-width="1.1"/>
<text x="193.9" y="315.3" font-size="9.8" text-anchor="end" fill="#222" font-family='"Liberation Sans", sans-serif' stroke="#222" stroke-width="0.22" >70</text>
<line x1="196.8" y1="303" x2="198.6" y2="303" stroke="#505050" stroke-width="1.1"/>
<line x1="195.2" y1="293.4" x2="198.6" y2="293.4" stroke="#505050" stroke-width="1.1"/>
<text x="193.9" y="296" font-size="9.8" text-anchor="end" fill="#222" font-family='"Liberation Sans", sans-serif' stroke="#222" stroke-width="0.22" >75</text>
<line x1="196.8" y1="283.7" x2="198.6" y2="283.7" stroke="#505050" stroke-width="1.1"/>
<line x1="195.2" y1="274" x2="198.6" y2="274" stroke="#505050" stroke-width="1.1"/>
<text x="193.9" y="276.6" font-size="9.8" text-anchor="end" fill="#222" font-family='"Liberation Sans", sans-serif' stroke="#222" stroke-width="0.22" >80</text>
<line x1="205.8" y1="525.9" x2="205.8" y2="528.7" stroke="#505050" stroke-width="1.1"/>
<text x="205.8" y="538.4" font-size="9.8" text-anchor="middle" fill="#222" font-family='"Liberation Sans", sans-serif' stroke="#222" stroke-width="0.22" >20</text>
<line x1="220.8" y1="525.9" x2="220.8" y2="527.5" stroke="#505050" stroke-width="1.1"/>
<line x1="235.7" y1="525.9" x2="235.7" y2="528.7" stroke="#505050" stroke-width="1.1"/>
<text x="235.7" y="538.4" font-size="9.8" text-anchor="middle" fill="#222" font-family='"Liberation Sans", sans-serif' stroke="#222" stroke-width="0.22" >40</text>
<line x1="250.7" y1="525.9" x2="250.7" y2="527.5" stroke="#505050" stroke-width="1.1"/>
<line x1="265.6" y1="525.9" x2="265.6" y2="528.7" stroke="#505050" stroke-width="1.1"/>
<text x="265.6" y="538.4" font-size="9.8" text-anchor="middle" fill="#222" font-family='"Liberation Sans", sans-serif' stroke="#222" stroke-width="0.22" >60</text>
<line x1="280.6" y1="525.9" x2="280.6" y2="527.5" stroke="#505050" stroke-width="1.1"/>
<line x1="295.5" y1="525.9" x2="295.5" y2="528.7" stroke="#505050" stroke-width="1.1"/>
<text x="295.5" y="538.4" font-size="9.8" text-anchor="middle" fill="#222" font-family='"Liberation Sans", sans-serif' stroke="#222" stroke-width="0.22" >80</text>
<line x1="310.5" y1="525.9" x2="310.5" y2="527.5" stroke="#505050" stroke-width="1.1"/>
<line x1="325.4" y1="525.9" x2="325.4" y2="528.7" stroke="#505050" stroke-width="1.1"/>
<text x="325.4" y="538.4" font-size="9.8" text-anchor="middle" fill="#222" font-family='"Liberation Sans", sans-serif' stroke="#222" stroke-width="0.22" >100</text>
<text x="255.5" y="548.4" font-size="11" fill="#1a1a1a" stroke="#1a1a1a" stroke-width="0.22" font-family='"Liberation Sans", sans-serif'>T</text>
<text x="262.6" y="548.9" font-size="11.2" fill="#333" stroke="#333" stroke-width="0.15" font-family='"Liberation Sans", sans-serif'>(</text>
<circle cx="268.3" cy="541.1" r="1" fill="none" stroke="#333" stroke-width="0.6"/>
<path d="M275.14 541.79 A3.58 3.96 0 1 0 275.14 547.09" fill="none" stroke="#333" stroke-width="0.9"/>
<text x="277.6" y="548.9" font-size="11.2" fill="#333" stroke="#333" stroke-width="0.15" font-family='"Liberation Sans", sans-serif'>)</text>
<text x="199.7" y="281.3" font-size="23" text-anchor="start" fill="#000" font-family='"Liberation Sans", sans-serif' stroke="#000" stroke-width="0.22" >(d)</text>
<line x1="266.6" y1="270.4" x2="284.6" y2="270.4" stroke="#404040" stroke-width="0.7"/>
<rect x="272.8" y="267.7" width="5.4" height="5.4" fill="#000"/>
<text x="287.5" y="273.4" font-size="8.3" text-anchor="start" fill="#151515" font-family='"Liberation Sans", sans-serif' stroke="#151515" stroke-width="0.22" >W-1%-470</text>
<line x1="266.6" y1="280.3" x2="284.6" y2="280.3" stroke="#f06060" stroke-width="0.7"/>
<circle cx="275.5" cy="280.3" r="3.2" fill="#ff0000"/>
<text x="287.5" y="283.3" font-size="8.3" text-anchor="start" fill="#151515" font-family='"Liberation Sans", sans-serif' stroke="#151515" stroke-width="0.22" >W-1%-500</text>
<path d="M264.9 376.7 L268.5 369.1 L272.1 376.7 Z" fill="none" stroke="#111" stroke-width="0.9" stroke-linejoin="miter"/>
<text x="273.4" y="377" font-size="15.3" text-anchor="start" fill="#111" font-family='"Liberation Sans", sans-serif' stroke="#111" stroke-width="0.35" >Tr=29.2%</text>
<path d="M252.9 487.7 L256.5 480.1 L260.1 487.7 Z" fill="none" stroke="#d42020" stroke-width="0.9" stroke-linejoin="miter"/>
<text x="261.4" y="488" font-size="15.3" text-anchor="start" fill="#d42020" font-family='"Liberation Sans", sans-serif' stroke="#d42020" stroke-width="0.35" >Tr=42.5%</text>
<polyline points="377.6,330.8 378.1,331.9 378.6,333 379.1,334.1 379.6,335.3 380.2,336.4 380.7,337.6 381.2,338.7 381.7,339.9 382.2,341 382.7,342.2 383.2,343.4 383.7,344.7 384.2,346.1 384.8,347.7 385.3,349.4 385.8,351.1 386.3,353 386.8,354.7 387.3,356.5 387.8,358.4 388.3,360.2 388.8,362 389.3,363.7 389.9,365.3 390.4,366.7 390.9,368.1 391.4,369.4 391.9,370.7 392.4,372 392.9,373.4 393.4,374.7 393.9,376.1 394.5,377.5 395,378.8 395.5,380.1 396,381.2 396.5,382.3 397,383.4 397.5,384.5 398,385.5 398.5,386.4 399.1,387.4 399.6,388.4 400.1,389.3 400.6,390.2 401.1,391.1 401.6,391.9 402.1,392.7 402.6,393.4 403.1,394.1 403.7,394.8 404.2,395.5 404.7,396.2 405.2,396.8 405.7,397.5 406.2,398.2 406.7,398.8 407.2,399.4 407.7,399.8 408.3,400.1 408.8,400.4 409.3,400.7 409.8,401 410.3,401.3 410.8,401.5 411.3,401.8 411.8,402.1 412.3,402.4 412.8,402.7 413.4,403 413.9,403.3 414.4,403.5 414.9,403.8 415.4,404 415.9,404.1 416.4,404.3 416.9,404.5 417.4,404.6 418,404.7 418.5,404.9 419,405 419.5,405.1 420,405.2 420.5,405.4 421,405.5 421.5,405.6 422,405.7 422.6,405.7 423.1,405.8 423.6,405.9 424.1,406 424.6,406 425.1,406.1 425.6,406.2 426.1,406.3 426.6,406.3 427.2,406.4 427.7,406.5 428.2,406.5 428.7,406.6 429.2,406.7 429.7,406.7 430.2,406.8 430.7,406.8 431.2,406.9 431.8,406.9 432.3,407 432.8,407 433.3,407.1 433.8,407.1 434.3,407.2 434.8,407.2 435.3,407.3 435.8,407.3 436.3,407.3 436.9,407.4 437.4,407.4 437.9,407.4 438.4,407.4 438.9,407.5 439.4,407.5 439.9,407.5 440.4,407.5 440.9,407.5 441.5,407.5 442,407.5 442.5,407.6 443,407.6 443.5,407.6 444,407.6 444.5,407.6 445,407.6 445.5,407.6 446.1,407.6 446.6,407.6 447.1,407.7 447.6,407.7 448.1,407.7 448.6,407.7 449.1,407.7 449.6,407.7 450.1,407.7 450.7,407.7 451.2,407.7 451.7,407.7 452.2,407.8 452.7,407.8 453.2,407.8 453.7,407.8 454.2,407.8 454.7,407.8 455.2,407.8 455.8,407.8 456.3,407.8 456.8,407.8 457.3,407.8 457.8,407.8 458.3,407.9 458.8,407.9 459.3,407.9 459.8,407.9 460.4,407.9 460.9,407.9 461.4,407.9 461.9,407.9 462.4,407.9 462.9,407.9 463.4,407.9 463.9,407.9 464.4,407.9 465,407.9 465.5,407.9 466,407.9 466.5,407.9 467,407.9 467.5,408 468,408 468.5,408 469,408 469.6,408 470.1,408 470.6,408 471.1,408 471.6,408 472.1,408 472.6,408 473.1,408 473.6,408 474.2,408 474.7,408 475.2,408 475.7,408 476.2,408 476.7,408 477.2,408 477.7,408 478.2,408 478.7,408 479.3,408" fill="none" stroke="#505050" stroke-width="0.7"/>
<rect x="376" y="329.2" width="3.2" height="3.2" fill="#000000"/>
<rect x="379" y="335.8" width="3.2" height="3.2" fill="#000000"/>
<rect x="382" y="342.7" width="3.2" height="3.2" fill="#000000"/>
<rect x="385" y="352.4" width="3.2" height="3.2" fill="#000000"/>
<rect x="388" y="362.8" width="3.2" height="3.2" fill="#000000"/>
<rect x="390.9" y="370.8" width="3.2" height="3.2" fill="#000000"/>
<rect x="393.9" y="378.6" width="3.2" height="3.2" fill="#000000"/>
<rect x="396.9" y="384.8" width="3.2" height="3.2" fill="#000000"/>
<rect x="399.9" y="390.2" width="3.2" height="3.2" fill="#000000"/>
<rect x="402.9" y="394.4" width="3.2" height="3.2" fill="#000000"/>
<rect x="405.9" y="398" width="3.2" height="3.2" fill="#000000"/>
<rect x="408.9" y="399.8" width="3.2" height="3.2" fill="#000000"/>
<rect x="411.9" y="401.4" width="3.2" height="3.2" fill="#000000"/>
<rect x="414.9" y="402.7" width="3.2" height="3.2" fill="#000000"/>
<rect x="417.9" y="403.5" width="3.2" height="3.2" fill="#000000"/>
<rect x="420.9" y="404.1" width="3.2" height="3.2" fill="#000000"/>
<rect x="423.8" y="404.6" width="3.2" height="3.2" fill="#000000"/>
<rect x="426.8" y="405" width="3.2" height="3.2" fill="#000000"/>
<rect x="429.8" y="405.3" width="3.2" height="3.2" fill="#000000"/>
<rect x="432.8" y="405.6" width="3.2" height="3.2" fill="#000000"/>
<rect x="435.8" y="405.8" width="3.2" height="3.2" fill="#000000"/>
<rect x="438.8" y="405.9" width="3.2" height="3.2" fill="#000000"/>
<rect x="441.8" y="406" width="3.2" height="3.2" fill="#000000"/>
<rect x="444.8" y="406" width="3.2" height="3.2" fill="#000000"/>
<rect x="447.8" y="406.1" width="3.2" height="3.2" fill="#000000"/>
<rect x="450.8" y="406.2" width="3.2" height="3.2" fill="#000000"/>
<rect x="453.7" y="406.2" width="3.2" height="3.2" fill="#000000"/>
<rect x="456.7" y="406.3" width="3.2" height="3.2" fill="#000000"/>
<rect x="459.7" y="406.3" width="3.2" height="3.2" fill="#000000"/>
<rect x="462.7" y="406.3" width="3.2" height="3.2" fill="#000000"/>
<rect x="465.7" y="406.3" width="3.2" height="3.2" fill="#000000"/>
<rect x="468.7" y="406.4" width="3.2" height="3.2" fill="#000000"/>
<rect x="471.7" y="406.4" width="3.2" height="3.2" fill="#000000"/>
<rect x="474.7" y="406.4" width="3.2" height="3.2" fill="#000000"/>
<rect x="477.7" y="406.4" width="3.2" height="3.2" fill="#000000"/>
<polyline points="377.6,313.8 378.1,313.8 378.6,313.9 379.1,314 379.6,314 380.2,314.1 380.7,314.2 381.2,314.3 381.7,314.4 382.2,314.5 382.7,314.7 383.2,314.9 383.7,315.1 384.2,315.3 384.8,315.5 385.3,315.8 385.8,316.1 386.3,316.5 386.8,316.9 387.3,317.4 387.8,318 388.3,318.6 388.8,319.3 389.3,320 389.9,320.6 390.4,321.2 390.9,321.7 391.4,322.3 391.9,322.8 392.4,323.4 392.9,324 393.4,324.7 393.9,325.4 394.5,326.2 395,327 395.5,327.9 396,328.7 396.5,329.6 397,330.6 397.5,331.6 398,332.6 398.5,333.7 399.1,334.8 399.6,335.9 400.1,337.1 400.6,338.3 401.1,339.6 401.6,340.8 402.1,342 402.6,343.2 403.1,344.4 403.7,345.6 404.2,346.9 404.7,348.2 405.2,349.7 405.7,351.2 406.2,352.8 406.7,354.4 407.2,356 407.7,357.5 408.3,358.9 408.8,360.3 409.3,361.7 409.8,363 410.3,364.4 410.8,365.9 411.3,367.4 411.8,369 412.3,370.6 412.8,372.1 413.4,373.5 413.9,374.7 414.4,375.9 414.9,377 415.4,378.1 415.9,379.2 416.4,380.4 416.9,381.6 417.4,382.9 418,384.3 418.5,385.6 419,386.8 419.5,387.9 420,388.9 420.5,389.8 421,390.7 421.5,391.5 422,392.3 422.6,392.9 423.1,393.5 423.6,394.1 424.1,394.6 424.6,395.1 425.1,395.7 425.6,396.3 426.1,396.9 426.6,397.5 427.2,398.1 427.7,398.6 428.2,399.2 428.7,399.7 429.2,400.1 429.7,400.6 430.2,401.1 430.7,401.5 431.2,401.9 431.8,402.2 432.3,402.5 432.8,402.8 433.3,403 433.8,403.3 434.3,403.5 434.8,403.7 435.3,403.9 435.8,404.1 436.3,404.3 436.9,404.5 437.4,404.7 437.9,404.9 438.4,405.1 438.9,405.2 439.4,405.4 439.9,405.5 440.4,405.7 440.9,405.8 441.5,405.9 442,406 442.5,406.1 443,406.2 443.5,406.3 444,406.4 444.5,406.5 445,406.5 445.5,406.5 446.1,406.6 446.6,406.6 447.1,406.7 447.6,406.7 448.1,406.8 448.6,406.8 449.1,406.8 449.6,406.9 450.1,406.9 450.7,406.9 451.2,407 451.7,407 452.2,407.1 452.7,407.1 453.2,407.1 453.7,407.2 454.2,407.2 454.7,407.2 455.2,407.2 455.8,407.3 456.3,407.3 456.8,407.3 457.3,407.4 457.8,407.4 458.3,407.4 458.8,407.4 459.3,407.5 459.8,407.5 460.4,407.5 460.9,407.6 461.4,407.6 461.9,407.6 462.4,407.6 462.9,407.6 463.4,407.7 463.9,407.7 464.4,407.7 465,407.7 465.5,407.7 466,407.8 466.5,407.8 467,407.8 467.5,407.8 468,407.8 468.5,407.8 469,407.9 469.6,407.9 470.1,407.9 470.6,407.9 471.1,407.9 471.6,407.9 472.1,407.9 472.6,407.9 473.1,407.9 473.6,408 474.2,408 474.7,408 475.2,408 475.7,408 476.2,408 476.7,408 477.2,408 477.7,408 478.2,408 478.7,408 479.3,408" fill="none" stroke="#505050" stroke-width="0.7"/>
<rect x="376" y="312.2" width="3.2" height="3.2" fill="#000000"/>
<rect x="379" y="312.6" width="3.2" height="3.2" fill="#000000"/>
<rect x="382" y="313.4" width="3.2" height="3.2" fill="#000000"/>
<rect x="385" y="315.1" width="3.2" height="3.2" fill="#000000"/>
<rect x="388" y="318.7" width="3.2" height="3.2" fill="#000000"/>
<rect x="390.9" y="322" width="3.2" height="3.2" fill="#000000"/>
<rect x="393.9" y="326.4" width="3.2" height="3.2" fill="#000000"/>
<rect x="396.9" y="332" width="3.2" height="3.2" fill="#000000"/>
<rect x="399.9" y="339" width="3.2" height="3.2" fill="#000000"/>
<rect x="402.9" y="346.2" width="3.2" height="3.2" fill="#000000"/>
<rect x="405.9" y="355.2" width="3.2" height="3.2" fill="#000000"/>
<rect x="408.9" y="363.4" width="3.2" height="3.2" fill="#000000"/>
<rect x="411.9" y="372.2" width="3.2" height="3.2" fill="#000000"/>
<rect x="414.9" y="378.9" width="3.2" height="3.2" fill="#000000"/>
<rect x="417.9" y="386.2" width="3.2" height="3.2" fill="#000000"/>
<rect x="420.9" y="391.2" width="3.2" height="3.2" fill="#000000"/>
<rect x="423.8" y="394.5" width="3.2" height="3.2" fill="#000000"/>
<rect x="426.8" y="397.8" width="3.2" height="3.2" fill="#000000"/>
<rect x="429.8" y="400.4" width="3.2" height="3.2" fill="#000000"/>
<rect x="432.8" y="401.9" width="3.2" height="3.2" fill="#000000"/>
<rect x="435.8" y="403.1" width="3.2" height="3.2" fill="#000000"/>
<rect x="438.8" y="404.1" width="3.2" height="3.2" fill="#000000"/>
<rect x="441.8" y="404.7" width="3.2" height="3.2" fill="#000000"/>
<rect x="444.8" y="405" width="3.2" height="3.2" fill="#000000"/>
<rect x="447.8" y="405.2" width="3.2" height="3.2" fill="#000000"/>
<rect x="450.8" y="405.5" width="3.2" height="3.2" fill="#000000"/>
<rect x="453.7" y="405.7" width="3.2" height="3.2" fill="#000000"/>
<rect x="456.7" y="405.8" width="3.2" height="3.2" fill="#000000"/>
<rect x="459.7" y="406" width="3.2" height="3.2" fill="#000000"/>
<rect x="462.7" y="406.1" width="3.2" height="3.2" fill="#000000"/>
<rect x="465.7" y="406.2" width="3.2" height="3.2" fill="#000000"/>
<rect x="468.7" y="406.3" width="3.2" height="3.2" fill="#000000"/>
<rect x="471.7" y="406.3" width="3.2" height="3.2" fill="#000000"/>
<rect x="474.7" y="406.4" width="3.2" height="3.2" fill="#000000"/>
<rect x="477.7" y="406.4" width="3.2" height="3.2" fill="#000000"/>
<polyline points="377.6,336.5 378.1,337.3 378.6,338.3 379.1,339.3 379.6,340.4 380.1,341.6 380.6,342.9 381.1,344.3 381.6,345.7 382.1,347.3 382.6,349 383.1,350.8 383.5,352.8 384,354.9 384.5,357.2 385,359.7 385.5,362.5 386,365.5 386.5,368.6 387,371.7 387.5,374.9 388,378.3 388.5,381.7 389,385.3 389.5,388.9 390,392.6 390.5,396.3 391,400.2 391.5,404.1 392,408 392.5,411.9 393,415.8 393.5,419.8 394,423.7 394.5,427.7 395,431.7 395.4,435.6 395.9,439.6 396.4,443.6 396.9,447.8 397.4,452 397.9,456 398.4,459.7 398.9,463.1 399.4,466.3 399.9,469.2 400.4,472 400.9,474.7 401.4,477.2 401.9,479.5 402.4,481.7 402.9,483.8 403.4,485.7 403.9,487.6 404.4,489.3 404.9,490.9 405.4,492.4 405.9,493.8 406.4,495.1 406.9,496.3 407.3,497.4 407.8,498.4 408.3,499.3 408.8,500.2 409.3,501 409.8,501.8 410.3,502.5 410.8,503.1 411.3,503.8 411.8,504.4 412.3,504.9 412.8,505.4 413.3,505.9 413.8,506.3 414.3,506.6 414.8,507 415.3,507.3 415.8,507.6 416.3,507.9 416.8,508.2 417.3,508.4 417.8,508.7 418.3,508.9 418.8,509.1 419.2,509.3 419.7,509.4 420.2,509.6 420.7,509.7 421.2,509.9 421.7,510 422.2,510.1 422.7,510.3 423.2,510.4 423.7,510.5 424.2,510.6 424.7,510.8 425.2,510.9 425.7,511 426.2,511.1 426.7,511.1 427.2,511.2 427.7,511.3 428.2,511.3 428.7,511.4 429.2,511.4 429.7,511.5 430.2,511.5 430.7,511.5 431.1,511.6 431.6,511.6 432.1,511.6 432.6,511.6 433.1,511.6 433.6,511.7 434.1,511.7 434.6,511.7 435.1,511.7 435.6,511.7 436.1,511.8 436.6,511.8 437.1,511.8 437.6,511.8 438.1,511.8 438.6,511.9 439.1,511.9 439.6,511.9 440.1,511.9 440.6,511.9 441.1,511.9 441.6,512 442.1,512 442.6,512 443,512 443.5,512 444,512 444.5,512 445,512.1 445.5,512.1 446,512.1 446.5,512.1 447,512.1 447.5,512.1 448,512.1 448.5,512.2 449,512.2 449.5,512.2 450,512.2 450.5,512.2 451,512.2 451.5,512.2 452,512.2 452.5,512.2 453,512.3 453.5,512.3 454,512.3 454.5,512.3 454.9,512.3 455.4,512.3 455.9,512.3 456.4,512.3 456.9,512.3 457.4,512.3 457.9,512.3 458.4,512.4 458.9,512.4 459.4,512.4 459.9,512.4 460.4,512.4 460.9,512.4 461.4,512.4 461.9,512.4 462.4,512.4 462.9,512.4 463.4,512.4 463.9,512.4 464.4,512.4 464.9,512.4 465.4,512.4 465.9,512.4 466.4,512.5 466.8,512.5 467.3,512.5 467.8,512.5 468.3,512.5 468.8,512.5 469.3,512.5 469.8,512.5 470.3,512.5 470.8,512.5 471.3,512.5 471.8,512.5 472.3,512.5 472.8,512.5 473.3,512.5 473.8,512.5 474.3,512.5 474.8,512.5 475.3,512.5 475.8,512.5 476.3,512.5" fill="none" stroke="#f07070" stroke-width="0.7"/>
<circle cx="377.6" cy="336.5" r="1.85" fill="#dc0a0a"/>
<circle cx="380.6" cy="343" r="1.85" fill="#dc0a0a"/>
<circle cx="383.6" cy="352.9" r="1.85" fill="#dc0a0a"/>
<circle cx="386.6" cy="368.8" r="1.85" fill="#dc0a0a"/>
<circle cx="389.6" cy="389.4" r="1.85" fill="#dc0a0a"/>
<circle cx="392.6" cy="412.5" r="1.85" fill="#dc0a0a"/>
<circle cx="395.5" cy="436.3" r="1.85" fill="#dc0a0a"/>
<circle cx="398.5" cy="460.5" r="1.85" fill="#dc0a0a"/>
<circle cx="401.5" cy="477.7" r="1.85" fill="#dc0a0a"/>
<circle cx="404.5" cy="489.8" r="1.85" fill="#dc0a0a"/>
<circle cx="407.5" cy="497.7" r="1.85" fill="#dc0a0a"/>
<circle cx="410.5" cy="502.7" r="1.85" fill="#dc0a0a"/>
<circle cx="413.5" cy="506.1" r="1.85" fill="#dc0a0a"/>
<circle cx="416.5" cy="508" r="1.85" fill="#dc0a0a"/>
<circle cx="419.5" cy="509.3" r="1.85" fill="#dc0a0a"/>
<circle cx="422.5" cy="510.2" r="1.85" fill="#dc0a0a"/>
<circle cx="425.4" cy="510.9" r="1.85" fill="#dc0a0a"/>
<circle cx="428.4" cy="511.4" r="1.85" fill="#dc0a0a"/>
<circle cx="431.4" cy="511.6" r="1.85" fill="#dc0a0a"/>
<circle cx="434.4" cy="511.7" r="1.85" fill="#dc0a0a"/>
<circle cx="437.4" cy="511.8" r="1.85" fill="#dc0a0a"/>
<circle cx="440.4" cy="511.9" r="1.85" fill="#dc0a0a"/>
<circle cx="443.4" cy="512" r="1.85" fill="#dc0a0a"/>
<circle cx="446.4" cy="512.1" r="1.85" fill="#dc0a0a"/>
<circle cx="449.4" cy="512.2" r="1.85" fill="#dc0a0a"/>
<circle cx="452.4" cy="512.2" r="1.85" fill="#dc0a0a"/>
<circle cx="455.3" cy="512.3" r="1.85" fill="#dc0a0a"/>
<circle cx="458.3" cy="512.4" r="1.85" fill="#dc0a0a"/>
<circle cx="461.3" cy="512.4" r="1.85" fill="#dc0a0a"/>
<circle cx="464.3" cy="512.4" r="1.85" fill="#dc0a0a"/>
<circle cx="467.3" cy="512.5" r="1.85" fill="#dc0a0a"/>
<circle cx="470.3" cy="512.5" r="1.85" fill="#dc0a0a"/>
<circle cx="473.3" cy="512.5" r="1.85" fill="#dc0a0a"/>
<circle cx="476.3" cy="512.5" r="1.85" fill="#dc0a0a"/>
<polyline points="377.6,326.9 378.1,327 378.6,327.2 379.1,327.3 379.6,327.4 380.1,327.6 380.6,327.7 381.1,327.9 381.6,328 382.1,328.2 382.6,328.3 383.1,328.5 383.5,328.6 384,328.8 384.5,328.9 385,329.1 385.5,329.3 386,329.5 386.5,329.7 387,329.9 387.5,330.2 388,330.5 388.5,330.7 389,331 389.5,331.3 390,331.5 390.5,331.8 391,332 391.5,332.3 392,332.5 392.5,332.8 393,333 393.5,333.2 394,333.5 394.5,333.7 395,334 395.4,334.2 395.9,334.5 396.4,334.7 396.9,334.9 397.4,335.2 397.9,335.5 398.4,335.8 398.9,336.2 399.4,336.7 399.9,337.2 400.4,337.9 400.9,338.6 401.4,339.3 401.9,340 402.4,340.8 402.9,341.6 403.4,342.5 403.9,343.5 404.4,344.4 404.9,345.4 405.4,346.4 405.9,347.5 406.4,348.5 406.9,349.6 407.3,350.9 407.8,352.2 408.3,353.8 408.8,355.6 409.3,357.7 409.8,359.9 410.3,362.2 410.8,364.5 411.3,366.8 411.8,369.2 412.3,371.6 412.8,374.1 413.3,376.9 413.8,379.9 414.3,383.2 414.8,387.2 415.3,391.5 415.8,396.1 416.3,400.8 416.8,405.3 417.3,409.8 417.8,414.4 418.3,419.1 418.8,423.7 419.2,428.3 419.7,432.9 420.2,437.4 420.7,442.1 421.2,446.7 421.7,451.2 422.2,455.5 422.7,459.4 423.2,463 423.7,466.4 424.2,469.6 424.7,472.6 425.2,475.5 425.7,478.1 426.2,480.5 426.7,482.8 427.2,484.9 427.7,486.9 428.2,488.7 428.7,490.3 429.2,491.8 429.7,493.2 430.2,494.5 430.7,495.7 431.1,496.8 431.6,497.9 432.1,499 432.6,500 433.1,500.9 433.6,501.9 434.1,502.7 434.6,503.4 435.1,504.1 435.6,504.8 436.1,505.5 436.6,506 437.1,506.5 437.6,506.8 438.1,507.2 438.6,507.5 439.1,507.7 439.6,508 440.1,508.2 440.6,508.5 441.1,508.7 441.6,508.9 442.1,509.1 442.6,509.3 443,509.4 443.5,509.6 444,509.7 444.5,509.9 445,510 445.5,510.1 446,510.3 446.5,510.4 447,510.5 447.5,510.6 448,510.7 448.5,510.8 449,511 449.5,511.1 450,511.2 450.5,511.2 451,511.3 451.5,511.4 452,511.5 452.5,511.6 453,511.6 453.5,511.7 454,511.7 454.5,511.8 454.9,511.8 455.4,511.8 455.9,511.9 456.4,511.9 456.9,511.9 457.4,511.9 457.9,512 458.4,512 458.9,512 459.4,512 459.9,512.1 460.4,512.1 460.9,512.1 461.4,512.1 461.9,512.1 462.4,512.2 462.9,512.2 463.4,512.2 463.9,512.2 464.4,512.2 464.9,512.3 465.4,512.3 465.9,512.3 466.4,512.3 466.8,512.3 467.3,512.3 467.8,512.4 468.3,512.4 468.8,512.4 469.3,512.4 469.8,512.4 470.3,512.4 470.8,512.4 471.3,512.4 471.8,512.4 472.3,512.5 472.8,512.5 473.3,512.5 473.8,512.5 474.3,512.5 474.8,512.5 475.3,512.5 475.8,512.5 476.3,512.5" fill="none" stroke="#f07070" stroke-width="0.7"/>
<circle cx="377.6" cy="326.9" r="1.85" fill="#dc0a0a"/>
<circle cx="380.6" cy="327.7" r="1.85" fill="#dc0a0a"/>
<circle cx="383.6" cy="328.6" r="1.85" fill="#dc0a0a"/>
<circle cx="386.6" cy="329.7" r="1.85" fill="#dc0a0a"/>
<circle cx="389.6" cy="331.3" r="1.85" fill="#dc0a0a"/>
<circle cx="392.6" cy="332.8" r="1.85" fill="#dc0a0a"/>
<circle cx="395.5" cy="334.3" r="1.85" fill="#dc0a0a"/>
<circle cx="398.5" cy="335.9" r="1.85" fill="#dc0a0a"/>
<circle cx="401.5" cy="339.5" r="1.85" fill="#dc0a0a"/>
<circle cx="404.5" cy="344.7" r="1.85" fill="#dc0a0a"/>
<circle cx="407.5" cy="351.3" r="1.85" fill="#dc0a0a"/>
<circle cx="410.5" cy="363" r="1.85" fill="#dc0a0a"/>
<circle cx="413.5" cy="377.9" r="1.85" fill="#dc0a0a"/>
<circle cx="416.5" cy="402.6" r="1.85" fill="#dc0a0a"/>
<circle cx="419.5" cy="430.3" r="1.85" fill="#dc0a0a"/>
<circle cx="422.5" cy="457.3" r="1.85" fill="#dc0a0a"/>
<circle cx="425.4" cy="476.8" r="1.85" fill="#dc0a0a"/>
<circle cx="428.4" cy="489.6" r="1.85" fill="#dc0a0a"/>
<circle cx="431.4" cy="497.4" r="1.85" fill="#dc0a0a"/>
<circle cx="434.4" cy="503.1" r="1.85" fill="#dc0a0a"/>
<circle cx="437.4" cy="506.7" r="1.85" fill="#dc0a0a"/>
<circle cx="440.4" cy="508.4" r="1.85" fill="#dc0a0a"/>
<circle cx="443.4" cy="509.5" r="1.85" fill="#dc0a0a"/>
<circle cx="446.4" cy="510.3" r="1.85" fill="#dc0a0a"/>
<circle cx="449.4" cy="511" r="1.85" fill="#dc0a0a"/>
<circle cx="452.4" cy="511.5" r="1.85" fill="#dc0a0a"/>
<circle cx="455.3" cy="511.8" r="1.85" fill="#dc0a0a"/>
<circle cx="458.3" cy="512" r="1.85" fill="#dc0a0a"/>
<circle cx="461.3" cy="512.1" r="1.85" fill="#dc0a0a"/>
<circle cx="464.3" cy="512.2" r="1.85" fill="#dc0a0a"/>
<circle cx="467.3" cy="512.3" r="1.85" fill="#dc0a0a"/>
<circle cx="470.3" cy="512.4" r="1.85" fill="#dc0a0a"/>
<circle cx="473.3" cy="512.5" r="1.85" fill="#dc0a0a"/>
<circle cx="476.3" cy="512.5" r="1.85" fill="#dc0a0a"/>
<rect x="364.1" y="263.7" width="142.3" height="262.2" fill="none" stroke="#505050" stroke-width="1.3"/>
<line x1="360.7" y1="525.7" x2="364.1" y2="525.7" stroke="#505050" stroke-width="1.1"/>
<text x="359.4" y="528.3" font-size="9.8" text-anchor="end" fill="#222" font-family='"Liberation Sans", sans-serif' stroke="#222" stroke-width="0.22" >15</text>
<line x1="362.3" y1="516" x2="364.1" y2="516" stroke="#505050" stroke-width="1.1"/>
<line x1="360.7" y1="506.3" x2="364.1" y2="506.3" stroke="#505050" stroke-width="1.1"/>
<text x="359.4" y="508.9" font-size="9.8" text-anchor="end" fill="#222" font-family='"Liberation Sans", sans-serif' stroke="#222" stroke-width="0.22" >20</text>
<line x1="362.3" y1="496.6" x2="364.1" y2="496.6" stroke="#505050" stroke-width="1.1"/>
<line x1="360.7" y1="487" x2="364.1" y2="487" stroke="#505050" stroke-width="1.1"/>
<text x="359.4" y="489.6" font-size="9.8" text-anchor="end" fill="#222" font-family='"Liberation Sans", sans-serif' stroke="#222" stroke-width="0.22" >25</text>
<line x1="362.3" y1="477.3" x2="364.1" y2="477.3" stroke="#505050" stroke-width="1.1"/>
<line x1="360.7" y1="467.6" x2="364.1" y2="467.6" stroke="#505050" stroke-width="1.1"/>
<text x="359.4" y="470.2" font-size="9.8" text-anchor="end" fill="#222" font-family='"Liberation Sans", sans-serif' stroke="#222" stroke-width="0.22" >30</text>
<line x1="362.3" y1="457.9" x2="364.1" y2="457.9" stroke="#505050" stroke-width="1.1"/>
<line x1="360.7" y1="448.2" x2="364.1" y2="448.2" stroke="#505050" stroke-width="1.1"/>
<text x="359.4" y="450.8" font-size="9.8" text-anchor="end" fill="#222" font-family='"Liberation Sans", sans-serif' stroke="#222" stroke-width="0.22" >35</text>
<line x1="362.3" y1="438.6" x2="364.1" y2="438.6" stroke="#505050" stroke-width="1.1"/>
<line x1="360.7" y1="428.9" x2="364.1" y2="428.9" stroke="#505050" stroke-width="1.1"/>
<text x="359.4" y="431.5" font-size="9.8" text-anchor="end" fill="#222" font-family='"Liberation Sans", sans-serif' stroke="#222" stroke-width="0.22" >40</text>
<line x1="362.3" y1="419.2" x2="364.1" y2="419.2" stroke="#505050" stroke-width="1.1"/>
<line x1="360.7" y1="409.5" x2="364.1" y2="409.5" stroke="#505050" stroke-width="1.1"/>
<text x="359.4" y="412.1" font-size="9.8" text-anchor="end" fill="#222" font-family='"Liberation Sans", sans-serif' stroke="#222" stroke-width="0.22" >45</text>
<line x1="362.3" y1="399.8" x2="364.1" y2="399.8" stroke="#505050" stroke-width="1.1"/>
<line x1="360.7" y1="390.2" x2="364.1" y2="390.2" stroke="#505050" stroke-width="1.1"/>
<text x="359.4" y="392.8" font-size="9.8" text-anchor="end" fill="#222" font-family='"Liberation Sans", sans-serif' stroke="#222" stroke-width="0.22" >50</text>
<line x1="362.3" y1="380.5" x2="364.1" y2="380.5" stroke="#505050" stroke-width="1.1"/>
<line x1="360.7" y1="370.8" x2="364.1" y2="370.8" stroke="#505050" stroke-width="1.1"/>
<text x="359.4" y="373.4" font-size="9.8" text-anchor="end" fill="#222" font-family='"Liberation Sans", sans-serif' stroke="#222" stroke-width="0.22" >55</text>
<line x1="362.3" y1="361.1" x2="364.1" y2="361.1" stroke="#505050" stroke-width="1.1"/>
<line x1="360.7" y1="351.4" x2="364.1" y2="351.4" stroke="#505050" stroke-width="1.1"/>
<text x="359.4" y="354" font-size="9.8" text-anchor="end" fill="#222" font-family='"Liberation Sans", sans-serif' stroke="#222" stroke-width="0.22" >60</text>
<line x1="362.3" y1="341.8" x2="364.1" y2="341.8" stroke="#505050" stroke-width="1.1"/>
<line x1="360.7" y1="332.1" x2="364.1" y2="332.1" stroke="#505050" stroke-width="1.1"/>
<text x="359.4" y="334.7" font-size="9.8" text-anchor="end" fill="#222" font-family='"Liberation Sans", sans-serif' stroke="#222" stroke-width="0.22" >65</text>
<line x1="362.3" y1="322.4" x2="364.1" y2="322.4" stroke="#505050" stroke-width="1.1"/>
<line x1="360.7" y1="312.7" x2="364.1" y2="312.7" stroke="#505050" stroke-width="1.1"/>
<text x="359.4" y="315.3" font-size="9.8" text-anchor="end" fill="#222" font-family='"Liberation Sans", sans-serif' stroke="#222" stroke-width="0.22" >70</text>
<line x1="362.3" y1="303" x2="364.1" y2="303" stroke="#505050" stroke-width="1.1"/>
<line x1="360.7" y1="293.4" x2="364.1" y2="293.4" stroke="#505050" stroke-width="1.1"/>
<text x="359.4" y="296" font-size="9.8" text-anchor="end" fill="#222" font-family='"Liberation Sans", sans-serif' stroke="#222" stroke-width="0.22" >75</text>
<line x1="362.3" y1="283.7" x2="364.1" y2="283.7" stroke="#505050" stroke-width="1.1"/>
<line x1="360.7" y1="274" x2="364.1" y2="274" stroke="#505050" stroke-width="1.1"/>
<text x="359.4" y="276.6" font-size="9.8" text-anchor="end" fill="#222" font-family='"Liberation Sans", sans-serif' stroke="#222" stroke-width="0.22" >80</text>
<line x1="371.7" y1="525.9" x2="371.7" y2="528.7" stroke="#505050" stroke-width="1.1"/>
<text x="371.7" y="538.4" font-size="9.8" text-anchor="middle" fill="#222" font-family='"Liberation Sans", sans-serif' stroke="#222" stroke-width="0.22" >20</text>
<line x1="386.6" y1="525.9" x2="386.6" y2="527.5" stroke="#505050" stroke-width="1.1"/>
<line x1="401.6" y1="525.9" x2="401.6" y2="528.7" stroke="#505050" stroke-width="1.1"/>
<text x="401.6" y="538.4" font-size="9.8" text-anchor="middle" fill="#222" font-family='"Liberation Sans", sans-serif' stroke="#222" stroke-width="0.22" >40</text>
<line x1="416.6" y1="525.9" x2="416.6" y2="527.5" stroke="#505050" stroke-width="1.1"/>
<line x1="431.5" y1="525.9" x2="431.5" y2="528.7" stroke="#505050" stroke-width="1.1"/>
<text x="431.5" y="538.4" font-size="9.8" text-anchor="middle" fill="#222" font-family='"Liberation Sans", sans-serif' stroke="#222" stroke-width="0.22" >60</text>
<line x1="446.4" y1="525.9" x2="446.4" y2="527.5" stroke="#505050" stroke-width="1.1"/>
<line x1="461.4" y1="525.9" x2="461.4" y2="528.7" stroke="#505050" stroke-width="1.1"/>
<text x="461.4" y="538.4" font-size="9.8" text-anchor="middle" fill="#222" font-family='"Liberation Sans", sans-serif' stroke="#222" stroke-width="0.22" >80</text>
<line x1="476.4" y1="525.9" x2="476.4" y2="527.5" stroke="#505050" stroke-width="1.1"/>
<line x1="491.3" y1="525.9" x2="491.3" y2="528.7" stroke="#505050" stroke-width="1.1"/>
<text x="491.3" y="538.4" font-size="9.8" text-anchor="middle" fill="#222" font-family='"Liberation Sans", sans-serif' stroke="#222" stroke-width="0.22" >100</text>
<text x="421.4" y="548.4" font-size="11" fill="#1a1a1a" stroke="#1a1a1a" stroke-width="0.22" font-family='"Liberation Sans", sans-serif'>T</text>
<text x="428.4" y="548.9" font-size="11.2" fill="#333" stroke="#333" stroke-width="0.15" font-family='"Liberation Sans", sans-serif'>(</text>
<circle cx="434.1" cy="541.1" r="1" fill="none" stroke="#333" stroke-width="0.6"/>
<path d="M440.94 541.79 A3.58 3.96 0 1 0 440.94 547.09" fill="none" stroke="#333" stroke-width="0.9"/>
<text x="443.4" y="548.9" font-size="11.2" fill="#333" stroke="#333" stroke-width="0.15" font-family='"Liberation Sans", sans-serif'>)</text>
<text x="365.3" y="281.5" font-size="23" text-anchor="start" fill="#000" font-family='"Liberation Sans", sans-serif' stroke="#000" stroke-width="0.22" >(e)</text>
<line x1="424" y1="269.8" x2="442.3" y2="269.8" stroke="#505050" stroke-width="0.7"/>
<rect x="430.6" y="267.1" width="5.4" height="5.4" fill="#000"/>
<text x="445" y="272.8" font-size="8.3" text-anchor="start" fill="#151515" font-family='"Liberation Sans", sans-serif' stroke="#151515" stroke-width="0.22" >W-1.5%-470</text>
<line x1="424" y1="279.8" x2="442.3" y2="279.8" stroke="#f08080" stroke-width="0.7"/>
<circle cx="433.3" cy="279.8" r="3.2" fill="#ff0000"/>
<text x="445" y="282.8" font-size="8.3" text-anchor="start" fill="#151515" font-family='"Liberation Sans", sans-serif' stroke="#151515" stroke-width="0.22" >W-1.5%-500</text>
<path d="M427 387.3 L430.6 379.7 L434.2 387.3 Z" fill="none" stroke="#111" stroke-width="0.9" stroke-linejoin="miter"/>
<text x="435.2" y="387.6" font-size="15.3" text-anchor="start" fill="#111" font-family='"Liberation Sans", sans-serif' stroke="#111" stroke-width="0.35" >Tr=24.5%</text>
<path d="M436.6 499.9 L440.2 492.3 L443.8 499.9 Z" fill="none" stroke="#d42020" stroke-width="0.9" stroke-linejoin="miter"/>
<text x="443.9" y="500.2" font-size="15.3" text-anchor="start" fill="#d42020" font-family='"Liberation Sans", sans-serif' stroke="#d42020" stroke-width="0.35" >Tr=48%</text>
<polyline points="540.5,332.5 541,333.3 541.5,334.2 542,335 542.5,335.8 543,336.7 543.5,337.5 544,338.3 544.5,339.1 545,339.9 545.5,340.8 546,341.6 546.4,342.5 546.9,343.5 547.4,344.4 547.9,345.5 548.4,346.5 548.9,347.6 549.4,348.6 549.9,349.7 550.4,350.8 550.9,351.9 551.4,353 551.9,354.1 552.4,355.2 552.9,356.3 553.4,357.4 553.9,358.5 554.4,359.6 554.9,360.6 555.4,361.7 555.9,362.6 556.4,363.6 556.9,364.5 557.4,365.4 557.9,366.3 558.3,367.2 558.8,368 559.3,368.8 559.8,369.7 560.3,370.4 560.8,371.2 561.3,372 561.8,372.7 562.3,373.5 562.8,374.2 563.3,374.9 563.8,375.6 564.3,376.3 564.8,376.9 565.3,377.5 565.8,378 566.3,378.5 566.8,379.1 567.3,379.5 567.8,380 568.3,380.4 568.8,380.9 569.3,381.3 569.8,381.7 570.2,382 570.7,382.4 571.2,382.7 571.7,382.9 572.2,383.2 572.7,383.4 573.2,383.7 573.7,383.9 574.2,384.1 574.7,384.4 575.2,384.6 575.7,384.8 576.2,385 576.7,385.1 577.2,385.3 577.7,385.5 578.2,385.6 578.7,385.7 579.2,385.8 579.7,385.9 580.2,386 580.7,386.1 581.2,386.2 581.7,386.3 582.1,386.4 582.6,386.4 583.1,386.5 583.6,386.6 584.1,386.7 584.6,386.7 585.1,386.8 585.6,386.9 586.1,386.9 586.6,387 587.1,387.1 587.6,387.1 588.1,387.2 588.6,387.2 589.1,387.3 589.6,387.3 590.1,387.4 590.6,387.4 591.1,387.5 591.6,387.5 592.1,387.6 592.6,387.6 593.1,387.7 593.6,387.7 594,387.7 594.5,387.8 595,387.8 595.5,387.8 596,387.9 596.5,387.9 597,387.9 597.5,387.9 598,387.9 598.5,388 599,388 599.5,388 600,388 600.5,388 601,388 601.5,388 602,388 602.5,388 603,388.1 603.5,388.1 604,388.1 604.5,388.1 605,388.1 605.5,388.1 605.9,388.1 606.4,388.1 606.9,388.1 607.4,388.1 607.9,388.1 608.4,388.1 608.9,388.2 609.4,388.2 609.9,388.2 610.4,388.2 610.9,388.2 611.4,388.2 611.9,388.2 612.4,388.2 612.9,388.2 613.4,388.2 613.9,388.2 614.4,388.2 614.9,388.2 615.4,388.2 615.9,388.3 616.4,388.3 616.9,388.3 617.4,388.3 617.8,388.3 618.3,388.3 618.8,388.3 619.3,388.3 619.8,388.3 620.3,388.3 620.8,388.3 621.3,388.3 621.8,388.3 622.3,388.3 622.8,388.3 623.3,388.3 623.8,388.3 624.3,388.3 624.8,388.3 625.3,388.3 625.8,388.3 626.3,388.3 626.8,388.4 627.3,388.4 627.8,388.4 628.3,388.4 628.8,388.4 629.3,388.4 629.7,388.4 630.2,388.4 630.7,388.4 631.2,388.4 631.7,388.4 632.2,388.4 632.7,388.4 633.2,388.4 633.7,388.4 634.2,388.4 634.7,388.4 635.2,388.4 635.7,388.4 636.2,388.4 636.7,388.4 637.2,388.4 637.7,388.4 638.2,388.4 638.7,388.4 639.2,388.4" fill="none" stroke="#f0a0a0" stroke-width="0.7"/>
<rect x="538.9" y="330.9" width="3.2" height="3.2" fill="#000000"/>
<rect x="541.9" y="335.9" width="3.2" height="3.2" fill="#000000"/>
<rect x="544.9" y="341" width="3.2" height="3.2" fill="#000000"/>
<rect x="547.9" y="347.1" width="3.2" height="3.2" fill="#000000"/>
<rect x="550.9" y="353.8" width="3.2" height="3.2" fill="#000000"/>
<rect x="553.9" y="360.2" width="3.2" height="3.2" fill="#000000"/>
<rect x="556.8" y="365.7" width="3.2" height="3.2" fill="#000000"/>
<rect x="559.8" y="370.5" width="3.2" height="3.2" fill="#000000"/>
<rect x="562.8" y="374.8" width="3.2" height="3.2" fill="#000000"/>
<rect x="565.8" y="378.1" width="3.2" height="3.2" fill="#000000"/>
<rect x="568.8" y="380.5" width="3.2" height="3.2" fill="#000000"/>
<rect x="571.8" y="382.2" width="3.2" height="3.2" fill="#000000"/>
<rect x="574.8" y="383.4" width="3.2" height="3.2" fill="#000000"/>
<rect x="577.8" y="384.3" width="3.2" height="3.2" fill="#000000"/>
<rect x="580.8" y="384.8" width="3.2" height="3.2" fill="#000000"/>
<rect x="583.8" y="385.2" width="3.2" height="3.2" fill="#000000"/>
<rect x="586.7" y="385.6" width="3.2" height="3.2" fill="#000000"/>
<rect x="589.7" y="385.9" width="3.2" height="3.2" fill="#000000"/>
<rect x="592.7" y="386.1" width="3.2" height="3.2" fill="#000000"/>
<rect x="595.7" y="386.3" width="3.2" height="3.2" fill="#000000"/>
<rect x="598.7" y="386.4" width="3.2" height="3.2" fill="#000000"/>
<rect x="601.7" y="386.5" width="3.2" height="3.2" fill="#000000"/>
<rect x="604.7" y="386.5" width="3.2" height="3.2" fill="#000000"/>
<rect x="607.7" y="386.6" width="3.2" height="3.2" fill="#000000"/>
<rect x="610.7" y="386.6" width="3.2" height="3.2" fill="#000000"/>
<rect x="613.6" y="386.6" width="3.2" height="3.2" fill="#000000"/>
<rect x="616.6" y="386.7" width="3.2" height="3.2" fill="#000000"/>
<rect x="619.6" y="386.7" width="3.2" height="3.2" fill="#000000"/>
<rect x="622.6" y="386.7" width="3.2" height="3.2" fill="#000000"/>
<rect x="625.6" y="386.8" width="3.2" height="3.2" fill="#000000"/>
<rect x="628.6" y="386.8" width="3.2" height="3.2" fill="#000000"/>
<rect x="631.6" y="386.8" width="3.2" height="3.2" fill="#000000"/>
<rect x="634.6" y="386.8" width="3.2" height="3.2" fill="#000000"/>
<rect x="637.6" y="386.8" width="3.2" height="3.2" fill="#000000"/>
<polyline points="540.5,325.3 541,325.4 541.5,325.5 542,325.7 542.5,325.8 543,325.9 543.5,326 544,326.1 544.5,326.2 545,326.3 545.5,326.4 546,326.5 546.4,326.7 546.9,326.8 547.4,327 547.9,327.3 548.4,327.5 548.9,327.7 549.4,327.9 549.9,328.2 550.4,328.4 550.9,328.7 551.4,329 551.9,329.2 552.4,329.6 552.9,329.9 553.4,330.3 553.9,330.7 554.4,331.1 554.9,331.5 555.4,331.9 555.9,332.2 556.4,332.6 556.9,333 557.4,333.4 557.9,333.9 558.3,334.3 558.8,334.9 559.3,335.4 559.8,336 560.3,336.6 560.8,337.2 561.3,337.8 561.8,338.4 562.3,339 562.8,339.6 563.3,340.2 563.8,340.9 564.3,341.6 564.8,342.3 565.3,343 565.8,343.7 566.3,344.5 566.8,345.2 567.3,346 567.8,346.8 568.3,347.7 568.8,348.5 569.3,349.4 569.8,350.2 570.2,351.1 570.7,352.1 571.2,353 571.7,354 572.2,355 572.7,356 573.2,357 573.7,358 574.2,359 574.7,360 575.2,361 575.7,362 576.2,363 576.7,364 577.2,365 577.7,366.1 578.2,367.1 578.7,368.1 579.2,369.1 579.7,370 580.2,370.8 580.7,371.6 581.2,372.4 581.7,373.1 582.1,373.8 582.6,374.5 583.1,375.2 583.6,375.8 584.1,376.4 584.6,377 585.1,377.6 585.6,378.1 586.1,378.7 586.6,379.4 587.1,380.1 587.6,380.7 588.1,381.3 588.6,381.8 589.1,382.2 589.6,382.6 590.1,383 590.6,383.3 591.1,383.6 591.6,383.9 592.1,384.2 592.6,384.5 593.1,384.7 593.6,385 594,385.2 594.5,385.4 595,385.5 595.5,385.7 596,385.8 596.5,386 597,386.1 597.5,386.2 598,386.4 598.5,386.5 599,386.6 599.5,386.7 600,386.8 600.5,386.9 601,387 601.5,387.1 602,387.2 602.5,387.3 603,387.3 603.5,387.4 604,387.4 604.5,387.5 605,387.5 605.5,387.5 605.9,387.5 606.4,387.6 606.9,387.6 607.4,387.6 607.9,387.6 608.4,387.7 608.9,387.7 609.4,387.7 609.9,387.7 610.4,387.8 610.9,387.8 611.4,387.8 611.9,387.8 612.4,387.8 612.9,387.9 613.4,387.9 613.9,387.9 614.4,387.9 614.9,387.9 615.4,388 615.9,388 616.4,388 616.9,388 617.4,388 617.8,388 618.3,388.1 618.8,388.1 619.3,388.1 619.8,388.1 620.3,388.1 620.8,388.1 621.3,388.1 621.8,388.2 622.3,388.2 622.8,388.2 623.3,388.2 623.8,388.2 624.3,388.2 624.8,388.2 625.3,388.2 625.8,388.2 626.3,388.3 626.8,388.3 627.3,388.3 627.8,388.3 628.3,388.3 628.8,388.3 629.3,388.3 629.7,388.3 630.2,388.3 630.7,388.3 631.2,388.3 631.7,388.3 632.2,388.3 632.7,388.4 633.2,388.4 633.7,388.4 634.2,388.4 634.7,388.4 635.2,388.4 635.7,388.4 636.2,388.4 636.7,388.4 637.2,388.4 637.7,388.4 638.2,388.4 638.7,388.4 639.2,388.4" fill="none" stroke="#f0a0a0" stroke-width="0.7"/>
<rect x="538.9" y="323.7" width="3.2" height="3.2" fill="#000000"/>
<rect x="541.9" y="324.4" width="3.2" height="3.2" fill="#000000"/>
<rect x="544.9" y="325.1" width="3.2" height="3.2" fill="#000000"/>
<rect x="547.9" y="326.4" width="3.2" height="3.2" fill="#000000"/>
<rect x="550.9" y="328" width="3.2" height="3.2" fill="#000000"/>
<rect x="553.9" y="330.3" width="3.2" height="3.2" fill="#000000"/>
<rect x="556.8" y="332.8" width="3.2" height="3.2" fill="#000000"/>
<rect x="559.8" y="336.3" width="3.2" height="3.2" fill="#000000"/>
<rect x="562.8" y="340.1" width="3.2" height="3.2" fill="#000000"/>
<rect x="565.8" y="344.7" width="3.2" height="3.2" fill="#000000"/>
<rect x="568.8" y="349.8" width="3.2" height="3.2" fill="#000000"/>
<rect x="571.8" y="355.8" width="3.2" height="3.2" fill="#000000"/>
<rect x="574.8" y="361.8" width="3.2" height="3.2" fill="#000000"/>
<rect x="577.8" y="367.9" width="3.2" height="3.2" fill="#000000"/>
<rect x="580.8" y="372.5" width="3.2" height="3.2" fill="#000000"/>
<rect x="583.8" y="376.2" width="3.2" height="3.2" fill="#000000"/>
<rect x="586.7" y="380" width="3.2" height="3.2" fill="#000000"/>
<rect x="589.7" y="382.2" width="3.2" height="3.2" fill="#000000"/>
<rect x="592.7" y="383.7" width="3.2" height="3.2" fill="#000000"/>
<rect x="595.7" y="384.6" width="3.2" height="3.2" fill="#000000"/>
<rect x="598.7" y="385.3" width="3.2" height="3.2" fill="#000000"/>
<rect x="601.7" y="385.8" width="3.2" height="3.2" fill="#000000"/>
<rect x="604.7" y="386" width="3.2" height="3.2" fill="#000000"/>
<rect x="607.7" y="386.1" width="3.2" height="3.2" fill="#000000"/>
<rect x="610.7" y="386.2" width="3.2" height="3.2" fill="#000000"/>
<rect x="613.6" y="386.4" width="3.2" height="3.2" fill="#000000"/>
<rect x="616.6" y="386.5" width="3.2" height="3.2" fill="#000000"/>
<rect x="619.6" y="386.5" width="3.2" height="3.2" fill="#000000"/>
<rect x="622.6" y="386.6" width="3.2" height="3.2" fill="#000000"/>
<rect x="625.6" y="386.7" width="3.2" height="3.2" fill="#000000"/>
<rect x="628.6" y="386.7" width="3.2" height="3.2" fill="#000000"/>
<rect x="631.6" y="386.8" width="3.2" height="3.2" fill="#000000"/>
<rect x="634.6" y="386.8" width="3.2" height="3.2" fill="#000000"/>
<rect x="637.6" y="386.8" width="3.2" height="3.2" fill="#000000"/>
<polyline points="543.4,344.5 543.9,346 544.4,347.7 544.8,349.6 545.3,351.6 545.8,353.7 546.3,355.9 546.8,358.2 547.2,360.8 547.7,363.6 548.2,366.6 548.7,369.7 549.2,372.8 549.7,375.8 550.1,378.9 550.6,382 551.1,385.1 551.6,388.2 552.1,391.3 552.5,394.3 553,397.4 553.5,400.5 554,403.6 554.5,406.5 554.9,409.4 555.4,412.1 555.9,414.7 556.4,417.3 556.9,419.7 557.3,422.2 557.8,424.5 558.3,426.8 558.8,429.1 559.3,431.3 559.7,433.5 560.2,435.6 560.7,437.7 561.2,439.8 561.7,441.9 562.2,444 562.6,446.2 563.1,448.3 563.6,450.4 564.1,452.3 564.6,454.1 565,455.8 565.5,457.3 566,458.8 566.5,460.2 567,461.5 567.4,462.8 567.9,464.1 568.4,465.4 568.9,466.7 569.4,467.9 569.8,469 570.3,470.1 570.8,471.2 571.3,472.2 571.8,473.2 572.2,474.2 572.7,475.1 573.2,475.9 573.7,476.6 574.2,477.3 574.7,477.9 575.1,478.4 575.6,479 576.1,479.4 576.6,479.9 577.1,480.3 577.5,480.7 578,481.1 578.5,481.5 579,481.9 579.5,482.3 579.9,482.6 580.4,483 580.9,483.4 581.4,483.7 581.9,484 582.3,484.3 582.8,484.6 583.3,484.8 583.8,485.1 584.3,485.3 584.7,485.4 585.2,485.6 585.7,485.7 586.2,485.8 586.7,485.9 587.2,486 587.6,486.2 588.1,486.3 588.6,486.4 589.1,486.5 589.6,486.6 590,486.7 590.5,486.8 591,486.8 591.5,486.9 592,487 592.4,487.1 592.9,487.2 593.4,487.2 593.9,487.3 594.4,487.4 594.8,487.4 595.3,487.5 595.8,487.5 596.3,487.6 596.8,487.6 597.3,487.7 597.7,487.7 598.2,487.7 598.7,487.7 599.2,487.8 599.7,487.8 600.1,487.8 600.6,487.8 601.1,487.8 601.6,487.8 602.1,487.9 602.5,487.9 603,487.9 603.5,487.9 604,487.9 604.5,487.9 604.9,487.9 605.4,487.9 605.9,487.9 606.4,488 606.9,488 607.3,488 607.8,488 608.3,488 608.8,488 609.3,488 609.8,488 610.2,488 610.7,488 611.2,488 611.7,488.1 612.2,488.1 612.6,488.1 613.1,488.1 613.6,488.1 614.1,488.1 614.6,488.1 615,488.1 615.5,488.1 616,488.1 616.5,488.1 617,488.1 617.4,488.1 617.9,488.2 618.4,488.2 618.9,488.2 619.4,488.2 619.8,488.2 620.3,488.2 620.8,488.2 621.3,488.2 621.8,488.2 622.3,488.2 622.7,488.2 623.2,488.2 623.7,488.2 624.2,488.2 624.7,488.2 625.1,488.2 625.6,488.2 626.1,488.2 626.6,488.2 627.1,488.3 627.5,488.3 628,488.3 628.5,488.3 629,488.3 629.5,488.3 629.9,488.3 630.4,488.3 630.9,488.3 631.4,488.3 631.9,488.3 632.3,488.3 632.8,488.3 633.3,488.3 633.8,488.3 634.3,488.3 634.8,488.3 635.2,488.3 635.7,488.3 636.2,488.3 636.7,488.3 637.2,488.3 637.6,488.3 638.1,488.3 638.6,488.3 639.1,488.3" fill="none" stroke="#707880" stroke-width="0.7"/>
<circle cx="543.4" cy="344.5" r="1.85" fill="#dc0a0a"/>
<circle cx="546.4" cy="356.4" r="1.85" fill="#dc0a0a"/>
<circle cx="549.4" cy="374.1" r="1.85" fill="#dc0a0a"/>
<circle cx="552.4" cy="393.3" r="1.85" fill="#dc0a0a"/>
<circle cx="555.4" cy="411.8" r="1.85" fill="#dc0a0a"/>
<circle cx="558.4" cy="427.1" r="1.85" fill="#dc0a0a"/>
<circle cx="561.3" cy="440.5" r="1.85" fill="#dc0a0a"/>
<circle cx="564.3" cy="453.3" r="1.85" fill="#dc0a0a"/>
<circle cx="567.3" cy="462.5" r="1.85" fill="#dc0a0a"/>
<circle cx="570.3" cy="470.1" r="1.85" fill="#dc0a0a"/>
<circle cx="573.3" cy="476.1" r="1.85" fill="#dc0a0a"/>
<circle cx="576.3" cy="479.6" r="1.85" fill="#dc0a0a"/>
<circle cx="579.3" cy="482.1" r="1.85" fill="#dc0a0a"/>
<circle cx="582.3" cy="484.3" r="1.85" fill="#dc0a0a"/>
<circle cx="585.3" cy="485.6" r="1.85" fill="#dc0a0a"/>
<circle cx="588.2" cy="486.3" r="1.85" fill="#dc0a0a"/>
<circle cx="591.2" cy="486.9" r="1.85" fill="#dc0a0a"/>
<circle cx="594.2" cy="487.3" r="1.85" fill="#dc0a0a"/>
<circle cx="597.2" cy="487.7" r="1.85" fill="#dc0a0a"/>
<circle cx="600.2" cy="487.8" r="1.85" fill="#dc0a0a"/>
<circle cx="603.2" cy="487.9" r="1.85" fill="#dc0a0a"/>
<circle cx="606.2" cy="487.9" r="1.85" fill="#dc0a0a"/>
<circle cx="609.2" cy="488" r="1.85" fill="#dc0a0a"/>
<circle cx="612.2" cy="488.1" r="1.85" fill="#dc0a0a"/>
<circle cx="615.2" cy="488.1" r="1.85" fill="#dc0a0a"/>
<circle cx="618.1" cy="488.2" r="1.85" fill="#dc0a0a"/>
<circle cx="621.1" cy="488.2" r="1.85" fill="#dc0a0a"/>
<circle cx="624.1" cy="488.2" r="1.85" fill="#dc0a0a"/>
<circle cx="627.1" cy="488.3" r="1.85" fill="#dc0a0a"/>
<circle cx="630.1" cy="488.3" r="1.85" fill="#dc0a0a"/>
<circle cx="633.1" cy="488.3" r="1.85" fill="#dc0a0a"/>
<circle cx="636.1" cy="488.3" r="1.85" fill="#dc0a0a"/>
<circle cx="639.1" cy="488.3" r="1.85" fill="#dc0a0a"/>
<polyline points="546.4,321.5 546.9,321.8 547.3,322.1 547.8,322.3 548.3,322.6 548.7,322.9 549.2,323.2 549.7,323.5 550.1,323.8 550.6,324.1 551.1,324.4 551.5,324.7 552,325.1 552.5,325.5 552.9,325.9 553.4,326.5 553.9,327.1 554.3,327.7 554.8,328.3 555.2,328.9 555.7,329.5 556.2,330 556.6,330.5 557.1,331 557.6,331.5 558,332.1 558.5,332.7 559,333.4 559.4,334.1 559.9,334.9 560.4,335.8 560.8,336.6 561.3,337.5 561.8,338.4 562.2,339.4 562.7,340.4 563.2,341.5 563.6,342.5 564.1,343.7 564.6,344.8 565,346 565.5,347.1 566,348.4 566.4,349.6 566.9,351 567.4,352.4 567.8,354 568.3,355.7 568.8,357.6 569.2,359.6 569.7,361.6 570.2,363.7 570.6,365.8 571.1,368 571.6,370.2 572,372.5 572.5,374.9 572.9,377.3 573.4,379.8 573.9,382.4 574.3,385.1 574.8,387.9 575.3,390.8 575.7,393.7 576.2,396.6 576.7,399.5 577.1,402.5 577.6,405.5 578.1,408.5 578.5,411.5 579,414.6 579.5,417.6 579.9,420.7 580.4,423.9 580.9,427.1 581.3,430.2 581.8,433.1 582.3,435.7 582.7,438.1 583.2,440.4 583.7,442.5 584.1,444.5 584.6,446.5 585.1,448.3 585.5,450.2 586,452 586.5,453.8 586.9,455.5 587.4,457.1 587.9,458.7 588.3,460.2 588.8,461.7 589.3,463 589.7,464.4 590.2,465.7 590.6,466.9 591.1,468 591.6,469.2 592,470.2 592.5,471.3 593,472.3 593.4,473.2 593.9,474.1 594.4,475 594.8,475.8 595.3,476.6 595.8,477.3 596.2,478 596.7,478.7 597.2,479.3 597.6,479.9 598.1,480.5 598.6,481.1 599,481.6 599.5,482.2 600,482.7 600.4,483.2 600.9,483.6 601.4,484 601.8,484.2 602.3,484.5 602.8,484.7 603.2,484.9 603.7,485.1 604.2,485.3 604.6,485.5 605.1,485.7 605.6,485.9 606,486 606.5,486.2 607,486.3 607.4,486.5 607.9,486.6 608.3,486.7 608.8,486.8 609.3,486.9 609.7,487 610.2,487 610.7,487.1 611.1,487.2 611.6,487.2 612.1,487.3 612.5,487.4 613,487.4 613.5,487.5 613.9,487.5 614.4,487.6 614.9,487.6 615.3,487.7 615.8,487.7 616.3,487.8 616.7,487.8 617.2,487.9 617.7,487.9 618.1,487.9 618.6,487.9 619.1,488 619.5,488 620,488 620.5,488 620.9,488 621.4,488 621.9,488.1 622.3,488.1 622.8,488.1 623.3,488.1 623.7,488.1 624.2,488.1 624.7,488.1 625.1,488.1 625.6,488.1 626,488.1 626.5,488.2 627,488.2 627.4,488.2 627.9,488.2 628.4,488.2 628.8,488.2 629.3,488.2 629.8,488.2 630.2,488.2 630.7,488.2 631.2,488.2 631.6,488.2 632.1,488.3 632.6,488.3 633,488.3 633.5,488.3 634,488.3 634.4,488.3 634.9,488.3 635.4,488.3 635.8,488.3 636.3,488.3 636.8,488.3 637.2,488.3 637.7,488.3 638.2,488.3 638.6,488.3 639.1,488.3" fill="none" stroke="#707880" stroke-width="0.7"/>
<circle cx="546.4" cy="321.5" r="1.85" fill="#dc0a0a"/>
<circle cx="549.4" cy="323.4" r="1.85" fill="#dc0a0a"/>
<circle cx="552.4" cy="325.4" r="1.85" fill="#dc0a0a"/>
<circle cx="555.4" cy="329.1" r="1.85" fill="#dc0a0a"/>
<circle cx="558.4" cy="332.5" r="1.85" fill="#dc0a0a"/>
<circle cx="561.4" cy="337.6" r="1.85" fill="#dc0a0a"/>
<circle cx="564.3" cy="344.3" r="1.85" fill="#dc0a0a"/>
<circle cx="567.3" cy="352.3" r="1.85" fill="#dc0a0a"/>
<circle cx="570.3" cy="364.5" r="1.85" fill="#dc0a0a"/>
<circle cx="573.3" cy="379.3" r="1.85" fill="#dc0a0a"/>
<circle cx="576.3" cy="397.1" r="1.85" fill="#dc0a0a"/>
<circle cx="579.3" cy="416.4" r="1.85" fill="#dc0a0a"/>
<circle cx="582.3" cy="435.8" r="1.85" fill="#dc0a0a"/>
<circle cx="585.3" cy="449.2" r="1.85" fill="#dc0a0a"/>
<circle cx="588.3" cy="460" r="1.85" fill="#dc0a0a"/>
<circle cx="591.2" cy="468.4" r="1.85" fill="#dc0a0a"/>
<circle cx="594.2" cy="474.7" r="1.85" fill="#dc0a0a"/>
<circle cx="597.2" cy="479.4" r="1.85" fill="#dc0a0a"/>
<circle cx="600.2" cy="483" r="1.85" fill="#dc0a0a"/>
<circle cx="603.2" cy="484.9" r="1.85" fill="#dc0a0a"/>
<circle cx="606.2" cy="486.1" r="1.85" fill="#dc0a0a"/>
<circle cx="609.2" cy="486.9" r="1.85" fill="#dc0a0a"/>
<circle cx="612.2" cy="487.3" r="1.85" fill="#dc0a0a"/>
<circle cx="615.2" cy="487.7" r="1.85" fill="#dc0a0a"/>
<circle cx="618.2" cy="487.9" r="1.85" fill="#dc0a0a"/>
<circle cx="621.1" cy="488" r="1.85" fill="#dc0a0a"/>
<circle cx="624.1" cy="488.1" r="1.85" fill="#dc0a0a"/>
<circle cx="627.1" cy="488.2" r="1.85" fill="#dc0a0a"/>
<circle cx="630.1" cy="488.2" r="1.85" fill="#dc0a0a"/>
<circle cx="633.1" cy="488.3" r="1.85" fill="#dc0a0a"/>
<circle cx="636.1" cy="488.3" r="1.85" fill="#dc0a0a"/>
<circle cx="639.1" cy="488.3" r="1.85" fill="#dc0a0a"/>
<rect x="530.2" y="263.7" width="141.6" height="262.2" fill="none" stroke="#505050" stroke-width="1.3"/>
<line x1="526.8" y1="525.7" x2="530.2" y2="525.7" stroke="#505050" stroke-width="1.1"/>
<text x="525.5" y="528.3" font-size="9.8" text-anchor="end" fill="#222" font-family='"Liberation Sans", sans-serif' stroke="#222" stroke-width="0.22" >15</text>
<line x1="528.4" y1="516" x2="530.2" y2="516" stroke="#505050" stroke-width="1.1"/>
<line x1="526.8" y1="506.3" x2="530.2" y2="506.3" stroke="#505050" stroke-width="1.1"/>
<text x="525.5" y="508.9" font-size="9.8" text-anchor="end" fill="#222" font-family='"Liberation Sans", sans-serif' stroke="#222" stroke-width="0.22" >20</text>
<line x1="528.4" y1="496.6" x2="530.2" y2="496.6" stroke="#505050" stroke-width="1.1"/>
<line x1="526.8" y1="487" x2="530.2" y2="487" stroke="#505050" stroke-width="1.1"/>
<text x="525.5" y="489.6" font-size="9.8" text-anchor="end" fill="#222" font-family='"Liberation Sans", sans-serif' stroke="#222" stroke-width="0.22" >25</text>
<line x1="528.4" y1="477.3" x2="530.2" y2="477.3" stroke="#505050" stroke-width="1.1"/>
<line x1="526.8" y1="467.6" x2="530.2" y2="467.6" stroke="#505050" stroke-width="1.1"/>
<text x="525.5" y="470.2" font-size="9.8" text-anchor="end" fill="#222" font-family='"Liberation Sans", sans-serif' stroke="#222" stroke-width="0.22" >30</text>
<line x1="528.4" y1="457.9" x2="530.2" y2="457.9" stroke="#505050" stroke-width="1.1"/>
<line x1="526.8" y1="448.2" x2="530.2" y2="448.2" stroke="#505050" stroke-width="1.1"/>
<text x="525.5" y="450.8" font-size="9.8" text-anchor="end" fill="#222" font-family='"Liberation Sans", sans-serif' stroke="#222" stroke-width="0.22" >35</text>
<line x1="528.4" y1="438.6" x2="530.2" y2="438.6" stroke="#505050" stroke-width="1.1"/>
<line x1="526.8" y1="428.9" x2="530.2" y2="428.9" stroke="#505050" stroke-width="1.1"/>
<text x="525.5" y="431.5" font-size="9.8" text-anchor="end" fill="#222" font-family='"Liberation Sans", sans-serif' stroke="#222" stroke-width="0.22" >40</text>
<line x1="528.4" y1="419.2" x2="530.2" y2="419.2" stroke="#505050" stroke-width="1.1"/>
<line x1="526.8" y1="409.5" x2="530.2" y2="409.5" stroke="#505050" stroke-width="1.1"/>
<text x="525.5" y="412.1" font-size="9.8" text-anchor="end" fill="#222" font-family='"Liberation Sans", sans-serif' stroke="#222" stroke-width="0.22" >45</text>
<line x1="528.4" y1="399.8" x2="530.2" y2="399.8" stroke="#505050" stroke-width="1.1"/>
<line x1="526.8" y1="390.2" x2="530.2" y2="390.2" stroke="#505050" stroke-width="1.1"/>
<text x="525.5" y="392.8" font-size="9.8" text-anchor="end" fill="#222" font-family='"Liberation Sans", sans-serif' stroke="#222" stroke-width="0.22" >50</text>
<line x1="528.4" y1="380.5" x2="530.2" y2="380.5" stroke="#505050" stroke-width="1.1"/>
<line x1="526.8" y1="370.8" x2="530.2" y2="370.8" stroke="#505050" stroke-width="1.1"/>
<text x="525.5" y="373.4" font-size="9.8" text-anchor="end" fill="#222" font-family='"Liberation Sans", sans-serif' stroke="#222" stroke-width="0.22" >55</text>
<line x1="528.4" y1="361.1" x2="530.2" y2="361.1" stroke="#505050" stroke-width="1.1"/>
<line x1="526.8" y1="351.4" x2="530.2" y2="351.4" stroke="#505050" stroke-width="1.1"/>
<text x="525.5" y="354" font-size="9.8" text-anchor="end" fill="#222" font-family='"Liberation Sans", sans-serif' stroke="#222" stroke-width="0.22" >60</text>
<line x1="528.4" y1="341.8" x2="530.2" y2="341.8" stroke="#505050" stroke-width="1.1"/>
<line x1="526.8" y1="332.1" x2="530.2" y2="332.1" stroke="#505050" stroke-width="1.1"/>
<text x="525.5" y="334.7" font-size="9.8" text-anchor="end" fill="#222" font-family='"Liberation Sans", sans-serif' stroke="#222" stroke-width="0.22" >65</text>
<line x1="528.4" y1="322.4" x2="530.2" y2="322.4" stroke="#505050" stroke-width="1.1"/>
<line x1="526.8" y1="312.7" x2="530.2" y2="312.7" stroke="#505050" stroke-width="1.1"/>
<text x="525.5" y="315.3" font-size="9.8" text-anchor="end" fill="#222" font-family='"Liberation Sans", sans-serif' stroke="#222" stroke-width="0.22" >70</text>
<line x1="528.4" y1="303" x2="530.2" y2="303" stroke="#505050" stroke-width="1.1"/>
<line x1="526.8" y1="293.4" x2="530.2" y2="293.4" stroke="#505050" stroke-width="1.1"/>
<text x="525.5" y="296" font-size="9.8" text-anchor="end" fill="#222" font-family='"Liberation Sans", sans-serif' stroke="#222" stroke-width="0.22" >75</text>
<line x1="528.4" y1="283.7" x2="530.2" y2="283.7" stroke="#505050" stroke-width="1.1"/>
<line x1="526.8" y1="274" x2="530.2" y2="274" stroke="#505050" stroke-width="1.1"/>
<text x="525.5" y="276.6" font-size="9.8" text-anchor="end" fill="#222" font-family='"Liberation Sans", sans-serif' stroke="#222" stroke-width="0.22" >80</text>
<line x1="537.2" y1="525.9" x2="537.2" y2="528.7" stroke="#505050" stroke-width="1.1"/>
<text x="537.2" y="538.4" font-size="9.8" text-anchor="middle" fill="#222" font-family='"Liberation Sans", sans-serif' stroke="#222" stroke-width="0.22" >20</text>
<line x1="552.2" y1="525.9" x2="552.2" y2="527.5" stroke="#505050" stroke-width="1.1"/>
<line x1="567.1" y1="525.9" x2="567.1" y2="528.7" stroke="#505050" stroke-width="1.1"/>
<text x="567.1" y="538.4" font-size="9.8" text-anchor="middle" fill="#222" font-family='"Liberation Sans", sans-serif' stroke="#222" stroke-width="0.22" >40</text>
<line x1="582.1" y1="525.9" x2="582.1" y2="527.5" stroke="#505050" stroke-width="1.1"/>
<line x1="597" y1="525.9" x2="597" y2="528.7" stroke="#505050" stroke-width="1.1"/>
<text x="597" y="538.4" font-size="9.8" text-anchor="middle" fill="#222" font-family='"Liberation Sans", sans-serif' stroke="#222" stroke-width="0.22" >60</text>
<line x1="612" y1="525.9" x2="612" y2="527.5" stroke="#505050" stroke-width="1.1"/>
<line x1="626.9" y1="525.9" x2="626.9" y2="528.7" stroke="#505050" stroke-width="1.1"/>
<text x="626.9" y="538.4" font-size="9.8" text-anchor="middle" fill="#222" font-family='"Liberation Sans", sans-serif' stroke="#222" stroke-width="0.22" >80</text>
<line x1="641.9" y1="525.9" x2="641.9" y2="527.5" stroke="#505050" stroke-width="1.1"/>
<line x1="656.8" y1="525.9" x2="656.8" y2="528.7" stroke="#505050" stroke-width="1.1"/>
<text x="656.8" y="538.4" font-size="9.8" text-anchor="middle" fill="#222" font-family='"Liberation Sans", sans-serif' stroke="#222" stroke-width="0.22" >100</text>
<text x="587.1" y="548.4" font-size="11" fill="#1a1a1a" stroke="#1a1a1a" stroke-width="0.22" font-family='"Liberation Sans", sans-serif'>T</text>
<text x="594.1" y="548.9" font-size="11.2" fill="#333" stroke="#333" stroke-width="0.15" font-family='"Liberation Sans", sans-serif'>(</text>
<circle cx="599.9" cy="541.1" r="1" fill="none" stroke="#333" stroke-width="0.6"/>
<path d="M606.69 541.79 A3.58 3.96 0 1 0 606.69 547.09" fill="none" stroke="#333" stroke-width="0.9"/>
<text x="609.2" y="548.9" font-size="11.2" fill="#333" stroke="#333" stroke-width="0.15" font-family='"Liberation Sans", sans-serif'>)</text>
<text x="531.9" y="282.3" font-size="23" text-anchor="start" fill="#000" font-family='"Liberation Sans", sans-serif' stroke="#000" stroke-width="0.22" >(f)</text>
<line x1="597.2" y1="269.9" x2="615.2" y2="269.9" stroke="#f0a0a0" stroke-width="0.7"/>
<rect x="604.1" y="267.2" width="5.4" height="5.4" fill="#000"/>
<text x="618.8" y="272.9" font-size="8.3" text-anchor="start" fill="#151515" font-family='"Liberation Sans", sans-serif' stroke="#151515" stroke-width="0.22" >W-2%-470</text>
<line x1="597.2" y1="280" x2="615.2" y2="280" stroke="#707880" stroke-width="0.7"/>
<circle cx="606.8" cy="280" r="3.2" fill="#ff0000"/>
<text x="618.8" y="283" font-size="8.3" text-anchor="start" fill="#151515" font-family='"Liberation Sans", sans-serif' stroke="#151515" stroke-width="0.22" >W-2%-500</text>
<path d="M591.5 374.5 L595.1 366.9 L598.7 374.5 Z" fill="none" stroke="#111" stroke-width="0.9" stroke-linejoin="miter"/>
<text x="599.9" y="374.8" font-size="15.3" text-anchor="start" fill="#111" font-family='"Liberation Sans", sans-serif' stroke="#111" stroke-width="0.35" >Tr=16.5%</text>
<path d="M597.8 475.7 L601.4 468.1 L605 475.7 Z" fill="none" stroke="#d42020" stroke-width="0.9" stroke-linejoin="miter"/>
<text x="604.2" y="476" font-size="15.3" text-anchor="start" fill="#d42020" font-family='"Liberation Sans", sans-serif' stroke="#d42020" stroke-width="0.35" >Tr=43.1%</text>
</svg>
</body></html>
